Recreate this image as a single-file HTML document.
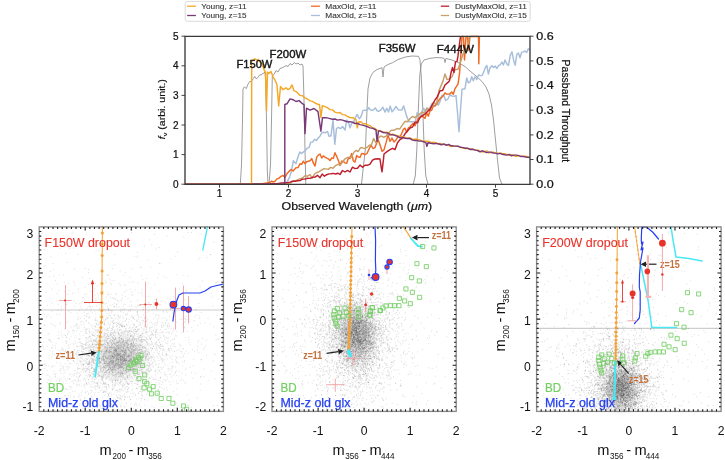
<!DOCTYPE html>
<html><head><meta charset="utf-8"><style>
html,body{margin:0;padding:0;background:#fff;width:725px;height:460px;overflow:hidden}
svg{display:block;font-family:"Liberation Sans",sans-serif;will-change:transform}
</style></head><body>
<svg width="725" height="460" viewBox="0 0 725 460">
<rect width="725" height="460" fill="#fff"/>
<rect x="185.2" y="1.4" width="345" height="19.9" rx="2" fill="#fff" stroke="#d6d6d6" stroke-width="0.9"/>
<path d="M187.1 6.2H195.9" stroke="#f5a828" stroke-width="1.3"/>
<text x="201.2" y="8.8" font-size="7.6" fill="#333" stroke="#333" stroke-width="0.1" textLength="45.4" lengthAdjust="spacingAndGlyphs">Young, z=11</text>
<path d="M187.1 15.5H195.9" stroke="#7a3a78" stroke-width="1.3"/>
<text x="201.2" y="18.1" font-size="7.6" fill="#333" stroke="#333" stroke-width="0.1" textLength="45.4" lengthAdjust="spacingAndGlyphs">Young, z=15</text>
<path d="M311.0 6.2H319.9" stroke="#ee6a25" stroke-width="1.3"/>
<text x="325.3" y="8.8" font-size="7.6" fill="#333" stroke="#333" stroke-width="0.1" textLength="51.2" lengthAdjust="spacingAndGlyphs">MaxOld, z=11</text>
<path d="M311.0 15.5H319.9" stroke="#a7bedb" stroke-width="1.3"/>
<text x="325.3" y="18.1" font-size="7.6" fill="#333" stroke="#333" stroke-width="0.1" textLength="51.2" lengthAdjust="spacingAndGlyphs">MaxOld, z=15</text>
<path d="M440.8 6.2H449.2" stroke="#bd1f2d" stroke-width="1.3"/>
<text x="455.0" y="8.8" font-size="7.6" fill="#333" stroke="#333" stroke-width="0.1" textLength="71.8" lengthAdjust="spacingAndGlyphs">DustyMaxOld, z=11</text>
<path d="M440.8 15.5H449.2" stroke="#c8a068" stroke-width="1.3"/>
<text x="455.0" y="18.1" font-size="7.6" fill="#333" stroke="#333" stroke-width="0.1" textLength="71.8" lengthAdjust="spacingAndGlyphs">DustyMaxOld, z=15</text>
<path d="M240.3 184.2 241.5 165 242.5 120 243 89 244.3 86.9 246.4 88.6 247.7 84.7 249.9 81.2 251.2 82.1 252.1 80.3 253.4 78.6 254.7 76.4 256.4 79 258.2 76.9 259.9 74.7 261.2 75.1 262.5 73.4 264.3 73 264.9 71.8 265.5 78 266.5 120 267.3 170 268 184.2" stroke="#8c8c8c" stroke-width="0.85" fill="none"/>
<path d="M269 184.2 270.5 165 271.5 120 272.3 76 274 74.5 276 70.5 278 72 280 68.5 283 67.5 286 65.5 288 66.5 290 63.5 292 65 294.3 62.6 296 64 298 63 300 65 302 64 303 66 304 100 305 150 305.8 184.2" stroke="#8c8c8c" stroke-width="0.85" fill="none"/>
<path d="M361.5 184.2 363 170 365.5 147.6 367 110 368 89 370 78 372.8 72.6 377 69.5 382 67.7 383 77 384 67 388 64.5 392.4 62.8 398 59.5 405.4 57 412 56 418.5 56.3 420 60 421.2 75 422.8 110 424.2 150 425.8 176 428 184.2" stroke="#8c8c8c" stroke-width="0.85" fill="none"/>
<path d="M413.2 184.2 415.3 176 416.8 150 418.3 110 419.8 75 421.3 64 424 60 430 58.3 436 57.6 442 57.8 444.2 58.5 445 62.5 446 58.5 452 60 458 62.5 465 66.5 470 71 476 76 482 81.5 486 87 489 94 491.5 105 493.5 120 495.5 140 497.5 160 499.5 178 502 184.2" stroke="#8c8c8c" stroke-width="0.85" fill="none"/>
<path d="M185 184.3 186.6 184.3 188.2 184.3 189.8 184.3 191.4 184.3 193 184.3 194.6 184.3 196.2 184.3 197.8 184.3 199.4 184.3 201 184.3 202.6 184.3 204.2 184.3 205.8 184.3 207.4 184.3 209 184.3 210.7 184.3 212.3 184.3 213.9 184.3 215.5 184.3 217.1 184.3 218.7 184.3 220.3 184.3 221.9 184.3 223.5 184.3 225.1 184.3 226.7 184.3 228.3 184.3 229.9 184.3 231.5 184.3 233.1 184.3 234.7 184.3 236.3 184.3 237.9 184.3 239.5 184.3 241.1 184.3 242.7 184.3 244.3 184.3 245.9 184.3 247.5 184.3 249.1 184.3 250.7 184.3 252.3 184.3 253.9 184.3 255.5 184.3 257.1 184.3 258.7 184.3 260.3 184.3 262 184.3 263.6 184.3 265.2 184.3 266.8 184.3 268.4 184.3 270 184.3 271.6 184.3 273.2 184.3 274.8 184.3 276.4 184.3 278 184.3 279.6 184.3 281.2 184.3 282.8 184.3 284.4 184.3 286 184.3 287.5 181.2 289.5 177.4 291.5 171 293.3 160.8 296 163.6 298 156.7 299.8 152 301.6 153.4 303.5 151.9 305.3 150.9 307.1 148.1 309 147.6 310.9 142.1 312.7 142 314.5 139.3 316.4 140.5 318.2 138 320 136.2 321.9 132.7 323.8 132.3 325.6 132.7 327.5 131.5 329.2 136.4 331 135.9 333 120.1 334.8 144.3 336.5 128.5 338.4 127.3 340.4 128.6 342.7 126.6 345 130.1 346.7 120.1 348.3 121.6 350 127.9 351.7 123.2 353.3 122.6 355 118.5 357.1 114.4 359.3 118.8 361.1 116.5 363 110.4 365 110.3 367 110.4 368.7 107.7 370.3 109.9 372 110.3 373.6 109.8 375.3 107.9 377 110.7 378.6 111.3 380.7 110.1 382.9 107.2 385 112.1 386.8 108.3 388.5 112 390.2 106.1 392 111.7 394 109.5 396 106.4 398 109.7 399.9 110.1 401.8 110.1 403.7 105.9 406.6 116.1 409 121.8 411.4 121.8 413.3 121.9 415.3 121.5 417.2 112.6 418.8 116.3 420.4 117.4 422 111.1 423.6 108.2 425.3 111.3 426.9 108.4 428.6 110.4 430.3 106.9 432 103.7 435 106.3 436.7 103.4 438.3 105.1 440 101.6 441.9 95.2 443.8 95.5 445.7 100.5 447.8 99.2 449.9 94.8 452 96 454 96.3 456 95.4 457.5 112.5 459 131.7 460.5 109.7 462 89.2 465 88.8 466.7 77.9 468.3 82.8 470 82.1 471.7 76.8 473.3 80.8 475 76.8 476.8 79.5 478.5 75 480.2 75.6 482 75.5 483.6 72.4 485.2 68 486.8 65.4 488.4 74.1 490 68 491.8 65.7 493.5 67.6 495.2 66 497 68.5 498.6 65.5 500.2 64.8 501.8 62.1 503.4 65 505 60 506.8 63.9 508.5 65.4 510.2 55.6 512 51.8 513.6 60.2 515.2 65.2 516.8 54.3 518.4 53 520 57.7 521.7 52.2 523.3 51.9 525 51 526.7 52.5 528.3 48.8 530 49.8" stroke="#a7bedb" stroke-width="1.45" fill="none" stroke-linejoin="round"/>
<path d="M185 184.3 186.6 184.3 188.2 184.3 189.9 184.3 191.5 184.3 193.1 184.3 194.8 184.3 196.4 184.3 198 184.3 199.6 184.3 201.2 184.3 202.9 184.3 204.5 184.3 206.1 184.3 207.8 184.3 209.4 184.3 211 184.3 212.6 184.3 214.2 184.3 215.9 184.3 217.5 184.3 219.1 184.3 220.8 184.3 222.4 184.3 224 184.3 225.6 184.3 227.2 184.3 228.9 184.3 230.5 184.3 232.1 184.3 233.8 184.3 235.4 184.3 237 184.3 238.6 184.3 240.2 184.3 241.9 184.3 243.5 184.3 245.1 184.3 246.8 184.3 248.4 184.3 250 184.3 251.7 184.3 253.4 184.3 255.1 183.9 256.9 183.9 258.6 183.8 260.3 183.7 262 183.6 263.6 183.4 265.2 183.2 266.8 183 268.4 182.6 270 182.4 271.7 181.1 273.3 182 275 181.3 277 178.9 279 178.3 281 176.3 283 175.5 285 177.3 287 173.7 289 171.4 291 169.5 293 170.9 296 167.8 298 167.6 300 163.8 301.7 164.3 303.3 161.2 305 163.7 306.7 161.7 308.3 161.3 310 160.8 311.7 158.6 313.3 162.9 315 166.1 316.7 157.1 318.3 155.2 320 154 321.7 158 323.3 155.9 325 157.2 326.7 158.1 328.3 158.8 330 160.6 331.7 158 333.3 158.4 335 152.7 336.7 156.5 338.3 160.2 340 165.6 341.7 161.1 343.3 161.2 345 162.9 346.7 163.3 348.3 158.2 350 158.6 351.7 153.6 353.3 160.9 355 162.1 356.7 155.5 358.3 157 360 157.4 361.7 153.5 363.3 153.7 365 154.7 367 153.5 369 149.2 371 145 373 148.5 375 147.6 378 139.6 380 144.8 382 151.3 384 149.9 386 142.9 388 135.1 390 141.4 392 138.1 394 142 396 140 398 136.3 400 136.6 401.7 133.6 403.3 129.4 405 128.2 406.7 132.2 408.3 128 410 126.8 411.7 124.8 413.3 123.3 415 125.8 416.7 121.8 418.3 118.5 420 117.7 421.7 115.5 423.3 117 425 118.3 426.7 113 428.3 116.2 430 110.7 431.7 110.3 433.3 106.3 435 105.6 436.7 104.1 438.3 101.1 440 98.6 441.7 97.3 443.3 95.7 445 92.9 446.7 94.1 448.3 94.1 450 93.8 451.7 92 453.3 94.2 455 88.6 458 84.1 459.5 73.7 461 52.9 462 36.4 463.5 36.4 464.5 59.9 466 36.4 467.5 36.4 468.5 50.1 470 36.4 471.7 36.4 473.4 36.4 475.1 36.4 476.8 36.4 478.5 36.4 478.8 63.7 479.4 36.4" stroke="#ee6a25" stroke-width="1.45" fill="none" stroke-linejoin="round"/>
<path d="M185 184.3 187.2 184.3 189.4 184.3 191.6 184.3 193.8 184.3 196 184.3 198.2 184.3 200.4 184.3 202.6 184.3 204.8 184.3 207 184.3 209.2 184.3 211.5 184.3 213.7 184.3 215.9 184.3 218.1 184.3 220.3 184.3 222.5 184.3 224.7 184.3 226.9 184.3 229.1 184.3 231.3 184.3 233.5 184.3 235.7 184.3 237.9 184.3 240.1 184.3 242.3 184.3 244.5 184.3 246.7 184.3 248.9 184.3 251.1 184.3 253.3 184.3 255.5 184.3 257.8 184.3 260 184.3 262.2 184.3 264.4 184.3 266.6 184.3 268.8 184.3 271 184.3 273.2 184.3 275.4 184.3 277.6 184.3 279.8 184.3 282 184.3 284.3 183.9 286.7 183.5 289 183.2 291.2 182.8 293.4 180.8 295.6 180.8 297.8 179.6 300 178.7 302.5 178 305 175.7 307.5 176.2 310 174.7 312.2 178.1 314.5 174.1 316.8 172.5 319 171.7 321.2 170.3 323.5 168.8 325.9 168.9 328.3 169.4 330.6 167.4 333 168.3 335.4 165.7 337.8 164.4 340.2 165.1 342.6 162 345 158.8 347.2 157.6 349.4 156.9 351.6 157.3 353.8 152.2 356 150.5 358.2 151.5 360.4 147.8 362.6 147.8 364.8 148.7 367 147.4 369.2 145.3 371.4 144.9 373.6 138.4 375.8 142.8 378 138.6 380.7 135.9 383.4 137.2 386 136.2 388.7 132.8 391.4 130.3 394.1 130.3 396.9 128.5 399.6 129.1 402.3 125.1 405 121.3 407.5 121.7 410 118.7 412.3 116.4 414.7 117.5 417 116.3 419.5 114.1 422 112.3 424.5 112.9 427 107.9 429.5 109.8 432 106.7 434.2 102.5 436.5 104 439 90.6 443 81.1 445 73.9 447 79.6 449 79.1 452 76.7 455 69.8 458 69.3 461 60.5 463 54.1 465 50.4 466 53.2 468 45.5 469 36.4" stroke="#c8a068" stroke-width="1.45" fill="none" stroke-linejoin="round"/>
<path d="M185 184.3 187.2 184.3 189.4 184.3 191.7 184.3 193.9 184.3 196.1 184.3 198.3 184.3 200.6 184.3 202.8 184.3 205 184.3 207.2 184.3 209.4 184.3 211.7 184.3 213.9 184.3 216.1 184.3 218.3 184.3 220.6 184.3 222.8 184.3 225 184.3 227.2 184.3 229.4 184.3 231.7 184.3 233.9 184.3 236.1 184.3 238.3 184.3 240.6 184.3 242.8 184.3 245 184.3 247.2 184.3 249.4 184.3 251.7 184.3 253.9 184.3 256.1 184.3 258.3 184.3 260.6 184.3 262.8 184.3 265 184.3 267.4 184.3 269.8 184 272.2 183.8 274.6 183.7 277 183.6 279.6 183.3 282.2 182.9 284.8 182.6 287.4 182.6 290 182.1 292.5 181.2 295 181.2 297.5 180.7 300 180.6 302.5 179.1 305 179.1 307.5 178.3 310 178.4 312.5 177.3 315 177.1 317.5 175.3 320 177.7 322.2 174.1 324.4 176.2 326.7 174.7 328.9 173.9 331.1 173.7 333.3 173.4 335.6 174 337.8 173.2 340 174.5 342.5 170.5 345 172 347.5 170.4 350 172 352.5 167.2 355 168.6 357.5 168.3 360 165.1 362.5 167.3 365 165.2 367.5 165.3 370 164.2 372.5 160.2 375 159 377.5 158.7 380 159 381 166.1 382 171.8 383.5 159.2 384 154 387 151.7 390 149.7 392.5 148.3 395 149.7 397.5 142.8 400 139.6 402.5 138.1 405 133.8 407.5 131 410 128 412.5 127 415 122.3 417.5 122.8 420 117.5 422.5 115.7 425 114.1 427.5 111.4 430 109.4 432.5 104.2 435 100 437.5 96.4 440 90.7 442.5 90.6 445 85 448 82.4 449.5 80.7 451 72.8 452.5 67.5 454 72.4 455.5 61.6 457 61.4 458 55.9 459 47.7 460.5 36.4" stroke="#bd1f2d" stroke-width="1.45" fill="none" stroke-linejoin="round"/>
<path d="M185 184.3 187.2 184.3 189.4 184.3 191.7 184.3 193.9 184.3 196.1 184.3 198.3 184.3 200.5 184.3 202.7 184.3 204.9 184.3 207.2 184.3 209.4 184.3 211.6 184.3 213.8 184.3 216 184.3 218.2 184.3 220.5 184.3 222.7 184.3 224.9 184.3 227.1 184.3 229.3 184.3 231.6 184.3 233.8 184.3 236 184.3 238.2 184.3 240.4 184.3 242.6 184.3 244.8 184.3 247.1 184.3 249.3 184.3 251.5 184.3 251.7 61.6 253 60.3 255 58.9 257 60.2 258 59.6 260 62.1 262 63.7 264 69.6 265.5 72.4 266.5 110.8 267.5 72.1 269 73.4 271 71.5 273 76.8 275 80.1 277 85.1 278.7 106 280.5 86.4 283 89.7 286 87.8 288 89.6 290 88.3 292 85 294 90.7 297 92.2 300 95.4 302.5 95.7 305 97.9 307.5 99 310 100.9 312.5 101.4 315 103 317.2 104 319.5 104.8 320.9 117.5 322.3 105.8 324.9 106.6 327.4 107.7 330 109.6 332.5 109.9 335 112.1 337.5 112.9 340 112.5 342.5 114.6 345 114.9 347.5 116.5 350 117.5 353 117.7 356 119.7 357.3 127.9 358.6 122 360.9 121.8 363.2 123.7 365.4 123.7 367.7 124.9 370 125.6 372.5 127.8 375 128.5 377.5 130.6 380 130.8 382.2 131.6 384.4 132.3 386.7 132.2 388.9 133.1 391.1 134.5 393.3 134.3 395.6 135.3 397.8 135.8 400 136.8 402.2 136.8 404.4 137.3 406.7 138 408.9 138.3 411.1 138.3 413.3 139.6 415.6 139 417.8 139.5 420 139.9 422.2 141.4 424.4 141.1 426.7 141.2 428.9 141.5 431.1 142.7 433.3 142.3 435.6 142.6 437.8 143.9 440 143.4 442.2 144.2 444.4 144.8 446.7 144.9 448.9 145.5 451.1 146.6 453.3 146.1 455.6 146.1 457.8 146.2 460 147.4 462.2 147.7 464.4 148.4 466.7 148.4 468.9 148.7 471.1 149 473.3 149.4 475.6 150.1 477.8 150.2 480 150.9 482.2 152.1 484.4 151.6 486.7 150.9 488.9 152.9 491.1 152.5 493.3 152.1 495.6 153.4 497.8 153.2 500 153.2 502.3 153.5 504.6 153.6 506.9 154.4 509.2 155.2 511.5 154.8 513.8 155.5 516.2 156.5 518.5 155.3 520.8 156.3 523.1 156.3 525.4 156.3 527.7 156.6 530 157.4" stroke="#f5a828" stroke-width="1.45" fill="none" stroke-linejoin="round"/>
<path d="M185 184.3 187.2 184.3 189.4 184.3 191.7 184.3 193.9 184.3 196.1 184.3 198.3 184.3 200.5 184.3 202.7 184.3 205 184.3 207.2 184.3 209.4 184.3 211.6 184.3 213.8 184.3 216 184.3 218.3 184.3 220.5 184.3 222.7 184.3 224.9 184.3 227.1 184.3 229.4 184.3 231.6 184.3 233.8 184.3 236 184.3 238.2 184.3 240.4 184.3 242.7 184.3 244.9 184.3 247.1 184.3 249.3 184.3 251.5 184.3 253.8 184.3 256 184.3 258.2 184.3 260.4 184.3 262.6 184.3 264.8 184.3 267.1 184.3 269.3 184.3 271.5 184.3 273.7 184.3 275.9 184.3 278.1 184.3 280.4 184.3 282.6 184.3 284.8 184.3 284.8 104.5 287 103.8 290 98.9 293 99.7 296 101.5 299 100.6 302 103.3 304 104.7 305 133.6 306.5 108.2 310 110.1 314 108.5 318 111.6 320.9 131.2 322.5 117.7 326 117.6 330 118.6 332.5 119.3 335 119 337.5 120.1 340 119.6 342.5 120.1 345 121 347.5 121.9 350 121.8 352.5 122.1 355 123.5 357.5 123.3 360 124.6 362.5 125.1 365 125.9 367.5 126.7 370 127.9 373 128.4 376 130 377 141.3 378.5 130.9 380.8 131.3 383.1 132.5 385.4 132.8 387.7 133 390 134.9 392.5 134.6 395 135.4 397.5 136.4 400 137.8 402.4 137.4 404.9 138.3 407.3 138.5 409.7 138.3 412.1 139.9 414.6 140.5 417 140.4 419.2 141.1 421.5 141.1 423.8 141.7 426 142.8 426.9 146.3 428 142.8 430.8 143.3 433.7 143.7 436.5 143.4 438.9 144 441.4 144.8 443.8 143.9 446.2 145.2 448.7 144.4 451.1 145.8 453.6 146 456 146.1 458.4 146.3 460.8 147.3 463.2 147.6 465.6 148.3 468 148.3 470.4 149.5 472.8 149.3 475.2 150.1 477.6 150.5 480 151.8 482.2 150.8 484.4 151.6 486.7 152.6 488.9 152.1 491.1 152.1 493.3 153.1 495.6 153.1 497.8 153.9 500 153.4 502.3 154.2 504.6 154.7 506.9 155.1 509.2 154.4 511.5 155.8 513.8 155.1 516.2 155.1 518.5 155.6 520.8 156.4 523.1 156.4 525.4 157 527.7 157.3 530 157.5" stroke="#7a3a78" stroke-width="1.45" fill="none" stroke-linejoin="round"/>
<text x="236.4" y="68.1" font-size="10.3" fill="#151515" stroke="#151515" stroke-width="0.38" textLength="36.0" lengthAdjust="spacingAndGlyphs">F150W</text>
<text x="269.6" y="58.4" font-size="10.3" fill="#151515" stroke="#151515" stroke-width="0.38" textLength="36.6" lengthAdjust="spacingAndGlyphs">F200W</text>
<text x="378.8" y="51.5" font-size="10.3" fill="#151515" stroke="#151515" stroke-width="0.38" textLength="36.7" lengthAdjust="spacingAndGlyphs">F356W</text>
<text x="436.8" y="53.0" font-size="10.3" fill="#151515" stroke="#151515" stroke-width="0.38" textLength="37.2" lengthAdjust="spacingAndGlyphs">F444W</text>
<path d="M185 36.3V184.3H530V36.3Z" fill="none" stroke="#3a3a3a" stroke-width="1.35"/>
<path d="M181.5 184.2H185" stroke="#333" stroke-width="0.9"/>
<text x="178.6" y="187.8" font-size="10" fill="#111" stroke="#111" stroke-width="0.22" text-anchor="end">0</text>
<path d="M181.5 154.6H185" stroke="#333" stroke-width="0.9"/>
<text x="178.6" y="158.2" font-size="10" fill="#111" stroke="#111" stroke-width="0.22" text-anchor="end">1</text>
<path d="M181.5 125H185" stroke="#333" stroke-width="0.9"/>
<text x="178.6" y="128.6" font-size="10" fill="#111" stroke="#111" stroke-width="0.22" text-anchor="end">2</text>
<path d="M181.5 95.4H185" stroke="#333" stroke-width="0.9"/>
<text x="178.6" y="99" font-size="10" fill="#111" stroke="#111" stroke-width="0.22" text-anchor="end">3</text>
<path d="M181.5 65.8H185" stroke="#333" stroke-width="0.9"/>
<text x="178.6" y="69.4" font-size="10" fill="#111" stroke="#111" stroke-width="0.22" text-anchor="end">4</text>
<path d="M181.5 36.2H185" stroke="#333" stroke-width="0.9"/>
<text x="178.6" y="39.8" font-size="10" fill="#111" stroke="#111" stroke-width="0.22" text-anchor="end">5</text>
<path d="M530 184.2H533.5" stroke="#333" stroke-width="0.9"/>
<text x="536.3" y="187.8" font-size="10" fill="#111" stroke="#111" stroke-width="0.22" textLength="17.4" lengthAdjust="spacingAndGlyphs">0.0</text>
<path d="M530 159.5H533.5" stroke="#333" stroke-width="0.9"/>
<text x="536.3" y="163.1" font-size="10" fill="#111" stroke="#111" stroke-width="0.22" textLength="17.4" lengthAdjust="spacingAndGlyphs">0.1</text>
<path d="M530 134.9H533.5" stroke="#333" stroke-width="0.9"/>
<text x="536.3" y="138.5" font-size="10" fill="#111" stroke="#111" stroke-width="0.22" textLength="17.4" lengthAdjust="spacingAndGlyphs">0.2</text>
<path d="M530 110.2H533.5" stroke="#333" stroke-width="0.9"/>
<text x="536.3" y="113.8" font-size="10" fill="#111" stroke="#111" stroke-width="0.22" textLength="17.4" lengthAdjust="spacingAndGlyphs">0.3</text>
<path d="M530 85.5H533.5" stroke="#333" stroke-width="0.9"/>
<text x="536.3" y="89.1" font-size="10" fill="#111" stroke="#111" stroke-width="0.22" textLength="17.4" lengthAdjust="spacingAndGlyphs">0.4</text>
<path d="M530 60.9H533.5" stroke="#333" stroke-width="0.9"/>
<text x="536.3" y="64.5" font-size="10" fill="#111" stroke="#111" stroke-width="0.22" textLength="17.4" lengthAdjust="spacingAndGlyphs">0.5</text>
<path d="M530 36.2H533.5" stroke="#333" stroke-width="0.9"/>
<text x="536.3" y="39.8" font-size="10" fill="#111" stroke="#111" stroke-width="0.22" textLength="17.4" lengthAdjust="spacingAndGlyphs">0.6</text>
<path d="M219.5 184.2V187.7" stroke="#333" stroke-width="0.9"/>
<text x="219.5" y="196.8" font-size="10" fill="#111" stroke="#111" stroke-width="0.22" text-anchor="middle">1</text>
<path d="M288.5 184.2V187.7" stroke="#333" stroke-width="0.9"/>
<text x="288.5" y="196.8" font-size="10" fill="#111" stroke="#111" stroke-width="0.22" text-anchor="middle">2</text>
<path d="M357.5 184.2V187.7" stroke="#333" stroke-width="0.9"/>
<text x="357.5" y="196.8" font-size="10" fill="#111" stroke="#111" stroke-width="0.22" text-anchor="middle">3</text>
<path d="M426.5 184.2V187.7" stroke="#333" stroke-width="0.9"/>
<text x="426.5" y="196.8" font-size="10" fill="#111" stroke="#111" stroke-width="0.22" text-anchor="middle">4</text>
<path d="M495.5 184.2V187.7" stroke="#333" stroke-width="0.9"/>
<text x="495.5" y="196.8" font-size="10" fill="#111" stroke="#111" stroke-width="0.22" text-anchor="middle">5</text>
<text x="281.6" y="209.8" font-size="10.4" fill="#111" stroke="#111" stroke-width="0.2" textLength="150.6" lengthAdjust="spacingAndGlyphs">Observed Wavelength (<tspan font-style="italic">μm</tspan>)</text>
<g transform="translate(165.2 139.3) rotate(-90)"><text x="0" y="0" font-size="8.6" fill="#111" stroke="#111" stroke-width="0.15" textLength="60.2" lengthAdjust="spacingAndGlyphs"><tspan font-style="italic">f</tspan><tspan font-size="6" dy="1.5">ν</tspan><tspan dy="-1.5"> (arbi. unit.)</tspan></text></g>
<g transform="translate(562.4 59.6) rotate(90)"><text x="0" y="0" font-size="10" fill="#111" stroke="#111" stroke-width="0.2" textLength="102.6" lengthAdjust="spacingAndGlyphs">Passband Throughput</text></g>
<path d="M39.2 310H223.4" stroke="#cdcdcd" stroke-width="1.15"/>
<defs><radialGradient id="g1"><stop offset="0" stop-color="#000" stop-opacity="0.17"/><stop offset="0.35" stop-color="#000" stop-opacity="0.119"/><stop offset="0.7" stop-color="#000" stop-opacity="0.037"/><stop offset="1" stop-color="#000" stop-opacity="0"/></radialGradient></defs>
<ellipse cx="120" cy="357" rx="36" ry="29" fill="url(#g1)" transform="rotate(0 120 357)"/>
<path d="M114.9 349h0.9m-1.3 20.2h0.9m25.4-29.5h0.9m-23 15.7h0.9m-0.5-5.6h0.9m-7.4 18.3h0.9m9.5 0.9h0.9m-10.5-17.8h0.9m-0-1.2h0.9m-4.6 10.2h0.9m10-9.3h0.9m-16.1 9.3h0.9m18-6.8h0.9m-10.5 9.7h0.9m0.7 0.2h0.9m-23.3-2.8h0.9m29.3-11.8h0.9m-9.4 21.9h0.9m2.9-21h0.9m11.1 12.1h0.9m-19.6 3.7h0.9m14.9-7.2h0.9m-10.1 2.2h0.9m-9.8 2.3h0.9m1-2h0.9m5 4.2h0.9m17.3-14.3h0.9m-13.2-0.1h0.9m2 20.9h0.9m4.7-6.8h0.9m5.6-14.8h0.9m-20.4 14.3h0.9m-6.8 3.6h0.9m8.5-15.2h0.9m-14.4 6.2h0.9m21.8-15.3h0.9m-1.1 16.6h0.9m-12.9 5h0.9m4.5-6.8h0.9m-14.4-1.3h0.9m0.2-3.8h0.9m9.4 0.2h0.9m11 5.8h0.9m-10.6-2.4h0.9m-11 7h0.9m-4.4-4.6h0.9m12-3.1h0.9m10.6-16.9h0.9m-4.1 5.4h0.9m-20.9 6.1h0.9m13.6 18.7h0.9m-2.5-5.3h0.9m3.6-10.8h0.9m-1.1-1.3h0.9m-25.3-7.9h0.9m8.7 17.6h0.9m7.1-19.2h0.9m-6.5 10.8h0.9m-1.5 5.7h0.9m-17.6 1.6h0.9m31-3.9h0.9m-12.7 15h0.9m-10.5-7.7h0.9m-12.1-12.9h0.9m24.5-3.8h0.9m-5-3.5h0.9m-10.1 14.1h0.9m21.9-13.9h0.9m-17.3 23h0.9m-15.7 24.9h0.9m8.2-42h0.9m32.1 4.4h0.9m-18.1-2.6h0.9m-2.5 3.2h0.9m-19.9 7.9h0.9m10.5-15.1h0.9m18.3 0.7h0.9m-14.5 26.4h0.9m-4.9-6.9h0.9m1.2-22.6h0.9m5.7 3h0.9m-37.5 8.3h0.9m14.1-4.6h0.9m1.1 12.6h0.9m10.8-7.4h0.9m6.2 3.2h0.9m-7.3-15.4h0.9m12.1 10.9h0.9m-34.5 8.5h0.9m19.4-3.9h0.9m-17.8 3.6h0.9m21.4 3.3h0.9m-9.7 6.6h0.9m-4.7-27h0.9m24.3 22.8h0.9m-41.7-8.2h0.9m27.9 9.3h0.9m1.8-24.7h0.9m-20.2 10.1h0.9m7.3 0.2h0.9m-1.1 16h0.9m0.1-8h0.9m22.6-13h0.9m-18-7.6h0.9m1.7 8.4h0.9m-24.4-4.1h0.9m11.6 5.4h0.9m6.9 13.1h0.9m-10.3 5.8h0.9m2.3-21.5h0.9m2.2 8.7h0.9m-8.8-11.4h0.9m3.3 12.2h0.9m-25.4 23h0.9m33.4-30.7h0.9m5.6-4.7h0.9m-17.5 22.5h0.9m6.9-20.9h0.9m16.9 0.4h0.9m-14.5-0.2h0.9m-2 4.7h0.9m6.1-15.8h0.9m-46.2 13.4h0.9m44.7 20.1h0.9m-55.3-16.7h0.9m41.3 4.7h0.9m-28.8-6.4h0.9m26.6 10.9h0.9m-11.7-9h0.9m3.3-11.2h0.9m3.1 10.2h0.9m-7.2-1.3h0.9m0.1 15.7h0.9m1.2-7.3h0.9m-0.5-3.6h0.9m8.9 0.7h0.9m-3.9 18.8h0.9m-24.6-11.3h0.9m22.9-21.3h0.9m-20.6 19h0.9m2.6-21.3h0.9m-0.8 22.3h0.9m20.8-14.9h0.9m-15.8 9.1h0.9m5.3-3.2h0.9m-0.8 2.6h0.9m-27.7-20.8h0.9m25.8 21.1h0.9m-8.5-3.7h0.9m24.9 0.6h0.9m-46.3-7.4h0.9m12.2 9h0.9m8.2-9.7h0.9m8 21.6h0.9m-10.6 6.9h0.9m-11.1-10.6h0.9m-7.5 1.7h0.9m8-9.7h0.9m7.1-6.2h0.9m-12.9-1.8h0.9m3.9 8.8h0.9m-3.1 10.2h0.9m-8.6 1.7h0.9m37-17.7h0.9m-6.7-3.2h0.9m-29.6 19.1h0.9m21-22.4h0.9m-9.9 0.3h0.9m11 12.5h0.9m-21.6 8.3h0.9m38.9-13.3h0.9m-28.4 8.2h0.9m-25.1-19h0.9m31.5 18.7h0.9m12.9 5.4h0.9m-25.4-0.1h0.9m10.1-3.1h0.9m-21.6-0.7h0.9m9-2.1h0.9m11-7.3h0.9m-8 7.2h0.9m-17.9-10.3h0.9m18.5 20.9h0.9m0.7-23.9h0.9m-7.9 18.8h0.9m2.5 4h0.9m-12-2.1h0.9m6.3 13.3h0.9m-2.6-43.6h0.9m-18.4 20.1h0.9m21 12.4h0.9m13-29.5h0.9m0.2 4.3h0.9m-21.7 18.7h0.9m-3.7-19h0.9m33.1 6.3h0.9m-21.5 9.4h0.9m-15.5 0.4h0.9m-1.4 1.1h0.9m-0.4-9.6h0.9m9.6 6.4h0.9m-14.1-2.6h0.9m2.9 0.3h0.9m9.3 8.6h0.9m16-25.9h0.9m-9.5-8.4h0.9m-2.8 31.8h0.9m-6.9-4.1h0.9m-14.3 14.9h0.9m12.8-3.2h0.9m-8.1-20.4h0.9m5.6-8.2h0.9m5.3 9.8h0.9m-15.8 24.9h0.9m21.6-19.2h0.9m-4.7 1.8h0.9m-17.2-19.3h0.9m-10.4 14.9h0.9m15.2-8.8h0.9m4.1 13.9h0.9m-6.6 0.5h0.9m-4.9 11.1h0.9m0.5-28.8h0.9m-14.6 15.1h0.9m0.2 7h0.9m13.7-4.1h0.9m-21.2 22.8h0.9m16.6-24h0.9m-15.2-6.5h0.9m9.8 5.6h0.9m-2.6-7.8h0.9m18.4-17.5h0.9m-2.5 16.8h0.9m-4.7 25.3h0.9m-24.4-23.5h0.9m9.3 3.1h0.9m8 3.7h0.9m-12.8-2.3h0.9m-8.1-6.3h0.9m20.6 32.5h0.9m-6.2-10.5h0.9m-1.5-8.5h0.9m-0.9-7.6h0.9m9 3.6h0.9m0.5 2h0.9m-24.4 2.9h0.9m15.5-3.2h0.9m0.5 4.5h0.9m13.9-16.7h0.9m-1.8-11.5h0.9m-34.5 32.8h0.9m17.7-29.1h0.9m27.8 2.4h0.9m-61.8 25.5h0.9m34.2-8.6h0.9m9-10.3h0.9m-19.9 7h0.9m-8 6.2h0.9m-1.9-10.3h0.9m2 22.8h0.9m14.9-29.6h0.9m-26.3 13.6h0.9m-2.3-2.2h0.9m-0.1 5.6h0.9m16.7 10.1h0.9m0.3-25.8h0.9m3.5 13.1h0.9m12.6-1.6h0.9m-11.7 7.9h0.9m16.2-24h0.9m-9.3 1.8h0.9m-22 11.9h0.9m5-1.3h0.9m-8.3-6.7h0.9m-2.8 17.4h0.9m2.6-1.9h0.9m3.8 13.8h0.9m-2.1-23.5h0.9m5.1-8.9h0.9m5.3-0.1h0.9m-11.8 15.2h0.9m-5-10.2h0.9m-7.2 17h0.9m8.2-16.5h0.9m-7.2 10.1h0.9m22-8.4h0.9m-23.1-2.8h0.9m-1.4-5.5h0.9m-7.8 29.2h0.9m15.7-13.2h0.9m20.7-21h0.9m-25.6 7.2h0.9m-5.2 32.3h0.9m14.4-32.7h0.9m-11.5 27.6h0.9m12.9-17.4h0.9m-41.3-9h0.9m38.5 2.4h0.9m-6.8 14.1h0.9m-16.2-22.4h0.9m-1.2 12.2h0.9m-9.9 1.8h0.9m24.4 5.5h0.9m-17.6 3.3h0.9m28.1-6.5h0.9m-9.3-1h0.9m4.2 0.9h0.9m-12.3-14.7h0.9m-15.1 19.1h0.9m17.6 7.6h0.9m-6.3-13h0.9m-10.9-4.1h0.9m-3 1.4h0.9m14.1 15.5h0.9m-2.7-37.9h0.9m-20 55.2h0.9m11.9-48.8h0.9m2 16h0.9m-4.4-7.5h0.9m-5.9 17.9h0.9m23.9-4.5h0.9m-43.9 5.6h0.9m26.4-10.2h0.9m-15.9-12.3h0.9m7.6 11.5h0.9m-20.1 7.1h0.9m-1.1-9.4h0.9m15.3 10.3h0.9m15.8-5.7h0.9m-26.5 1.4h0.9m33.9-5.7h0.9m-10.9-0.8h0.9m-13.9-10.5h0.9m22.5 16.3h0.9m-21.2-25.8h0.9m-9.4 31h0.9m12.9-19.7h0.9m-15.1 20.5h0.9m-18.9 5.3h0.9m21.1-11.5h0.9m-4 8.8h0.9m-8.8-9.6h0.9m19.1-4.7h0.9m-10.5 22.6h0.9m9.1-22.1h0.9m-9.6 4h0.9m-13.3-17.2h0.9m23.6 8.7h0.9m16.2-6.2h0.9m-15.5 11.4h0.9m-24.9 5.7h0.9m24.8-4.6h0.9m-27.6-2.6h0.9m25.9 8.8h0.9m-8.8 2.9h0.9m-3.2 1.2h0.9m9.3-9.9h0.9m-13.5-9h0.9m19.6 14.1h0.9m-19.3-12.7h0.9m1.4 21.3h0.9m18.4-31.6h0.9m-9.7 32.3h0.9m-16.8-3h0.9m11.3-22.3h0.9m-16.7 16h0.9m-2.7-2h0.9m3.1 2.4h0.9m-5.2 7.7h0.9m19.9-36.3h0.9m-23.4 40.6h0.9m15.5-35.1h0.9m-7.3 30h0.9m-21.9 1.1h0.9m21.2-19.9h0.9m-4 6.8h0.9m16.9 19.3h0.9m-36-0.3h0.9m30.2-10.8h0.9m-20.2 0.7h0.9m-7.6 3.7h0.9m5.1-1.5h0.9m-2.1-24.3h0.9m5.1 10.9h0.9m20.5 17.3h0.9m-37 5.9h0.9m16.4-4.4h0.9m-0.8-11.7h0.9m12.5-1.5h0.9m-18.6-12.7h0.9m3.4 11.3h0.9m-20.2 14.8h0.9m18.5-11.5h0.9m-2.4-4.2h0.9m12.5-2.9h0.9m-7.6-9.5h0.9m-11.7 19.5h0.9m24.9-11.8h0.9m-30.7 19.6h0.9m-3.8-9.7h0.9m18.4-16.3h0.9m-11.3 17.6h0.9m-10.3 9.7h0.9m10.1-26.7h0.9m4.9 13.4h0.9m-4.2-7.2h0.9m-6.1 2h0.9m11.4 5.2h0.9m-3.7 0h0.9m-12.2-11.2h0.9m14.3 22.4h0.9m-1.6-36h0.9m12.5 18.4h0.9m-23.4 4.3h0.9m-21.1-20.9h0.9m19 38h0.9m12.3-23.1h0.9m-6.5-3.8h0.9m-0.3 23.4h0.9m-30.6-10.3h0.9m-0.8 3.7h0.9m0.6-1.6h0.9m19.2-0.5h0.9m-35.5 13.7h0.9m45.1-10.5h0.9m-8.5-12.9h0.9m-14.6 8.8h0.9m6.5-2h0.9m-0.6 4.1h0.9m26.4-4.5h0.9m-17.3-17.3h0.9m-8 17.3h0.9m8.4 5.3h0.9m3.7-13.8h0.9m-8.9 5.7h0.9m-13.4-6.6h0.9m-3.6 11.6h0.9m25-27.2h0.9m-18.8 22.3h0.9m0.6 1.5h0.9m-2.3 10.3h0.9m9.6-24.2h0.9m2.5 14h0.9m-30.2 0.1h0.9m40.1-23.4h0.9m-17.8 16h0.9m-4.4 6.9h0.9m0.4 10h0.9m-1.3-19.4h0.9m-16.1-2.9h0.9m4.2 15.3h0.9m9 12.6h0.9m5.8 3.1h0.9m-13.7-30.7h0.9m-3.8 2.8h0.9m12.3 11.6h0.9m-18.7-5.8h0.9m-1.7 18.3h0.9m-7.7-4.6h0.9m-5.9-23.3h0.9m21.3 4.7h0.9m-5.3 4.1h0.9m8.4 22.6h0.9m-4.4-14.1h0.9m-1-3.4h0.9m-2.8 4.3h0.9m-11.6 14.9h0.9m6.6-12.6h0.9m14.6-10.9h0.9m-23.1 15.4h0.9m7.7-2h0.9m-3.4 3.8h0.9m-2.4-15.4h0.9m-7.7-24.5h0.9m-3.2-6.7h0.9m33.9 32.8h0.9m-30.7-8.8h0.9m19.2 20.6h0.9m-1.5 9h0.9m-11-16h0.9m-20.6 2.2h0.9m29.3-10.2h0.9m-15.3-9h0.9m3.2 5.3h0.9m-12.9 10.9h0.9m13-5h0.9m-5.1 8.5h0.9m9.4-19.5h0.9m-24.1 12.3h0.9m30.8 0.6h0.9m-27.8-13.2h0.9m7.4 20.9h0.9m-2.9-0.5h0.9m19.3-8.2h0.9m-15.8-4.5h0.9m-9.9 22.2h0.9m-12.2 1.2h0.9m19.1-14.9h0.9m-11.7 0.5h0.9m8.3 4.8h0.9m-2.5-15.4h0.9m6.6 11.9h0.9m-6.5-1.5h0.9m-10.5-4.9h0.9m-0.1 7.5h0.9m25.1 4.2h0.9m-17-27.4h0.9m7 4.4h0.9m-12 10.4h0.9m5.9 7.4h0.9m-9.6-0.9h0.9m-1 3.1h0.9m26.3-16.9h0.9m0.9 3.6h0.9m-24 16.2h0.9m-17-4.5h0.9m19.7-2.4h0.9m-1.8-4.7h0.9m-20-0.8h0.9m4.2 11.3h0.9m20.5-2.5h0.9m-22.5-3.3h0.9m14-13.6h0.9m-0.2 14.1h0.9m3.8-2.3h0.9m0.9-7h0.9m-10.3 29.4h0.9m14.2-13.8h0.9m-21.5-5.5h0.9m-0.4 0.2h0.9m4.7 8.8h0.9m1.9-4h0.9m-1.6-11.9h0.9m5.4 3.6h0.9m-31.8 2.5h0.9m15.9-14.8h0.9m-1.7-4.7h0.9m11.6 15.3h0.9m-20.9 31.4h0.9m18.2-18.9h0.9m-14.5-12.6h0.9m-2.6 2.6h0.9m1.7-5.5h0.9m14.1-15.3h0.9m-21.9 18.2h0.9m14.4-1h0.9m-16.8 5.8h0.9m18.7 5.6h0.9m-29-0.2h0.9m8.1 5.3h0.9m-4.3-5.6h0.9m5.1-2.4h0.9m19.5-3.4h0.9m-1.5-15h0.9m-28.2 23.5h0.9m-5.7-10h0.9m30.2-7.6h0.9m-14.9 6.8h0.9m-14.1-1.1h0.9m6.8-8.4h0.9m0.3 9.8h0.9m12.6-5.9h0.9m-7.6 1.4h0.9m-23.5 7.5h0.9m18-25.1h0.9m11.2 15.5h0.9m0.6 16.3h0.9m-7.2 0.7h0.9m-6.6-11.3h0.9m0.8-0.7h0.9m-27.8-16.8h0.9m47.1 5.8h0.9m-21.6 17.8h0.9m-8.9-8.8h0.9m-3.9 15.1h0.9m8.8-3.2h0.9m-5.7-14.2h0.9m-4.2 7.6h0.9m10.6 11h0.9m20.9-35h0.9m-13.2 13.9h0.9m-14.7-8.1h0.9m9.3 3.9h0.9m-34.9 35.8h0.9m27.6-29.3h0.9m4-16.9h0.9m-10.9 11.7h0.9m-2.7-5.6h0.9m11.3 14.6h0.9m-13.5 6h0.9m20-0.9h0.9m-7.6-0.6h0.9m-15-16.8h0.9m6.9 15.7h0.9m-13-2h0.9m-8.9 13.7h0.9m19.4-7.8h0.9m-23.7 18.1h0.9m29.3-37h0.9m-33.1 6.9h0.9m33.5-3h0.9m-20.5 8.9h0.9m10.3-8.7h0.9m-0.7-2.1h0.9m-33.2 20.2h0.9m13.6-11.7h0.9m11.1-5.4h0.9m26.5-13.7h0.9m-12.9-5.8h0.9m0.6 36h0.9m-14.5 3.1h0.9m-7.5-3.5h0.9m13.9-6.4h0.9m-22.8-5.6h0.9m3.9 10.4h0.9m8-19.5h0.9m9.5 9.7h0.9m-20.8-3.9h0.9m6 12.1h0.9m-5.5 11.2h0.9m-14.8-22.4h0.9m-4.6 5.7h0.9m8.1 3.8h0.9m11.6-22.3h0.9m-3.1 3.1h0.9m-6.8 32.8h0.9m16.9-16.9h0.9m-4-8.7h0.9m-17.1 10.2h0.9m-13.3-1.4h0.9m9.2 3.3h0.9m0.2-5.8h0.9m9.8 0.6h0.9m10.2 5.1h0.9m-18.5 3.8h0.9m-9.2 10.8h0.9m18.9-16h0.9m1.2-4h0.9m2.7 15.3h0.9m-16.7-14.7h0.9m-15.4-16.1h0.9m44 18.7h0.9m-26.6 1h0.9m14.7-6.8h0.9m-37.9 18.1h0.9m17.5-17.6h0.9m1.7-17.8h0.9m-1.4 30.3h0.9m17-19.8h0.9m-6.5-1.7h0.9m-17.9-7h0.9m-0.6 28.7h0.9m1.4-33.4h0.9m16.9 33.2h0.9m16.2-20.4h0.9m-16.9 15.7h0.9m-7.8-2.3h0.9m-12 17.4h0.9m4.6-16.2h0.9m16.1 3.9h0.9m-13.6-14.5h0.9m-12-7.4h0.9m2.3 24.9h0.9m-7.9-24.2h0.9m9.7 21h0.9m15.3-22.6h0.9m-30 21.1h0.9m8.4 13.8h0.9m-4.5-11.3h0.9m-29.4-1.6h0.9m41.9-4.4h0.9m-17.7-5.4h0.9m23.3 22.6h0.9m-24.3-24.9h0.9m-6.3 7.7h0.9m14.4 2.9h0.9m10.8-5.1h0.9m-38.2 10.7h0.9m23.6-16.2h0.9m0.1 2.3h0.9m1.6 11.3h0.9m14.9-4.6h0.9m-18-0.5h0.9m10.2 6.8h0.9m-29.7 3.6h0.9m31.2-9.5h0.9m-29.4-17.5h0.9m9 17.5h0.9m-8.2 0h0.9m5.4 11.5h0.9m-22.5-38.6h0.9m23.8 21.2h0.9m16.6-1.9h0.9m-39-2.2h0.9m10.2-1.1h0.9m16.8 19.8h0.9m-4.9-9.3h0.9m18.1 9.4h0.9m-34.9-12.1h0.9m-3.6-11.8h0.9m-25.4 9.8h0.9m33.8-11.2h0.9m14.1 21.9h0.9m-22.5 3.8h0.9m5.2-4.3h0.9m17.3 32.4h0.9m24.2-26.1h0.9m-85.5-26.1h0.9m-14.7 42.2h0.9m27-26.6h0.9m28.4-11.6h0.9m-9.2 36h0.9m-5.9-47.9h0.9m-9.2 40.7h0.9m2.7-4.5h0.9m15.3-39.1h0.9m11.2-17.7h0.9m-22.2 37.7h0.9m3.6-62h0.9m38 77.9h0.9m-19.3-12.1h0.9m22.5 17.7h0.9m-37.9-16.1h0.9m-58.7 38.7h0.9m57.1-57.5h0.9m4.5 22.2h0.9m-10.6-17.1h0.9m-39.9 14.6h0.9m-21.3 8.9h0.9m13.5 2.4h0.9m15.3-26.5h0.9m50.9 13.7h0.9m-49.9 1.9h0.9m51.1-41.2h0.9m0.9-9h0.9m-27.4 67.2h0.9m-12.9-69.2h0.9m13.1 41.4h0.9m-65.3-13.2h0.9m76.9 49.9h0.9m-27.5-18.4h0.9m6.6-6.6h0.9m-22.9-19.3h0.9m-6-10.8h0.9m20.1 28.3h0.9m22.4-9.4h0.9m-5.4-21.3h0.9m-8 0.9h0.9m-18.4 2.9h0.9m-11 1.5h0.9m34.3 4.1h0.9m-45.1 30h0.9m39.3-5.3h0.9m45.2-21.7h0.9m-105.3 26.8h0.9m50.4-2.5h0.9m-33.5-46.8h0.9m75 30h0.9m-20.7 27.8h0.9m-25.7-63.4h0.9m19.9-21.9h0.9m-15.9 57.7h0.9m9.6 24.5h0.9m-48.1-16.1h0.9m88-2.9h0.9m-71.1 9h0.9m-18.4-27.4h0.9m-26.3 10h0.9m28.1-21.9h0.9m56.4 55.3h0.9m-21.1-9.9h0.9m-17.8-16.3h0.9m-30.4 3.7h0.9m77.1-29.2h0.9m-55.3 37.4h0.9m48.4-34.6h0.9m-24.5 12.8h0.9m18.2-9.8h0.9m-11.2 32h0.9m-44.4-9.9h0.9m31.2-1h0.9m4.2-28.4h0.9m4.5 9.6h0.9m8.4 14.9h0.9m-57.2-24.7h0.9m23.3 23.7h0.9m-8.1 6h0.9m39.5-35.5h0.9m-28.7 54.8h0.9m53.6-26.5h0.9m-90.4 9.1h0.9m13.1-14.7h0.9m12.1-22.4h0.9m67.6 39.3h0.9m-42-20.6h0.9m5.1-21.6h0.9m-28.9 20.7h0.9m-9.8 27h0.9m-0.4-4.7h0.9m-38.9-19.3h0.9m50.8 35.3h0.9m-46.1-44.2h0.9m51.9 47.3h0.9m-27.1-18.9h0.9m15.1-15.8h0.9m-13.3 5.5h0.9m9 4.8h0.9m17.4 5.6h0.9m-32.3-20.4h0.9m-3.8 17.7h0.9m-0.6 23.9h0.9m13.5-4.1h0.9m66.2-5.1h0.9m-72.9 5h0.9m31.4-47.6h0.9m-32.2 24.2h0.9m0.5 23h0.9m51.1-13.8h0.9m-51.6-13.8h0.9m40.1 5.9h0.9m23.9-2.4h0.9m-27.1-6.8h0.9m-31.1 30.4h0.9m-7.7-38h0.9m16.3 37.9h0.9m-35.1-27.7h0.9m13.7-28.2h0.9m-17.8-0.4h0.9m-1.8 40.3h0.9m-48.3-15.6h0.9m75.9 44.5h0.9m-45.2-43.1h0.9m27 8.6h0.9m-5.5-13.8h0.9m4.5-20.3h0.9m2.6 42.7h0.9m-0.9-43.8h0.9m-23.2 46.9h0.9m40.1-22.8h0.9m15.7-19.4h0.9m-15.5 51h0.9m-1-12.5h0.9m-5.2-7.3h0.9m-8.3 14.9h0.9m-1.7-51.7h0.9m25.4 16.2h0.9m-0.1 19.8h0.9m-12.2 44.2h0.9m22-51.1h0.9m-19.6-10.7h0.9m-41.6-29.8h0.9m15.5 86h0.9m9.5-37.1h0.9m-40.7-0.2h0.9m30.8-51.8h0.9m-22.5 50.6h0.9m42.5-4.5h0.9m-14.8-10.8h0.9m-35-9.6h0.9m-12.5 1.3h0.9m57.8 57.4h0.9m-54.9-26.7h0.9m49.2-24.4h0.9m-24.3 17.2h0.9m3-2.3h0.9m-4.1-29.3h0.9m17.4 46h0.9m16-27.2h0.9m-13.6 9.2h0.9m-5.8 30.1h0.9m-36.3-51.4h0.9m-2.8 11.8h0.9m36 15h0.9m-0.5 12.2h0.9m-0.4-32.2h0.9m-3.7 1.7h0.9m-40.5 34.1h0.9m51.1-23.3h0.9m-0.9-18h0.9m-16.2-2.5h0.9m14 16h0.9m7.7 19h0.9m0.3 41.5h0.9m-25.1-52.7h0.9m28 28.3h0.9m-69-14.9h0.9m61.8-15.7h0.9m-1 26.6h0.9m-56.5-16.7h0.9m77.4-40.2h0.9m-71.1 62.1h0.9m-24.2-54.3h0.9m31.4 48.1h0.9m44.7-31.7h0.9m-51.7 5h0.9m53.5-12.6h0.9m-39.2 12.3h0.9m3.9-7.3h0.9m-10.4 20.8h0.9m2.1-18.7h0.9m-17.9-28.3h0.9m-2.1 41h0.9m14.6 17h0.9m37-70.7h0.9m-49.1 52.4h0.9m-0.3-9.8h0.9m-7.3 31h0.9m-1.7-25.1h0.9m70.1 6.1h0.9m-86.7 16.4h0.9m53-11.4h0.9m-41.5 27.8h0.9m35.6-45.9h0.9m-41.2 14.9h0.9m48.5-3.3h0.9m-45.8 3h0.9m6.7-9.1h0.9m-36-5.8h0.9m56.1 6.7h0.9m-45.2-22.2h0.9m52.8-23.3h0.9m-31.2 26.2h0.9m17.7 33.6h0.9m3.8-10.2h0.9m-7.7 10.9h0.9m-26.9-23.2h0.9m23.4 31.5h0.9m-26.2-46.2h0.9m-6.2 7.8h0.9m-10.9 46.9h0.9m24-23.9h0.9m14.2 7.7h0.9m1.2-9.8h0.9m-36.2-9.1h0.9m34.3-21.2h0.9m7.8-15.4h0.9m-30.6 83.7h0.9m-34.1-65.5h0.9m30.7 57.7h0.9m23.5-33.4h0.9m39.5-5.5h0.9m-25.4 4h0.9m13.4 4.1h0.9m-73-12.1h0.9m48.3-40h0.9m-16.2 36.7h0.9m36.7 13.7h0.9m-36-24.7h0.9m11.4 42.8h0.9m-35.9-17.7h0.9m-5.9-20.8h0.9m19.9 23.2h0.9m13.3 2.9h0.9m7.4-0.2h0.9m-50.4-61.8h0.9m-17.8 1h0.9m63.6 72.1h0.9m-19.7-48.6h0.9m30.1 46h0.9m20.8-2.6h0.9m-59.1-36.4h0.9m13.4 0.5h0.9m-30.2 43.6h0.9m60.2-37.6h0.9m-15.2 39.2h0.9m12.9 3.5h0.9m-46.9-48.5h0.9m17.2 3.7h0.9m18.4 14.7h0.9m-12.3-45.7h0.9m-20.9 12.4h0.9m12.6 16h0.9m15.2 58.1h0.9m-32.5-30.2h0.9m42-28.6h0.9m-53.6 3.8h0.9m-19.4 0.3h0.9m32.4 5.7h0.9m-12.7 1.5h0.9m12.1 5.7h0.9m14.2 12h0.9m-28.4-6.1h0.9m20.2 14.1h0.9m-10.8-21.2h0.9m-0.7 42.4h0.9m32-26.9h0.9m10.8-14.3h0.9m-88.6 25.1h0.9m30.4-29.2h0.9m4.1 5.5h0.9m19.8-5.4h0.9m-28.2-4.1h0.9m22.2-17.7h0.9m-23.1 45.3h0.9m5.1 7.6h0.9m0.2-12.4h0.9m-8.6-8.5h0.9m30.8 41.9h0.9m-15.8-57.8h0.9m-19.5 23.5h0.9m50.1 7.3h0.9m-44.5-37.8h0.9m-26 42.4h0.9m67.1 9.4h0.9m-58.1-25.3h0.9m-24 8.7h0.9m36.9-25.7h0.9m-11.5 26.4h0.9m8-28.8h0.9m-0.6 15.2h0.9m30.3-36.6h0.9m-54.6-12.1h0.9m17.8 40.9h0.9m-29.2 5.9h0.9m16.1-1.7h0.9m18.2 19.8h0.9m15 2h0.9m9.6-17.2h0.9m-48.4 18.3h0.9m-32.7-23.2h0.9m82.5-23.3h0.9m-46.5 41.7h0.9m6.2-35.9h0.9m-18.4 1.7h0.9m17.4 34.3h0.9m10.4-53.3h0.9m5.2 13.9h0.9m33.3 52.1h0.9m-51-17.4h0.9m11.5-14.4h0.9m-32.8 10h0.9m9.4-5.8h0.9m16.1-29.4h0.9m46.1 13.9h0.9m-57.6-9.2h0.9m7.4 26.6h0.9m49.1-31.6h0.9m-60.7 40.8h0.9m38.1-13.4h0.9m-53.9 24.8h0.9m22.1-31.5h0.9m17 15.9h0.9m-21.3 7.9h0.9m1.6 3.5h0.9m-0.1-0.9h0.9m-27.9-27.7h0.9m78.2 32.3h0.9m-68.3-54.2h0.9m35 44.8h0.9m-17.7-23.5h0.9m-46.4-1.3h0.9m61.1 13h0.9m-30.1 12.4h0.9m-15.6-3h0.9m7.9-11.7h0.9m11.7 5h0.9m-1.9 14.3h0.9m-12.8-12.8h0.9m34.1-7.2h0.9m-20.3 6.9h0.9m-61.4-1.8h0.9m52 22.1h0.9m13 23.8h0.9m2.3-43.4h0.9m6.9-16h0.9m-22.4 30.1h0.9m-0.8 8.8h0.9m2.5-34.6h0.9m-69.3 30.6h0.9m81.9-41.4h0.9m12.1 31.7h0.9m-19.3-13.1h0.9m-5.9 13.9h0.9m11.1-40.9h0.9m-20.9 39.9h0.9m-9.9-27.9h0.9m-9.5 3.3h0.9m28.9-10.8h0.9m-40.5 42.2h0.9m19.7 8.4h0.9m25.2-45.2h0.9m-0.1-10h0.9m-15.7 0.3h0.9m-11.5 29.2h0.9m-2.6 10.1h0.9m-7.9-17.1h0.9m-37.1 20.8h0.9m95.6-47.5h0.9m0.6 21.3h0.9m-44.6-0.7h0.9m-51 32.7h0.9m25.4-37.2h0.9m47.7 9.8h0.9m-39.4-31.7h0.9m16.5 35.9h0.9m-3.7-17h0.9m10.2 11.1h0.9m-13.5 19.3h0.9m-30.3-12.5h0.9m41.7 6.1h0.9m-32.1-11.6h0.9m0.8 29.6h0.9m-10.1 19h0.9m46.5-47.9h0.9m-23.9 2.7h0.9m9.8-31.8h0.9m-16.7 18.7h0.9m-0.9-0.6h0.9m34.1 14.1h0.9m-31.4 14.1h0.9m-54.3 5.4h0.9m36.6-37h0.9m56.3 43.7h0.9m-21.9-51h0.9m-19.3 24.3h0.9m20.3-9.3h0.9m-57.8 2h0.9m74.1 20.5h0.9m-56.2-21h0.9m51.7-14.2h0.9m-31.5 47.3h0.9m18.7-30.9h0.9m-55-36.7h0.9m-4.8 26.2h0.9m23.5 25h0.9m-18.8 10.4h0.9m81.8-46.6h0.9m-62.7 26.1h0.9m-5.2 21.9h0.9m-8.7-19.6h0.9m60.9-18.8h0.9m-61.7 0h0.9m2.5 41.6h0.9m-5.7-83.1h0.9m57.2 92.1h0.9m-37-74.1h0.9m-37.6 50.5h0.9m3.6 4.6h0.9m16.1-2h0.9m1.5 40.1h0.9m-25.1-76.5h0.9m24.7 52.1h0.9m-27.3-27.4h0.9m6.1 27.2h0.9m-44.4-26h0.9m79.9-8.5h0.9m-3.9-11.7h0.9m59.3-3.6h0.9m-81.4 16.5h0.9m-38.7 19.1h0.9m16.7 1.4h0.9m11.1-2.3h0.9m-15.8-1.4h0.9m22.8 1.3h0.9m19.4-3.6h0.9m-68.5 0.6h0.9m52.4 20.6h0.9m-25-21.1h0.9m91.7-9.7h0.9m-0.9 20.2h0.9m-64.2 4h0.9m15.2-57.7h0.9m-23.9 37.3h0.9m18.9-1.9h0.9m-81.1 33.6h0.9m43.2-9.5h0.9m-16.5-18.5h0.9m89.6-19.9h0.9m-77.8 0.4h0.9m25.6 0h0.9m-37.4 38.7h0.9m20.3-7.4h0.9m14.8-12.5h0.9m17.9-54.7h0.9m-23.9 58.3h0.9m-22.5 31.2h0.9m-21.6-49.9h0.9m55 19h0.9m-70.3 36.6h0.9m26.9-45.8h0.9m55.6 12.5h0.9m0.1-22.1h0.9m-17.9 42.7h0.9m-12.8-82.9h0.9m-15.1 40h0.9m13.6 9.8h0.9m11.1 15.9h0.9m25.6-33.5h0.9m-58.2 10.6h0.9m63.6 12.9h0.9m-74.1 1h0.9m81.5-2.2h0.9m-10.4-6.4h0.9m-27.3-25.3h0.9m-7.9 22.3h0.9m7.7 14.5h0.9m-4.2 9h0.9m-27-29.8h0.9m24.2-25.7h0.9m-24.7 32.7h0.9m66.5-18.8h0.9m-29.2 51.1h0.9m6.2-65.6h0.9m-60.5 72.5h0.9m37.8-50.7h0.9m-43.4-26.6h0.9m71.7 27.4h0.9m-88.9 16.2h0.9m43.2 23.5h0.9m-59.9-23.2h0.9m64.2 36.5h0.9m34.1-24.6h0.9m-18-15.9h0.9m-25.5-17h0.9m23.6 20.7h0.9m-53.4 3h0.9m26 8.9h0.9m26.5-2.4h0.9m-21.5-20.9h0.9m-24.5 32.3h0.9m27-32.1h0.9m-30.4-2.5h0.9m27.6 13.2h0.9m-40-6.1h0.9m65.9-42.6h0.9m-13.1 15.5h0.9m-28.7 8.8h0.9m15 5.3h0.9m1.8 43.9h0.9m-35-20.2h0.9m25.9-15.5h0.9m-16.6 25.1h0.9m28.3-18.1h0.9m28.7-2.8h0.9m-74.7 5.9h0.9m-30.6-6.2h0.9m43.9 8h0.9m6.9-3.4h0.9m-2 20.7h0.9m-37.2-10h0.9m10.4-17.4h0.9m0.1-1.5h0.9m4 62h0.9m10.5-95.9h0.9m25.3 66.8h0.9m-33.5-13.6h0.9m-11.5 7.3h0.9m-4.3 10h0.9m-11.2-9.6h0.9m11.9-17h0.9m46.7 32.2h0.9m-25.8-13.6h0.9m-4.8-28.7h0.9m11 40.3h0.9m-28.9-60.6h0.9m34.5 66.3h0.9m-17-72.4h0.9m-43.7 62.1h0.9m44.6-32.4h0.9m-31.1 3.1h0.9m2.2 22.3h0.9m20.5-13.2h0.9m13.9 15.9h0.9m4.8-57.9h0.9m-28.7 53.9h0.9m1.5-5.2h0.9m21.3 3.1h0.9m-13.6-24.2h0.9m17.1 49.2h0.9m28.8-38.8h0.9m-5.1-12h0.9m-41.6-32.9h0.9m-14.4 39.1h0.9m68.3 10.6h0.9m-88.5 33.2h0.9m20.2-35.3h0.9m-18.4 38.5h0.9m-7.6-54.1h0.9m29.1 22.6h0.9m50.7-10.8h0.9m-104.7 26.6h0.9m17.6-13.8h0.9m39.6-4.7h0.9m12.1-31.4h0.9m-43.8 59h0.9m55.1-20.9h0.9m-26.9-7.6h0.9m-11.9 16.3h0.9m10.6 6.3h0.9m-10.2-14.6h0.9m35.2 24.5h0.9m-40.7-21.8h0.9m45.4-42.8h0.9m-68.8 38.5h0.9m83.2-2.6h0.9m-34.4 15.3h0.9m-17.9-21.9h0.9m-38.3-15.1h0.9m57.9 1.9h0.9m-52.6-12.6h0.9m72.6 29.4h0.9m-33.6-18.5h0.9m29.9-12.9h0.9m-41 43h0.9m21.9 10.4h0.9m-13.6-46.9h0.9m-53.8 30.7h0.9m50.9-19.3h0.9m-42.4 43.6h0.9m47.9-42.8h0.9m-28.3-13.9h0.9m7.3 19.2h0.9m-26.2 31.1h0.9m30.4-37.1h0.9m-28-1.9h0.9m3.2 9.7h0.9m35.2-26.4h0.9m-59.3 29.8h0.9m-7.4-6.1h0.9m46.6 51.1h0.9m14.5-94.4h0.9m-56.1 35h0.9m33.6-2.6h0.9m-9.9-5.7h0.9m16.8 25.8h0.9m15.2-28h0.9m-21.1-11h0.9m8 30.9h0.9m-3.3-7.7h0.9m-12.3-5.7h0.9m-9.8 46.4h0.9m24.5-25.8h0.9m-7.2-1.2h0.9m-46.5 13.1h0.9m84.4-20h0.9m-81 3.4h0.9m3.1-10.8h0.9m66.4 2.7h0.9m4.3-9.2h0.9m-86.3-16.5h0.9m68.8 3.2h0.9m-29.1 20.3h0.9m-32.5 35h0.9m18.7-21.5h0.9m-2.8-20.9h0.9m-13.9-2.4h0.9m9.9 46.3h0.9m9-31.1h0.9m-17.7-53.2h0.9m13.9 55h0.9m11.8 14.6h0.9m-8.6-37.5h0.9m6.2 24.1h0.9m-7 3.3h0.9m-30.2-20h0.9m31.9 43.2h0.9m43-33.3h0.9m-32.8-4.6h0.9m8.2 2.2h0.9m-76.1-6.5h0.9m76-17.8h0.9m-71.3 33.3h0.9m44.3-8.7h0.9m23.3-1.8h0.9m-80.7 52.2h0.9m80.5-33.8h0.9m-12.2-48.9h0.9m-35.2 69.8h0.9m-8.9-32.8h0.9m35.6 17.8h0.9m-20.3-19.9h0.9m52.9-1.2h0.9m-75.9-11.2h0.9m17.2 28.4h0.9m-1.3 11.6h0.9m25-58.5h0.9m6.1 51.6h0.9m-7.7-32.1h0.9m42.8 42.2h0.9m-73.1-4.9h0.9m-5.4-3.1h0.9m26.8-21.8h0.9m16.3 55.6h0.9m-39.9-57.1h0.9m-1-11.6h0.9m-26 12.9h0.9m32.5 29.3h0.9m-2.2-20.3h0.9m8-5.2h0.9m12.4-11.3h0.9m-52.1 18.6h0.9m55.3-21.1h0.9m-43.9 34.8h0.9m8.8-21.9h0.9m-3-7.8h0.9m27.7 27.9h0.9m-38.7-33h0.9m48.3 12.3h0.9m-76.1-26.4h0.9m38.6 2.7h0.9m27 15.3h0.9m-7.1-2.2h0.9m-11.9 2.4h0.9m42.6 18.3h0.9m-57.3 13.8h0.9m55.4-24h0.9m-63.6-14.3h0.9m20.2 14.7h0.9m-38.7 51.6h0.9m91.5-8.3h0.9m-26.9-26.3h0.9m-58-29.3h0.9m15.3 15.2h0.9m-1 7.2h0.9m-18 0.5h0.9m38.6 12.9h0.9m-21.7-3.1h0.9m23.1-43h0.9m-1.5 9.1h0.9m-28.5 40h0.9m25.3 3.9h0.9m-45.3-15.4h0.9m61.2 14.5h0.9m-26.9-25h0.9m1.7-22.1h0.9m34.8 24.4h0.9m-19.1-36.1h0.9m-29.3 65.4h0.9m6.2-21.9h0.9m42.4-36h0.9m-26.1-20.3h0.9m-32.9-0.3h0.9m43.6 26.4h0.9m-9.3 21.6h0.9m-27.8 16.5h0.9m-11.3 7.5h0.9m14.7-21.2h0.9m-14.8-0.3h0.9m20.3-14.8h0.9m13.2 12.9h0.9m-24.3-17.8h0.9m11.3-14.3h0.9m-37.2 35.3h0.9m49.5 4.4h0.9m-18.5-43.1h0.9m-37.6 26.5h0.9m38.4 3.6h0.9m-40.8 8.4h0.9m61.4-2.7h0.9m-13.1 31.2h0.9m-31.8-80.6h0.9m8.6 86.5h0.9m-32.6 4.6h0.9m61.5-33.2h0.9m-11.6-12.3h0.9m9.3-20.6h0.9m-9.3 34.5h0.9m-41.5-4.2h0.9m51.6-24h0.9m-11.1 27.3h0.9m-49.4 14.6h0.9m31.7-87.7h0.9m43.6 78.4h0.9m-45.6-36.2h0.9m-44.2 52.4h0.9m33.6-40.7h0.9m5.4 9.6h0.9m-44.4 13.8h0.9m24.8 10.2h0.9m45.8-19.2h0.9m-37.9-61.1h0.9m52.8 19.9h0.9m-64 37.9h0.9m16.2 35.2h0.9m27.5-48.2h0.9m-44.4-5.5h0.9m2.3-19h0.9m-32.2 26.4h0.9m-13.9 16.6h0.9m24.7-6.1h0.9m23.9-16.7h0.9m-0.7 19.1h0.9m20.2-14.1h0.9m5.5 50.1h0.9m-17.6-12.4h0.9m-3.9-26.6h0.9m24.7-20.6h0.9m-31 49.8h0.9m-2.1-4.1h0.9m-10.5 7.3h0.9m20.4 11.5h0.9m-4.1-66.2h0.9m31.5 58.5h0.9m-64.8-42.4h0.9m-7.3 23.1h0.9m-29.3-41.2h0.9m61.1 9.3h0.9m49.7 21.2h0.9m-46 3.1h0.9m-73.1-7.2h0.9m72.4-6.2h0.9m-40-5.9h0.9m47.8 23.7h0.9m-40.6-57h0.9m56 62.6h0.9m-52.7-36.5h0.9m17.2 12.4h0.9m-30.2-22.6h0.9m46.8 24.1h0.9m-18.6 10.2h0.9m27.1-10.7h0.9m-59.8 15.7h0.9m20.9-17.2h0.9m24.2-5h0.9m-54.8 10.9h0.9m52.5-19.7h0.9m-28.3 8.6h0.9m-4.2 19.7h0.9m-7.2 20.5h0.9m-14.2-47.1h0.9m51.6 6.7h0.9m-17.2-19h0.9m1.8 13.5h0.9m5.7 1.9h0.9m-46 20.9h0.9m-34.1 6.7h0.9m69-19h0.9m-12.9 11.9h0.9m-53.3-15.6h0.9m35 14.4h0.9m63.9-2.4h0.9m-80.9-16.9h0.9m27.9-24.7h0.9m43.5 49h0.9m-30.8-39.2h0.9m-16.1 15.8h0.9m22.7 21.6h0.9m9.4-37.2h0.9m-26.2 45.4h0.9m-36-26.9h0.9m6.3-4.2h0.9m-25.2-2h0.9m13.9 6.8h0.9m-12.8 29.2h0.9m71.7-39.7h0.9m-39.9 42h0.9m16.4-25.2h0.9m-21.7 6.5h0.9m47.4-30.8h0.9m-31 49.7h0.9m-38.2-1h0.9m33-8.1h0.9m19.5-23.7h0.9m-1.8-23h0.9m-24.1 35.5h0.9m-8.4 9.3h0.9m10.6-2.3h0.9m5.7-4.5h0.9m16.5-4.7h0.9m-41.3-13.2h0.9m15.1-2.5h0.9m11.7-13.4h0.9m-37.1 54.4h0.9m21.8 14.2h0.9m11.1-39h0.9m4 1.4h0.9m-34.7-2.9h0.9m-23.4 12.5h0.9m32.5-31.8h0.9m-1.2 16.6h0.9m22.5-18.8h0.9m-82.6 28.9h0.9m102.9-32.2h0.9m-31.3 33.2h0.9m-15.9 6h0.9m28.3-13.6h0.9m0.8-20.7h0.9m-2.4-11.7h0.9m-43.3 49.1h0.9m-1.5-13.6h0.9m-3.9-37.5h0.9m5.6 39.7h0.9m6 2.7h0.9m32.1-47.1h0.9m1.3 43.3h0.9m-45.5-31.2h0.9m44.8 3.6h0.9m-19.7-9.4h0.9m28.8 4.9h0.9m-41.2 1.3h0.9m14.3 44.2h0.9m23.8-32.3h0.9m-61.4 8.8h0.9m47.1 23h0.9m-8 0.3h0.9m-26.2-25.1h0.9m0.7 13.7h0.9m-18.6-14.5h0.9m26.4 4.3h0.9m-22.2-15.7h0.9m-2.3 31.9h0.9m62.2 1.8h0.9m-92.7 15.9h0.9m15.6-23.1h0.9m69.6-56.5h0.9m-44.4 36.2h0.9m31.4 4.1h0.9m-46.3-19.5h0.9m39.6 53.9h0.9m12.3-16.5h0.9m-17.4-3.2h0.9m-40.6 12.9h0.9m-4.5-39.3h0.9m-4.8 7.2h0.9m25.9 17.6h0.9m-6.3 2.9h0.9m25.6-41.7h0.9m-38 40.8h0.9m-9-3.1h0.9m69 6h0.9m-30.2-6.8h0.9m12 24.8h0.9m-3.9-41.4h0.9m-29.4-9.7h0.9m5.4 56h0.9m14.7-29.3h0.9m55-21.5h0.9m-66.7-2h0.9m-34.5 17.8h0.9m31.2-8.1h0.9m40.2-25.1h0.9m-78.9-3.5h0.9m50.9 24.8h0.9m-59.9 37.8h0.9m60.4-2.2h0.9m2.5-7h0.9m15.2-2.2h0.9m-34.7-37.1h0.9m0.1 27.5h0.9m7.4 4h0.9m1.7 0.8h0.9m-30.2-7.9h0.9m22.7-0.7h0.9m-17.8 44.2h0.9m-15.7-19.7h0.9m-58 2.8h0.9m66.6-10.9h0.9m32.3-31.7h0.9m-8.9 24.9h0.9m-11.7-8.4h0.9m-30 21.8h0.9m24.2-38.1h0.9m-27.6 36.6h0.9m64.4-37.5h0.9m-41.4 32.1h0.9m-22.1-5.8h0.9m6.4-6.3h0.9m29.9-13.7h0.9m-17.6 8.5h0.9m46.2-18.1h0.9m-50.1 13.3h0.9m10.3 13.9h0.9m11-47.5h0.9m-9 52.5h0.9m-52.9 11.9h0.9m75.4-38.4h0.9m-43.3 18h0.9m-13-20.5h0.9m17.2 24.4h0.9m-25.8-20.5h0.9m20.6-45h0.9m15.9 42.5h0.9m12.4 11.7h0.9m-36.5-43.6h0.9m-1.9 28.4h0.9m-9.4-5.6h0.9m15.3 17.6h0.9m-6.1 9.8h0.9m6-36.7h0.9m34.6 12.3h0.9m-38.6 7.9h0.9m-15.7 10.2h0.9m39.9-9h0.9m-28.7 18.9h0.9m-47.7-10.7h0.9m54 11.1h0.9m-6.3-18.5h0.9m38.1-8.8h0.9m-18.5-21.9h0.9m-5 15.3h0.9m-28.9 41.2h0.9m33.4-25.9h0.9m22.5-10.1h0.9m-52.8 39.4h0.9m28.6-1.7h0.9m9.3-51h0.9m-44.8 71.6h0.9m-3-35.8h0.9m59.1-55.3h0.9m-53 46.8h0.9m32.6 1.6h0.9m-28.2 24.7h0.9m-0.2 5.8h0.9m-3.6-27.9h0.9m-31.8-11.5h0.9m-39.7 37.3h0.9m62.1-10.7h0.9m-38 13.9h0.9m91-7.4h0.9m-39.1-19.1h0.9m25 3.2h0.9m-18.9-5.1h0.9m-2.1 39h0.9m-67.4-25.1h0.9m46.4-19.4h0.9m-27.4 6.8h0.9m44.1 17.8h0.9m-2.5-21.2h0.9m29.1 9.1h0.9m-91 20.3h0.9m4.4-34.4h0.9m30-8.9h0.9m18.7 32h0.9m-19.1-42.3h0.9m35.5-7.4h0.9m-31.8 79.9h0.9m-40.9-75.1h0.9m10.3 57.6h0.9m69.5-41.9h0.9m-64.7 32.2h0.9m61-12.4h0.9m16.6-21.5h0.9m-83.8 23.4h0.9m45 8.4h0.9m-36.8 16.8h0.9m0.6-5.2h0.9m-0.9-17.3h0.9m13.3-13.8h0.9m29.3-21.9h0.9m-19.4 29.5h0.9m-46.3 4h0.9m15.3 20.2h0.9m28.6-16.8h0.9m2.6 14.7h0.9m-34.6-45.9h0.9m23.9 54.7h0.9m2.5-26.2h0.9m-26.1-25.9h0.9m-1.6-7.4h0.9m39.2 43.5h0.9m-32.2-22.3h0.9m-2.1 5.4h0.9m13.4 12.1h0.9m15.3-16.7h0.9m-18.8-30.5h0.9m28.8 60.3h0.9m-47.3-51.1h0.9m53.9 13.6h0.9m-80.7 16.1h0.9m8 9.4h0.9m13-38.8h0.9m-8.4 22.8h0.9m-1.1-10.1h0.9m21.8 19.7h0.9m7.9-0.8h0.9m-2.8-21.9h0.9m-41.2 44.9h0.9m57.5-23.1h0.9m-9.2-35.4h0.9m-48.7-0.4h0.9m8.3 28.7h0.9m31.2 7h0.9m-26.7-20.5h0.9m-0.2 19.8h0.9m48.4-16.9h0.9m-60.2 52.2h0.9m3.3-61.7h0.9m14 40h0.9m-7.2 0h0.9m4.6-19.4h0.9m15.8-42.4h0.9m-15.9 47.5h0.9m-13.3-29.6h0.9m12.1 69.1h0.9m4.1-46h0.9m2.6 43.6h0.9m25-44.5h0.9m-10-13.9h0.9m-11.6 42.6h0.9m-52.3-7.7h0.9m64 29h0.9m-13.3-62.3h0.9m42.4 32.2h0.9m-66.6 36.2h0.9m55.2-32.8h0.9m-41.2-4.9h0.9m46.1 3.7h0.9m-70-16.7h0.9m-0.5-15.5h0.9m31.8-0.9h0.9m37.6 19.6h0.9m-85.9-14.3h0.9m22.7 4h0.9m-2-7.4h0.9m37.6 27.1h0.9m-17.5 24.2h0.9m-16.9-59h0.9m-24.2 38.2h0.9m14.4 8.5h0.9m28.6-34.5h0.9m-18.5-20.8h0.9m13.2 52.6h0.9m-25.7-51.4h0.9m58.5 50.8h0.9m-48.8-38.5h0.9m0.1-17.8h0.9m-39.5 31.5h0.9m2.5 8.7h0.9m-1.6 4.5h0.9m16 6.1h0.9m3.3-8.8h0.9m28 26.8h0.9m7.8-42.4h0.9m-22.7 13.2h0.9m10.1-4.3h0.9m-16-36.8h0.9m-3.4 10.7h0.9m49.3 15.2h0.9m-56 20.4h0.9m-14-49.3h0.9m66 68.1h0.9m-15-25.8h0.9m-12.5-8.7h0.9m-0.2 10.1h0.9m-25.1-16.1h0.9m32.7 7.8h0.9m4 2.3h0.9m-95.1 40.4h0.9m41.5-39.9h0.9m61.6-40h0.9m-81 29h0.9m52.7 1.4h0.9m3.6-23.5h0.9m-25.3 12.5h0.9m17.3-1.7h0.9m-30.8 18.3h0.9m20.7 12.8h0.9m-5.7-17.5h0.9m-12.4 22.6h0.9m12.3-15.4h0.9m11.2-22.6h0.9m-34.8 35.2h0.9m6.4-5.1h0.9m11.4 6h0.9m-22.7 9.4h0.9m27.8 3.8h0.9m-12.7-13.4h0.9m-4-7.5h0.9m27.2 3.4h0.9m-97.5-1.5h0.9m69.9-17.1h0.9m22.3 37.1h0.9m-5.2-41.9h0.9m21.3-10.9h0.9m8.4 27.4h0.9m-120.8 5.3h0.9m119.1 0.4h0.9m-23.2 13.4h0.9m-20.9-36.6h0.9m2.6 28.7h0.9m-5.2-25.6h0.9m-5.1-15.5h0.9m-18.5-7.1h0.9m32.1 46.7h0.9m-20.8 0.9h0.9m11.1 9.6h0.9m-29.5-9h0.9m0.4 6.1h0.9m24.7-50.1h0.9m-14.4 43.1h0.9m-24.7-26.2h0.9m56.5 17h0.9m-32.8-42.7h0.9m-12.2 3.2h0.9m47.3 57.3h0.9m-83.4-36.3h0.9m59.9 13.3h0.9m-57.3 1.1h0.9m66 28.5h0.9m-7.2-16.1h0.9m23.4-24.3h0.9m-0.2-18.9h0.9m-60.4 34.4h0.9m25.6-20.6h0.9m1.3 21.7h0.9m-44.8-52.3h0.9m58 46h0.9m-18.6 9.1h0.9m-13.4-12.3h0.9m19.7-3.2h0.9m-46-0.4h0.9m34.2 11.7h0.9m-44.6-0.6h0.9m21.3 27.5h0.9m18.9-34.9h0.9m5.7-2.4h0.9m-29 16.5h0.9m8.8-30.9h0.9m44.6 59.3h0.9m-34.2-54.6h0.9m-37.4 30.5h0.9m19.1-13.3h0.9m21.9-5.7h0.9m26.7-4.4h0.9m-35.2 48.7h0.9m-14.2-85.8h0.9m-14.1 35.2h0.9m6.4-0.2h0.9m50.7-3h0.9m-44.7-22.6h0.9m39.3 31h0.9m-18.2 12h0.9m21.2 1.9h0.9m2.5 18.9h0.9m0.5-58.3h0.9m-43.3 67.8h0.9m-3.2-22.8h0.9m-0.3-33.9h0.9m11.2-6.6h0.9m26.5 28.2h0.9m-5.2-0.8h0.9m3.6-1.5h0.9m-16.8 27.1h0.9m-22.5 1.1h0.9m21.5-29.9h0.9m2.8-10.8h0.9m-20.7-2.3h0.9m20.4-19.3h0.9m29.5 0.9h0.9m-79.3 5.8h0.9m65.3 57.3h0.9m-26.2-25.6h0.9m-32.1 14.1h0.9m50.6-30.3h0.9m13.5 53.6h0.9m-17.1-70.5h0.9m-17.1-6h0.9m-14.6 6.8h0.9m49 11.8h0.9m-51.9 2.6h0.9m-10 24.2h0.9m-6.7-13.8h0.9m40 11.8h0.9m-28.5 10.8h0.9m-31.1-42.3h0.9m59.1 0.9h0.9m-3.9 32.7h0.9m-35.4 14.9h0.9m-6-17.7h0.9m-20.3 9.8h0.9m32.6 14h0.9m-10.1-35.8h0.9m28 15h0.9m-57.4-3.5h0.9m-11.3-38.4h0.9m42.6 31.3h0.9m27.2 45.2h0.9m-30.3-52.7h0.9m-10.4-31.8h0.9m32.6 56h0.9m-12.4-35.9h0.9m-40.9 54.8h0.9m11.4-40.8h0.9m16.9-11.3h0.9m17.4-9.2h0.9m-10.5 2.4h0.9m28.9 20h0.9m-40.3 40.1h0.9m15.9-33.5h0.9m-28.4-5.6h0.9m-7.4 23.3h0.9m5.2-23.2h0.9m11.6-26.4h0.9m14 12.6h0.9m12 19.6h0.9m-66.4-14.1h0.9m21.9-7.7h0.9m15.7 3.6h0.9m-24 5.4h0.9m-9.5 11.1h0.9m37.1-29.8h0.9m-14.4 48.5h0.9m4.6 27.3h0.9m-41.9-44.9h0.9m47.3 5.8h0.9m15.6 11.1h0.9m-35.7-11.6h0.9m-2.7 31.5h0.9m4.1-40h0.9m-30.3 29.4h0.9m41.6-29.8h0.9m-12.5 10.1h0.9m30.4-47.3h0.9m-10.4 14.4h0.9m0 33.7h0.9m-15-6.2h0.9m23.2-19.3h0.9m-42.6 31.7h0.9m30.8-16.2h0.9m-76.6 12.9h0.9m72.5-19.5h0.9m-20.9 4.9h0.9m-3.5-26.9h0.9m28.7 20.9h0.9m-23.2-3.9h0.9m2.2 12.6h0.9m-28.9 2.8h0.9m9.7-11.7h0.9m-1.3 19.5h0.9m-6.9 8.5h0.9m2.6-18h0.9m13.1 21.6h0.9m14.5-39.3h0.9m-17.6 25.8h0.9m22.7-15.6h0.9m-29.2-39.1h0.9m11.5 40.9h0.9m4.6 32.1h0.9m16.2-51.3h0.9m36.4-0.9h0.9m-57.8 11.9h0.9m-33.3 36.3h0.9m19.9-30.8h0.9m-23.6 12.5h0.9m38.8-44.7h0.9m0.5 52.1h0.9m-73.6 1.3h0.9m71.4-42.4h0.9m-37.2-4.3h0.9m10.7 52.3h0.9m-2.7-21.7h0.9m-2.4 8.7h0.9m41 26.3h0.9m-16.6-19.3h0.9m54.3-1.6h0.9m-106.1-3.2h0.9m24.8 5.6h0.9m29.8-7.1h0.9m-1.8-24.3h0.9m-43.4 43h0.9m38.4-44.9h0.9m4.1 30h0.9m6.5-9.6h0.9m-47.6 0.8h0.9m-8.6-2.8h0.9m27.4-20.6h0.9m-31.5 11.3h0.9m19.3 10.2h0.9m32.6-18.8h0.9m-59.6 30.2h0.9m60.8-11.4h0.9m-37.1-6.6h0.9m-36.5-23.1h0.9m50.2 70.1h0.9m-12.2-76.6h0.9m20.5 62.9h0.9m-30.9-42h0.9m27.5-0.4h0.9m-19.2 44.3h0.9m-22.5-13.9h0.9m52.2-49.6h0.9m-48.8 10.2h0.9m25.9 29.1h0.9m16.6-32.1h0.9m-20.8 36.9h0.9m-30.1 8.6h0.9m18.4-33h0.9m29.4-1.7h0.9m-35 25.5h0.9m58.4-36.9h0.9m-81.7 36.2h0.9m76.4 31.2h0.9m-45.2-32h0.9m-15.3-12.8h0.9m39.1 44h0.9m-51-16.5h0.9m1.9-39.3h0.9m-18.2 7.2h0.9m21-21.7h0.9m67.4 26.4h0.9m-42.8-39.7h0.9m-17.1 90.7h0.9m-33.2-43.2h0.9m39.5 15.3h0.9m-34.9-18.6h0.9m29.9 6.9h0.9m-16.2-5.9h0.9m23.1 26.8h0.9m-38.9-10.7h0.9m-17.9-14.6h0.9m5.8 18.3h0.9m57.7-15.6h0.9m-21.9 37.1h0.9m21.8-27.2h0.9m-48.7 6.3h0.9m56.6 2.2h0.9m-60.6-3.9h0.9m23.7-13.4h0.9m8.2 6.8h0.9m-10.4-29.5h0.9m27.2-4.1h0.9m-30.2 21.8h0.9m1.6 10.6h0.9m25 14.8h0.9m-18.6-36.4h0.9m-26.4-24.1h0.9m44.3 49.8h0.9m24-2.6h0.9m-90.8-11.7h0.9m37 23.2h0.9m17.4-9.4h0.9m-1.6-28.4h0.9m6 15.9h0.9m-53.4 0.4h0.9m57.3-31.9h0.9m-30.5 68.6h0.9m-10.8-45.1h0.9m-9.8 5.1h0.9m25.2-21h0.9m-53.7-21.9h0.9m24 38.5h0.9m39.7 36.8h0.9m-3.7-49.7h0.9m-11 25.4h0.9m-1.8-41.9h0.9m22.7 55.3h0.9m-28.7-11.5h0.9m2.7-24.3h0.9m-48.4 20.5h0.9m59.2 14h0.9m-1.4-35.8h0.9m-17 16.2h0.9m2.1 43.7h0.9m-22.8-90h0.9m10.1 48.8h0.9m7.3 2.6h0.9m-0.4-6.4h0.9m-19.5-6.3h0.9m36 5.5h0.9m19.1-4.1h0.9m-17.8-8.1h0.9m-47.5 29.7h0.9m1.3-48.1h0.9m-30.8 18.9h0.9m16.9 43h0.9m15.1-43.3h0.9m11.7 5.3h0.9m3.2 3.8h0.9m58.2 16h0.9m-58.2-21.4h0.9m15.2 14.4h0.9m-4.1-54.8h0.9m-21.8 63.5h0.9m7.2-37.1h0.9m-9.7-4.8h0.9m30.9 8.1h0.9m-47.1 18.4h0.9m42.5 39.6h0.9m-28.6-28.1h0.9m13.4-23.1h0.9m52.6 21.4h0.9m-73.5-8.3h0.9m18.2 15.2h0.9m29.5-34.8h0.9m-1.1 50.1h0.9m-70.2-69h0.9m69.6 28.4h0.9m-32.9-18.3h0.9m-55.5 46.8h0.9m32.2-28.6h0.9m-5.8 7.7h0.9m29.3 14.4h0.9m38 12.3h0.9m-48.7 3.8h0.9m21.4-51.7h0.9m6.6 23.3h0.9m-35.6-7.5h0.9m23.2-22.4h0.9m-22 21.7h0.9m24.4 37.1h0.9m-17.6-2.2h0.9m6.1-23.3h0.9m-21.9-36.5h0.9m-31.9 40h0.9m13.8-16.4h0.9m21.9-7.5h0.9m-31.5 31.8h0.9m26.1 16.2h0.9m-23.8-7.5h0.9m58.6-44.1h0.9m-5.2 31.1h0.9m-40.5-36.2h0.9m7.9-4.1h0.9m-5.1-2.5h0.9m-6.8 44.4h0.9m-34.1 17.3h0.9m58.7-13.8h0.9m16.1-41.5h0.9m-50.6-14.4h0.9m13.7 21h0.9m-4.7-0.4h0.9m-4.3 24h0.9m-25.9 5.3h0.9m53.5-17.4h0.9m16.7 9.9h0.9m-41.2 52.7h0.9m17.9-62.2h0.9m0.1 9.9h0.9m-26.6 0.1h0.9m-21.5-7.4h0.9m6.8 22.8h0.9m20.9-22.9h0.9m-65.6 3.6h0.9m53.9-10.7h0.9m-31.7 41.5h0.9m60.6-21.5h0.9m-29.5-15.5h0.9m-9.7 21.2h0.9m11.1-11.8h0.9m-5.2 6.7h0.9m4.7-19.7h0.9m-44.6 0.9h0.9m34.8 7.6h0.9m-37.6-4.2h0.9m62.7-15.5h0.9m-29.8-2.1h0.9m16.1-20.3h0.9m-11.9 37.4h0.9m50.5 22.3h0.9m-6.8-4.8h0.9m-12.9 19.7h0.9m-49.7-44.5h0.9m49 23.2h0.9m-21.1-12h0.9m-42.8-3h0.9m36.9 27.7h0.9m-24.2-18.4h0.9m20.1-38.2h0.9m28 37.3h0.9m-25.5 0.2h0.9m-36.7-18.8h0.9m37.9 20.6h0.9m16.6 22.5h0.9m-47.3-14h0.9m-31.6-31.2h0.9m53.6 27.6h0.9m22.1-6.5h0.9m5.7 6.8h0.9m-58.2 3.8h0.9m68.1-41.5h0.9m-58.4 33.6h0.9m88.1 6.3h0.9m-82.7-25.7h0.9m-22.2 7.7h0.9m46.8 11.5h0.9m-58.5 39.5h0.9m30.4-31.5h0.9m-19.7-32.3h0.9m5.2 9.7h0.9m9.7 8.4h0.9m-4 8h0.9m90.9-19h0.9m-94.9 26.5h0.9m23.6 19.9h0.9m-16.9-22h0.9m-20 2.6h0.9m36.3-67.6h0.9m2.6 67.1h0.9m-3.9 1.5h0.9m-11.6 12.7h0.9m6.9-19.1h0.9m-16.8 25.4h0.9m47-52.1h0.9m-57.4 55h0.9m6.4-40.7h0.9m-8.9 26.5h0.9m25.3-17.3h0.9m-33.4 40.3h0.9m2.1-39.8h0.9m21.8 5.9h0.9m-1-7.8h0.9m28.2 17h0.9m-6.5-35.4h0.9m-21.8 56h0.9m0.5-56.7h0.9m12.8 46.3h0.9m45.2-66.6h0.9m-135.8 63.6h0.9m94.5-34.5h0.9m-26.9 24.6h0.9m-48.4 0.8h0.9m61.8-5.4h0.9m-4.9-37.7h0.9m23.9-16.8h0.9m-21.3 12.7h0.9m-32 6.4h0.9m88.4-16.4h0.9m-67.4 24h0.9m-52 11.1h0.9m18.2 8.4h0.9m19.1-21.7h0.9m-0.2 1.3h0.9m-4.4 12h0.9m33.1 18.5h0.9m-42.4-21.3h0.9m7.9 5.7h0.9m25.7-2.6h0.9m-11.7-19.1h0.9m27.4 6.2h0.9m-58.5 5.6h0.9m-43.9 43h0.9m29.8-8.7h0.9m-22-28.9h0.9m113.7-18.1h0.9m-78.1 29.7h0.9m11.5 22.1h0.9m-5.9-10h0.9m24.5-45.8h0.9m-61 38.7h0.9m53.2-27.3h0.9m-0.6-1.9h0.9m11.8-19.6h0.9m-24.8 24.5h0.9m-30.2 25.3h0.9m16-25.7h0.9m13.9 20.1h0.9m-24.4-4.4h0.9m-9.7 4.1h0.9m4.2-11.7h0.9m69.2 0.6h0.9m-64.5 20.5h0.9m2.7-20.4h0.9m34.6 11.3h0.9m-37.4-15.5h0.9m-19.9-2.7h0.9m53.8 41.4h0.9m-47-32.1h0.9m16.2 7.1h0.9m72.1-38.7h0.9m-67.5 26.4h0.9m-1.9 31.7h0.9m3.9-47.4h0.9m-14.2 18.4h0.9m11.6-2h0.9m-71-25.8h0.9m76.4 30.3h0.9m13.2 16.1h0.9m-45.9-10.2h0.9m26.5-7.4h0.9m-5 1.6h0.9m2.7 6.2h0.9m-31.6-24.6h0.9m43-20.7h0.9m-41.1 51.3h0.9m0.9-36h0.9m-30 23.8h0.9m47 20.4h0.9m22.4-34.8h0.9m-24.2 50.8h0.9m-29.6-19.9h0.9m58.4 1.5h0.9m14.5 8.1h0.9m-63.4-76.4h0.9m27.7 63.8h0.9m-3.2 1.8h0.9m5.7-44.3h0.9m-14.8 31.4h0.9m11.5 22.6h0.9m7.9-21.3h0.9m-32.8-32.6h0.9m41.6 23.9h0.9m-82.9 30.1h0.9m77.6-95.6h0.9m-50.4 74.9h0.9m-14.9-13.6h0.9m27.1 30.5h0.9m13.9-30.2h0.9m-8.7 22.2h0.9m2 8.5h0.9m0.3-49.1h0.9m-60.1 28.5h0.9m66.7-3.5h0.9m-18.6-2.9h0.9m2.8 6.5h0.9m-16.2-45.8h0.9m-34.7 54.4h0.9m26.9-32.3h0.9m29.2 8.3h0.9m-50.3 12.8h0.9m17.1-5.4h0.9m31.9 1.4h0.9m-52.7-23.5h0.9m65.4-15.8h0.9m-1.7 24.2h0.9m13-1.4h0.9m8.1-8h0.9m-76.9 47h0.9m18.7-34.2h0.9m42.7-12.5h0.9m-30.2 49h0.9m-26.2 0.6h0.9m38.4-21.6h0.9m-12.6-2.2h0.9m-68.3-18.2h0.9m70.6 47.3h0.9m22.4-44.5h0.9m-23 13.8h0.9m30 10.5h0.9m-59.2 11.1h0.9m36.6-17.3h0.9m-2-8.6h0.9m-77.2 25.9h0.9m85-17.2h0.9m-2.8-28.8h0.9m-5.5 17h0.9m-47 31.9h0.9m2.2-36.3h0.9m32.5 21.7h0.9m-1.2-11.6h0.9m-28.6 4.6h0.9m13.3 38.1h0.9m7.5-10.6h0.9m-31.5-49.4h0.9m44.5 3.4h0.9m-3.9 16.4h0.9m-32.5 35.6h0.9m-0.7-36.2h0.9m62.6-3.1h0.9m-54.3 14.2h0.9m-49.5 33.2h0.9m23.1-52h0.9m36.2 10.2h0.9m8.5 10.5h0.9m-37-25.7h0.9m-17.1 28.8h0.9m73.4-19.6h0.9m-47.9 32.1h0.9m14.3-6.5h0.9m-23.9-40.3h0.9m51.1 40.2h0.9m-71.4-1.4h0.9m-5.3 16.5h0.9m11.1-44.4h0.9m-21.3 35.2h0.9m48-36.3h0.9m-21.8-16.6h0.9m-9.1 17h0.9m9.5 6.8h0.9m14.3-8.3h0.9m8.3 54.1h0.9m-47.4-22.3h0.9m37.4 1.9h0.9m-38-27.3h0.9m25.6-26.9h0.9m-14.2 85.4h0.9m7.1-90.6h0.9m-9 27.7h0.9m38.5 23.7h0.9m-29.4-17.3h0.9m25 7.3h0.9m-12.6-23.6h0.9m3.6 29.7h0.9m-12.7-34.6h0.9m-36.7-20.2h0.9m45.4 34.7h0.9m-10.9 27.3h0.9m-31.6-20.2h0.9m17 15.3h0.9m65.5 21.4h0.9m-14.5-28.4h0.9m-48.4 7.5h0.9m24.3 6.1h0.9m22.4-24.1h0.9m-29.2-6.7h0.9m-18.5 41.1h0.9m17.6-10.4h0.9m-18.5-31.6h0.9m9.7 10.3h0.9m13.6 12.2h0.9m-33.8-35.5h0.9m56.4 30h0.9m-22.9 2.3h0.9m-48.8-22.8h0.9m68.4 47.2h0.9m-55.4-32.4h0.9m31.6-9.1h0.9m11.9 26.7h0.9m-10.5 6.6h0.9m-20.1-41.1h0.9m-7.3-32.1h0.9m2.2 51.4h0.9m-32.8-29.4h0.9m2.6 56.7h0.9m-7.1-17.2h0.9m-1.1-30h0.9m9.9 12.4h0.9m58.1-20.5h0.9m-42 15.5h0.9m-14.8-17.8h0.9m77.4 50.1h0.9m-89.3-31.8h0.9m31.5 36.7h0.9m-15.6-15.2h0.9m-22.1-14h0.9m29.5 8.4h0.9m5.2-9.2h0.9m-7.8 10.5h0.9m31.2 9.2h0.9m-7.3-20.2h0.9m-15.7 15.5h0.9m48.2 0.4h0.9m-36.4 14.8h0.9m-11.7-24.5h0.9m-63.2 8.9h0.9m17.8 2.6h0.9m20.4-4h0.9m-15.4-12.9h0.9m46.3-9.4h0.9m-26.8 14.6h0.9m-9.8 34.3h0.9m33.2-50.8h0.9m23.3 53.3h0.9m-52.5-21.5h0.9m39.1-19h0.9m-49.4 5.4h0.9m-3.9 55h0.9m36-78.8h0.9m9.1 53.5h0.9m-57.9-24.3h0.9m21.8-19.5h0.9m-20.8 13.7h0.9m33 13.4h0.9m-6.5-16.6h0.9m-1.4 21.9h0.9m-43.8 5.1h0.9m17.2-20.7h0.9m41.7 8.7h0.9m-32.7-37h0.9m17.8 24.3h0.9m10.8 30.6h0.9m-26.8 3.4h0.9m-1.1-27.4h0.9m29.5-8.2h0.9m-31.3-22.5h0.9m17.9 18h0.9m-21.8 21.3h0.9m24.6-5.5h0.9m-26.1-65.3h0.9m24.5 78.2h0.9m25.5-26.3h0.9m-88.5 0.8h0.9m37.2-20h0.9m-37.1 33.9h0.9m46.1 20.2h0.9m-26.7-41.7h0.9m38.8 20.3h0.9m-13.2-52.6h0.9m-12.7 16.1h0.9m-36.2 42.9h0.9m59.8-32h0.9m22.5-13.6h0.9m-60.5 83.8h0.9m-3.8-48.6h0.9m24.9-24.1h0.9m-61.3 29.6h0.9m4.7 32.4h0.9m88.7-63.5h0.9m-25.7 17.9h0.9m10.9 3.9h0.9m-45.3 5h0.9m7.4-24h0.9m6.2 31.4h0.9m-6.3 2.5h0.9m-27.1 13.5h0.9m24-50.2h0.9m20.6 15.5h0.9m-23.9-0.4h0.9m26.4-21.1h0.9m21.6 15.2h0.9m-8.9-14.5h0.9m-30-0.6h0.9m-11.4 46.3h0.9m17.6-29h0.9m-30 0.5h0.9m41.5 31.2h0.9m-46.3-2.6h0.9m-13.4-51.9h0.9m-1.3 50.3h0.9m7.8-2h0.9m20.8-18.9h0.9m-9.2 1.1h0.9m-19.4-23h0.9m51.4 65.5h0.9m-8.9-46.7h0.9m8.2 10.2h0.9m-7-9.7h0.9m-43.8-1.4h0.9m7.5 30.4h0.9m-10.8-12.3h0.9m13.3-24.7h0.9m20.2 44.2h0.9m-47 11.3h0.9m10.6-60.5h0.9m6.8-1.4h0.9m56.3 18.7h0.9m-49.5 24.8h0.9m-1.9-7.6h0.9m34.3-21.3h0.9m3.9-41.3h0.9m-52.8 38h0.9m4 38.4h0.9m35-19h0.9m-10.7-49.5h0.9m-14.9 32.3h0.9m24.5 46.3h0.9m19.8-38.4h0.9m-12.2 13.6h0.9m-36.3-3.3h0.9m25.8-30.2h0.9m-37.5 61.9h0.9m-1.4-56.5h0.9m17.6 66.4h0.9m0.8-20.9h0.9m14-35.1h0.9m-33.8 16.5h0.9m29.2-32.2h0.9m-36.9 50.4h0.9m-11.6 15.3h0.9m25-50.5h0.9m-27.5 27.6h0.9m51-48.6h0.9m-34.8 25.7h0.9m18 22.3h0.9m-19.9 9.7h0.9m63.2-37h0.9m-76.1-21.1h0.9m36.7 6.2h0.9m-7.2 53.7h0.9m-63-38h0.9m43.5 19.3h0.9m2-4h0.9m7 25.5h0.9m-33.7-51h0.9m15.7 37.8h0.9m12.5 2.1h0.9m-1.8-19.6h0.9m-9.1-45.2h0.9m10.3 26.1h0.9m36.8 36.3h0.9m-50.7-20h0.9m27.9 0.5h0.9m-45.8-13.9h0.9m32.2 28.6h0.9m44.4-29.6h0.9m-39.8 7h0.9m2.2 5h0.9m-65.1 4.4h0.9m51.2 37.7h0.9m19.9-8.4h0.9m-15.3 2.5h0.9m-26.5-25.6h0.9m15.8-23.5h0.9m2.3 31.6h0.9m-4.1-25.1h0.9m11.1 25.2h0.9m-46.2-25.3h0.9m52.3 10.5h0.9m-53.7 27.9h0.9m64-44.2h0.9m-9.2 1.7h0.9m-71-9h0.9m84.4-6.2h0.9m-43.3 40.1h0.9m-2.3 12.1h0.9m55.6-12.2h0.9m-40.1-1.1h0.9m21.7-20.4h0.9m-35.7 32.1h0.9m40.7-33.1h0.9m-11.5 12.5h0.9m-45.2 26.3h0.9m31.1-14.7h0.9m-60.9-41.2h0.9m29.9 48.3h0.9m11.7-48.7h0.9m-31.6 7h0.9m33 17.1h0.9m-26.4-6.8h0.9m38.2 6.7h0.9m-34.5 53.9h0.9m54.7-54.2h0.9m-8.5 16.7h0.9m-12.3-33.5h0.9m-7.1 14.1h0.9m-21.8 16.5h0.9m-0.6-38.5h0.9m-14 29.9h0.9m-14.9-10.7h0.9m72.9-2.1h0.9m-74.3 20.4h0.9m32.8-29.3h0.9m-51.7 7.8h0.9m69.8 18.3h0.9m31.2 7.9h0.9m-66.1 6.4h0.9m-3.9-21.8h0.9m40.7-8.8h0.9m-0.3 13.2h0.9m-42.2 30.1h0.9m7.8-13.6h0.9m10-32.2h0.9m-20.3 6.3h0.9m1.4-14.8h0.9m36.1 27.8h0.9m-53.4-22.8h0.9m6.6 7.9h0.9m24.6 35.7h0.9m-23.9-8h0.9m-35.8-24.1h0.9m73.1-16.8h0.9m-26.9-28.9h0.9m6 36.9h0.9m-22.3 23.8h0.9m35.6-3.1h0.9m-40.9-19.9h0.9m23.8-36.4h0.9m21 26.6h0.9m-31.6 2.5h0.9m12.9-9h0.9m-11.1 37.3h0.9m-8.7-7.1h0.9m46.1-23.8h0.9m-29 10.8h0.9m-5 39.8h0.9m-30.6-44.7h0.9m9.8 32.2h0.9m38-4.2h0.9m-27.5-42h0.9m-9.4 36.4h0.9m15.5-9h0.9m14.5 10.3h0.9m-20.1-5.2h0.9m-17.1-24.4h0.9m26.4-28.5h0.9m-33.8 28.5h0.9m17.3 29.6h0.9m-20-29.2h0.9m29 54.3h0.9m-49.5-3.7h0.9m25.5-48.1h0.9m-6.9 19.3h0.9m1-10.5h0.9m21.5 11.9h0.9m-10.2 9.1h0.9m12-41.8h0.9m-27.1 6.2h0.9m38.6 30.1h0.9m-62.8-22.8h0.9m43 20.2h0.9m-28.7-5.4h0.9m65.6 5.8h0.9m-72.9 1h0.9m15.8-12h0.9m37.9 23.3h0.9m-34.9-3.9h0.9m-36.4-24.9h0.9m57.1 12.9h0.9m2.3 12.5h0.9m-18.5-33.7h0.9m-2.2 24.9h0.9m-22.2 9.4h0.9m10.9-4.1h0.9m11.1-24.6h0.9m-11.4 10.4h0.9m-29.3 41.8h0.9m21.9-25.5h0.9m10.2-37.2h0.9m8.5 26.8h0.9m-10.7 10h0.9m-23.8-19.6h0.9m49.8 34.3h0.9m-46.4-29h0.9m22.9 0.8h0.9m-1.9 12.4h0.9m-66.3 8.5h0.9m38.7-48.6h0.9m41.5 52.5h0.9m-48.7-108.6h0.9m20.3 129.1h0.9m65.7-23.2h0.9m16.4-16.1h0.9m-86.4-50.9h0.9m3.1 73.4h0.9m-1.3-11.9h0.9m8-53.9h0.9m-13 79.3h0.9m-28.8-73.1h0.9m71.9 8.1h0.9m5.1 17.6h0.9m-58.4-18.6h0.9m-1.6 43.3h0.9m29.6-23.2h0.9m34.3-11.2h0.9m-48.8 21.3h0.9m-10.1 3.6h0.9m15.7-2.8h0.9m-35-0.6h0.9m16.2-5.7h0.9m27 8.9h0.9m-3.9-2.2h0.9m-18.9-10.7h0.9m7.3-6.1h0.9m36.9 10.5h0.9m-46.9 20.1h0.9m23.3 16.8h0.9m-17.2-55.1h0.9m11-20.9h0.9m-51.7 77.1h0.9m12.8-51.1h0.9m-29.5 17.8h0.9m60.4 24.4h0.9m-21.2 20.7h0.9m-2-54.8h0.9m14.6-34.2h0.9m4 62.4h0.9m-28.4-17.8h0.9m40.8-4.8h0.9m-51.4 15.4h0.9m15.3-29.6h0.9m-29.3-43.2h0.9m37 112.5h0.9m35-67.5h0.9m-40.4 4h0.9m-23.4 24.8h0.9m23.2 1.6h0.9m-3.6-12.2h0.9m43.5-25.5h0.9m-77.7 0.2h0.9m89.9 8.9h0.9m-91.2 20.2h0.9m34.3-48.1h0.9m-9.8 55.4h0.9m58.4-3h0.9m-66.2 14.3h0.9m1.7-10.7h0.9m1.6 4h0.9m48.5-61.2h0.9m-22.5 33.9h0.9m-27.7 15.6h0.9m-15.9 20.7h0.9m46-29.6h0.9m-3.4-8.5h0.9m-45.3-58.5h0.9m-36.6 92.2h0.9m82.2 10.5h0.9m-15.3-34.9h0.9m9.5 30h0.9m-17.4-28.3h0.9m-32.5 16.2h0.9m33.7 3.5h0.9m-70.9-1.3h0.9m60.5-16.7h0.9m-34.9-8.8h0.9m35.6-28h0.9m26.8 15.5h0.9m-19.6 52.7h0.9m-28-50.9h0.9m41.7 39.1h0.9m-54.4-16.8h0.9m44.2 13.3h0.9m9.9-17.9h0.9m-85.4 14.7h0.9m78.1-13.1h0.9m-16.8-34.8h0.9m-19.7 57.5h0.9m18.4-36h0.9m16.8 0.9h0.9m-15-15.1h0.9m-57.2 43.7h0.9m34.8 1h0.9m-11.8-25.1h0.9m12.5 0.1h0.9m-2.4 13.3h0.9m12.7-38.4h0.9m-9.5 25.7h0.9m54.5 2.9h0.9m-44-12.7h0.9m20.8 11h0.9m-39-13.2h0.9m3.5-25.7h0.9m-23.7 30.7h0.9m20.8-18.7h0.9m18.3 20h0.9m-12.2 18.6h0.9m-36.9 13.4h0.9m14.5 11.7h0.9m2.5-32.2h0.9m-7.2 24.9h0.9m-2.9-53.1h0.9m42.5 15.4h0.9m-41.3 14.3h0.9m-4 29h0.9m-3-1.8h0.9m53.1-27.3h0.9m-21.4-40.7h0.9m4.2 62h0.9m-17 18.2h0.9m8.3 7.1h0.9m-11.7-49h0.9m41.2 13.7h0.9m-28.6-31.1h0.9m-38.5 46.6h0.9m-3.9-31.6h0.9m30.7-0.6h0.9m-15 37.3h0.9m11.6 6.2h0.9m-24.3-41.7h0.9m9.5 38.9h0.9m-33.2-3.9h0.9m43.4-39.5h0.9m-6.6 41.3h0.9m-2.7-25.5h0.9m5.4-17.9h0.9m6.7 8.1h0.9m-50.8 3.1h0.9m39-22.1h0.9m-7.9 48.9h0.9m-29.4-18.4h0.9m24.4-13.2h0.9m2.4 9.2h0.9m10.3-6.2h0.9m-12.9-6.5h0.9m25.8 36.6h0.9m-89.5-42.2h0.9m101.9-17.5h0.9m-22.3 44h0.9m-21.9-10.7h0.9m-3.1-17.8h0.9m21.9 9.2h0.9m28.3-30.7h0.9m-4.2 41.6h0.9m-36.6 4.6h0.9m43.2-54.1h0.9m-70.8-12h0.9m-11 22.5h0.9m13 16.7h0.9m86 14.4h0.9m-14-2.8h0.9m-43.2 3.1h0.9m20 9.1h0.9m14.9 6.3h0.9m-39.3-47.6h0.9m-46.3 38.4h0.9m-3.1 27.8h0.9m62.6-41.7h0.9m-17.3 37.8h0.9m-15-25.6h0.9m14.4-8.2h0.9m-39.2 9.7h0.9m40.1-21.2h0.9m-0.6-17.8h0.9m17.1 57.6h0.9m-18.4-13h0.9m56.7-15.6h0.9m-64.9-8.1h0.9m-9.8 1.6h0.9m64.5 15.6h0.9m-67-11.6h0.9m24.9-30.2h0.9m-17.6 69.1h0.9m-13.8-60.7h0.9m4.5 27h0.9m-14.3 17h0.9m97.4-23.1h0.9m-60.5-28.5h0.9m-13.5 41.6h0.9m37.6-2.2h0.9m-65.4 0.3h0.9m36.2-30h0.9m-51.7-0.1h0.9m4.1 27.5h0.9m21.9-37.8h0.9m10.8 46.7h0.9m29.1-9.1h0.9m-42.6-15h0.9m-27.4-27.2h0.9m29.2 74.4h0.9m-34.4-18.7h0.9m39.1-30.6h0.9m4.4 23.9h0.9m13 1.4h0.9m-79.9 0.1h0.9m82.4-45.6h0.9m-49.5 38h0.9m-5.5-9h0.9m1.9 7.3h0.9m38.1-13.8h0.9m21.7 45.8h0.9m-35.2-21h0.9m2.8-36.8h0.9m1 45.2h0.9m-2.4-41.5h0.9m-12.1 31.6h0.9m-39.6 5.5h0.9m26.3 1.7h0.9m37.6-44.2h0.9m-4.3-7.1h0.9m-41.8 43.5h0.9m4.6-62.4h0.9m-43.9 45.5h0.9m-3.3-11.2h0.9m69.1-31.4h0.9m-26.1 28.9h0.9m34.6-13.6h0.9m-38.9 52.6h0.9m-33.7-22.4h0.9m37.2-21.2h0.9m16.8 12.4h0.9m-14.6 35.6h0.9m-22.7-34.6h0.9m2.5 16.2h0.9m30-21h0.9m16.1 48.3h0.9m-30.1-26.8h0.9m23.8 42.7h0.9m-55.1-55.2h0.9m41.8 1.3h0.9m-13.9-7.5h0.9m1.3 45.2h0.9m32.4-62h0.9m-19.1 18.6h0.9m-58 43.2h0.9m20.4-31.6h0.9m25.3-31h0.9m-19.5 45.4h0.9m-17-11.4h0.9m37.4-0.4h0.9m-34.7-27.3h0.9m9.6 28.5h0.9m35.8-51.9h0.9m-8.7 76.6h0.9m-52.2-11.8h0.9m-10-6.5h0.9m23.1-13.9h0.9m35.7-12.9h0.9m47.4 31h0.9m-46.5-34.2h0.9m15.5 9h0.9m-66 63.1h0.9m75.9-68.9h0.9m-11 30.7h0.9m-42-25.4h0.9m5.3 2.1h0.9m-35.8 29.4h0.9m8.9-70.3h0.9m39.2 91.9h0.9m-54.1-71.6h0.9m44 3.7h0.9m-46.3 40.7h0.9m61.6-18.3h0.9m41.2-33h0.9m-60 54h0.9m44.3-36h0.9m-81.2-4.9h0.9m25.8 26.2h0.9m-40.2 2.4h0.9m52.2 11.3h0.9m23.9-28.3h0.9m-22.8 6.6h0.9m-31.3 21.4h0.9m38.2-17.5h0.9m46.8-37.8h0.9m-65.4 25.6h0.9m-10.9-57.5h0.9m69.8 34.2h0.9m-19.3 6.1h0.9m-80.2 73.4h0.9m76.8-40.2h0.9m-12.1-19.8h0.9m-37.8-15h0.9m42.9-1.2h0.9m27 15.1h0.9m-71.2 42.9h0.9m-0.8-42.2h0.9m-3.4 47.7h0.9m-31.3-40.8h0.9m31.4 39.6h0.9m-8.9-44.1h0.9m-1.6-43.2h0.9m-42.5 31.5h0.9m103.4 19.9h0.9m-78.7 50.4h0.9m96.9 1.1h0.9m-116.3-70h0.9m127.1 29.4h0.9m-100.8 19.1h0.9m60.3-51.6h0.9m-38.8 60h0.9m-67.1-36.6h0.9m1.3-39.8h0.9m25.6 58.4h0.9m10.6-45h0.9m17.1-20h0.9m17.2 91.2h0.9m-25.3-53.4h0.9m20.8-73h0.9m-24.7 76.3h0.9m51.8-81.4h0.9m-17.8 40h0.9m-17.3-5h0.9m44.8 13h0.9m-56.5 3.9h0.9m-30.7 93.7h0.9m30.3-81.8h0.9m-60.9-52.5h0.9m-6 79.4h0.9m106.3-26.9h0.9m27.4-6.3h0.9m-87.7-14.5h0.9m71.2-14.7h0.9m-34.4 106.8h0.9m-24.3-26.9h0.9m-7.7-43.3h0.9m-42.1 60.4h0.9m-22.5-49.2h0.9m69.8-10h0.9m-11.6 2.7h0.9m53.6 27h0.9m19.5-3h0.9m-81.9-77.9h0.9m29.2 16.8h0.9m41.2 55.7h0.9m-72.9-35h0.9m40.7 1.6h0.9m-78.1 79.7h0.9m63.4-56.9h0.9m12.9 9.8h0.9m-13.3-33.1h0.9m80.1 9.5h0.9m-25.6 15.6h0.9m-36.9 37h0.9m15.4-63h0.9m-68.3 35h0.9m-13.6-15.3h0.9m106.3-26.3h0.9m-104.6 45.3h0.9m-11 0.6h0.9m46.3-8h0.9m-35.1-33.5h0.9m52.7-11h0.9m35.5-13.4h0.9m-98 77.1h0.9m21.5-72.9h0.9m21 55.6h0.9m72.5-9.7h0.9m-36.7-40.6h0.9m-106.3 79.6h0.9m100.4-67.2h0.9m-51.7-17h0.9m-10.8 88.8h0.9m-13.1-43.5h0.9m-34.2-15.9h0.9m137.7 28.8h0.9m-133.4-15.5h0.9m112.5 6.9h0.9m24.6 1.9h0.9m-93.4 29.4h0.9m-1.6 33.8h0.9m47.8-104.7h0.9m12.4 34.8h0.9m-103.9 18.4h0.9m58.8 0.3h0.9m26 35.5h0.9m-6.5 13.1h0.9m-9.3-50.1h0.9m29.4-10.3h0.9m17.5 3.3h0.9m-100.6 58.8h0.9m59.3-45.9h0.9m-54.7 0.7h0.9m13.5-39.9h0.9m6.3 37.2h0.9m-25.1 25.6h0.9m79 2.6h0.9m-76.1-8.6h0.9m16.1-79.6h0.9m27.7 55.2h0.9m0.9 4.2h0.9m-27.1-50.1h0.9m-11.1-44.1h0.9m-24.7 74.3h0.9m14.9-16.6h0.9m41.2 4.1h0.9m-36 21.3h0.9m-34.5-29.7h0.9m84.5 14h0.9m-101.9 15.1h0.9m57.3-77.2h0.9m-8.6 113.6h0.9m61.2 23.3h0.9m-53.2-19.1h0.9m-35.5-34.6h0.9m-5.2 11.6h0.9m-1.1-43.4h0.9m50.2 22h0.9m-75.8-29.8h0.9m74.1 44.1h0.9m30.3 21.3h0.9m-0.5-5.8h0.9m-42.3 19.7h0.9m33.1-29h0.9m16-108.8h0.9m-75.8 81.6h0.9m-56.6 68.6h0.9m12.5-102h0.9m44.1 32.9h0.9m42.9 54.9h0.9m-54.3-43.8h0.9m20.2-41.8h0.9m-13.6 38.4h0.9m-20.1 7.6h0.9m60.9-12.1h0.9m-52.9 2.9h0.9m20.5-63h0.9m21.7 51.6h0.9m37.5 41.6h0.9m-5.3-64h0.9m-74.9-9.3h0.9m-16.9 99.8h0.9m104.3-96h0.9m-94.3 42.9h0.9m49.2-67.4h0.9m-21.2 87h0.9m-15.5-31.2h0.9m46.4 26h0.9m-72.5-9.9h0.9m67.9 47.1h0.9m-67.9-69.6h0.9m17.1 15.3h0.9m-38 56.3h0.9m89.9-62.8h0.9m-12.5 21.1h0.9m2.9-62.7h0.9m-42.5 51.5h0.9m36-22.8h0.9m-33.7 27.7h0.9m82.8 20.7h0.9m-77.8-24.6h0.9m48.2-22.3h0.9m-60.6-20h0.9m73.9 59.3h0.9m-103-20.3h0.9m57.6-5.4h0.9m-51.1-16.2h0.9m41.1 11.9h0.9m-39-39.1h0.9m24.6 46.2h0.9m-20 15.2h0.9m50.4 20.1h0.9m-10.3-37.7h0.9m-54.6-32.2h0.9m-2.2 42.6h0.9m-10.1 3h0.9m-9.5-70.2h0.9m84.7 47.4h0.9m-80.4-24.8h0.9m59.6 98.8h0.9m-40.5-63.6h0.9m69.8-63.8h0.9m-86.8 61.8h0.9m13.5 43.1h0.9m13.8-68.9h0.9m-3.8 57h0.9m-49.4-86.4h0.9m151.6 40.1h0.9m-103.2 9.8h0.9m33.5-44.8h0.9m-95.1 44.7h0.9m52.6-52.9h0.9m51.3 25.4h0.9m-52.1 61.1h0.9m-48.1 7.3h0.9m34.3-68.4h0.9m9.1 24.9h0.9m-2.6 56.6h0.9m-34.1-38h0.9m24.4-13.7h0.9m61.1 73.7h0.9m17.7-76.2h0.9m-49.2-15.1h0.9m-57.3-14.6h0.9m25.7 55.9h0.9m92.9 34.9h0.9m-101.8-100.8h0.9m49.3-36.8h0.9m30.3 84.2h0.9m33.7-60.6h0.9m-44.7 65.1h0.9m-60.9-50.8h0.9m43.6 81.8h0.9m56.2 13.3h0.9m-115.1-80.5h0.9m-38.1 99.1h0.9m27.4 0.3h0.9m61.7-46h0.9m-40.8 13.2h0.9m13.1-41.2h0.9m33.2 9h0.9m-72.6 29.8h0.9m34.3-4.4h0.9m-19.6-68h0.9m63.3 32.9h0.9m-57.7 70.8h0.9m-3.5-80.6h0.9m106 23.4h0.9m-5.9-54h0.9m-84.4 45.3h0.9m-58.4 53.9h0.9m18.2-47.1h0.9m91.5 2.5h0.9m-73.9-42.9h0.9m-53.1 19.3h0.9m104.6 9.9h0.9m-19.5-13.9h0.9m-34.7 44.3h0.9m-7.1 26.6h0.9m16.1-17.5h0.9m37.2-42.6h0.9m19.3-12.3h0.9m-16 14.8h0.9m-21.4-2.9h0.9m-15.3-24.5h0.9m8.6 44.8h0.9m-38.7-4h0.9m31.4-22.5h0.9m-13.5-15.5h0.9m18.4 87.1h0.9m-33.2-102h0.9m6.9 63.3h0.9m54.7-53.7h0.9m-25.9 46.1h0.9m-3.4-21.4h0.9m48.8 16.7h0.9m17.9-27.5h0.9m-50.4 29.2h0.9m-52.3 27.7h0.9m0.4-131.8h0.9m12.7 54.8h0.9m-20.2 52.2h0.9m126.7 18.6h0.9m-108.9-70.9h0.9m73.8 54.9h0.9m-89 16.1h0.9m-15.1-13.3h0.9m-42 37.6h0.9m63.3 2.9h0.9m-5.6-51.8h0.9m-49.4 35.8h0.9m15.3-49.9h0.9m41.2 24.3h0.9m37.2-19.9h0.9m-49.9 21.6h0.9m3.9-47.7h0.9m3.4 81h0.9m-49.7-54.8h0.9m-16.7 52.7h0.9m61-71.7h0.9m7.9-14.1h0.9m-54.9-10.3h0.9m-2.5 112.7h0.9m15.1-35.7h0.9m-5.8 11.8h0.9m-10.1-28.8h0.9m78.7-25.3h0.9m-42.6 7h0.9m-5.5-35.5h0.9m82.5-4.7h0.9m-77.9 98.7h0.9m7.3-81h0.9m-64.2 30h0.9m27.5 17.4h0.9m-31.9 24.3h0.9m71.9-24.9h0.9m62.8-25.1h0.9m-104.9-4.4h0.9m24.7 18.3h0.9m-31.6-77.3h0.9m12.1 95.3h0.9m32.5 33.6h0.9m86.5-17.6h0.9m-28.4 0.3h0.9m-21.6-2.4h0.9m-56.5-30h0.9m-7.2 26.6h0.9m-19.3-32.5h0.9m23.1 25.8h0.9m79.7-6.2h0.9m-1.6-61.7h0.9m-60.2 106.7h0.9m-67-68.5h0.9m124.5-63.2h0.9m-43.3 96h0.9m66.7-84.6h0.9m-18.1 40.9h0.9m-99.7-26.5h0.9m-31.6 65h0.9m-2.1 13.5h0.9m20.7-78.1h0.9m5.6 62h0.9m11.1-12.1h0.9m45.8 41.9h0.9m-49.2-85.1h0.9m17.7 60.6h0.9m-74.7-54.4h0.9m34.7 27.3h0.9m-2.9 36.6h0.9m19.6-35.3h0.9m-54.7-17.3h0.9m49.6 8.6h0.9m25.7-10.8h0.9m62.7 46h0.9m-110.5-15.7h0.9m43.8 44.8h0.9m-35.7-17.9h0.9m29.9 29h0.9m59.1-51.8h0.9m-75.5 12.4h0.9m15.5-36.5h0.9m-26.8-32.3h0.9m47.9 15.7h0.9m25.1-18.9h0.9m-47.5 97.7h0.9m-27.4-40.4h0.9m46.9 23.4h0.9m-15.2 10.9h0.9m29.3-112.1h0.9m27.6 73.3h0.9m-21.8-28.6h0.9m-21.8 17.4h0.9m44.9 27.6h0.9m-31.8-104.1h0.9m-49.9 103h0.9m13.9 22h0.9m-29.2-36.4h0.9m73.4-93.1h0.9m-29.3 77.7h0.9m-73 26.9h0.9m101.8 28.1h0.9m-66.3-6.6h0.9m47.3-38.5h0.9m-75.9-21.9h0.9m72.6 23.7h0.9m-91.3-65.7h0.9m89.2 45.5h0.9m-24.9 71.5h0.9m-79.6-51.4h0.9m53.7 17h0.9m66.8-68.4h0.9m-33 94.5h0.9m-37.2-46.8h0.9m28.1 19.3h0.9m7 8.7h0.9m-76 17.1h0.9m102.2-32.2h0.9m-128.6-12h0.9m80.1-41.2h0.9m-27.5-10.6h0.9m45.6 63h0.9m-32.8 14.1h0.9m-17-52.8h0.9m-19.1 10.6h0.9m37 27.4h0.9m-11-22.8h0.9m-28.7-5.4h0.9m-30.1 56h0.9m21.6 2.7h0.9m32.7-54h0.9m86.4 40.3h0.9m-31.4-5.3h0.9m-68.9 7.1h0.9m78.4-19.1h0.9m27.6 28.6h0.9m-77.2-23.9h0.9m-4.5-60.1h0.9m-11.8 58.8h0.9m-16.6 4.7h0.9m20.1 17.4h0.9m29.9-24.2h0.9m-39.5-9.9h0.9m-10.5-16.3h0.9m89.6 74.9h0.9m-53.7-59.7h0.9m7.5 7.3h0.9m-39.7 10.5h0.9m-13-3.4h0.9m30.1 14h0.9m-40.4 4.3h0.9m-14.7-51.3h0.9m17.2-20h0.9m73.3 4.1h0.9m-83.2 89h0.9m5.2-57.7h0.9m-22.1 40.8h0.9m88.3-3.7h0.9m-15.7-26.7h0.9m-51.9-35.5h0.9m86.2 63.2h0.9m-96.1-29h0.9m18-46.7h0.9m22 28.5h0.9m-55.1-42.6h0.9m40.7 24.2h0.9m34.4 32.4h0.9m-4.4-4.7h0.9m-66.4 11.9h0.9m-23.7 17h0.9m14.7 15.1h0.9m27.9 5.8h0.9m-38.6-69.6h0.9m71.3 73.9h0.9m60.8-45.1h0.9m7.3-13.3h0.9m-36.4-26.1h0.9m-33.4-56h0.9m-74.9 112.4h0.9m-10.1-1.6h0.9m105.6-37.2h0.9m-90.9 1.1h0.9m-0.8 15h0.9m50.4-8.2h0.9m74.6-16.6h0.9m-14.5-12.8h0.9m-64.2 88.9h0.9m49.9-64.1h0.9m-28.6 33.6h0.9m-53.4 7.8h0.9m114.4-5.7h0.9m-63.1 8h0.9m-98.2-8.5h0.9m20.4-42h0.9m151.7 13.5h0.9m-140.2 56.2h0.9m-10.9-64h0.9m104.6 19.6h0.9m-90 40.3h0.9m113.4-76h0.9m-95.4 49.5h0.9m-32.8-4.7h0.9m29.5-20.6h0.9m12.2 12.7h0.9m4.7-26.9h0.9m-35.4 19.3h0.9m23.6-12.9h0.9m16.7-55h0.9m-51.5 61.4h0.9m35.1 18.3h0.9m-25-7.7h0.9m-36-6.2h0.9m12.4-4.3h0.9m114.4 44.3h0.9m-7.9 22.3h0.9m-31.9-73.6h0.9m-83 64h0.9m41.4 7.5h0.9m88-94.3h0.9m-105.6-0.4h0.9m-36.6 68h0.9m48.7-24.6h0.9m35.2-76.4h0.9m34.2 60.3h0.9m-37.1 38.8h0.9m39.3-29h0.9m-57.1-37.2h0.9m-3.4 27h0.9m-72.5 41.3h0.9m36.5-43.2h0.9m4 65.7h0.9m19.3-46.2h0.9m-20.1 15.3h0.9m85.1 7.4h0.9m-32.7-1.7h0.9m-100.2-59.2h0.9m55.6 6h0.9m-42.2-45.9h0.9m-14.4 64.6h0.9m60.4-21.4h0.9m6.2 14.3h0.9m47.6 10.9h0.9m-19.8 14.6h0.9m-101.6-11.7h0.9m7.1-0.7h0.9m22.6 19.6h0.9m-29.5-14.7h0.9m91 35.7h0.9m-65.1-35.6h0.9m-35.3-37.1h0.9m109.1-0.1h0.9m-62.4 73.4h0.9m10.8-67h0.9m-4.1-20.5h0.9m23.5 44.6h0.9m15.2 14h0.9m-17.4-65.9h0.9m12.8 44.7h0.9m-32.5 55.1h0.9m-27.4 12.1h0.9m102.9-23.9h0.9m-117.3-117.6h0.9m98 92h0.9m-88.5 42.4h0.9m-6.5-63.9h0.9m65.7-27.5h0.9m-31.4 88.1h0.9m14.5 6.3h0.9m43.4-49.6h0.9m-18.7-62.3h0.9m-53.2 75.5h0.9m85.3-36.5h0.9m-102.3 20.9h0.9m46.8-4.1h0.9m32.7-25.8h0.9m-45.5 49.8h0.9m-25.9 15.8h0.9m25.5-2h0.9m1.2-16.5h0.9m-40.6-40.3h0.9m88.3 50.6h0.9m-108.8-18.2h0.9m94.3-12.2h0.9m-41.3-115.7h0.9m-25.4 134.2h0.9m40.2 25h0.9m-33.3-45.1h0.9m-54.7-1.6h0.9m2.4-65.7h0.9m7.6 134.2h0.9m38.2-51.5h0.9m-12.5-80.4h0.9m68.6-15.3h0.9m-72.4 84.7h0.9m36.8-26.9h0.9m-47.9-1.8h0.9m81.6-17.6h0.9m-33.1 54.8h0.9m30.8-11.6h0.9m-9-1.6h0.9m-18-53.2h0.9m-1.1 79.1h0.9m-46.8 40.6h0.9m2.2-42.8h0.9m6-42.9h0.9m34.5 44.2h0.9m-83.6-25.9h0.9m14.8-8h0.9m26.6-7.7h0.9m32.7 14.5h0.9m21.2 27.8h0.9m-24.1 8.6h0.9m-7.7-0.6h0.9m28.8-20.3h0.9m-59.9 9.2h0.9m41.9-40.1h0.9m-59.6 10.2h0.9m14.3-44.1h0.9m-8.6 68.9h0.9m91.2 11.6h0.9m-88.5-4.1h0.9m25.2-25.8h0.9m-5.1 6.8h0.9m68.5 0.1h0.9m-13.3 38.4h0.9m-21-109.1h0.9m20.7 53.2h0.9m-20.1-20.6h0.9m-81.2 84.7h0.9m50.7-62.6h0.9m-8.8-35.2h0.9m0.6 8.7h0.9m-19.2 80.3h0.9m30.3-96.3h0.9m27.8 59h0.9m-67.8 30.2h0.9m17.1-76.5h0.9m95.8 45.9h0.9m-93.5-15.5h0.9m59.6-4.8h0.9m6.2 54.3h0.9m-76.8 21.6h0.9m47.2-65.6h0.9m-44.8 23.9h0.9m-32.8-13h0.9m53.8-67.7h0.9m-24.8 55.4h0.9m57.5-61.7h0.9m-68.5 54.5h0.9m63.5 17.6h0.9m39.2 28.2h0.9m-106.8-16.9h0.9m1.8 24.8h0.9m-47.8-67.3h0.9m84.9 81.9h0.9m-29.5-124.4h0.9m4.9 72.8h0.9m30.4-19.4h0.9m-84.5 5.5h0.9m53.9 25.7h0.9m-40.4 26.9h0.9m7.2-70.9h0.9m2.9 77.8h0.9m18.7-70.8h0.9m15.6 77.2h0.9m38.7-73.6h0.9m-49.3-27.1h0.9m-12 26.3h0.9m-10.4-5h0.9m4.6 51.3h0.9m7.2-95.9h0.9m-31 13.8h0.9m46.6 80.9h0.9m-0.3-51.6h0.9m-1.4 12.7h0.9m-67.3 48.5h0.9m93 8.3h0.9m-69.4 9.2h0.9m4.6-21.1h0.9m-1.7-35.1h0.9m28-7.4h0.9m79-30.1h0.9m-112.3 10.3h0.9m-0.9 77.5h0.9m97.1-69.3h0.9m-106.5-18.3h0.9m96.5 91.1h0.9m-68.7-100.6h0.9m-58.5 62.6h0.9m88.2-89.4h0.9m-37.7 142.2h0.9m40.7-103h0.9m-46.1 38.3h0.9m-32.6-33.7h0.9m117.1-0.3h0.9m-21.4 21.6h0.9m-53.9 40h0.9m-28.4 0.2h0.9m68.8 2.2h0.9m-104.2-71.7h0.9m28.3 54.2h0.9m47.1-18.7h0.9m9.4 20.2h0.9m-52.1-86.3h0.9m31.5 39.3h0.9m-35.1 57.3h0.9m94.9-20.7h0.9m-42.3-56.3h0.9m-15.7 55.4h0.9m46.3-19.2h0.9m-71.5 64h0.9m6.3-86.8h0.9m0.4 58.3h0.9m15-21.5h0.9m-22.6-1.8h0.9m-2.6 33.3h0.9m-6.4-38.1h0.9m-6.7-47.8h0.9m13.3 45.7h0.9m63-31.6h0.9m-84.8 12h0.9m96 1.1h0.9m-43.1 73.6h0.9m-34.9-93.9h0.9m-59.4 89.5h0.9m4.1-18.7h0.9m65.1-0.6h0.9m16.2-52.4h0.9m-70.3 65.9h0.9m15.7-138.6h0.9m60.4 68.5h0.9m-9.6 97.2h0.9m-22.5-15.9h0.9m-52.7-40.1h0.9m82.4-7.3h0.9m22.1-9.7h0.9m-42.7 39.4h0.9m42.8-69.6h0.9m-121.1 97.8h0.9m75.3-59.4h0.9m-13.6-86.3h0.9m-10.5 65.3h0.9m52.3 69.9h0.9m-17.3-24h0.9m-100.5 7.8h0.9m101.2 26.2h0.9m70.6-117.5h0.9m-121.2 38h0.9m26 30.2h0.9m-20.4 40.6h0.9m-42.6-82.7h0.9m2.8 27.2h0.9m-10.7 12.5h0.9m50.2-29.6h0.9m48.9 29.1h0.9m8.2-5.4h0.9m-53.1-14.7h0.9m0 51h0.9m-20.3-7.8h0.9m-20.2 9.7h0.9m10.3 3.7h0.9m-28.5-93.1h0.9m24.9 3.6h0.9m-37.7 80.3h0.9m65.3-44.1h0.9m-19.3-4.7h0.9m96.9-5.5h0.9m-143.6 61.2h0.9m37.3 2h0.9m76.3-54.7h0.9m-88.5 50.6h0.9m62.4-86.1h0.9m-82.7-45.1h0.9m81.9 91h0.9m-37.3-57.2h0.9m-45.8 48.6h0.9m19.5 23.8h0.9m30.4 39.9h0.9m-39.7-111.6h0.9m22 3.1h0.9m16.7 32.7h0.9m-27.4-34.3h0.9m68 36.4h0.9m8.3-0.2h0.9m-79.2 43.1h0.9m53.6 16.9h0.9m-33.7-9.6h0.9m39.2-13.1h0.9m-43.5-65.8h0.9m34.7 59.5h0.9m-49.6 49.4h0.9m17.9-38.4h0.9m-18.8-79.4h0.9m11.4 80.1h0.9m38.3-21.3h0.9m65.1-35.8h0.9m-30.9 6.3h0.9m-78.2 62.4h0.9m11.5-6.6h0.9m-17.3 7.9h0.9m87.7-31.6h0.9m6.3-19.2h0.9m-47.2 44.1h0.9m-88.9-11h0.9m50.8-42.7h0.9m15.9 40h0.9m-21.6-8.6h0.9m-1.7-12h0.9m10.1-11.1h0.9m-35.7 5.6h0.9m125.1-32.6h0.9m-78.4 62.7h0.9m-5.3 39.6h0.9m41.5-67.5h0.9m-50-56.6h0.9m-5.4 42.8h0.9m-14.6-35.6h0.9m27.4-0.5h0.9m-13.2 18.8h0.9m-48.8 95.3h0.9m68.1-0.2h0.9m45.8-76.9h0.9m-3.8-27.7h0.9m-37.1 38.9h0.9m-81.4 44.3h0.9m89.2 12h0.9m-36-31.3h0.9m14.1 6.9h0.9m-0.2-4h0.9m13.6-73.3h0.9m-47.7 9.7h0.9m-17.4 60.5h0.9m58.2-87.8h0.9m-62.3 97.3h0.9m77 25.5h0.9m-35.7-4.8h0.9m-8.6-13.1h0.9m-26.4-17.6h0.9m-16.1 45.9h0.9m102.5 4.7h0.9m-93.5-93.4h0.9m80 60h0.9m-46.4-47.1h0.9m3.7-18.1h0.9m9.1 98.6h0.9m47-26.9h0.9m-145.5-20.4h0.9m168.1-42.6h0.9m-106.4 91.2h0.9m-33.3-96.1h0.9m93.1-8.2h0.9m-69.1 45.2h0.9m58.2 27.2h0.9m-28.7-40.7h0.9m10.4 20.1h0.9m-96.4-29.5h0.9m51.1 4.1h0.9m69.3 15h0.9m-118.8 59.9h0.9m54.7-122.6h0.9m35.7 110.1h0.9m-40.4-11.6h0.9m-20.4-62.7h0.9m58.8 14.6h0.9m-9.8-25.8h0.9m-91.8 74.7h0.9m76.1 6.7h0.9m-38.6-68.7h0.9m90-29.1h0.9m-6.1 113.7h0.9m-19.7-80.3h0.9m-81.4 19.1h0.9m-23.9-30.1h0.9m92.2 64.5h0.9m-82.2 1h0.9m71.3 33.4h0.9m4.6-18.1h0.9m-5.3-3.1h0.9m-85.6-44.1h0.9m59-4.8h0.9m22.3 35.1h0.9m-3.4-32.5h0.9m-55 51h0.9m51.2-84.6h0.9m-27-29h0.9m10.1 61.8h0.9m-58.1 36.2h0.9m159.6 14.8h0.9m-107.4-88.5h0.9m-64.8 28.9h0.9m31.5-12.3h0.9m16.4 24.7h0.9m38.1-45.4h0.9m-56.9 43.1h0.9m42.9-58.1h0.9m8.1 86.3h0.9m-27-70.3h0.9m89.5 5.7h0.9m-53.6 50.8h0.9m-5.6-30.3h0.9m25.2-2.9h0.9m-46.1-26.5h0.9m-58.4 53.8h0.9m66.4-70.2h0.9m5.3 35.3h0.9m36.6 18.7h0.9m-116.2 17.1h0.9m9 47.8h0.9m43.1-56.9h0.9m27.5-34.1h0.9m-91.2 56.5h0.9m8.2-60.3h0.9m92.1 65h0.9m-101.3-45.8h0.9m102.8 8h0.9m-16.7-37.4h0.9m-60.9 58.4h0.9m53.1-8.1h0.9m-10.7 7h0.9m-20.7-14.9h0.9m-13.5 21.1h0.9m39.3-1.4h0.9m-77.2-47.9h0.9m74.8 98.9h0.9m-12.7-75.4h0.9m2.6-29h0.9m51.1 53h0.9m-95.8-14.2h0.9m5.9 59.2h0.9m14.7-46.3h0.9m36.3-35.8h0.9m-19.1 40.6h0.9m-12.4-5.8h0.9m3 5.2h0.9m61.6-57.6h0.9m-81.5 73.9h0.9m38.6-8.3h0.9m30.3-30.7h0.9m-102.9-0.3h0.9m81 28.9h0.9m-15.7-24.9h0.9m-38.2 1.4h0.9m51.8 40.8h0.9m-84-3.1h0.9m16.2-11.7h0.9m10.2-11.7h0.9m48.3-42.1h0.9m-33.5 24.3h0.9m-22.1-6.9h0.9m77.2-6.3h0.9m-27.1 36.5h0.9m-95.2 8.2h0.9m-1.6 4.3h0.9m42.6-24.8h0.9m-38.7 4.6h0.9m105.7-37.2h0.9m-74.5 50.5h0.9m51.2-115.6h0.9m72.8 118.5h0.9m-64.1-26.8h0.9m-61.5 27.5h0.9m15.7-12.3h0.9m-27.6 25.1h0.9m97.5-38h0.9m-6.1-0.4h0.9m-2.7 2.5h0.9m-113.9-22.1h0.9m17.4-33.7h0.9m51 43.7h0.9m27.9-37.3h0.9m-77.5-44.8h0.9m135.5 99.2h0.9m-140.4-15.6h0.9m80.5-8.7h0.9m-31.4 20.1h0.9m-39.6-20.5h0.9m40.5-18.1h0.9m6.7 20.2h0.9m-16.5 74.3h0.9m-15.1-18.6h0.9m77.1-68.2h0.9m-81 44.7h0.9m30.8 39.8h0.9m-39.7-82.7h0.9m5.6-16.8h0.9m33.1 31h0.9m-56.3 35.3h0.9m-23.6 10.9h0.9m31 15.6h0.9m3.2-21.1h0.9m26.6 4.5h0.9m-4.2-96.3h0.9m42.2 63h0.9m-11.4 31.1h0.9m-75.9-64.2h0.9m67.7 24.5h0.9m12.5 5h0.9m3.3 24h0.9m-36.2-31.9h0.9m-3.5 62.7h0.9m-14.7-26.5h0.9m3.9-16.2h0.9m79.6 43.1h0.9m-79.8-39.5h0.9m-38.4-15.5h0.9m47.7 40.9h0.9m20.2-78.4h0.9m10 40.8h0.9m-95.2 57.1h0.9m116.7-43h0.9m-37.1 20.2h0.9m32.1-1.6h0.9m-16.7-49.5h0.9m-101.5 40.6h0.9m35.1-7h0.9m48.2-35.9h0.9m-90.2 38.1h0.9m27.1-9.6h0.9m-39.8-15.9h0.9m97.9 34.3h0.9m-73-70.9h0.9m37.7 69.1h0.9m17.7-42.9h0.9m-6 80.6h0.9m-5.4-125.4h0.9m-72.5 66.5h0.9m50 2.6h0.9m19.3 41.8h0.9m-6.1 5.5h0.9m-10.6-65.1h0.9m-27.4-58.7h0.9m53.2 100.2h0.9m-42.7-37.3h0.9m90.3 42h0.9m-70.6-23.8h0.9m-38.8-66.3h0.9m-18.8 59.9h0.9m39.2-60.8h0.9m11.3 46.1h0.9m-55.4-2.1h0.9m40-9.9h0.9m59-51.4h0.9m-40.8 92.3h0.9m-31.4-52.9h0.9m24.6 19h0.9m74 4.7h0.9m-84.7 35.2h0.9m39.4 7.1h0.9m-18-21.5h0.9m-10-30.8h0.9m52.4 35.2h0.9m-17.9-47h0.9m-54.5 72.7h0.9m83-68.7h0.9m-62.4 40.6h0.9m-25.5 27.9h0.9m79-79.1h0.9m-83 78h0.9m9.8-56.3h0.9m53.8 63.8h0.9m-71-35.6h0.9m-37.3-44.3h0.9m63.1 37.1h0.9m-53.3-29.9h0.9m-5.6 46.8h0.9m2.7-65.9h0.9m41.2 96.8h0.9m33.3-77.7h0.9m4.1-61.1h0.9m-70.8 56.7h0.9m39 24.9h0.9m-11.5 1.1h0.9m7 28.6h0.9m5.2-33h0.9" stroke="#2a2a2a" stroke-width="0.9" stroke-opacity="0.17" fill="none"/>
<path d="M44.5 249.5h0.9m138.5 78.4h0.9m21.1 27h0.9m-6.2-121.1h0.9m-11.3 76h0.9m29.9 43h0.9m-74.9 37.5h0.9m67.7-107.8h0.9m-3.4 123.2h0.9m-116.7-23.7h0.9m99.3-35.4h0.9m-13.8-47.2h0.9m-3.9 58.3h0.9m21 19.2h0.9m-94.2-93.6h0.9m2 125.8h0.9m42.8-15.4h0.9m16.9-77.2h0.9m25 43.3h0.9m-1.6-36.3h0.9m-29.1 43.3h0.9m42 12h0.9m-142.7-146.7h0.9m139.8 10.2h0.9m-162.4 47h0.9m88.6 106.1h0.9m-85.7-94.8h0.9m86.2 89.3h0.9m-33.3-77.6h0.9m-57.1-31.7h0.9m102.3 111.7h0.9m14.2-62.1h0.9m-102.4-36.5h0.9m93.9-57.7h0.9m-94.8 12.1h0.9m-8.5 5.2h0.9m0.9 41.2h0.9m81.5 44.2h0.9m31.8-54.7h0.9m-34-44.1h0.9m37.8 36.3h0.9m-40.6 26.3h0.9m36.6 106.5h0.9m31.7-109.4h0.9m-107.6-55.4h0.9m-44.8 89.8h0.9m-3.5 61.7h0.9m83.3-24.2h0.9m-10.1 9h0.9m-67 16.8h0.9m126.2-53.2h0.9m12.7 65.4h0.9m-129.1-175.5h0.9m-9.3 146.3h0.9m0.4 4h0.9m30.7 10.9h0.9m84-80h0.9m-47.8 56.5h0.9m-97.2-108.2h0.9m73 74.5h0.9m-70.6-44.6h0.9m56.6 43.3h0.9m-1.4 14.5h0.9m43.7-60h0.9m-18.9-23.8h0.9m58.4 19.2h0.9m-157.3 62.5h0.9m137.1 2.3h0.9m-137.8 11.8h0.9m50.4-112.2h0.9m104 126.3h0.9m-35.4-23.8h0.9m-95.4-120h0.9m57.2 55.6h0.9m41.2 24h0.9m38.4-19.4h0.9m-56.1-44.4h0.9m-112 16.4h0.9m85.6-33.3h0.9m-64 12.5h0.9m-20.1 31.6h0.9m99.4 101h0.9m31.7-53.5h0.9m-135.9-18.6h0.9m135.3 43.3h0.9m-15-22h0.9m7.4-74.8h0.9m-93.3 16.6h0.9m26.2 0h0.9m-50.8 68.9h0.9m20.8-25.3h0.9m10.8-13.5h0.9m2.1 30.9h0.9m-27.2 75.4h0.9m1.6-119.7h0.9m128.9 37.6h0.9m-22.3-7.2h0.9m-80.9 43.1h0.9m109 2.5h0.9m-130.1-0.2h0.9m29.7-96.3h0.9m73.2 45.2h0.9m-68.4 66h0.9m-38.9-78.4h0.9m23.5 110h0.9m23.2-113h0.9m21 24.2h0.9m-40.1-4.2h0.9m3.8-7.5h0.9m-31.4 75.2h0.9m48.5-126h0.9m-58.4 75.3h0.9m117.2 9.3h0.9m-22.8 42.4h0.9m-62.3-44.1h0.9m60.4 64h0.9m-135.7-16h0.9m60.6-95.6h0.9m16.5 93.3h0.9m4.5 18h0.9m49.9-128h0.9m38.1 64.5h0.9m-107.1-60h0.9m-6.2 67.1h0.9m46.4-101.4h0.9m-60.9 116.9h0.9m-26.3-57.4h0.9m148.5 30.6h0.9m-28.6-102.5h0.9m26.2 122.2h0.9m-135.8-36.4h0.9m-37.4 23.6h0.9m75.6-56.5h0.9m89.5-31h0.9m-145.8 52.9h0.9m-4.7 92.8h0.9m-9.7-130.7h0.9m125.9 81.7h0.9m2.9-114.2h0.9m-17.4 122h0.9m-117.9-87.6h0.9m121.2 38.9h0.9m-51-15.3h0.9m-53.8-46.5h0.9m24.1 42.5h0.9m36.6 0.8h0.9m-32.1 31.4h0.9m115.7 82.2h0.9m-91.1-91.7h0.9m-19.6 81.1h0.9m54-82.7h0.9m-5.1-64.6h0.9m-119 22.4h0.9m111.4 32.4h0.9m-69.2-15h0.9m23.1 98.6h0.9m59.4-34.1h0.9m-28-18.4h0.9m-35.3-15.9h0.9m-37.6-17.1h0.9m60.7 39.2h0.9m-34.8-89h0.9m107.2 7h0.9m-69.8 25.6h0.9m59.5-24.1h0.9m-87.6 92.4h0.9m78.8-119.1h0.9m-141.4 24.7h0.9m43.1 135.5h0.9m-41 17.4h0.9m-9.3-93.1h0.9m160.7 1.4h0.9m-37.7 50.7h0.9m-17.6-134.5h0.9m-17.8 71.3h0.9m5.9-59.7h0.9m11.7 55h0.9m33.3 106.3h0.9m-42.7-42h0.9m26.7 42.3h0.9m-86.1-43.6h0.9m125.9-25.2h0.9m-173.1 26.6h0.9m63.7-17.3h0.9m89.4-35.6h0.9m-128.7-31.3h0.9m-8 41.5h0.9m39.9-47.7h0.9m10.5 41.6h0.9m91.2-62.1h0.9m-18.7 76.5h0.9m-68.6-58.4h0.9m91.8 8.8h0.9m-61.2 37.5h0.9m41.3-61.4h0.9m-115.3 145.9h0.9m43.4-94h0.9m-84.6-17.3h0.9m-4.7-59h0.9m126 148.6h0.9" stroke="#555" stroke-width="0.6" stroke-opacity="0.35" fill="none"/>
<path d="M102.4 226.7 101.7 318 99 351.4" stroke="#f5a033" stroke-width="1.0" fill="none" stroke-linejoin="round" stroke-linecap="round"/>
<circle cx="102.4" cy="233" r="1.5" fill="#f5a033"/><circle cx="102.3" cy="244" r="1.5" fill="#f5a033"/><circle cx="102.2" cy="255.6" r="1.5" fill="#f5a033"/><circle cx="102.1" cy="271" r="1.5" fill="#f5a033"/><circle cx="102" cy="283.4" r="1.5" fill="#f5a033"/><circle cx="101.9" cy="293" r="1.5" fill="#f5a033"/><circle cx="101.8" cy="302.6" r="1.5" fill="#f5a033"/><circle cx="101.8" cy="310.4" r="1.5" fill="#f5a033"/><circle cx="101.7" cy="317" r="1.5" fill="#f5a033"/><circle cx="101.4" cy="322.3" r="1.5" fill="#f5a033"/><circle cx="100.9" cy="327.5" r="1.5" fill="#f5a033"/><circle cx="100.5" cy="332.2" r="1.5" fill="#f5a033"/><circle cx="100.2" cy="336.5" r="1.5" fill="#f5a033"/><circle cx="99.8" cy="340.9" r="1.5" fill="#f5a033"/><circle cx="99.6" cy="344.3" r="1.5" fill="#f5a033"/><circle cx="99.3" cy="347.8" r="1.5" fill="#f5a033"/><circle cx="99" cy="351" r="1.5" fill="#f5a033"/>
<path d="M98.8 352 95.1 376.5" stroke="#4ae8f4" stroke-width="2.0" fill="none" stroke-linejoin="round" stroke-linecap="round"/>
<path d="M207.5 226.7 202.8 250" stroke="#4ae8f4" stroke-width="1.3" fill="none" stroke-linejoin="round" stroke-linecap="round"/>
<path d="M78.4 355L91.2 353.2" stroke="#222" stroke-width="1.2"/><path d="M96.6 352.4L91.6 355.9L90.8 350.4Z" fill="#222"/>
<text x="55.6" y="358.6" font-size="10.2" fill="#c4703a" textLength="19.4" lengthAdjust="spacingAndGlyphs" font-weight="bold">z=11</text>
<path d="M59 300.5H71.4M65.5 285V329M139.4 304.5H152M145.5 281.6V327M156.5 298.4V309.6M175.5 287.6V329.5M170 308.5H180.6M183.5 285.6V331.7M188.5 296V323.5" stroke="#f0a0a0" stroke-width="0.9" fill="none"/>
<path d="M84 302.5H102.4M92.5 302.5V283" stroke="#e8332b" stroke-width="0.9" fill="none"/>
<path d="M92.5 279.5L90.7 284.2H94.3Z" fill="#e8332b"/>
<circle cx="65" cy="300.6" r="1.0" fill="#e8332b"/><circle cx="145.4" cy="304.4" r="1.0" fill="#e8332b"/>
<circle cx="156.4" cy="304" r="1.9" fill="#e8332b"/>
<path d="M172.9 321 174 313 175.4 306 177 300 179 295 183 293 191 293 200 293 205 291 211 287 217 285.5 223.4 284.2" stroke="#2540f2" stroke-width="1.2" fill="none" stroke-linejoin="round" stroke-linecap="round"/>
<circle cx="173.4" cy="304.6" r="3.4" fill="#e8332b" stroke="#2540f2" stroke-width="1.1"/>
<circle cx="183.4" cy="308.6" r="2.2" fill="#e8332b" stroke="#2540f2" stroke-width="1.1"/>
<circle cx="188.6" cy="309.6" r="2.7" fill="#e8332b" stroke="#2540f2" stroke-width="1.1"/>
<path d="M139 353.3h4.1v4.1h-4.1ZM136.4 355.4h4.1v4.1h-4.1ZM133.9 357.9h4.1v4.1h-4.1ZM131.4 360.4h4.1v4.1h-4.1ZM128.9 362.9h4.1v4.1h-4.1ZM126.5 365.4h4.1v4.1h-4.1ZM137.9 356.9h4.1v4.1h-4.1ZM134.9 359.4h4.1v4.1h-4.1ZM131.9 361.9h4.1v4.1h-4.1ZM140.6 363.4h4.1v4.1h-4.1ZM133.3 369.6h4.1v4.1h-4.1ZM136.9 376.6h4.1v4.1h-4.1ZM142.6 372.9h4.1v4.1h-4.1ZM142.6 379.6h4.1v4.1h-4.1ZM144.8 381.6h4.1v4.1h-4.1ZM142 385.8h4.1v4.1h-4.1ZM147.5 387.1h4.1v4.1h-4.1ZM151.1 384.6h4.1v4.1h-4.1ZM149.5 391.8h4.1v4.1h-4.1ZM155.2 391.1h4.1v4.1h-4.1ZM159.2 396.4h4.1v4.1h-4.1ZM166.9 396.4h4.1v4.1h-4.1ZM170.8 401.2h4.1v4.1h-4.1ZM181.5 403.9h4.1v4.1h-4.1ZM184.5 407.3h4.1v4.1h-4.1Z" stroke="#74cf63" stroke-width="0.85" fill="none"/>
<text x="44.6" y="246.6" font-size="12.4" fill="#e8332b" textLength="85.4" lengthAdjust="spacingAndGlyphs" stroke="#e8332b" stroke-width="0.1">F150W dropout</text>
<text x="48.1" y="391.8" font-size="12.4" fill="#74cf63" textLength="16.2" lengthAdjust="spacingAndGlyphs" stroke="#74cf63" stroke-width="0.2">BD</text>
<text x="48.0" y="406.5" font-size="12.4" fill="#2540f2" textLength="69.9" lengthAdjust="spacingAndGlyphs" stroke="#2540f2" stroke-width="0.25">Mid-z old glx</text>
<rect x="39.2" y="226.9" width="184.2" height="184.5" fill="none" stroke="#8a8a8a" stroke-width="1.35"/>
<path d="M43.8 411.4v-2.1M43.8 226.9v2.1M39.2 406.8h2.1M223.4 406.8h-2.1M48.4 411.4v-2.1M48.4 226.9v2.1M39.2 402.2h2.1M223.4 402.2h-2.1M53 411.4v-2.1M53 226.9v2.1M39.2 397.6h2.1M223.4 397.6h-2.1M57.6 411.4v-2.1M57.6 226.9v2.1M39.2 392.9h2.1M223.4 392.9h-2.1M62.2 411.4v-2.1M62.2 226.9v2.1M39.2 388.3h2.1M223.4 388.3h-2.1M66.8 411.4v-2.1M66.8 226.9v2.1M39.2 383.7h2.1M223.4 383.7h-2.1M71.4 411.4v-2.1M71.4 226.9v2.1M39.2 379.1h2.1M223.4 379.1h-2.1M76 411.4v-2.1M76 226.9v2.1M39.2 374.5h2.1M223.4 374.5h-2.1M80.6 411.4v-2.1M80.6 226.9v2.1M39.2 369.9h2.1M223.4 369.9h-2.1M85.2 411.4v-3.6M85.2 226.9v3.6M39.2 365.3h3.6M223.4 365.3h-3.6M89.9 411.4v-2.1M89.9 226.9v2.1M39.2 360.7h2.1M223.4 360.7h-2.1M94.5 411.4v-2.1M94.5 226.9v2.1M39.2 356h2.1M223.4 356h-2.1M99.1 411.4v-2.1M99.1 226.9v2.1M39.2 351.4h2.1M223.4 351.4h-2.1M103.7 411.4v-2.1M103.7 226.9v2.1M39.2 346.8h2.1M223.4 346.8h-2.1M108.3 411.4v-2.1M108.3 226.9v2.1M39.2 342.2h2.1M223.4 342.2h-2.1M112.9 411.4v-2.1M112.9 226.9v2.1M39.2 337.6h2.1M223.4 337.6h-2.1M117.5 411.4v-2.1M117.5 226.9v2.1M39.2 333h2.1M223.4 333h-2.1M122.1 411.4v-2.1M122.1 226.9v2.1M39.2 328.4h2.1M223.4 328.4h-2.1M126.7 411.4v-2.1M126.7 226.9v2.1M39.2 323.8h2.1M223.4 323.8h-2.1M131.3 411.4v-3.6M131.3 226.9v3.6M39.2 319.1h3.6M223.4 319.1h-3.6M135.9 411.4v-2.1M135.9 226.9v2.1M39.2 314.5h2.1M223.4 314.5h-2.1M140.5 411.4v-2.1M140.5 226.9v2.1M39.2 309.9h2.1M223.4 309.9h-2.1M145.1 411.4v-2.1M145.1 226.9v2.1M39.2 305.3h2.1M223.4 305.3h-2.1M149.7 411.4v-2.1M149.7 226.9v2.1M39.2 300.7h2.1M223.4 300.7h-2.1M154.3 411.4v-2.1M154.3 226.9v2.1M39.2 296.1h2.1M223.4 296.1h-2.1M158.9 411.4v-2.1M158.9 226.9v2.1M39.2 291.5h2.1M223.4 291.5h-2.1M163.5 411.4v-2.1M163.5 226.9v2.1M39.2 286.9h2.1M223.4 286.9h-2.1M168.1 411.4v-2.1M168.1 226.9v2.1M39.2 282.2h2.1M223.4 282.2h-2.1M172.7 411.4v-2.1M172.7 226.9v2.1M39.2 277.6h2.1M223.4 277.6h-2.1M177.3 411.4v-3.6M177.3 226.9v3.6M39.2 273h3.6M223.4 273h-3.6M182 411.4v-2.1M182 226.9v2.1M39.2 268.4h2.1M223.4 268.4h-2.1M186.6 411.4v-2.1M186.6 226.9v2.1M39.2 263.8h2.1M223.4 263.8h-2.1M191.2 411.4v-2.1M191.2 226.9v2.1M39.2 259.2h2.1M223.4 259.2h-2.1M195.8 411.4v-2.1M195.8 226.9v2.1M39.2 254.6h2.1M223.4 254.6h-2.1M200.4 411.4v-2.1M200.4 226.9v2.1M39.2 250h2.1M223.4 250h-2.1M205 411.4v-2.1M205 226.9v2.1M39.2 245.3h2.1M223.4 245.3h-2.1M209.6 411.4v-2.1M209.6 226.9v2.1M39.2 240.7h2.1M223.4 240.7h-2.1M214.2 411.4v-2.1M214.2 226.9v2.1M39.2 236.1h2.1M223.4 236.1h-2.1M218.8 411.4v-2.1M218.8 226.9v2.1M39.2 231.5h2.1M223.4 231.5h-2.1" stroke="#1a1a1a" stroke-width="1.1" fill="none"/>
<text x="39.2" y="435" font-size="12.2" fill="#111" text-anchor="middle">-2</text>
<text x="85.2" y="435" font-size="12.2" fill="#111" text-anchor="middle">-1</text>
<text x="131.3" y="435" font-size="12.2" fill="#111" text-anchor="middle">0</text>
<text x="177.3" y="435" font-size="12.2" fill="#111" text-anchor="middle">1</text>
<text x="223.4" y="435" font-size="12.2" fill="#111" text-anchor="middle">2</text>
<text x="33.4" y="411.3" font-size="12.2" fill="#111" text-anchor="end">-1</text>
<text x="33.4" y="371.1" font-size="12.2" fill="#111" text-anchor="end">0</text>
<text x="33.4" y="324.9" font-size="12.2" fill="#111" text-anchor="end">1</text>
<text x="33.4" y="278.8" font-size="12.2" fill="#111" text-anchor="end">2</text>
<text x="33.4" y="237.5" font-size="12.2" fill="#111" text-anchor="end">3</text>
<g transform="translate(131.3 455.2)"><text x="-31.7" y="0" font-size="14.6" fill="#111">m</text><text x="-18.9" y="3.9" font-size="9.2" fill="#111" textLength="13.5" lengthAdjust="spacingAndGlyphs">200</text><text x="-2.7" y="0" font-size="14.6" fill="#111">-</text><text x="5.5" y="0" font-size="14.6" fill="#111">m</text><text x="16.9" y="3.9" font-size="9.2" fill="#111" textLength="13.6" lengthAdjust="spacingAndGlyphs">356</text></g>
<g transform="translate(14.8 319.8) rotate(-90)"><text x="-31.7" y="0" font-size="14.6" fill="#111">m</text><text x="-18.9" y="3.9" font-size="9.2" fill="#111" textLength="13.5" lengthAdjust="spacingAndGlyphs">150</text><text x="-2.7" y="0" font-size="14.6" fill="#111">-</text><text x="5.5" y="0" font-size="14.6" fill="#111">m</text><text x="16.9" y="3.9" font-size="9.2" fill="#111" textLength="13.6" lengthAdjust="spacingAndGlyphs">200</text></g>
<defs><radialGradient id="g2"><stop offset="0" stop-color="#000" stop-opacity="0.2"/><stop offset="0.35" stop-color="#000" stop-opacity="0.140"/><stop offset="0.7" stop-color="#000" stop-opacity="0.044"/><stop offset="1" stop-color="#000" stop-opacity="0"/></radialGradient></defs>
<ellipse cx="357" cy="336" rx="24" ry="38" fill="url(#g2)" transform="rotate(0 357 336)"/>
<path d="M366 333.2h0.9m-25.6-20.6h0.9m18.9 41.4h0.9m-13.8-17.5h0.9m-1.1 0h0.9m35.1 11.5h0.9m-31.8-6.6h0.9m-14.8-41.2h0.9m11.1 56.5h0.9m11.2-28.5h0.9m-5.7 26.7h0.9m-1.4-26.6h0.9m-6.9-2.5h0.9m7.4 13.8h0.9m3.9 23.8h0.9m-15.8-12.3h0.9m1.3-9.1h0.9m11.4-3.1h0.9m13.8-6.5h0.9m-9.7 20.4h0.9m3.3-9.8h0.9m-7.7-30.4h0.9m-17.4 8.1h0.9m17.4 20h0.9m-19-22.3h0.9m3.9 17.1h0.9m32.4 7.1h0.9m-38.6-2h0.9m0.2-24.4h0.9m6.6 4.2h0.9m-7 20.4h0.9m-1 21.6h0.9m8.1-30.7h0.9m6.3 13.5h0.9m-3.6-6.2h0.9m-3.8-15.2h0.9m6.8 21.4h0.9m-26.3-33.6h0.9m-12.6 36.4h0.9m31.5-8.1h0.9m-15.7-13.5h0.9m-2.5-6.9h0.9m-1.4 8.3h0.9m2.4-3.8h0.9m18.8 4.2h0.9m-14.6 0h0.9m-9.5-1.7h0.9m-11.3-14.8h0.9m15.4 5.3h0.9m-14.9 33.7h0.9m0.3-23.1h0.9m21.2 1.7h0.9m-11.1-1.5h0.9m6.5 26.1h0.9m-6.9-30.7h0.9m1.3-1.2h0.9m-14.8 20.5h0.9m9.7-5.9h0.9m8.1 4.2h0.9m-11.1 0.2h0.9m-5.2 6.9h0.9m-24.9-29.3h0.9m22 15.2h0.9m-10.4 7.6h0.9m19.2-16.9h0.9m-2-5.3h0.9m-4.1 7.1h0.9m9.6 15.1h0.9m-17.4-5.3h0.9m11.2-9.1h0.9m-9-7.1h0.9m0.7 8.8h0.9m-17.4-7h0.9m26.4 18.6h0.9m-9.6-31.7h0.9m5.4 40h0.9m-16.8-19.5h0.9m10.4 5.8h0.9m-4.7 0.6h0.9m2.7-17h0.9m-0.5 21.9h0.9m11.7-6.5h0.9m-5.6-9.9h0.9m-2.6-1.3h0.9m-10.3 28.8h0.9m6.5 5.2h0.9m-12.2-34.6h0.9m13.6 26.8h0.9m-13.6-29.5h0.9m-2.3 17.9h0.9m8.9 29.4h0.9m4-34.7h0.9m-3-4.1h0.9m-15.8-16.8h0.9m21.1 36h0.9m-25.5-23h0.9m3.5 18.4h0.9m11.2-13.1h0.9m-26.6-1.1h0.9m15.5-12.5h0.9m-4.5-7.5h0.9m17 4.7h0.9m-19.4 52.3h0.9m-2.9-26.8h0.9m22.7-10.6h0.9m-19.6-0.1h0.9m11-8.1h0.9m-18.5-30.9h0.9m2.1 45.2h0.9m17 10.9h0.9m3.5-32.6h0.9m-8 0.6h0.9m-14.4 23.7h0.9m2.4-8.3h0.9m-7.8 9.5h0.9m-0.3-6.3h0.9m-2.8-13.7h0.9m2.7 0.5h0.9m6.3 21.6h0.9m-19.2 23.8h0.9m16.5-23.2h0.9m5.9 4.2h0.9m-7.2-13.2h0.9m2.1-8.5h0.9m-1.1-16h0.9m-9.4 27.1h0.9m1.7-3.2h0.9m31.5 18.1h0.9m-34.7 2.6h0.9m9.2-9.5h0.9m-20.4-19.8h0.9m18.8 10h0.9m-16.8-20.1h0.9m9.1 29.8h0.9m-12.5 13.1h0.9m-0.6 13.2h0.9m5.6-62.6h0.9m0.6 12.5h0.9m-0.6 15h0.9m3.5-11.4h0.9m5.8 6.7h0.9m-19 3.9h0.9m3.8-21.8h0.9m-10.7 7h0.9m-2 25.5h0.9m17.7 10.5h0.9m-13.7-19.2h0.9m9.4 10.3h0.9m-1.3-20.5h0.9m-18.7-12.1h0.9m17.6 5.9h0.9m7 14.9h0.9m-6.5-12.3h0.9m-13.1 12.7h0.9m7.6 6.1h0.9m-1.5-14.2h0.9m-1.9 7.1h0.9m-11.5-2.8h0.9m4.3 6.3h0.9m2.4-15.8h0.9m5.6 24.1h0.9m-9.6-17h0.9m-15.3 18.1h0.9m4 1.7h0.9m7.8-32.2h0.9m24 48h0.9m-14.9-19.2h0.9m-6.5-35.7h0.9m-7.6 19.3h0.9m3.3 9.5h0.9m-12.9 11.4h0.9m7.3-12.1h0.9m8.9-7.9h0.9m-3.2-9.8h0.9m-6.9 13.5h0.9m3.2-4.1h0.9m0.1-4.3h0.9m-5.6 7.4h0.9m11 25.1h0.9m-6.3-27.3h0.9m-7-8.4h0.9m-7 10.6h0.9m6.7 9.2h0.9m-2.6-10.3h0.9m3.3 46.4h0.9m-16.8-69.4h0.9m29.4 36.7h0.9m-3.6-20.1h0.9m-11.8 21.3h0.9m0.9-14.3h0.9m2.8 15.7h0.9m-8.4-21.2h0.9m6.9 36.7h0.9m0-15.8h0.9m-5.6-7.9h0.9m5.4 8.1h0.9m-14.4-7.4h0.9m4.9 1h0.9m22.4-12.3h0.9m-18-15.5h0.9m-7.2 10.2h0.9m-5.5 49h0.9m2.5-46.9h0.9m7-2.6h0.9m-2.5 4.6h0.9m-23.9-8.7h0.9m2.8 15.1h0.9m2.1 24.4h0.9m12.5-37.6h0.9m-17.4 8.2h0.9m7.7 36.2h0.9m2.7-32h0.9m6.5 12h0.9m-10.2-20.7h0.9m9.5 7.3h0.9m8.9-14.4h0.9m-18.2 7.7h0.9m-13-4.4h0.9m2.5 3.7h0.9m-0.3 6.5h0.9m2.5 15.3h0.9m0.2-22.6h0.9m7.3 25.8h0.9m-17.2-13.7h0.9m-1.1-14.7h0.9m18.9 32.4h0.9m-13.9-29.2h0.9m-3.7 0.8h0.9m6.3 17.4h0.9m15.2 21.2h0.9m-7.2-10.3h0.9m-4.1-24.1h0.9m8.3 0.1h0.9m-11.9 11.8h0.9m11.8-5.3h0.9m-2.4-21.9h0.9m-27.8 20.6h0.9m-3.9-7.7h0.9m6.7 19h0.9m17.6-8.8h0.9m-14.6-10.4h0.9m-2.9-8.7h0.9m15.3 53h0.9m-17.5-38.3h0.9m6 2.4h0.9m2.1-5.7h0.9m-14.9-6h0.9m-0.8 18.7h0.9m9.9 3.9h0.9m-3.7-35.8h0.9m4.5 1.4h0.9m11.5 18.9h0.9m-24.7 21.3h0.9m-2.9-43.5h0.9m23.3 8.7h0.9m-7 17.8h0.9m-11.2-2.8h0.9m10.9 2.3h0.9m-19.6 6.9h0.9m7.9 17.5h0.9m-26.6-26.5h0.9m26.8 12.4h0.9m-6.2-7h0.9m-1.6-9.5h0.9m9.6 13.6h0.9m0.8-10h0.9m-13.6 3.5h0.9m-8.1 4.7h0.9m-2.4 0.6h0.9m-7.1-17.1h0.9m32.6 8.4h0.9m-9.4 1.7h0.9m0.7 34.8h0.9m-14.7-42.6h0.9m0.2 10.7h0.9m12.6-9.3h0.9m-21.9 24.6h0.9m6.8-26.9h0.9m15.5 18.3h0.9m-11.9 30.9h0.9m3.7-44.6h0.9m-7.8-3h0.9m-22.5 6.1h0.9m21.6 5.2h0.9m2.5 15.9h0.9m-7.1-35.1h0.9m-10.6-10.7h0.9m11.8 37.1h0.9m-15.8 5.7h0.9m10.6-17.7h0.9m11.1 15.6h0.9m6.3-5.2h0.9m-4.2-13.9h0.9m-23.4-7.1h0.9m-1.9 25.5h0.9m13.1-4.1h0.9m-1.6 7.1h0.9m2.6-14.7h0.9m-12.8-8.9h0.9m6.9 15.3h0.9m-2.8-12.3h0.9m-1 28.3h0.9m-15.3-27.7h0.9m20.8 3.8h0.9m-4.5 12.8h0.9m4.8 1h0.9m1.6 2h0.9m-10.4 7.5h0.9m2.1-41.3h0.9m10.3 28.6h0.9m3.2 6.6h0.9m-17.1-7.6h0.9m-3.3-28h0.9m-0.5 11.7h0.9m2.4 8.2h0.9m2.9-2.6h0.9m-11.4-35.9h0.9m19.9 53.2h0.9m-3.2-6.4h0.9m-16.7-6.2h0.9m-0.4 5h0.9m-7.5-17.8h0.9m7.9-5.6h0.9m-7.1 16.5h0.9m5.9-8.9h0.9m-13.3 20.4h0.9m14.4-30.9h0.9m-4.6-0.8h0.9m13.1 40.7h0.9m-10.3-11.4h0.9m-25.6 24.1h0.9m23.2-41h0.9m2.8 1.4h0.9m-10.3 5.2h0.9m-7.1-2.6h0.9m5.8-4.6h0.9m4.8-3.8h0.9m2.5 19.8h0.9m-28.4-22.2h0.9m41.6 11.3h0.9m-29.6 21h0.9m9.2-13h0.9m2.1-25.6h0.9m-12.1 18.1h0.9m10.4 1.5h0.9m-27.4-8.1h0.9m-2.2 15.4h0.9m26.8-11.8h0.9m-0.9 12.4h0.9m11.3-0.8h0.9m-20.6-14.9h0.9m4.3 1.6h0.9m6.5 4.5h0.9m-4.4-6.3h0.9m-12 17.1h0.9m1.6-1h0.9m-5.3-2.1h0.9m-3.6-14.7h0.9m8-14.8h0.9m-9.6 7.3h0.9m11.3 25.2h0.9m-12.8-32.9h0.9m3.8 31.1h0.9m-7.4 13.2h0.9m8.5-49h0.9m-21.4 23.6h0.9m26.2 2.4h0.9m7.2-16.5h0.9m-20.2 8.1h0.9m-1.9-5.3h0.9m-12.8 16.7h0.9m12.4 40.3h0.9m7-47.7h0.9m4 32.1h0.9m-13.5-41.3h0.9m4.2-10.1h0.9m-15.7 5h0.9m12.6 21.6h0.9m8.3-4.6h0.9m-7.2 14.6h0.9m5.5-28.3h0.9m0.1 5.9h0.9m-7.5 40.7h0.9m-34.3-10.4h0.9m34.4-21.2h0.9m-19.8 17.9h0.9m-14.4-15.8h0.9m5.9 9.3h0.9m27.4 7.1h0.9m-9.2-21.8h0.9m-3 3.8h0.9m1.1-13.3h0.9m-23.4-4.6h0.9m15.7 19.7h0.9m-4.2 5.9h0.9m8.8 21.8h0.9m-3.1-23.1h0.9m3.6 10.4h0.9m-0.3-8h0.9m-26.7-29.3h0.9m15.8 22.9h0.9m2.1 9h0.9m-12.2 1.2h0.9m-2.6-8.2h0.9m-5.1 6.1h0.9m2.7-0.9h0.9m19-12.5h0.9m-22.6 11h0.9m-0.9-12.7h0.9m11.9-15.9h0.9m5.4 31.2h0.9m-4.9 1h0.9m-11.6-11.2h0.9m-3.4-2.1h0.9m11-7h0.9m26.6 7.3h0.9m-31-14.1h0.9m-3.4-0.8h0.9m11.7 13.8h0.9m-10.3-0.4h0.9m-11.6 1.4h0.9m7.8-4h0.9m8.6 9.2h0.9m-8.6-3.5h0.9m3.9-21.6h0.9m2.5 14.2h0.9m-6.2 29h0.9m-2.9-32.9h0.9m-1.5 19.5h0.9m5.5-13.6h0.9m-7.3 15.7h0.9m2.9-30.8h0.9m-1.7 12.6h0.9m-18.1 14.8h0.9m20.3-3.3h0.9m-3.6 8.2h0.9m5.4-37.6h0.9m-19.3 35.7h0.9m10.1-18.1h0.9m-5.1 21.2h0.9m-12.3 3.3h0.9m-6.1-25.9h0.9m31-1.4h0.9m-7.7 42.5h0.9m-9-37.2h0.9m-11.2 16.8h0.9m24.2-17.5h0.9m-21-4.5h0.9m9.8 13.8h0.9m-3.7-8.7h0.9m17.7 15.4h0.9m-19.8-8.3h0.9m-2.9 23.6h0.9m1.9-40.6h0.9m3.7 33.4h0.9m-18.7-14.7h0.9m23-2h0.9m-15.8-15h0.9m-3.7 12.3h0.9m10.2 7.7h0.9m-13.2 4h0.9m6.9-30.2h0.9m14.8 14.4h0.9m4.1 33.2h0.9m-17.8-38.1h0.9m3.5 25.1h0.9m1.9-17.6h0.9m-10.6 6.1h0.9m1.4-22h0.9m-0.6 18h0.9m-2.6 7.2h0.9m4-4.5h0.9m-21 0h0.9m6 10.1h0.9m-5.7-26.2h0.9m9.8 21.6h0.9m-7.1-33.5h0.9m3.5 46.2h0.9m10.3-20.1h0.9m0.4 13.4h0.9m0-50.5h0.9m10.7 46.9h0.9m-40.5-15.7h0.9m13.5 9.6h0.9m12 7.7h0.9m-13.7-9.1h0.9m-0.1 8.5h0.9m9.3-13.2h0.9m1.9 22.3h0.9m-31.6-16.9h0.9m11.4-1h0.9m-0.2 0.1h0.9m-4 1.9h0.9m17.3-19.8h0.9m-11.3 5.6h0.9m10.2 26h0.9m-6.6-1.7h0.9m8.5-2h0.9m-29.9-1.1h0.9m20.2-15.8h0.9m7.1-2.2h0.9m-13.6 9.3h0.9m-1.5 16.9h0.9m7.2-14.3h0.9m-13.9-21.9h0.9m5.7 31.8h0.9m-14.5 10.5h0.9m15.2-46.3h0.9m-5.6 36.6h0.9m6.7-7.4h0.9m-15.6-15.6h0.9m14.9 12.5h0.9m-12.7-17.9h0.9m5.9 12.3h0.9m-9.1 4.2h0.9m1.1 17.6h0.9m-12.6-20.6h0.9m17.2-7.9h0.9m1.4 14.4h0.9m12.7 1.8h0.9m-35.8-14.6h0.9m6.8-5.1h0.9m6.3 0.3h0.9m15.3 29.7h0.9m3.3-11h0.9m-35.7-8.4h0.9m-0.6 19.9h0.9m17.3-27.5h0.9m-6.2 9.8h0.9m-1-15.3h0.9m2.7 30.5h0.9m-14.9-24.4h0.9m13.7-1.3h0.9m-9.8 17.3h0.9m6.1-36.9h0.9m3.5 18.1h0.9m-15.6 3.6h0.9m30.1 9.5h0.9m-19.7 10.4h0.9m-18.2-3.6h0.9m-9.9-20h0.9m39.3 36h0.9m-15.3-17.3h0.9m-7-26.9h0.9m7.3 46.4h0.9m-21.3-31.1h0.9m17.1 25.5h0.9m-13.3-42.9h0.9m6.9 5.9h0.9m-2 21.1h0.9m5.2 7.4h0.9m-4.4 4.4h0.9m0.3 27.9h0.9m-11-54.7h0.9m-6 10.3h0.9m-1.8 7.2h0.9m3.9-2.3h0.9m15.6-9.5h0.9m-11.8 39.1h0.9m-1.4-34.6h0.9m-2-10.1h0.9m3.7 23.5h0.9m9.3 19h0.9m-12.8-44.8h0.9m9.8 1.8h0.9m-21.2-9.6h0.9m18.7 12.7h0.9m8 24.8h0.9m-14.9-8.4h0.9m-10 4.7h0.9m9.2-38.4h0.9m-4.1 12.2h0.9m3.6 15.4h0.9m5.5 10.9h0.9m-13.3-9.2h0.9m-2.4-1h0.9m27.1-7.4h0.9m-19.5 7.4h0.9m2.8-12.9h0.9m-0.9 20.7h0.9m0.6-7.9h0.9m-6 15.5h0.9m2.5-20h0.9m-16.4-9.4h0.9m-8.7 12.8h0.9m7.3 11.6h0.9m3.8-18.9h0.9m-1.3 7.3h0.9m1.5-1.8h0.9m-7.8-4.6h0.9m-10.4 22.6h0.9m11.6-19.5h0.9m-8.7 9.6h0.9m9.7-14.1h0.9m5.4 21.5h0.9m-11.6-30.7h0.9m-4.1 29.6h0.9m8.2-14.6h0.9m22.6-6.9h0.9m-20.8 1.8h0.9m-0.8-5h0.9m-8.3 23.9h0.9m-5-12.6h0.9m14.6-17.1h0.9m-30.7 11.6h0.9m17 30.8h0.9m17.7-30.4h0.9m-16.8 3.2h0.9m-15.6-13.8h0.9m18.5 12.9h0.9m-7.7 7.4h0.9m-13.4-2.7h0.9m17.5 4.3h0.9m0.1 21.3h0.9m-5.9-40.7h0.9m4.4 8.1h0.9m-15.4 6.6h0.9m10.1-24.7h0.9m2 42.3h0.9m6.5-8.8h0.9m-17.9-5.9h0.9m16.9-2.9h0.9m-4.5 5.1h0.9m-10.8-13h0.9m1 4.7h0.9m-19.4 20.2h0.9m17.5-18.1h0.9m3.7-20.3h0.9m-9.1 10h0.9m15.2 34.7h0.9m-8.5-17.2h0.9m12.4-11.9h0.9m-23.8 16.1h0.9m7.4-32h0.9m-16.6 20.7h0.9m10.2 5.6h0.9m5.5 0.8h0.9m-0.9-16.1h0.9m-10.2 2.6h0.9m12.9-2h0.9m1.7 3.3h0.9m-16.6 30.8h0.9m7.8-67.4h0.9m-13.9 37.9h0.9m2.7-3.9h0.9m7.1 25.8h0.9m2-0.5h0.9m-11.1-21.4h0.9m11.1 11h0.9m-9.8 7.1h0.9m5.3-12.3h0.9m-16.9-6.2h0.9m6.3-6.7h0.9m14.7 19h0.9m-20.5-26.4h0.9m13 12.6h0.9m-12-1.2h0.9m5.9-13.2h0.9m-9.1 18.6h0.9m14.7-3.1h0.9m-19.5-8.5h0.9m10.7 30.6h0.9m1.1-8.4h0.9m-8.6-9.2h0.9m13.8 10.7h0.9m-21.4 5.8h0.9m6.8 2.3h0.9m-2.3-29h0.9m7.8 21.5h0.9m0-15.5h0.9m-12.8 6.9h0.9m6.6-12.8h0.9m-15.8 10.5h0.9m8.4 12.1h0.9m-7.9 11.3h0.9m2.6-25.5h0.9m-0.2-11.3h0.9m8.8 37.8h0.9m-22.2-33.9h0.9m9.1-14.2h0.9m3.6 14.9h0.9m-2.2-23h0.9m19.3 44.4h0.9m-26.9-38.5h0.9m9.1 13.6h0.9m12.2-6.6h0.9m-15 19.4h0.9m2.4 21.6h0.9m-9.3-16h0.9m-2.3-24.9h0.9m15.5 48.5h0.9m-18-25.1h0.9m-3.4 9.2h0.9m2.5-35.4h0.9m26.2 46.9h0.9m-27.4-31.2h0.9m4-17.3h0.9m8.1 24.5h0.9m-8.5 11.4h0.9m-5.9-4.5h0.9m0.8-0.4h0.9m6.9-1.9h0.9m2.2-5.9h0.9m-19.9-21.1h0.9m-2.3 18.5h0.9m8.4-2.9h0.9m6.2 23.5h0.9m0.1-4.1h0.9m-4.7-21.7h0.9m10.4 16.6h0.9m-27.4-9.3h0.9m8.4-23.4h0.9m17-10.7h0.9m-18 43.3h0.9m11.2-25.4h0.9m-19 1.9h0.9m9.7 3.8h0.9m10.7 18.3h0.9m-10.8 7.1h0.9m-6.9 0.3h0.9m-5.2-39.7h0.9m1 14.1h0.9m0.4-2.3h0.9m20.8 20h0.9m-31.1-29.9h0.9m18.7 11.1h0.9m-13.2 9.6h0.9m15.4 11.3h0.9m-17.8-8.6h0.9m4.7 3.5h0.9m-4.1-6.9h0.9m7.6 15.6h0.9m8.9 0.5h0.9m-18.1-6.3h0.9m8.6 7.2h0.9m0.1 22h0.9m-4-26.6h0.9m-6.9-10.6h0.9m6.6 4.7h0.9m-1.5 12.2h0.9m-9-22h0.9m15.4-13.9h0.9m-5.8 11.6h0.9m-5.6 12.1h0.9m-11.2-4.5h0.9m20.2-14.3h0.9m-4.6 15.7h0.9m-12.7 19.2h0.9m1.7-13.8h0.9m-5.3-21.9h0.9m-1 24.7h0.9m0.6-13.1h0.9m-12 35.7h0.9m10.7-24.1h0.9m-2.8-15.9h0.9m9.9 17.3h0.9m1.7-7.1h0.9m-1.7 15.4h0.9m-6.5-25h0.9m-11 15.9h0.9m-14.7-27.8h0.9m22.1 20.7h0.9m3.9-18.2h0.9m3.8 18.3h0.9m-22 5.4h0.9m14.6-0.4h0.9m-21.1-12.1h0.9m4 8.7h0.9m5.9 13.6h0.9m-15.2 10.1h0.9m28.2-25.6h0.9m-16.6-12.8h0.9m-4.8 7.3h0.9m-5.3 9.7h0.9m14.6-6.7h0.9m-14.5 0h0.9m16.3 15.7h0.9m-22-27h0.9m15.6-0.5h0.9m3.1 16.9h0.9m-17-6.8h0.9m4.3 17.1h0.9m-10.9-9.3h0.9m20.7-13h0.9m-2.9-1.9h0.9m-15.5-21.2h0.9m22.8 27.9h0.9m-11.9-12.9h0.9m-9.9 32.5h0.9m4.6-20.9h0.9m-7.9-14.9h0.9m12 37.6h0.9m-6.7-19.6h0.9m6 9.7h0.9m4.2-16.6h0.9m-5.7 26.9h0.9m-19.2-28.5h0.9m9.4 6.2h0.9m0.8-20.6h0.9m4.5 42.6h0.9m-16.1-26.1h0.9m6.3 13h0.9m6 1.3h0.9m-15.3 10.7h0.9m4.6-12.9h0.9m9.5-5.6h0.9m5.5 14.4h0.9m-15.1-6.2h0.9m-16.4-7.9h0.9m14.1 20.9h0.9m6.7-12.6h0.9m-17.8-22.9h0.9m14.1 37.8h0.9m-7.8-29.3h0.9m11 22.3h0.9m1.5-36.3h0.9m-13.1 35.6h0.9m6.5-31.3h0.9m-20.6 25.8h0.9m38.7-14.3h0.9m-34.9 7.1h0.9m19.9-16.7h0.9m-1.3 26.3h0.9m-3.2-8.2h0.9m-12.2-14.3h0.9m11.6 14.7h0.9m-18.7 2.4h0.9m-10.6-2.6h0.9m17.8-35.7h0.9m-7.7 28.2h0.9m15.7 15.3h0.9m3.3-4.7h0.9m-15.4 1.1h0.9m-15.3-2.1h0.9m-10.2 11.1h0.9m18.7-23.9h0.9m-5.4-2.4h0.9m16.9 35.2h0.9m-18.7-33.7h0.9m8.6-9.4h0.9m-23 16.9h0.9m20.9 2.6h0.9m-4.1 12.5h0.9m15.4-20.6h0.9m-11.6 6.5h0.9m-2-7.6h0.9m-12.5-11.7h0.9m-1.8 3.6h0.9m2.8 34.4h0.9m17.1-9.5h0.9m-6.6-9.9h0.9m-7.9 8.6h0.9m14.8 1.4h0.9m-27.9-16.7h0.9m15.9-7.2h0.9m-11.3 31.5h0.9m-7-45.5h0.9m8.5 36.9h0.9m-5.5-4.7h0.9m8.1 10.8h0.9m-3.2-5.8h0.9m1.7-1.1h0.9m-3.9-20.2h0.9m8.6 23.2h0.9m-20.2-3.2h0.9m1.9-17.6h0.9m3.4 13.7h0.9m-11.8-17.4h0.9m-20-11.7h0.9m50.3 22.2h0.9m-27.3 30.1h0.9m-7.7-22.5h0.9m-0.7-20.7h0.9m9.7 14.2h0.9m7.4 5.9h0.9m-7.4-7.6h0.9m-14.3-9.3h0.9m16.2-7.6h0.9m-21.5 18.7h0.9m5 3.2h0.9m7.7 23.4h0.9m12.4-15.2h0.9m-12.4-21.9h0.9m1.8 21h0.9m-14.1-1.3h0.9m6.9 1.9h0.9m11.3-4.2h0.9m-5.5 5h0.9m2.1-0.7h0.9m-6 12.6h0.9m5.6-19.5h0.9m-22-7h0.9m10.6 12.7h0.9m2.8-24.4h0.9m-15.8 38.9h0.9m-9.6-4.9h0.9m35.8-24.1h0.9m-16.3 2.7h0.9m-15.3 17h0.9m13.9-11.4h0.9m-9.7 26.3h0.9m-1.6-31.6h0.9m16.3-11.1h0.9m-14.2 16.4h0.9m-1.8-7.6h0.9m-7 1.3h0.9m7.4 2.1h0.9m2.9-7.4h0.9m-5.7 14.6h0.9m22.6-8h0.9m-25.9 34.7h0.9m-5.6-42.4h0.9m8 26.9h0.9m19.1-13.7h0.9m-12.7-2.2h0.9m-11.6 8.6h0.9m-2.4 7.8h0.9m1.8 3.7h0.9m-8.1-24.9h0.9m4.3-6.9h0.9m-1.4-21.2h0.9m11 25.8h0.9m-12.7 14.5h0.9m1.9-12.8h0.9m-3.1 27.7h0.9m-7-30.5h0.9m10.7-12h0.9m10.3 22.6h0.9m10.2 10.6h0.9m-26.1-13h0.9m5.7-18h0.9m0.9 19.8h0.9m-5.5-17.2h0.9m-0.8 18.9h0.9m7.1-13.4h0.9m-17.2 40.4h0.9m-18.5-16.9h0.9m7.9-1.7h0.9m2.3-17.2h0.9m18.6 2.3h0.9m-14-21.8h0.9m18.4 16.9h0.9m-24 15.9h0.9m22-15.3h0.9m-21.1 19h0.9m3.7-14.4h0.9m-14.4-2.4h0.9m26.4-4.9h0.9m-13.7 5.6h0.9m20.5 5h0.9m-11.1-0.7h0.9m-13.8-7.2h0.9m-4.5 9h0.9m13.5-4.6h0.9m-9.7-7.5h0.9m-5.9 21.9h0.9m7.6 4.5h0.9m-21.3-15.6h0.9m19.9-5.2h0.9m4.1 29.4h0.9m-17.6-6.9h0.9m18.7-19.8h0.9m-4.3-10.4h0.9m-4.6 23.3h0.9m-13.6-13.6h0.9m16.6 27.8h0.9m-12.3-19h0.9m3.7-4.8h0.9m4.7 4.5h0.9m-22.2-14.4h0.9m-2.1 12.4h0.9m9.5-6.9h0.9m22.4 9h0.9m-2-34.3h0.9m-15.4 25.7h0.9m3.1-17.1h0.9m-8.1 21.3h0.9m-2.7-27.7h0.9m0.6 39.1h0.9m11.7 3.3h0.9m0.5-25.8h0.9m-13.6 11.1h0.9m-0.6 0.7h0.9m-7.3-37.9h0.9m17.1 16h0.9m-3.3 41.9h0.9m-20.2-23.7h0.9m24.6-8.7h0.9m-39 3.7h0.9m35.9 20.3h0.9m-4.1 9.3h0.9m-10.3-5.5h0.9m-6.1-45.7h0.9m1.7 37.8h0.9m-9.4-10.4h0.9m22.7-14.2h0.9m-12.9 42h0.9m-12-21.3h0.9m24 2.4h0.9m-15.7-29.1h0.9m2.8 28.8h0.9m14.1 14h0.9m-15.8-24.9h0.9m-12 5.7h0.9m11 1.3h0.9m-14.8 0.8h0.9m1.9-9.9h0.9m5.3-6.1h0.9m6.9 17h0.9m-16.6-16.3h0.9m6.4 33.3h0.9m-3.3-21.3h0.9m12.7 14.1h0.9m-11.1 0.8h0.9m13-29.5h0.9m-19.5 26.4h0.9m-0.7 8h0.9m16.9-2.1h0.9m-12.3-31.7h0.9m19.7 21.8h0.9m-13.7-20.1h0.9m-23.5 13.1h0.9m9.9-3.1h0.9m0.5-13.4h0.9m1.5 28.2h0.9m-6.6-20.5h0.9m3.1 7.1h0.9m1.3 15.5h0.9m-12.1-34.3h0.9m16.4 20.3h0.9m6.6 15.2h0.9m-11.6-15.3h0.9m-6.3-21.8h0.9m-4.7 5.7h0.9m8.6 57h0.9m-5.9-54.5h0.9m-12.5 6.2h0.9m21 34.6h0.9m-16.5-23.1h0.9m15.3-11h0.9m-41 13h0.9m31.3 26.4h0.9m4-29.8h0.9m-3.8 2h0.9m-19.8-10.5h0.9m23.8 7.2h0.9m-21.4-10.8h0.9m4.3 25.8h0.9m-2.6-22.9h0.9m-11.1 6h0.9m14.4-8.4h0.9m8.5 9.8h0.9m4.7 22.2h0.9m-17-11.3h0.9m-1.8-21.6h0.9m8.1 16.1h0.9m-9.2 1.4h0.9m11.6 1h0.9m-12.3 2.5h0.9m-10.8-23.1h0.9m9.3 1h0.9m-14 18.4h0.9m12.3-15.9h0.9m0.2-5.7h0.9m-10.3 9.4h0.9m9.6 4h0.9m-7.9-12h0.9m-3.6 18.9h0.9m-10.9-29h0.9m2.9 17.1h0.9m25.6-1.9h0.9m-19.7-12.5h0.9m10.5 48.4h0.9m-9.6-34.4h0.9m16.7 9.4h0.9m-24.1-11.1h0.9m5.4-12.7h0.9m-5.9 0.2h0.9m13.5 5.5h0.9m-6.3 6.2h0.9m-5-15h0.9m-5.2 6.1h0.9m16.3 46.4h0.9m15.7-34.9h0.9m-20.1-9h0.9m-14.4-7.3h0.9m3.8 2.1h0.9m-3.7 20.2h0.9m-1.7 14.7h0.9m10.3-12h0.9m-17.6-23.8h0.9m13.7 20.1h0.9m-6.4 20h0.9m-9.3-23.7h0.9m5.2 8.5h0.9m0-8.6h0.9m-3.9 11.9h0.9m6-19.4h0.9m-13.5-30.5h0.9m17.9 24.5h0.9m-15.4 11.6h0.9m-0.7 5.5h0.9m4.8-5.6h0.9m-5.6 0.2h0.9m-8.3-7.5h0.9m13.7 13.6h0.9m0.9-21.3h0.9m4.3 30.4h0.9m-4.6-6.1h0.9m-6.4 27.2h0.9m-16.7-43.9h0.9m32.6 35.9h0.9m-27.1-35h0.9m17.4 6.5h0.9m-30.7-10.4h0.9m24.5 46.1h0.9m-8-23.5h0.9m-12.5 1.5h0.9m11.5-19.8h0.9m-6.7-19.6h0.9m2 26.6h0.9m-7.4-1.9h0.9m7.3-18.9h0.9m-12.1 22.7h0.9m9.3 4.1h0.9m-18.2-5.6h0.9m9 15.1h0.9m1.9-9h0.9m15.8-8.2h0.9m0.3 12.8h0.9m-7.7-2.1h0.9m-10.4-28.8h0.9m15.1 20.3h0.9m-9.8-3h0.9m8.1 9.3h0.9m-4.4-4.7h0.9m-24.9-19.6h0.9m19.5-10.3h0.9m4.6 41.1h0.9m-15.9-17.4h0.9m17.7 5.8h0.9m-3.9 26h0.9m1.8-19.6h0.9m-17.1-6.5h0.9m-5.9 2.3h0.9m-2.2-0.5h0.9m15.7 15.2h0.9m-19.6 7.7h0.9m0.3 6.6h0.9m2.9-44.2h0.9m10.4 34.1h0.9m-12.3-20.6h0.9m14.5-17.7h0.9m4.3 30.2h0.9m-36.9-1.8h0.9m24.1-25.9h0.9m-8.6 13.2h0.9m11.3-11.7h0.9m-2.5 22.2h0.9m-5.4-14.9h0.9m-4.7-9.6h0.9m-15.4-15.2h0.9m37.4 27h0.9m-35.3-17.2h0.9m28.9 25.3h0.9m-10.4 0.8h0.9m-12.4-6.3h0.9m-1.6 6h0.9m-8.4 9.9h0.9m14 0.7h0.9m-17.5-13.8h0.9m23.2-13.4h0.9m-7.9 11.6h0.9m-4.7-9.1h0.9m-0.5-7h0.9m3.7 24.2h0.9m-8.7-17.2h0.9m2.4 20h0.9m16.7-13.5h0.9m-9.3-8.5h0.9m-4.9-2.5h0.9m-8.5 27.2h0.9m-16.7-25.5h0.9m22.1 6h0.9m-5.4-6h0.9m-4.4-5.3h0.9m1 4.5h0.9m-9.8 10h0.9m1.1-2.4h0.9m16-11.1h0.9m-28.6 16.5h0.9m26.4-6.7h0.9m4-2.5h0.9m-9.8-0.3h0.9m1.5 26.4h0.9m-16.9-32.3h0.9m4.1 35.4h0.9m2.2-3.1h0.9m-10.7-10.7h0.9m2.5-11h0.9m9 10.8h0.9m-5.8 3.8h0.9m3-20.1h0.9m6.9-2.2h0.9m-12 14.1h0.9m2.2 7.8h0.9m-12.8-28.6h0.9m13.3 36.8h0.9m-2.6-38.5h0.9m-10.1 16.8h0.9m14.8-10h0.9m-18.4-9.6h0.9m23.7 26.8h0.9m-21.8 8.3h0.9m-3.9 14.2h0.9m13.5-19.5h0.9m-0.7-16.2h0.9m-0.4 5.2h0.9m-6.1-18.2h0.9m8.5 19.1h0.9m0.5 5.1h0.9m-12.3 9h0.9m7.7 3h0.9m-28.7-1.4h0.9m29.5-23.9h0.9m-5.8-3.3h0.9m-12.2 29h0.9m-3.6-37.9h0.9m2.7 57.2h0.9m-6.5-40h0.9m8.9 27.3h0.9m11-27.3h0.9m-19.8 19.1h0.9m14.8-27.2h0.9m-23 19.9h0.9m0.2-25.5h0.9m-8.3 8.5h0.9m9.3 0.8h0.9m23.2 6.4h0.9m-17.1 4.5h0.9m-0.3 10.9h0.9m3.5-2h0.9m20.7-6.2h0.9m-33.8 14.7h0.9m0.8-7.9h0.9m-5.9 1.7h0.9m12-23.4h0.9m3.7 29.3h0.9m-2.3-1.9h0.9m-9.7-8.7h0.9m13.6 7.5h0.9m-12.3-11.2h0.9m2.4 23h0.9m1.3-21.6h0.9m-12.7-1.2h0.9m6.7 5.9h0.9m8.7 19.7h0.9m-5.1-34h0.9m5.6 12h0.9m-12.1-10.5h0.9m-1.4 6.1h0.9m2.5-11.5h0.9m7.3 17.5h0.9m-16.6-4.3h0.9m-3.1 11.5h0.9m16.2 2.3h0.9m-6.9 3.1h0.9m-5.9-24.1h0.9m-5.5 12.7h0.9m10.7 12.3h0.9m7.3-32.4h0.9m-25.9 16.7h0.9m20.6-15.4h0.9m-1.1 37.5h0.9m0.2-7.2h0.9m-9.9-9.8h0.9m2.6-0.7h0.9m-2.8-17.9h0.9m-5.9 31.7h0.9m2.5-25.4h0.9m-17.4-3h0.9m9.5 24.3h0.9m-4-15.7h0.9m14 16.2h0.9m-21.2-19.2h0.9m14.4-3.2h0.9m-4.1 7.9h0.9m4.9-0.3h0.9m-4.1-3.2h0.9m16.4-15.2h0.9m-20.7 12h0.9m-5.1 12.5h0.9m1.9-8.2h0.9m1.6-13.3h0.9m9.7-11.5h0.9m-7.1 35.2h0.9m-17.5-34h0.9m47.7 38.9h0.9m-28.8 0.3h0.9m-18.6-7.6h0.9m-15.4 22.8h0.9m-7.1-57.1h0.9m23 55.6h0.9m-1.5-22.8h0.9m-13.8-31.2h0.9m-12.6 13.8h0.9m4.7 2.7h0.9m30.2 26.5h0.9m-19.8-47.7h0.9m-7.9 82.5h0.9m15.4-38.2h0.9m3.3 17.1h0.9m-7-39.4h0.9m-2.8 13.5h0.9m19.6-37.7h0.9m-36.1 64.2h0.9m10.9-36.3h0.9m-29.9-20.6h0.9m25.4 11.1h0.9m7-20.5h0.9m14.2 67h0.9m-48.3-30.9h0.9m34 20h0.9m29-9.3h0.9m-84.2-27.9h0.9m55.7-9.1h0.9m-28.1 29.7h0.9m11.5-38.4h0.9m14.2 3.6h0.9m-19.1 22.8h0.9m13.6-9.9h0.9m-0.7 20.9h0.9m-5.4 3.8h0.9m-13.8-30.8h0.9m47.4 13.9h0.9m-44.4-22.4h0.9m3.2 37.4h0.9m0.5 25.4h0.9m16.1-35.1h0.9m12.2 52.6h0.9m-28.4-49.2h0.9m2.7 4.6h0.9m11.1-24h0.9m-16 28.3h0.9m-1.2-38.5h0.9m-12.8-15.5h0.9m15.8 33.7h0.9m7.6 63.2h0.9m-0.3-11.3h0.9m19.1-9.6h0.9m-48.6-45.6h0.9m14.6 35.6h0.9m-5.7-11.4h0.9m29.6-23.1h0.9m-17.5-12.1h0.9m-36.9 44.3h0.9m12.6-36h0.9m6.2 35.9h0.9m-20.3-15.8h0.9m28.5 61.2h0.9m-13.9-46.9h0.9m38.9-32.3h0.9m-30.4-31.3h0.9m-11.5 19h0.9m-9.8 15.5h0.9m-26.7 19h0.9m40.5-11.5h0.9m24.7-28.7h0.9m-29.4 21.6h0.9m1.7-0.1h0.9m45.2 46.9h0.9m-25.2-13.3h0.9m-13.6 26.1h0.9m8-4.4h0.9m-10.5-36.6h0.9m-4.7-51h0.9m-33 9.1h0.9m10.3 44.6h0.9m20-6.4h0.9m-18.2 5.9h0.9m13.9 17.8h0.9m-20.3-10.8h0.9m37-18.3h0.9m-31.3 31.7h0.9m-6.4-39.2h0.9m-8-2.5h0.9m34.3 11.5h0.9m-14.1-16.1h0.9m19.3 13.6h0.9m-29-8.6h0.9m-10.8-5.6h0.9m18.1 34.8h0.9m22.3-13.7h0.9m-48.5 36h0.9m29.8-19.6h0.9m-0.8-28.9h0.9m16.4-34h0.9m-37 60.5h0.9m-16.7-27.8h0.9m20.2 5.9h0.9m18.9-27.5h0.9m-10.7 68.4h0.9m4.6-41.6h0.9m-26.2 8.9h0.9m11.5-17.2h0.9m5.6 23.1h0.9m-26.9 0.5h0.9m25.6 10.4h0.9m-4.7 49.4h0.9m50.3-61h0.9m-50.2-0.6h0.9m24.4-32.2h0.9m-19.8-3.4h0.9m-10.3 18.4h0.9m23.6-26.2h0.9m-42.5 32.3h0.9m13.4 39h0.9m20.5-25.1h0.9m-52.1 6.5h0.9m34.9 3.8h0.9m-2.5-26.6h0.9m2.3-33.6h0.9m-8.7 6.8h0.9m24.4 38.2h0.9m4.1-25.7h0.9m-30.2 47.7h0.9m-21.1-52.4h0.9m13.1 35.2h0.9m1.5 24h0.9m11.4-55.4h0.9m-4.4 5.8h0.9m3.4 43.3h0.9m-0.6-22.6h0.9m-0.5-47.3h0.9m10.4 47.7h0.9m-18.8 12.6h0.9m-1.8 11.2h0.9m-2.4-20.4h0.9m-1.7 5.7h0.9m41.4 28.5h0.9m-10.1-19.7h0.9m-54.6-59.8h0.9m25.6 30.2h0.9m-29.2 4.8h0.9m65.4 31.4h0.9m-18.8 4.4h0.9m-35.1-25.5h0.9m48.8-6.8h0.9m-44.9-8.6h0.9m28.8 36.3h0.9m-28.1-49.4h0.9m5.2 8.7h0.9m-13.3 42.6h0.9m14.4-1.3h0.9m4.6 31.9h0.9m-0.1-63.2h0.9m-41.4-3.9h0.9m25.3 1h0.9m0.2-35.3h0.9m-6.2-12.1h0.9m10 59.6h0.9m-5-16.8h0.9m0.2-9.8h0.9m-15.1 22.8h0.9m19.1 4.3h0.9m35.1-13.4h0.9m-46.6 3.3h0.9m-13.1-6.6h0.9m5.6 28.5h0.9m-0.3-32.7h0.9m-22-9.7h0.9m44.3 11h0.9m11.7 16.5h0.9m-17.6 15.4h0.9m-9.8 30h0.9m-2.1-47.4h0.9m1.5 38.5h0.9m5.8-57.5h0.9m-2.1-4.3h0.9m-11.3 32.6h0.9m-22.7 5.2h0.9m15.9-11.4h0.9m-17.5-18.9h0.9m19.3 48.5h0.9m7.6-55.2h0.9m6.3 37.2h0.9m-9.9-15.9h0.9m2.4 5.3h0.9m12.3 4.3h0.9m-33.8-7.7h0.9m25.4-6.8h0.9m-46.3-40.2h0.9m59 67.1h0.9m-28.2-55.4h0.9m-5.7 22.9h0.9m-17.3 19.3h0.9m13.8-37.7h0.9m-13.5 25.8h0.9m12.5 23.6h0.9m9.2-32.1h0.9m8.9 7h0.9m-39.9-18.7h0.9m24.7 14.8h0.9m-26.8-22.8h0.9m11.8 36.4h0.9m25.9-44.2h0.9m3.4 21.2h0.9m-14.4 18h0.9m-51.2-3.4h0.9m40.6-26.5h0.9m-26.9 40.6h0.9m9.8-11.5h0.9m18.2 6.4h0.9m18.3 12.2h0.9m-4.8-7.2h0.9m31.1-22.9h0.9m-58.9-19.4h0.9m23.9 53.9h0.9m-2.8-10.7h0.9m10.7-67.7h0.9m-3.9 49.2h0.9m-20.4-46.6h0.9m6.7 37.9h0.9m-3.1 23.1h0.9m-10.1-35.4h0.9m9.7 22.3h0.9m-5 30.8h0.9m-5-58.9h0.9m30.9 99.6h0.9m-35.9-143.6h0.9m0.7 101.7h0.9m-4.4-36.1h0.9m-14.3 27.2h0.9m18.5 15.4h0.9m16-56.3h0.9m-30.3-14.2h0.9m46.3 22.7h0.9m-73.9 1.2h0.9m43.5 0.1h0.9m31.9 33.8h0.9m-35.3 18.2h0.9m20-61.1h0.9m-38.8 15.8h0.9m-11-0.7h0.9m16.3-2.3h0.9m-1.8 31.3h0.9m-24.4-50.8h0.9m29.6 36.8h0.9m-11.1-19.4h0.9m31.9 22.8h0.9m-24.6-29.2h0.9m-13 46h0.9m10.1-26h0.9m0.7-33.8h0.9m7.6 34.5h0.9m-11.9-31.1h0.9m37.9 64.7h0.9m-56.1 0.5h0.9m9.6-22.2h0.9m-6.1-4.1h0.9m3.4-52.3h0.9m13.4 62.7h0.9m-2.5-8.2h0.9m4.4-0.3h0.9m-9.5-17.2h0.9m3.1 52.4h0.9m-4.1-44.2h0.9m-10.4-6.2h0.9m-1.5 11.1h0.9m-6.2-8.9h0.9m22.8 5.2h0.9m-45.3-5.8h0.9m36.3 18.8h0.9m7.8-41.8h0.9m3.1-10.7h0.9m-55 38h0.9m31 4.3h0.9m-7.6-18.8h0.9m4 11h0.9m26.3-46.7h0.9m-32.5 43.9h0.9m23.3-24.5h0.9m-12-3.8h0.9m-11 19.2h0.9m-3.2-13.4h0.9m15.2 28.1h0.9m-7.6-20.3h0.9m-25 45h0.9m9.8-23.9h0.9m18.1-28.4h0.9m-25.2 14.6h0.9m38 46.5h0.9m-46.2-82.3h0.9m23 64.5h0.9m15.7 22.7h0.9m-30.5-29.6h0.9m-4.9 5.2h0.9m29.1 19.5h0.9m2.4-55.7h0.9m-13.7 80.6h0.9m-7-43.7h0.9m-19.8-11h0.9m25.2-3.8h0.9m-29.3 48.6h0.9m48.2-57h0.9m-25.6 2.4h0.9m-14.6-14.7h0.9m2.7-26h0.9m13 21h0.9m-10.7 5.8h0.9m6.9 8.3h0.9m-18.2-1h0.9m36.1 13.9h0.9m-29.2 2.7h0.9m-25.7-5.1h0.9m27-2h0.9m-8-20.3h0.9m29.4 11.9h0.9m-31.2 40.9h0.9m4.1-42.3h0.9m11.9 33.9h0.9m4.6-19h0.9m12.1-18.7h0.9m-37.6 17.6h0.9m34.1-8h0.9m-5.9-4.8h0.9m-30.3-3.5h0.9m-0.8 33.5h0.9m20.1 3h0.9m-10.6-43.6h0.9m6.7 8h0.9m-9.5 64h0.9m3.8-35.6h0.9m-4.9-13h0.9m6.3-23.4h0.9m-21.1 16h0.9m18.1 32.9h0.9m18.3-33.5h0.9m-4.5-41.7h0.9m-17.4 25.8h0.9m-19.7 8.7h0.9m49 46.7h0.9m-28.9-38.4h0.9m23.1 5.9h0.9m-27-55.1h0.9m-45.2 38.7h0.9m70.9 5.5h0.9m-19.3-6.7h0.9m-11.7 49h0.9m-31.4-26.4h0.9m42.3-24.3h0.9m-8.9 20.7h0.9m30.1 0.1h0.9m-11.6-14h0.9m1.4 14.5h0.9m-28.5-33.8h0.9m-0.4 21.6h0.9m5.5 41.8h0.9m-18.6 1h0.9m7.7-53.8h0.9m-3.2 20.6h0.9m21.2-25.3h0.9m3.8 15.3h0.9m-13.5 10.5h0.9m-25 15.6h0.9m45.4-7.6h0.9m-18.5-2h0.9m-10.3 12h0.9m2.4-13.4h0.9m-32.2 16.8h0.9m18.1-14.5h0.9m23.3-18h0.9m-47-6.3h0.9m0.9 39.7h0.9m34.5-73h0.9m-5.2 54.7h0.9m-33.2-13.9h0.9m16.8-20.3h0.9m8.8-2.9h0.9m-1.8 21.2h0.9m3.5 15.9h0.9m-12.8 9.6h0.9m8.5-8.7h0.9m2.2-68.3h0.9m1.5 67.1h0.9m-18-36.5h0.9m17.4 4h0.9m-29.7-6.5h0.9m7 50.1h0.9m23-39.5h0.9m-1.3 48.9h0.9m-17.2-1.6h0.9m-9.5-27h0.9m1.7 9.6h0.9m17.3-16.7h0.9m-1.9 42.2h0.9m-18.7 16.9h0.9m17.8-95.7h0.9m-16.1 28.6h0.9m-12.9-25.3h0.9m7.3 6.5h0.9m9.6 28.3h0.9m11.5 41.9h0.9m-6.3-74.3h0.9m-10.3 45.7h0.9m4-3.8h0.9m-8.4-17h0.9m-7 49.2h0.9m6.7-58.1h0.9m-29.1-1h0.9m53.9 17.4h0.9m-21.9 9.1h0.9m0.4-54.6h0.9m-16.3 58.9h0.9m13.3 1.4h0.9m0.1-32.3h0.9m-7.1 59.1h0.9m-3.1-53.7h0.9m-16.1 45.8h0.9m8-7.7h0.9m0.5-8.9h0.9m33.3-23h0.9m-19.8-20.9h0.9m7.2 81.4h0.9m-38.8-77.6h0.9m24.4 13.6h0.9m-23.7 26.8h0.9m5.3-29h0.9m47.4 15.3h0.9m-52.1-16.7h0.9m26.1-6.8h0.9m-25.2 29.9h0.9m0.4-8.5h0.9m58.9 13.8h0.9m-47.6 9.3h0.9m-23.8-30.4h0.9m35.4 34.4h0.9m6.4-31.7h0.9m-7.6 13.1h0.9m-16.7 8.1h0.9m-2.2-32.6h0.9m-4.4 47.1h0.9m-11.2-9.9h0.9m23.3 7.5h0.9m-13-51h0.9m-15.2 56.4h0.9m16.2-53.2h0.9m-6.3 83.9h0.9m12.4-43.5h0.9m-4.1-28.1h0.9m-9.5 4.2h0.9m2.9-31.8h0.9m4.3 66.4h0.9m8.2 4.5h0.9m-23-28.7h0.9m-15.8-10.3h0.9m26.8 4.1h0.9m8.5 51.2h0.9m-38.1-65.2h0.9m38.2 15h0.9m-5.4-0.2h0.9m2.1 0.9h0.9m12-37.6h0.9m-13.9 13.3h0.9m-15.1 22.7h0.9m5.5 0.5h0.9m13.7 17.4h0.9m-11.8 25.4h0.9m-4.5 8.1h0.9m3.9-16.8h0.9m-7.5-42h0.9m-3 27.5h0.9m14.2-3.2h0.9m-66.1-7.7h0.9m46.4 41.7h0.9m-18.6-64.2h0.9m9.4 12.1h0.9m-3.5-10.3h0.9m46.9 30.3h0.9m-15.9 8.4h0.9m-19.9-30.1h0.9m-12.6 21.6h0.9m23.4-23.6h0.9m-11.9 40.2h0.9m-10.5-59.1h0.9m5-6.7h0.9m-4.2 44.4h0.9m10.7-1h0.9m-28.3 1.9h0.9m25.7-14.8h0.9m-9.8 48.3h0.9m17.1-27.8h0.9m2.6-19.7h0.9m5.1 36.1h0.9m14.5-20.3h0.9m-6.4-27.6h0.9m-12.2 36.7h0.9m-10.9-27.8h0.9m-31 47.2h0.9m-21.1-40.3h0.9m21.5-1.6h0.9m62.4-4.7h0.9m-71.9 54.5h0.9m35.3-32.3h0.9m-12.8-22.7h0.9m-25.8 17.5h0.9m22.9-35.5h0.9m-14.2 30.3h0.9m8.3-23.9h0.9m1.8 43.7h0.9m-10.3 19.7h0.9m2.8-37.4h0.9m-7.6 10.6h0.9m-14.3 35.7h0.9m29-7.2h0.9m18.4-31.4h0.9m-35.4 9.9h0.9m42.7-9.2h0.9m1.2-38.9h0.9m-42.3 35.5h0.9m0.8-33.4h0.9m-5.7-27.4h0.9m-9.6 44.6h0.9m15.1 25.4h0.9m-4.8-35.8h0.9m7.4 25.4h0.9m-1.6-27.5h0.9m-21.4 18.1h0.9m27.9-7.9h0.9m-13.3 23.2h0.9m-13.5 3.4h0.9m9-42.9h0.9m9.8 63.2h0.9m19.8-47.4h0.9m10.8-1h0.9m-56.2-2.7h0.9m12.5 8.2h0.9m46.5-19.4h0.9m-35.5 31.3h0.9m-19.7-19.2h0.9m-17.3 39.7h0.9m20.1-57.8h0.9m0.7 65h0.9m4.5-24.7h0.9m-26.9 24.4h0.9m21.7-15.9h0.9m-11.1 5.5h0.9m9.9-24.1h0.9m-22.4-25.5h0.9m23.6 9.6h0.9m-8.9-4.1h0.9m-3.3-29.3h0.9m21.7 74.5h0.9m-10.4-28.4h0.9m21.4-20.6h0.9m-21.4 76.7h0.9m-14.4 14.4h0.9m-7.1-99.8h0.9m51.8 23.9h0.9m-54.7 1.4h0.9m32.1-17.9h0.9m-25.6 50.8h0.9m-16.1-74h0.9m35.2 91.7h0.9m16.6-44.2h0.9m-30.3 51h0.9m-13.1-50.8h0.9m-16.6-6.1h0.9m-6.7-31.1h0.9m5.7 66.8h0.9m14.4 21.7h0.9m5-5.9h0.9m22.1-87.4h0.9m-33.6 79.2h0.9m-3.4-45h0.9m16.5 4.5h0.9m-33.8-4.2h0.9m41.5-8.4h0.9m-17.9 10.7h0.9m-6.7-18.5h0.9m-6.4 61.3h0.9m18.2-19h0.9m-14.8-11.6h0.9m10.5-16.2h0.9m4.5-4.7h0.9m31.8 23.6h0.9m-70.4-0.7h0.9m29.4 21.3h0.9m28.7 20.5h0.9m-17.3-64.7h0.9m-13.2-1.6h0.9m19.7 31.9h0.9m-18.1 6.7h0.9m-6 41.7h0.9m-24.7-105.3h0.9m26.3 78.8h0.9m-10.8-33.7h0.9m-5.9-15.7h0.9m12.1 23.3h0.9m6.5-1.3h0.9m-32.6-20.7h0.9m73.4-33.4h0.9m-25 80.2h0.9m-26.6-54.6h0.9m-23.5-2.4h0.9m44.1 3.3h0.9m-37.7 39.4h0.9m26.5-31.7h0.9m-12.6-6h0.9m5.8 25h0.9m-18.8-2.9h0.9m-10.2-20.4h0.9m14.8-27.3h0.9m-18.8 63h0.9m35-16.2h0.9m-21.9-53.8h0.9m18.2 89.7h0.9m-4.3-91.4h0.9m1.3 29.1h0.9m-13.4 2.2h0.9m0.3 3.9h0.9m-4.8-0.5h0.9m10.3-16.5h0.9m-34.6 37.1h0.9m24.7 19.9h0.9m13.8-22.5h0.9m6.1 3.9h0.9m-4-16h0.9m-9.2 11.3h0.9m11.9 6.6h0.9m-28.9 9.9h0.9m3.7-35.8h0.9m-18-2.1h0.9m-11.4-35.1h0.9m20.3 106h0.9m16.9-3.1h0.9m-36-48.9h0.9m56.7-1.9h0.9m-26.1 41.9h0.9m-25.7-69.1h0.9m37.4 5.5h0.9m-15.6 65.6h0.9m19.2-51.6h0.9m-27.3-16.1h0.9m-14.2 38.4h0.9m0-28.7h0.9m46.6 50.8h0.9m-39.8-31.8h0.9m2.6-18.8h0.9m-2.5 1.4h0.9m-4.7 25.3h0.9m2-15.8h0.9m-5.4-3.1h0.9m-21.9 29.3h0.9m32.6 19.3h0.9m7.7-25.6h0.9m-30.6-32.7h0.9m9.9-9.1h0.9m-4.1 45.3h0.9m-31.2-0.6h0.9m57.5-29.2h0.9m-34.4 7.5h0.9m-38.9-10.5h0.9m67.8-13.2h0.9m-26 12.6h0.9m-23.3-44.3h0.9m42.4 89.3h0.9m-25.7-63.4h0.9m-8.6 33.5h0.9m13.7-52.3h0.9m15.7 66.2h0.9m-36.8 9.9h0.9m19.6-22.4h0.9m-0.1-3.9h0.9m-49.3-12.2h0.9m58.5 44.2h0.9m-2.4-68.9h0.9m-14.5 27.8h0.9m14.9-9.3h0.9m-28.7 0.8h0.9m17.5 49.3h0.9m12-34.1h0.9m-21.3-12.4h0.9m-17.7 26.3h0.9m12.3-2.9h0.9m22.1 15.2h0.9m-38-9.4h0.9m5.6-13.9h0.9m-20.1 2.9h0.9m56.3-42.5h0.9m-24.2 51.1h0.9m-15.2-32.5h0.9m13.3 28.1h0.9m3.8 34.9h0.9m-23.5-37.5h0.9m25-12.4h0.9m-12.2 0.3h0.9m34 16.2h0.9m-7.4-4.3h0.9m-1.2 12.4h0.9m-24.6-30.7h0.9m12.5 9.8h0.9m-6.6 26.3h0.9m-12.4 2.8h0.9m25.8-1.3h0.9m-16.1-4.5h0.9m-18.3 1.9h0.9m18.6-14.5h0.9m-0.2-39.9h0.9m-16.1 3h0.9m-4.1 33.7h0.9m12.6 0.4h0.9m6.3-24h0.9m28.3-0.2h0.9m-58.5 20.4h0.9m37.1-25h0.9m-42.6 17.4h0.9m17 31.9h0.9m21.7-6.5h0.9m23.3-11.3h0.9m-58.3-48.8h0.9m53.4 35.2h0.9m-14.3 54.3h0.9m-38-65.5h0.9m-2.8-0.8h0.9m11.7 59.8h0.9m13.9-42.6h0.9m-15.4-39.7h0.9m-5.9 15.1h0.9m-6 13.6h0.9m14.9 20.2h0.9m1-11.7h0.9m3.4-17.1h0.9m-19.7 18.3h0.9m2.3-15.5h0.9m6.1 69.1h0.9m11.3-79.3h0.9m-10.7 18.1h0.9m15.8-4.5h0.9m1.1 0.3h0.9m-30.2-10.3h0.9m10.5 63.2h0.9m-7 23.1h0.9m32.9-54.5h0.9m-63.5-42.6h0.9m41.7 16.3h0.9m-5.8-20.9h0.9m26.3 54.1h0.9m-28.1 15.1h0.9m2.5 8h0.9m-32.1-45.7h0.9m17.7-3.9h0.9m-35.3 21.4h0.9m35.2-12.3h0.9m27.3 18.4h0.9m-44.4-7h0.9m23.1-53.6h0.9m3.6 24.5h0.9m-38.4 61.2h0.9m45.9-24.7h0.9m-57.6 15.4h0.9m10.2-49.4h0.9m29.8 34.1h0.9m-17.8-83h0.9m11.9 90.5h0.9m-10.6-16.5h0.9m3.2-31.7h0.9m11.5 28.3h0.9m-8.9 17.2h0.9m-8.1 10.8h0.9m9.7-66.8h0.9m1.8 40.8h0.9m19-37.4h0.9m-33.2 53.3h0.9m19.8-44h0.9m18.9-5.5h0.9m-9.4 13.2h0.9m-2.6 11.3h0.9m-28.2-12.8h0.9m12.3 39.4h0.9m-19.9 8.8h0.9m27-28.1h0.9m-13.5-19.9h0.9m-6.4 13h0.9m-17.3 8.9h0.9m14.4-9.9h0.9m23.5 2.7h0.9m-21 30.2h0.9m-22.4-45h0.9m0 71.3h0.9m19.6-49.7h0.9m-24.6-9.7h0.9m6.1-12.8h0.9m30.9 0.2h0.9m-31.2 20h0.9m19.5 1.8h0.9m2.4-11.9h0.9m2.3-24.4h0.9m-19.7 34h0.9m-21.9-16.6h0.9m5.5-25.8h0.9m-0.9 58.8h0.9m-3.2-55.6h0.9m10.4 29.7h0.9m22.8 5.4h0.9m17.6 34.8h0.9m-53.6-71.9h0.9m9.3 60h0.9m10.6 3.6h0.9m14.3 17.8h0.9m-26.3-12h0.9m-0.8-30.2h0.9m27.1-38.3h0.9m-28.3 60.2h0.9m-4.9 14.8h0.9m22.1-83.2h0.9m-20.4 15.7h0.9m11.1 38h0.9m3.4 16.5h0.9m-24.6-6.5h0.9m-13.4-5.9h0.9m2.8 32.8h0.9m-2.3-49.6h0.9m21-11.3h0.9m18.6 4.2h0.9m-27 21.1h0.9m27.1-10.9h0.9m-39.3 29.3h0.9m24-42.8h0.9m-25.2 28.3h0.9m2.4 10.1h0.9m24 13.1h0.9m-22.4-62.3h0.9m11.6 14.5h0.9m-22.5 10.2h0.9m26-32.6h0.9m-5.9 44.1h0.9m-13.2 0.3h0.9m52.5-5.3h0.9m-47.3 28.5h0.9m-47-41.6h0.9m63.2 37.8h0.9m-40.9-39.7h0.9m30-17.7h0.9m4.9 27.4h0.9m4 4.3h0.9m-2.8 7.5h0.9m-39.5-61.9h0.9m40.8 42.6h0.9m-18.6 59.5h0.9m-34.9-63h0.9m25.1 37h0.9m22.9 31h0.9m-14.3-80.9h0.9m-6 47.2h0.9m16.9 0.7h0.9m-15.4-5.5h0.9m-4.5-46h0.9m-29.4 36.9h0.9m29.2-1.9h0.9m-7.1-37.9h0.9m38.9 23.4h0.9m-15.2 14.7h0.9m-50.7-6h0.9m20.8 19.4h0.9m-9-25.8h0.9m35.5 8.6h0.9m9.2 21.8h0.9m-61.2 24.2h0.9m-1.2-76.2h0.9m20.7 46.4h0.9m5.5-29.6h0.9m-21.1 23.9h0.9m21.9-44.1h0.9m2.2 63.9h0.9m-39.8-49.7h0.9m25.6 44h0.9m-20.5-53.7h0.9m11.4-8.3h0.9m-3.3 31.5h0.9m16 10.1h0.9m-22.6 54.3h0.9m27.9-55.4h0.9m-4-30.9h0.9m1.8 46.8h0.9m-38.5 18.2h0.9m57.6-61.4h0.9m-14.1 46.5h0.9m-42 10.7h0.9m48.9-14.3h0.9m23.5-39.2h0.9m-81.3 26.8h0.9m24.3 3.4h0.9m21.7 19.1h0.9m12.7-46.7h0.9m-38.1 42.2h0.9m20.2-29.6h0.9m-15.6-4.7h0.9m-12.7 11.1h0.9m17.8-60.2h0.9m-21.4 7.5h0.9m-11.6 6.3h0.9m26.5 55.7h0.9m-20.5-16.7h0.9m27.2-12h0.9m7.6 15.3h0.9m-17.6 27.4h0.9m-13.7-72.7h0.9m1.4 45.6h0.9m12-25.7h0.9m-5.2 91.1h0.9m-18.4-62.4h0.9m38 30.3h0.9m6.6-11.9h0.9m-30.9-30.4h0.9m18.1 54.6h0.9m-9.7-101.9h0.9m9.1 42.1h0.9m-44.2 28.3h0.9m32-5.5h0.9m5.4 2.1h0.9m-2 29.6h0.9m9.4-39h0.9m-1.6 57.9h0.9m-12.1-52.5h0.9m-7.8 1.7h0.9m-11.1 50.4h0.9m8.2-26.9h0.9m-5.9-68.4h0.9m13.5 23.5h0.9m-27.1 18.2h0.9m36.9 33.8h0.9m-15.1 3.8h0.9m4.6-42.6h0.9m-11.5-13.5h0.9m-27.2 11.9h0.9m16.8 6.9h0.9m12.2-10.4h0.9m-19.2 40.6h0.9m-1.9-41.9h0.9m1.3-13h0.9m20 15.3h0.9m-27.9 15h0.9m34.4 23.4h0.9m0.6-57.3h0.9m-22.5 33.2h0.9m1.4 0.7h0.9m3 4.7h0.9m-39.7-20.8h0.9m28.4 20.9h0.9m13.9 5.6h0.9m6.6-29.7h0.9m-14.6 15.2h0.9m24.3-10.4h0.9m-35.7-13h0.9m16.1-14.6h0.9m-20.2 18.1h0.9m8.2 1.2h0.9m-41-16.8h0.9m3.8 44.2h0.9m61.9 6.8h0.9m-6.8-26.2h0.9m4.3 3.3h0.9m-68.6-7.4h0.9m68.6 5.9h0.9m-37.6 18.1h0.9m23.9-6.8h0.9m26.6-12.4h0.9m-29.1-9.6h0.9m-27.8 34.9h0.9m26.4-32.5h0.9m-11.6 15.4h0.9m1.9-46.5h0.9m-10.3 50.6h0.9m-6.6 2.3h0.9m0.5-24.9h0.9m40.3 0.9h0.9m-52.2 38.8h0.9m9.9 28.7h0.9m18.6-53.4h0.9m-23-50.9h0.9m8.6 35.9h0.9m-4.3 24.8h0.9m17.8-13.9h0.9m-17.7 12h0.9m29.3-5.7h0.9m-40.7 2.9h0.9m-19.5-53.2h0.9m23.7 36.2h0.9m6.7-2.8h0.9m-22.3 0.9h0.9m39.5 28.5h0.9m-22.5-43.6h0.9m-31.2-19.1h0.9m45.2 31.7h0.9m-34.2-3h0.9m14.8 20.3h0.9m30.9-23.2h0.9m-31.9 15.3h0.9m4.5-3.9h0.9m22.2 41.4h0.9m-13.4-51.4h0.9m-1.1 34.2h0.9m-21.5-15.5h0.9m20 25.6h0.9m-12.8 17.1h0.9m-48.4-40.9h0.9m31.8-41.1h0.9m20.4 12.1h0.9m-23.5-4.2h0.9m29.2 20.4h0.9m-13.8-3h0.9m7.9 20.4h0.9m-15.8 17.9h0.9m-8-65.9h0.9m10.3 43h0.9m12.5-19.5h0.9m-34.7 21.5h0.9m46.7-15h0.9m-14.2 30.1h0.9m-32.8-42.7h0.9m14.4 8.5h0.9m-11.5 13.9h0.9m-6.4-4.7h0.9m31.7 3h0.9m-15.9-33.9h0.9m-5.6 75.6h0.9m15.1-50.6h0.9m-17.6-11h0.9m-32.3 0.4h0.9m10.7 22.5h0.9m39.6 1.3h0.9m-15.5 49.5h0.9m3.1-22h0.9m-42.4-34.2h0.9m16.9 51.4h0.9m25.6-7.9h0.9m-8.2-61.1h0.9m24.5 79.6h0.9m-42.9-66.5h0.9m9.2 15.4h0.9m16.1 27.7h0.9m-9.9-74.9h0.9m-5.8 39.7h0.9m19.4 10h0.9m-32.9 20.8h0.9m2.7-27.2h0.9m2.5-42.5h0.9m-22.9 93.2h0.9m24.4-50.2h0.9m-15.8 9h0.9m-10.5-44.1h0.9m9.9 71.2h0.9m48.7-50.5h0.9m-31.1-4.4h0.9m13.2 46.1h0.9m-33.8-60.6h0.9m46.3 39.9h0.9m-43.5-25.3h0.9m19.7 29.6h0.9m-25.3 8.2h0.9m15.3-32.5h0.9m-6 47h0.9m-16.1-32.6h0.9m21.9 47.9h0.9m-4.2-20.3h0.9m-28.3-24.3h0.9m42.4-60.8h0.9m-15.3 58.9h0.9m-21.6-33.4h0.9m47.2 57.5h0.9m-21.4-42.7h0.9m-13.2 21.9h0.9m-4 43.5h0.9m12.3-16.7h0.9m14-33.7h0.9m-25.3 9.4h0.9m23.5 27h0.9m-88.2 0.4h0.9m67.4-23.8h0.9m5.2-12.7h0.9m0.7 7.6h0.9m12.2-14.5h0.9m-15.6 28.1h0.9m9.1-8h0.9m-21.6 15h0.9m3.9-1.1h0.9m16.1 23.1h0.9m16.2-67.2h0.9m-31.7-36.7h0.9m22.2 35.3h0.9m-44.8 27.2h0.9m-0.3-13.5h0.9m5.6-1.4h0.9m8.6-12.2h0.9m-20.7 30.9h0.9m18.2-54.5h0.9m9.5 56.5h0.9m13.3-0.3h0.9m18.6 10.5h0.9m-51.2-80.4h0.9m2 70.3h0.9m-3.9 5.3h0.9m-7.6-36h0.9m23.3 11.5h0.9m-20.5-6.4h0.9m2.2 27.4h0.9m-12.3 14.9h0.9m16.5-59.7h0.9m-18.5 41.1h0.9m47.8 21.8h0.9m-11.2-50.8h0.9m-10.5-45.2h0.9m-0.3 39.7h0.9m-18.8-1.7h0.9m-3.1 4.1h0.9m4.8 68.4h0.9m-5.2 7.6h0.9m-22.8-14.9h0.9m14.9-47.2h0.9m14 46.7h0.9m-31.6-92.8h0.9m38.7 25.8h0.9m-19.1 48.4h0.9m14.3-36.1h0.9m-6.1-14.9h0.9m-11.1 39.7h0.9m5.5 0.3h0.9m-25.1 4h0.9m39.3 0.8h0.9m-8.5-7.2h0.9m3.3-11.5h0.9m-35.1 6.5h0.9m-8.1 20.1h0.9m19.5-15.2h0.9m7.4-19.5h0.9m4.5-7.1h0.9m-18.9 21h0.9m14.9 32.5h0.9m18.6-19.6h0.9m-13.9 20.8h0.9m-37.5-42.3h0.9m42.6 10.8h0.9m-77.5 8.2h0.9m74 9.2h0.9m-1.7-30.5h0.9m-27.9 25.8h0.9m-9.8 17.3h0.9m16-35.6h0.9m5.7-20.4h0.9m18.3 54.5h0.9m-51.7-12.4h0.9m27.6-55.3h0.9m-10.2 34.5h0.9m12.2 49.8h0.9m12-36.3h0.9m25.6-14.2h0.9m-56.6-22.7h0.9m35.9-2.2h0.9m-34 47.4h0.9m29.3-45.2h0.9m1.3 31.8h0.9m-16.7-10.1h0.9m-19.6 10.5h0.9m-11.1-11h0.9m33 14.7h0.9m-1.7 13h0.9m12.4-29.9h0.9m-2.2 26.6h0.9m-25.7 16h0.9m12.8-28.5h0.9m-35.4-38.1h0.9m16.1-4.9h0.9m-21.9 26.4h0.9m22.5 11.3h0.9m36.3 24.8h0.9m-47.8-16.3h0.9m11.3 4.3h0.9m-16.9-22.2h0.9m10.3-6.5h0.9m12.6 32.3h0.9m3.4 26.4h0.9m-19.6-35.5h0.9m-7.5-37.7h0.9m-34.1 10.7h0.9m69.1-12.1h0.9m-32.3 37.7h0.9m-27.6 2.3h0.9m53.7-6.1h0.9m-53.2-7.5h0.9m50.4-10.6h0.9m-45.6 20.1h0.9m5 54.6h0.9m-1.1-68h0.9m7.8-21.2h0.9m31.1 41.8h0.9m-41.4-24.4h0.9m26.1 21h0.9m-5.2-5.9h0.9m-4.4-9h0.9m15.5-2.8h0.9m-12.5 63.5h0.9m-2.9-58.1h0.9m6.8-17.4h0.9m-19.4 29.7h0.9m7.3 11.5h0.9m1.9-48.9h0.9m11.2 30.7h0.9m-18.1 16.5h0.9m-1-34h0.9m8.5 21.3h0.9m-10.7-1.1h0.9m-9.7 18.6h0.9m25.6 37.2h0.9m-16-93.2h0.9m-7.2 49.9h0.9m-15.9-58.2h0.9m-10 53.6h0.9m34.9-54h0.9m-19.9 33.1h0.9m-14.4-6.3h0.9m11.8 24.8h0.9m17.1-27.7h0.9m-18.3 8.3h0.9m14.7-46h0.9m-12.8 54.6h0.9m6.4-29.6h0.9m2.8 39.4h0.9m11.1 29.5h0.9m-3-45.4h0.9m-12.4 4.7h0.9m-15 33.3h0.9m32.6-35h0.9m-26.9 8.9h0.9m-36.1-50.5h0.9m48.4 95.7h0.9m-4.1-69.1h0.9m-13-8.8h0.9m-19.2 1.2h0.9m-5.8-30.1h0.9m14.1 80.7h0.9m31.3-14.5h0.9m-22.9-12.3h0.9m-2.8 3.2h0.9m39.6 25.6h0.9m-68.8 10.2h0.9m32.8-51.1h0.9m-28.9 25.1h0.9m47.3-60.3h0.9m-46.5 33.5h0.9m30.1-16h0.9m-3 7.5h0.9m-34.8-2.1h0.9m39 60.3h0.9m-19.1-44.8h0.9m20.6 45.7h0.9m-21.3-7.1h0.9m14.2-29.5h0.9m-10.2-15.1h0.9m7.4-1.3h0.9m0.9-19.4h0.9m-11.6 43.2h0.9m-3.4 3.7h0.9m12.8-29.9h0.9m-16.8 33.6h0.9m2.8-30.9h0.9m28.1-0.6h0.9m-25.2 24h0.9m9.5-33.1h0.9m-24 9.6h0.9m18.8 35h0.9m-15-84.6h0.9m-0.1 68.5h0.9m-25.7 2.3h0.9m8.8-78.5h0.9m-34.4 83h0.9m19.5-30.5h0.9m65.7 11.9h0.9m-35.8 2.7h0.9m2.8 27.3h0.9m12.9-28.3h0.9m-10.7 18.5h0.9m-12.6-15.3h0.9m0.9 27.5h0.9m-12.5 8.8h0.9m25.1 3.8h0.9m-3.8-62.5h0.9m-8.5 8.8h0.9m-3.5 4.4h0.9m12.3 36.5h0.9m-30.9-52.2h0.9m25.1 34.9h0.9m18.9-25.8h0.9m-36.3 40.8h0.9m3.6-40.2h0.9m24.8 8.7h0.9m-19.7 35.3h0.9m12-8.7h0.9m-8.9-15.7h0.9m1.3 13.9h0.9m-22.6-34.6h0.9m-0.7 12.8h0.9m20.8-32.1h0.9m-32.4 49.2h0.9m17.8-16.4h0.9m-15.5 11.9h0.9m24-41.5h0.9m-13.9-3.9h0.9m2.7 31.2h0.9m29.1 13.4h0.9m-15.8-47.4h0.9m6.5-24.2h0.9m17.4 11.2h0.9m-17.8 44h0.9m-28 40h0.9m-9.8-37.1h0.9m7.8 29.4h0.9m13-42.7h0.9m-15.7-1.2h0.9m-4.7 26.4h0.9m35.1-17.7h0.9m-32.6 9.3h0.9m12.9 0h0.9m-2.6-22.3h0.9m-36.5 35.7h0.9m56.4 36.8h0.9m-48.5-64.9h0.9m-4.5 27h0.9m17 28.6h0.9m-6.6 7h0.9m32-47h0.9m-18.1-4.6h0.9m-12.8 37.6h0.9m-19.7-60.3h0.9m33.1 46.2h0.9m-11.4 13h0.9m-39.8-62.7h0.9m46 38.2h0.9m-21.4-39.7h0.9m28.4 81.1h0.9m-36.5-63.4h0.9m14.9 5.6h0.9m5 66.5h0.9m-3.5-84.3h0.9m-19.4 39h0.9m41.5 1.2h0.9m-35.3-4.9h0.9m-16.5-16.5h0.9m33.1 8.3h0.9m25.5-21.4h0.9m-61.6 47.5h0.9m9-67.4h0.9m35.8 85.1h0.9m-15.7 2.2h0.9m-24.9-46.4h0.9m17.7 13.5h0.9m29-17h0.9m-5.6 3.1h0.9m19.9-39.3h0.9m-32.7 33.5h0.9m-19.4 33.4h0.9m22.2-2.6h0.9m-29.8-38.3h0.9m10.1 19.2h0.9m15 34.2h0.9m-4.7-37.9h0.9m-24.5-50.2h0.9m31.8 59h0.9m4.8-2.6h0.9m-32.9 19.2h0.9m12.8-27h0.9m17.7-9.1h0.9m-22.5-16h0.9m-8.8 48.5h0.9m1.2-33.3h0.9m-6.1 35.5h0.9m24.3-50.5h0.9m-1.1 38.3h0.9m19.4 8.2h0.9m-49.5 12.1h0.9m1-16.9h0.9m-16.8-23.2h0.9m32.5 2.4h0.9m-28.4 7.3h0.9m51.3-40.9h0.9m-47.9 50.8h0.9m50.4 0.7h0.9m-85 8.9h0.9m18 51.9h0.9m7-75h0.9m22.3-15.2h0.9m-9.2-34.2h0.9m-8.9 84.3h0.9m7.3-66.6h0.9m-7.1 27.8h0.9m16.7-23.2h0.9m-25.1 47.9h0.9m17.2-40.7h0.9m-0.2-1h0.9m-1.3 63.4h0.9m2.7-70.1h0.9m-8.5 27.4h0.9m14.3 16.2h0.9m-14.3-10.7h0.9m23.5 51.5h0.9m-20.8-31h0.9m13.2-48.7h0.9m-28.1 31.5h0.9m-8-9.7h0.9m28.9 32.2h0.9m-14.5-22h0.9m-37.5-20.4h0.9m21.5-20.4h0.9m17.4 12.5h0.9m-5.5 44.7h0.9m-11.1 16.2h0.9m9.2-40.9h0.9m3.6 31.8h0.9m-32.1-23.2h0.9m44.1-29.5h0.9m1.6-30.8h0.9m-32.5 68.9h0.9m41.9-37.1h0.9m-31.7 60.2h0.9m-11.7-32.7h0.9m-1.4 0.1h0.9m40.8-8h0.9m-49.3 2.3h0.9m17.1-34.1h0.9m2.1 15.6h0.9m5.3-22.7h0.9m-11 15.1h0.9m28.5 17.2h0.9m3.7 13h0.9m-9.1 10.6h0.9m-20.4-19h0.9m10.7 36.6h0.9m-22.8-16.7h0.9m22.9-19.3h0.9m-27.9 40.7h0.9m-9.3-54h0.9m1 41h0.9m24.1-1.8h0.9m14.3-36.4h0.9m-0.7-23.9h0.9m-61.4 49.9h0.9m52.5 30.1h0.9m-36.7-50.6h0.9m54.7-32.9h0.9m-62.3 20.3h0.9m-5.4 31.3h0.9m41.8-35h0.9m-22.2 38.9h0.9m-2.5-11.5h0.9m-6.4-1.8h0.9m0.9-13.6h0.9m26.9-5.4h0.9m-32.2 40.8h0.9m9.4-51.8h0.9m-10.7 87.9h0.9m14.6-61.3h0.9m-10.1 1.9h0.9m16.4 32h0.9m0.9-8.2h0.9m16.1 0.3h0.9m12.2 10.6h0.9m-51.7 0h0.9m21.9-11h0.9m-27.7 29.5h0.9m1.9-35.6h0.9m6.9-1.7h0.9m-21.2 0.3h0.9m27 6.6h0.9m27.7-18.3h0.9m-29-12.4h0.9m-2.6 12.7h0.9m0 55.3h0.9m25.5-74.2h0.9m-59.3 10.1h0.9m4.5-11.6h0.9m12.5-28.4h0.9m27.8 43.4h0.9m-10 18.8h0.9m2-39.9h0.9m-5.9 59.9h0.9m-30.4-23.6h0.9m51.6 13.5h0.9m-42.2-16.7h0.9m1.3-12.8h0.9m16.9-6.2h0.9m6.1 16.3h0.9m-32.4 4.2h0.9m2.9-23h0.9m39.5 5.9h0.9m-13.9 56.6h0.9m-40.9-45.6h0.9m8.9 2.1h0.9m-12.6 37.4h0.9m9.7-33.1h0.9m24.6-11.7h0.9m-11.7 27.5h0.9m-11.5-6.2h0.9m26.5-15h0.9m-26.7 3.7h0.9m24.4-17.3h0.9m-35.3-19.3h0.9m10.2 43.6h0.9m26.3-55.2h0.9m-26.6 10.7h0.9m-1.9 12.6h0.9m15.9-7.9h0.9m5.1 25.6h0.9m17.5-19.8h0.9m-65.8-30.1h0.9m39.4 93.1h0.9m-3.7-36.6h0.9m-2.8 6.1h0.9m5.6-40.5h0.9m11.9 41.7h0.9m-17.9 29.7h0.9m19.1-79.1h0.9m-24.9 6.8h0.9m-12.8 20.5h0.9m12.1 25.9h0.9m-19.3-5.5h0.9m-1.1-17.9h0.9m10.1-1.3h0.9m-0.3 53.3h0.9m21.3-104.8h0.9m-23 68.4h0.9m-16-22.2h0.9m19.5 60.7h0.9m-1.6-95.8h0.9m0.5 76.7h0.9m-23.4-53.7h0.9m41.6-2.8h0.9m-53.8 25.1h0.9m30.6 10h0.9m-21.8-20.5h0.9m33.8-18h0.9m-9.2 34.7h0.9m-3.5 0h0.9m-11-18h0.9m29 40.9h0.9m-31.9-60.5h0.9m37.5 51.6h0.9m-44.8 27.1h0.9m12.8-14h0.9m11.1-6.7h0.9m-8.4-59.8h0.9m-7.2 59.5h0.9m-29-31h0.9m30.6 22.5h0.9m-12.3-41.2h0.9m-3.2 28.2h0.9m-21.3-2.8h0.9m31 33.2h0.9m-46.5-61.2h0.9m53.4 52.4h0.9m3-21.6h0.9m-11.2 17.6h0.9m-12.9-28.4h0.9m30.8 15.8h0.9m-0.3-13.7h0.9m-18.8 13.4h0.9m23.6 51.6h0.9m-43.4-16.5h0.9m11.9 12.6h0.9m-39.6-60.8h0.9m18.1 13.3h0.9m-2.1 2.2h0.9m30.2 34.5h0.9m-26.9 14h0.9m-15.1-18.2h0.9m16.9-36h0.9m0.1-17.1h0.9m-14.2-11.5h0.9m23.1 11h0.9m4.5 41.6h0.9m-30.9 1.7h0.9m33.8-43.6h0.9m-26.4 21.6h0.9m5.6 15.1h0.9m13.8-45.5h0.9m-16.8 21.4h0.9m-11-14.1h0.9m36 2.1h0.9m-2.3 16.7h0.9m-27.1 8.6h0.9m-9.4-56h0.9m3.5 25.3h0.9m30.7 41.3h0.9m-28.5 33.6h0.9m38.1-18.2h0.9m-22.5-46.5h0.9m-7.8 38.8h0.9m-12.5-35.2h0.9m7.6-58.5h0.9m-17.9 44h0.9m-5.6 29.8h0.9m32.5 8.1h0.9m-12-30.8h0.9m11.7-21.3h0.9m-7.1 36.2h0.9m-15.7 9.1h0.9m23.2-54.1h0.9m-22.9 58.8h0.9m29-9h0.9m-30.7 20.7h0.9m-17.5-67.5h0.9m47.9 27.9h0.9m-36.4-8.9h0.9m0.4 2.9h0.9m-12.7 16.4h0.9m20 27.4h0.9m-16.3 37.2h0.9m41.2-25.5h0.9m-34.1-50.3h0.9m-10.4-12.8h0.9m16.2 23.1h0.9m35.3-43.8h0.9m-36.7 37h0.9m-7-9.2h0.9m3.9 6.7h0.9m13.3 8.1h0.9m-2.2 6.4h0.9m-9.3-5.7h0.9m11.8-6.7h0.9m-19.7 15.7h0.9m-0.8-13.3h0.9m0.3 5.6h0.9m12.1-16.1h0.9m18.4 35.1h0.9m-21.9-36.1h0.9m-0.1-34.1h0.9m-30.9 13.5h0.9m7.9 46.1h0.9m-0.2-28.4h0.9m-6.3 39.1h0.9m7.3-20.9h0.9m21.2 21.5h0.9m-1.5-69.2h0.9m-12.8 32.6h0.9m0.9-8.7h0.9m0.1 91h0.9m-11.4-77.9h0.9m26.1-27.9h0.9m-40.6 48.7h0.9m15.2-35.5h0.9m-17.8 51.7h0.9m17.3 3.7h0.9m-10.3-52.7h0.9m-12.5 70.5h0.9m35.1-66.7h0.9m-29.1 26.3h0.9m30.8 17.7h0.9m-29.4-14.9h0.9m13.1-21.4h0.9m15.5-23.2h0.9m-22.9 79.8h0.9m21.2-36.3h0.9m7.8 41.2h0.9m-38.1-94.1h0.9m-0.6 58.3h0.9m36.9 31.2h0.9m-35.1-65.7h0.9m-1.3 1.7h0.9m19.3 12.5h0.9m-62.3-13.8h0.9m24.9-20.1h0.9m21.1 23.5h0.9m-25.2-9.7h0.9m0.9 3.8h0.9m8.5 9.3h0.9m-5.7 32.7h0.9m5-27.7h0.9m7.5 30h0.9m-17.5 7.2h0.9m7.3-29.1h0.9m5.9-31.1h0.9m-9.8 77.6h0.9m-11.4-47.8h0.9m6-35.2h0.9m7.1 25.9h0.9m-21.6 7h0.9m34.9-12.4h0.9m-16.5-18.2h0.9m-5.7 43.3h0.9m-13.4 1.9h0.9m31.9 12.4h0.9m10.7-22.3h0.9m-31-8.4h0.9m43.3 41.9h0.9m-37.1-51.8h0.9m2.3 45.1h0.9m13-12.5h0.9m-8.7-29.7h0.9m-27.8 16h0.9m7.2-26.1h0.9m29.3 48.3h0.9m-10-4.1h0.9m-4.2-8.6h0.9m2.5-0.4h0.9m-25.1-45.8h0.9m31.8 7.9h0.9m-52.4 72.9h0.9m37.2-4.5h0.9m5.4-14.8h0.9m-5.3 11.4h0.9m-10.4-72.5h0.9m0 48.9h0.9m1.9 3.6h0.9m-20.1-31.6h0.9m21.3 4h0.9m-19.9-39.8h0.9m1.8-1.1h0.9m-5.8 83.6h0.9m66.7-16.8h0.9m-45.8 22.1h0.9m-27.2-14h0.9m19.2-64.5h0.9m20 50.2h0.9m-17.6-24.3h0.9m-5.3 19.3h0.9m-13.5-5.4h0.9m17.4 8.2h0.9m6-19.2h0.9m1.5 38.2h0.9m-13.8-53.3h0.9m-0.7 3.4h0.9m19.1-1h0.9m-0.5 44h0.9m-24.6 8.4h0.9m31-40.3h0.9m-53 9.7h0.9m26.2 29h0.9m1.5 12.9h0.9m18.6-40.9h0.9m-38.9-37.4h0.9m-27.2 18.5h0.9m29.5 44.1h0.9m15.1-0.1h0.9m-15.6-6.9h0.9m6.3-36.1h0.9m-0.8 43.8h0.9m-22.7-41h0.9m11.3 22.9h0.9m4.1-7.4h0.9m7.5-10.2h0.9m28.9 24.3h0.9m-6.9 5.7h0.9m-57.3-37.9h0.9m41.9 18.5h0.9m6.2 18.2h0.9m-5-84.1h0.9m-44.1 77.3h0.9m28.7 8.4h0.9m12.7-9.7h0.9m-42.7 3.7h0.9m-4.2-14.8h0.9m51.3 17.7h0.9m-38.7-47.1h0.9m3.3 9.1h0.9m1.2 33.6h0.9m25 4.8h0.9m-37.2 13.8h0.9m43.3 4.9h0.9m-28.2 5.9h0.9m-18.3-59.1h0.9m15.5-10h0.9m23.9 49.4h0.9m-25.7-33.4h0.9m-10.4 10.5h0.9m17.2 20.9h0.9m-1.8-15.5h0.9m4 12.1h0.9m1.8-38h0.9m-21.8 29.7h0.9m12.3-1.3h0.9m-23.2 23.3h0.9m17.6 5.3h0.9m-13.1-47h0.9m-22.1-11.7h0.9m64.6 40h0.9m-53.9-56.8h0.9m17.9 60.7h0.9m-1.7 2.2h0.9m-5.1-36.7h0.9m-19.1-45.9h0.9m43.6 84.3h0.9m-13 12.6h0.9m-24.5-94.1h0.9m42.6 90.9h0.9m-32.3 2.7h0.9m-1.5-69.5h0.9m28.2 32.8h0.9m-26.8 7h0.9m5.4-4.4h0.9m-19.1 15.5h0.9m32-45.8h0.9m2.8-15.4h0.9m-38.9-4.9h0.9m13.2 74.4h0.9m3-59.9h0.9m-9.8 36.5h0.9m1.2-18.1h0.9m41-1.3h0.9m-48 11.6h0.9m35.1-9.9h0.9m-26.5-27.1h0.9m-29.1 38.1h0.9m27.8-16.8h0.9m-2-1.1h0.9m1.4 67.5h0.9m-22.8-81.7h0.9m9.2 29.8h0.9m11 10.7h0.9m-3.9 41.4h0.9m14.4-76h0.9m-12.9 63.6h0.9m3.5-39.6h0.9m-46.2 3.5h0.9m50.1 17.3h0.9m-27 24.3h0.9m13.8-32.5h0.9m-3.3-3.5h0.9m0.6-1.3h0.9m17.3 17.3h0.9m-26.7-37.6h0.9m-7.1 9.1h0.9m7.3-31.6h0.9m-0.8 54.6h0.9m8.1-13.2h0.9m-13 37.7h0.9m0.8-67.5h0.9m-14.5 80.5h0.9m36.6-34.3h0.9m-18.1-77.7h0.9m-7.9 77.8h0.9m-8.3-32.1h0.9m4.5 8h0.9m-1.9-4.2h0.9m-13.1 44.5h0.9m35.8-78.7h0.9m-25.7 42h0.9m9.4 1.5h0.9m3.5-11h0.9m-15.2-10.6h0.9m22.2-34h0.9m-6.4 53.5h0.9m-2 17.1h0.9m-4.3-12.5h0.9m-28.8-23.2h0.9m8.7 21.8h0.9m19.3 38.7h0.9m-15.1-55.1h0.9m3.8 21.9h0.9m1.7 3.5h0.9m-41-41.1h0.9m46.5 23.9h0.9m10.6-0.4h0.9m1.6 8.1h0.9m-4.3 31.4h0.9m-21.9-60.2h0.9m7 62.8h0.9m-30-15.8h0.9m11.2 34.9h0.9m0.8-102.1h0.9m-14-11h0.9m18.4 129.3h0.9m0.1-103.9h0.9m14.1 12.9h0.9m-10.9 0.8h0.9m38.1-8.9h0.9m-44.9 45.5h0.9m-9-20.3h0.9m-5.6-11.9h0.9m6.7 63.1h0.9m-16.9-98.3h0.9m19.1 78.5h0.9m21.6-28.9h0.9m-10.9-16.2h0.9m-1.7 2.9h0.9m-14.4 8h0.9m17.7 30.5h0.9m-23-24.4h0.9m19.6 44.8h0.9m-24.8-50.5h0.9m14.2 36h0.9m-2.7-30.9h0.9m-3.1 13.2h0.9m22.7 21.3h0.9m0.1-17.6h0.9m-13.3-12.9h0.9m6.1 25.5h0.9m-7.6-1.9h0.9m-19.1 28.2h0.9m1.4-55.2h0.9m-31.2-3.8h0.9m18 44.3h0.9m-9.4-30.9h0.9m10.5 11.1h0.9m13.1-46.6h0.9m-13.3 12h0.9m23.7 21.4h0.9m-32.7-24h0.9m26.3 20.4h0.9m-26.1 38.9h0.9m34.5-48.4h0.9m-34.2 61.6h0.9m18.4-71.8h0.9m-20 5.3h0.9m39.4 19.2h0.9m-4.1-40.4h0.9m-19.3 20.2h0.9m2 56.3h0.9m2.9-49.4h0.9m-4 3.4h0.9m4.8-1.1h0.9m-34.4-29.1h0.9m15.3-1.4h0.9m-11.9-2.5h0.9m36.5 8.9h0.9m-47.6 5.7h0.9m51.3 29.3h0.9m-30.6-7.8h0.9m16.7 35.7h0.9m-26.9-21.1h0.9m-14.1 1.6h0.9m44.8-30.8h0.9m-14.9 51h0.9m-33.5-82.4h0.9m18.5 31.5h0.9m-3-14.8h0.9m14.5 77.8h0.9m-27.2-38.8h0.9m-7.2-48.1h0.9m21.1-2.3h0.9m-15.5 54.6h0.9m40-8.5h0.9m-10.1 47.7h0.9m-4.6-55.4h0.9m-45.1 42.4h0.9m24.1 1.9h0.9m-0.7-52.6h0.9m-12.4 23h0.9m25.9-17.3h0.9m-2.6 13.2h0.9m3.6-14.4h0.9m6.2 35.6h0.9m-2.8-16.3h0.9m29.2 9.9h0.9m-47.2 11.6h0.9m-7-55.1h0.9m13.1 14.3h0.9m10.1-10.2h0.9m-49.8-15.2h0.9m14.3 31.8h0.9m1-29.4h0.9m10.7 12.3h0.9m-9.9 4.2h0.9m26.3 14.5h0.9m-13.4 39.2h0.9m-8.4-32.1h0.9m9.2 6.1h0.9m-38.2 24.2h0.9m34.5-42.7h0.9m-22.2 6.6h0.9m26.7-34.7h0.9m-43.4 16.5h0.9m38.9 39.8h0.9m-25.6-23.9h0.9m35.2-2h0.9m-50.2-36.3h0.9m26.6 24.1h0.9m10.7 2.8h0.9m-4.8 41.5h0.9m-1.8-13.7h0.9m-28.2-12.8h0.9m-3.4-26.9h0.9m27.2 21.3h0.9m-5.5-33.6h0.9m-19.4 16h0.9m-1.4 6.5h0.9m17.1 31.1h0.9m-5.3 5.7h0.9m36.5-33.9h0.9m-12.6-31.1h0.9m-4.9 85.6h0.9m7.4-52.2h0.9m-37 2.3h0.9m1.3-1.8h0.9m26.7-16.2h0.9m-19.9 5.6h0.9m-0.9-17.4h0.9m-21 8.6h0.9m38.5 25h0.9m-9.3 14.9h0.9m-16.1-14.1h0.9m-3.4 24.2h0.9m29.7-0.6h0.9m-36.1-41.7h0.9m-13.6 8.4h0.9m46.1-0.7h0.9m-1.3-14.9h0.9m13.4 15.1h0.9m-39.5-4.3h0.9m-10.5-5.4h0.9m22.1 57.3h0.9m-31.7-6.3h0.9m4.4-10h0.9m16.7-53h0.9m-1.8 40.9h0.9m13.8 11.9h0.9m-34.8 21.5h0.9m51.2-2.1h0.9m-63.8-45.1h0.9m18-27.6h0.9m12.3 87.8h0.9m-16.7-67.7h0.9m24.5-19.8h0.9m21.6 30.8h0.9m-21.3 19.9h0.9m-34.7-20.7h0.9m-6.6-16.2h0.9m18.4 45.4h0.9m8 0.6h0.9m-24.8-31.1h0.9m16 14.5h0.9m-8.4 16.1h0.9m38.6-9.7h0.9m-15.9-8.1h0.9m18.4 6.7h0.9m-21.5-4h0.9m-26.5-9.2h0.9m32-32.4h0.9m-9.5 5.7h0.9m4.2 36.8h0.9m-31.3-22.5h0.9m8.9 22.7h0.9m34.5-44h0.9m-49.9 14.3h0.9m38 12.1h0.9m-5.2-49.9h0.9m-14.4 33.5h0.9m28.7 4.4h0.9m-45.4 23.4h0.9m12-11.8h0.9m5.7 12.1h0.9m-31.9-2.9h0.9m32.2-10.7h0.9m-0.3-8.7h0.9m-14.9 19.1h0.9m-25 31.7h0.9m46.7-51.4h0.9m20.6 64h0.9m-34.5-44.4h0.9m14.1 19.1h0.9m-7.6-12.8h0.9m-7.5 4.2h0.9m-17.3-34.9h0.9m-14.9 11.1h0.9m10.4-30.1h0.9m10.1 35.5h0.9m1.7 21.3h0.9m-20.8-20.1h0.9m14.6 28.7h0.9m-4.3-34h0.9m-7.2-7.4h0.9m3.5 4.2h0.9m12.7 30.9h0.9m14 22.4h0.9m-11.3 11.3h0.9m-20.8-35.7h0.9m-3.3 7.5h0.9m32.7-61.8h0.9m-19 6.8h0.9m11.3 8.9h0.9m-7.9 56.3h0.9m-9.7 0.1h0.9m13 24.9h0.9m-17-80.8h0.9m-5.2 19.8h0.9m7.7-39.7h0.9m-49.8 9.8h0.9m30.6 25.4h0.9m-41.4-11.2h0.9m48.7-2.5h0.9m8.9 5h0.9m4.3 52.6h0.9m8.6-10.1h0.9m-15.3-52.5h0.9m-12.7 53.2h0.9m12.8-47.4h0.9m-29.3-16.3h0.9m26.3 19.6h0.9m10.3 22.5h0.9m-36.6-27.7h0.9m4.2 37.4h0.9m-20.4-28.3h0.9m57.9 20h0.9m-11.6-33.8h0.9m-46.7 27.9h0.9m11.6-22.5h0.9m23.2 13.7h0.9m-29 58h0.9m4.7-61.1h0.9m14.7-21.3h0.9m-31.3 34.8h0.9m9.4-0.2h0.9m41-2.5h0.9m-18.7 12.8h0.9m-4.2-25.7h0.9m7.4 28h0.9m-6.1-17h0.9m-18.8-30.7h0.9m28.8 51.1h0.9m9-16.6h0.9m-29.3 12.4h0.9m24.9-46.5h0.9m8.1 51.4h0.9m-51.1 39.2h0.9m-32.7-88.1h0.9m62 53.8h0.9m-34-19.5h0.9m22.7-6.2h0.9m1.9 22.6h0.9m-7.8-2.7h0.9m12.6 12.7h0.9m8.5-62.3h0.9m-13 63.6h0.9m17.9-25.7h0.9m-10.8-49.3h0.9m-1.7 30.2h0.9m-39.6 17.7h0.9m36.6-18.2h0.9m-28.3 9h0.9m19.8-12h0.9m-44.5 64.4h0.9m26.3-32h0.9m8.9-15.8h0.9m-19.4-26.2h0.9m-10.2 58.8h0.9m18-20.5h0.9m36.7-38.7h0.9m-53.5 3.2h0.9m6.4 19.6h0.9m15 4.1h0.9m-5.3 6.2h0.9m10.8-25.1h0.9m-19.4 16.5h0.9m7.8 41h0.9m21.4-11.4h0.9m-9.7 5.6h0.9m-15.6-32.8h0.9m-36.9-4.3h0.9m41.4 22.7h0.9m-6.9 3.2h0.9m-22.4-3h0.9m-22.3-46.6h0.9m29.5 25.3h0.9m16.7-21.1h0.9m-30.1 14.1h0.9m27.1 75.9h0.9m-16.9-93.7h0.9m8.8 23.2h0.9m2.9 38.2h0.9m-6.1 14.7h0.9m21.6-38.5h0.9m5.2 19.7h0.9m-25.4-36.9h0.9m-7.4-57.1h0.9m22.9 91.7h0.9m10.9-31.4h0.9m-42.2-5.4h0.9m-7.9-1.8h0.9m24.6 27h0.9m-12.8 0.3h0.9m-31.8-15.6h0.9m38.3 9.1h0.9m-6.5-38.2h0.9m32 20.1h0.9m-26.4-19.5h0.9m-16 0.1h0.9m7 35.2h0.9m7.9-7.9h0.9m7.7-13.2h0.9m-17.2 5.9h0.9m5.6 17h0.9m1 7.2h0.9m-12-3.9h0.9m-21.9-38.9h0.9m52.3-18.7h0.9m-11.4-13.5h0.9m1.1 36.1h0.9m-27-34.5h0.9m20.5 94.1h0.9m-48.5-44h0.9m54.1-28.8h0.9m-24.2 26.7h0.9m-20.8 17.6h0.9m14.2 2.4h0.9m-3.8-2.8h0.9m-1.1-48.7h0.9m16.3 56.8h0.9m6.8-16.4h0.9m-15.5-5.2h0.9m13.9-8.1h0.9m-25.4 21.5h0.9m24.6-47.9h0.9m-17.3 20.4h0.9m16.1 79.8h0.9m-24.7-18h0.9m7.8-14.6h0.9m31.9-20.2h0.9m-35.8-14.9h0.9m12.9-17h0.9m1.9 8.7h0.9m-10.5-27.8h0.9m3.6 26h0.9m-21.4 17.6h0.9m-6.8-9.4h0.9m-2.4 32h0.9m21.1-30.1h0.9m-4.2 49.2h0.9m1.2-48.5h0.9m-28.6-46.1h0.9m9.9 43.6h0.9m23.9-33.3h0.9m-10.3 49h0.9m-3.4-24.7h0.9m-4.9 31.7h0.9m-10-1.3h0.9m31.4-10.9h0.9m3.9 29.3h0.9m-24.2-23.3h0.9m-33.2-17.3h0.9m25.6-24.9h0.9m27.7 30.6h0.9m-34.4 39h0.9m1.9-13.1h0.9m20.7-4.7h0.9m-22.1 15.7h0.9m-24.6-4.5h0.9m30.8 5.5h0.9m-36.9-31.8h0.9m56-13.3h0.9m-11.8-0.4h0.9m5.6 11.7h0.9m-34.4 6h0.9m41.8-6h0.9m-29.3 13.1h0.9m23.3 44.5h0.9m-17.3-36.6h0.9m6.5-2.7h0.9m-11.4-75.3h0.9m-13.1 53.4h0.9m-18.8 0.1h0.9m44.1-44.5h0.9m-59.5 62.4h0.9m53.4-30.1h0.9m5.7 7.3h0.9m-43 37.1h0.9m12.7-31.9h0.9m-19.8-31.4h0.9m13.8 14.4h0.9m29.2 26.7h0.9m-5.5 6.2h0.9m-4.6-20.1h0.9m-18.4 4.1h0.9m-29.9 54.9h0.9m39.5-100.5h0.9m-29.3 43.5h0.9m6.6-21h0.9m38.2 48.5h0.9m-47.3 22.1h0.9m-2.7-78.2h0.9m34.4 67.2h0.9m-5.9-31.2h0.9m-24-2.3h0.9m15.8 13.9h0.9m9.5-45.2h0.9m-5.7 20.4h0.9m10.8 7.2h0.9m-30.4 10.7h0.9m20.2 1.4h0.9m10.9 4.3h0.9m-8.8-28.9h0.9m-15.9-28.1h0.9m27.8 36.2h0.9m-14.9 3.9h0.9m-19.6-40.8h0.9m48.4 21h0.9m-41.3 7h0.9m-27.9 22.2h0.9m31.9-18.9h0.9m-45.8 18.5h0.9m54.3-20.1h0.9m4.2 29.8h0.9m-2.2-40.9h0.9m5.8 24.1h0.9m-62.5 4.8h0.9m27.5 20.4h0.9m-19.8-30.9h0.9m17.9 51.1h0.9m0.5-1.4h0.9m25.1-66.7h0.9m-23.1 23.6h0.9m-9.3-31.1h0.9m-12.7 45.3h0.9m12.6-26h0.9m32.2 13.9h0.9m-38.2-7.4h0.9m7.9 78.9h0.9m-3.9-76.4h0.9m6.3-2.7h0.9m6.4 30.8h0.9m10.2 3.5h0.9m-13.5-21.9h0.9m-24.8 24.8h0.9m11.3 35.5h0.9m-16.9-73.4h0.9m34.8-23.7h0.9m-21.8 91.2h0.9m9.5-50.7h0.9m34 15h0.9m-41.8 15.9h0.9m12.3-26.6h0.9m-30.9-12.6h0.9m36-22.4h0.9m-20.9 54.6h0.9m21.5-27.1h0.9m-31.7-49.5h0.9m17.3 96h0.9m-8.7-81.6h0.9m-42.8 58.5h0.9m34.7-24.1h0.9m4.1-47.6h0.9m-0.5 39.2h0.9m-18.1-4.6h0.9m3.1-29h0.9m18.1 59.2h0.9m-23.8-22.9h0.9m28.7-9.6h0.9m-20.1 24h0.9m-8.9-80.8h0.9m-1.7 55.5h0.9m28.4 0.2h0.9m2.6 9.6h0.9m-25-37h0.9m-3.6-11.1h0.9m29.4 21.6h0.9m-3.3 38.1h0.9m-36.6-19.9h0.9m19.9-17.4h0.9m5.9 74.2h0.9m-14.4-56.2h0.9m37.2 6.8h0.9m-29 34.6h0.9m-1.9-29.2h0.9m-12.4 10.6h0.9m21.6-36.1h0.9m-1 22.6h0.9m-5.7 42.6h0.9m42.5-36.1h0.9m-73.8 0.2h0.9m43.2-15.2h0.9m-41.5-24.1h0.9m10.8 61.9h0.9m20.1-32.9h0.9m-44.8-13.3h0.9m32.8-19.4h0.9m-20 44h0.9m4.1-37.2h0.9m-7.1 59.6h0.9m-9.5-45.9h0.9m25.4 6.2h0.9m0.7 64.6h0.9m6.8-56.9h0.9m-24.2 20.8h0.9m10.9 41.2h0.9m5.8-54.2h0.9m15.7 1.9h0.9m-14.8-23.6h0.9m3.6 19.4h0.9m-24.1-8.5h0.9m12.5 23.9h0.9m13.6-41.3h0.9m-22.7 41.7h0.9m4.8-31.6h0.9m-32.4 31.2h0.9m36.7-9.6h0.9m-12.7-70.4h0.9m10.2 78.8h0.9m-16.2 3.7h0.9m-62.7-69h0.9m84.2 93.9h0.9m-49.5 3.3h0.9m-27.3-16h0.9m54.5-73.7h0.9m51.9 67.5h0.9m-87.4-39.8h0.9m5.1-29.8h0.9m14.4 89.4h0.9m31-49.1h0.9m-34.6-22.2h0.9m-6.2-7.4h0.9m-13.6 31.9h0.9m36.7 10.4h0.9m-38.7-20.5h0.9m10 12.5h0.9m53.6-2.5h0.9m35.7-57.2h0.9m-60.8 51.9h0.9m23.9-29.9h0.9m-53.1 27.6h0.9m3.4-19.8h0.9m14.1 43.7h0.9m-31-20.2h0.9m7.6-32h0.9m37.3 54.1h0.9m-23.4 14.8h0.9m-6.6-18.2h0.9m-2.5-93.6h0.9m-28.9 60.2h0.9m39-8.5h0.9m-29.7-24.9h0.9m-31.2 118h0.9m13.9-76.2h0.9m32.1-25h0.9m25.3-10.4h0.9m8.2 103h0.9m-76.4-14.4h0.9m61.9-55.8h0.9m42.8 49h0.9m-30 8.7h0.9m-25.4-59.7h0.9m-4.6-27.6h0.9m-21.2-35.7h0.9m49.4 70.9h0.9m-66 54h0.9m-23.1-38.3h0.9m89.8-37.9h0.9m-32.9 34.8h0.9m-53.7 2.5h0.9m96.1-14.3h0.9m-53.1 52.1h0.9m-39.4 21h0.9m105.3-111.6h0.9m-74.1 68.2h0.9m-18.5-27.8h0.9m33.2 14.6h0.9m-47-11.3h0.9m20.5 10.7h0.9m60.2-55h0.9m-53 72h0.9m21.9-31.7h0.9m30.1-15.4h0.9m-55.8-71.1h0.9m-19.5 124.8h0.9m48-45.8h0.9m-65.1 77.4h0.9m10.9-127h0.9m-18.6-7.5h0.9m90.9 24.9h0.9m-41.7 29.1h0.9m19.5-28.3h0.9m-8.8 42.7h0.9m48.6 16.5h0.9m-45.6 5.7h0.9m9.2-41.4h0.9m-25.7-23.6h0.9m4.6 52.4h0.9m-17.1-20.3h0.9m-2.5 14h0.9m-8.9 5.8h0.9m-7 15.3h0.9m46.7 16h0.9m-60.7-22.7h0.9m91.3-51.5h0.9m-36.4-0.5h0.9m11.6-8h0.9m-67.9 11.4h0.9m13-1.1h0.9m20.3 49.1h0.9m-4.3-66h0.9m22-2.1h0.9m-23.6 86.7h0.9m59.5-24.4h0.9m-92.6-18.9h0.9m-7.3 32.4h0.9m17.2-34.8h0.9m11-21.6h0.9m45.2 70.5h0.9m-27.1 1.2h0.9m-17.8-125.4h0.9m-10.7 96.2h0.9m30.1 56h0.9m30.5-78.6h0.9m-30.6 79.9h0.9m-37-103h0.9m16.4-29.6h0.9m-10.7 17.5h0.9m-57.1 57.7h0.9m49.3-67.1h0.9m-0.5 53.3h0.9m-8.1-9.6h0.9m4.9-51.9h0.9m6.7 54.4h0.9m23.9 14.3h0.9m-36.6 25.1h0.9m63.8-99.3h0.9m-76.6 86.3h0.9m67.9-4.8h0.9m-78.3 34.4h0.9m28.8-48.2h0.9m65.3 16.7h0.9m-87.6-4.1h0.9m87-66.6h0.9m-41.7 78.2h0.9m-7-37.7h0.9m3.2-28.3h0.9m-26.3-8.3h0.9m-19.3 36.4h0.9m29.8 6h0.9m15.9 24h0.9m-2.4 23.7h0.9m7.9-26h0.9m45.9-119.2h0.9m-64.5 176.7h0.9m32.9-132.1h0.9m-23.9 31.7h0.9m56.6-25.9h0.9m-74.3-7.1h0.9m-4.6-29.9h0.9m39.2 74.7h0.9m-0.9 0h0.9m-49.2-26.4h0.9m25.6 33.6h0.9m6.8 27.7h0.9m-3-4.5h0.9m-10.2-51.2h0.9m-71.2 110.3h0.9m79.2-49.3h0.9m0.8 42.8h0.9m-11-59.9h0.9m-28.7-36.7h0.9m62.9-26.5h0.9m-82.6 78.6h0.9m69.6-7.9h0.9m-71.8 31.8h0.9m51.8-82.7h0.9m15.8 80.8h0.9m-40.2 22.7h0.9m84.9-121.2h0.9m-43.5 59.5h0.9m-9.9-27h0.9m-47.7-83.4h0.9m28.8 103.3h0.9m-53.8 51.5h0.9m78-18.2h0.9m-85.8-49.2h0.9m-12.8 19.2h0.9m75.7-40h0.9m-88.6 56.6h0.9m12 12.2h0.9m59.5 31.8h0.9m25.7-80h0.9m10.4 36h0.9m-41.2-12.1h0.9m3.3-16.1h0.9m-39.7 41.1h0.9m36.1-119.4h0.9m-11.7 107.2h0.9m13.1-82.1h0.9m-41.4 77.5h0.9m20.7-71.3h0.9m21.9 88.3h0.9m-10.4-67.5h0.9m-45.5 77.8h0.9m84.5-36.2h0.9m-7.1-58.9h0.9m-47.8 127.3h0.9m41.8-86.3h0.9m-20 10.8h0.9m-46.8 36.9h0.9m62.2-44.5h0.9m-86.1 9.3h0.9m43.8 57.1h0.9m-41-6.5h0.9m63.8-53.3h0.9m-58.4 1.5h0.9m91.1-101.2h0.9m-13 115.9h0.9m-20.3 30h0.9m-4.5-55h0.9m-14.8 77.1h0.9m29.9-133.7h0.9m35 34.7h0.9m-16.4 94.8h0.9m-86.2-19.9h0.9m81.2-111.9h0.9m2.2 7h0.9m-57.4 95.5h0.9m17.5-10h0.9m31.8-28.4h0.9m-44.1 70.1h0.9m38.2-87.6h0.9m-30.2-62.6h0.9m-44.2 121.5h0.9m26.4 10.3h0.9m32.7-66.8h0.9m-4-23.8h0.9m-20.8-39.4h0.9m-28.9 89.1h0.9m14.7 15.2h0.9m20.8 29.3h0.9m-10-26.5h0.9m-21.1-40.7h0.9m3.5 31.7h0.9m8.2 38h0.9m-51.8-32.4h0.9m27 25h0.9m74.9-87.4h0.9m-23.7 76.6h0.9m-37.3-10.7h0.9m28.8-32.3h0.9m-29.7 62.1h0.9m-57.1-111.1h0.9m43.5-13h0.9m36.4 64.1h0.9m4.6 8.9h0.9m-29.1 3.3h0.9m47-27.4h0.9m-39.1-42h0.9m15.5 59.4h0.9m-27.2 7.1h0.9m46.2-10.8h0.9m18.7 11.8h0.9m-67.2 11.9h0.9m17.6-18.4h0.9m-15.1-19.5h0.9m5.2 26.3h0.9m1.7 15h0.9m38.7-11.2h0.9m34.4 14.4h0.9m-56.9-16.4h0.9m14.1-34.1h0.9m-33 0.9h0.9m-1 19.4h0.9m-43.1 1.3h0.9m78.3-1.7h0.9m-97.1 32.6h0.9m12.6 27.6h0.9m48.2-15.5h0.9m43.3-5.6h0.9m-43.1-63.6h0.9m-43.6 91.9h0.9m11.2-88.2h0.9m-39.1 47.1h0.9m-0.8 10h0.9m64.5 32.6h0.9m-45.6-70.3h0.9m25.3 23.9h0.9m-31.5 41.7h0.9m91.8-61.2h0.9m-55-25.5h0.9m54.9-21.7h0.9m-112.7-16.3h0.9m93.1 44.6h0.9m-41.8 69.9h0.9m-8.9 2.8h0.9m59.2-26.2h0.9m-83.2-29.5h0.9m50.4 31.6h0.9m8-15.8h0.9m-30.7-13.8h0.9m4.6 25.4h0.9m1.9 54.5h0.9m4.5-84.4h0.9m7.4 57.8h0.9m-78.1-12.8h0.9m49.3-12.3h0.9m65.3 11.2h0.9m-33.7 31.7h0.9m-59.3-101.2h0.9m46.3-66h0.9m18.1 153.8h0.9m-46.6-19.1h0.9m-23.8-54.5h0.9m-6 17.6h0.9m-33.5-1.5h0.9m64.8 21.7h0.9m-32.5-28.7h0.9m12.3 15.8h0.9m84.2-6.1h0.9m-49.4 13.6h0.9m-45.7-28h0.9m110.9 19.4h0.9m-73.7-11.6h0.9m67.7-22.2h0.9m-26 61h0.9m-43.2-75h0.9m-14.8 59.3h0.9m31.5-33.8h0.9m-22.4 1.2h0.9m-23.9 30.7h0.9m-2.9-47.4h0.9m-13.1 83.7h0.9m63.1-108.2h0.9m-33.5 103.1h0.9m-55.4-56.1h0.9m89.2 54.5h0.9m-67.1-68.1h0.9m3.2 84.5h0.9m22.4-71.6h0.9m35.9 0h0.9m-2.2 56h0.9m-53.4-30.9h0.9m0.1-8.5h0.9m47.7 64.9h0.9m-66.5-68.5h0.9m35.2 71.8h0.9m47.2-73.5h0.9m-64.4-16.7h0.9m-34.9 12.2h0.9m18 24.1h0.9m1-39h0.9m-5.4-0.7h0.9m22.3 36.7h0.9m84.4-8.8h0.9m-60.3-8.9h0.9m-23.6 38.4h0.9m1.9-19.6h0.9m-21.5-3.1h0.9m19.6-30.6h0.9m49.4-65.1h0.9m-15 116.1h0.9m-6.1-87.6h0.9m45.4 39.5h0.9m-47.9 10.5h0.9m42.9 0.4h0.9m-36-14.6h0.9m-26.8 50.1h0.9m-37.3-17.5h0.9m61.6-31.6h0.9m0.1 37h0.9m-53.4 11.6h0.9m30.9 24.2h0.9m-30.3-24.8h0.9m-6.3-66.7h0.9m-6.3-39h0.9m-29.7 14.8h0.9m66.2 69.5h0.9m-36.1-6.5h0.9m5.3-40.3h0.9m7.8 5.5h0.9m25-30.7h0.9m-11.9 42h0.9m-2.6 63.9h0.9m-82.3-3.8h0.9m106.9-56.9h0.9m24.4 44.1h0.9m-96.3-33.5h0.9m17.8-9.8h0.9m-18.2-5.2h0.9m88 43.8h0.9m-69.6 23.4h0.9m21.9 3.5h0.9m-16.2-46.4h0.9m24.7-7h0.9m-47.8 14.9h0.9m34.3-40.3h0.9m-21.9 53.1h0.9m52.2-68.7h0.9m-111 95.5h0.9m59.6 13.2h0.9m44.9-50.5h0.9m-5.5 64.3h0.9m-81.8-62.1h0.9m75.8-99.8h0.9m-58.5 148.2h0.9m7.9-70.9h0.9m54.5-13.8h0.9m-45.2 35.3h0.9m-28.8 14.5h0.9m39.9-31h0.9m-14.9 44.1h0.9m-1.5-53.3h0.9m30.1-31.4h0.9m-7.6 59.9h0.9m-22.3-15.5h0.9m40.4 54.8h0.9m-22.9 10.6h0.9m-27.7-2.8h0.9m53.8-68.3h0.9m-51.4 45.9h0.9m2.1-83.1h0.9m64.6 15.9h0.9m-85.5 63.5h0.9m-1.4-79.4h0.9m19.9 21.4h0.9m-28.1 73.6h0.9m89.4-111h0.9m-64.5 120.1h0.9m19.1-41.3h0.9m-58.8-10.8h0.9m10.6-17.5h0.9m46.6 23.7h0.9m-40.2-20.9h0.9m40.3 52.1h0.9m-2.1-39.3h0.9m-2.8-9.1h0.9m-2.9 37h0.9m34.8-19.2h0.9m-75.4-83.1h0.9m1.4 71.5h0.9m67.7-18.6h0.9m-106.9 10.8h0.9m63.3-12h0.9m16 20.3h0.9m-24.5 19.2h0.9m-11.2-73.4h0.9m4.4 25.1h0.9m22.5 57.8h0.9m-27.7 5.9h0.9m35.1 30.1h0.9m-3.3-61.5h0.9m-93.1-34.6h0.9m96.2 3h0.9m-31 30.2h0.9m-62.7-40.8h0.9m58.5 100h0.9m-16.6-81.6h0.9m51.9 74.1h0.9m8.7-97.8h0.9m-61.3 36.2h0.9m-6.7-6.5h0.9m52.1-45.2h0.9m-6.3 48.4h0.9m-3.2 22.3h0.9m-49.1-102.6h0.9m-14.7 115.1h0.9m-4.9-8.7h0.9m101.1-15.7h0.9m-118.5 33.4h0.9m124 3.2h0.9m-48.1-97.3h0.9m-22.1 130.2h0.9m-23-24.3h0.9m27.4-87.7h0.9m-44.9 25.8h0.9m54.5-6h0.9m-10 18.2h0.9m-14.7 36h0.9m-22.8 27.6h0.9m22.9-75.5h0.9m29.3 24.8h0.9m-66.9 39.1h0.9m-27.3-29h0.9m120.5-27h0.9m-104.7-54.6h0.9m100.7 72.1h0.9m-112.9 4.6h0.9m67.2-88.4h0.9m0.4 22.2h0.9m-22.2 60.5h0.9m47.1 44.7h0.9m-38.8-59.9h0.9m28.9-6.5h0.9m34.6-15.5h0.9m-52.3-4.2h0.9m-23.5 22.7h0.9m-8.2-3.3h0.9m18.3 15.2h0.9m-11.9-51h0.9m48.4 76h0.9m-33.8-25.7h0.9m-20-17h0.9m-36.7-24.6h0.9m82.7 9.6h0.9m-43.4 12.2h0.9m53.2 2.6h0.9m-33.8-24.7h0.9m-8 37.8h0.9m-1.3 13.8h0.9m-3.8 24.1h0.9m21.8-109.9h0.9m-21.5 92.3h0.9m-73.9-28.7h0.9m127-74.3h0.9m-24.1 59.9h0.9m-69.3-44.7h0.9m31.2 100.4h0.9m2.1-6.2h0.9m-23.5-32.8h0.9m69.9-43.4h0.9m-83.9 121.5h0.9m22.6-117.6h0.9m4.7 63.6h0.9m3.6 7h0.9m82.8-27h0.9m-27.1-18.1h0.9m-39.6 86.8h0.9m-16.9-148.4h0.9m-1.3 62.1h0.9m24.1-24.2h0.9m13.2 90.1h0.9m-76.7-60.1h0.9m94.8 32.3h0.9m-45.2-12.4h0.9m-33.4-13.4h0.9m12.6 39.3h0.9m20-11.2h0.9m0.8-2.5h0.9m-51-52.8h0.9m29.6 35.6h0.9m7.9-21.1h0.9m31.3 63h0.9m-86 22.1h0.9m34-113.3h0.9m0.8 54.7h0.9m-3.2-27.8h0.9m-35.7 45.6h0.9m24.6 24.9h0.9m22.2-20.9h0.9m-11.1 12.4h0.9m-44.8 30.6h0.9m53.8-26.5h0.9m61.5-86.6h0.9m-43.3 52.6h0.9m26.6 11.6h0.9m-43.4 38.1h0.9m-28.7-73h0.9m-9.1 70.2h0.9m18-72.7h0.9m0.6 33.6h0.9m45.2-73.5h0.9m28.3 40.1h0.9m-26.5 31.2h0.9m0.7 14.4h0.9m-37.6-2.7h0.9m75.6 23h0.9m-58.4-60h0.9m-10.7 11.7h0.9m-91.5 2.1h0.9m106.5-10.7h0.9m-3.6-24.9h0.9m-38.7 41.8h0.9m28.8 31.8h0.9m10.4-21.4h0.9m-91.3-9.6h0.9m-6.3-25.5h0.9m90.9 45.5h0.9m-14.8 12.5h0.9m-71.1 1.2h0.9m4.6-47.3h0.9m102.2-11.1h0.9m-33.4 63.9h0.9m-57.2-56.1h0.9m70.7 16.2h0.9m-92.6 9.8h0.9m-12.1-13.4h0.9m40.6 30.8h0.9m50.5-89.2h0.9m-20.8 78.4h0.9m8.9-53h0.9m24.5 15.8h0.9m-31.1 25h0.9m-11.7-75.9h0.9m-37.8 61h0.9m48.7-7.2h0.9m-63.7 9.5h0.9m31.2-11.8h0.9m17.9 20.5h0.9m-19.1-26.6h0.9m47.1 21.1h0.9m14.8 9.3h0.9m1.6 37.6h0.9m1.3 10.3h0.9m-32-110.9h0.9m24.7 104.3h0.9m-26.1-87.5h0.9m39.5 37.2h0.9m-89.9-64.3h0.9m30.2-18.7h0.9m12.9 84.1h0.9m-7.2-9.5h0.9m-42 22.4h0.9m53-21.4h0.9m18 45h0.9m-32.9-26.1h0.9m-33.2 18.2h0.9m15.1-61h0.9m17.1-28.1h0.9m-38.8 102.3h0.9m1.8-27.1h0.9m90.4-63.8h0.9m-114.3 0.6h0.9m51.7 53.5h0.9m58 20h0.9m-88.6-63.6h0.9m50.7 105h0.9m-52.9-35.6h0.9m46.5 14.3h0.9m-48.1-41.2h0.9m75-3.6h0.9m-84.1-52.8h0.9m12.3 20.5h0.9m45.7 26.9h0.9m-31.4 21h0.9m18.2-8.1h0.9m14.3-86.2h0.9m-52.4 37.6h0.9m11.6 51.4h0.9m6.5 6.4h0.9m46.3-34.1h0.9m-42.6 43.9h0.9m-35.2-0.7h0.9m13.4-25.5h0.9m-6.6-19.3h0.9m54.9-19.7h0.9m-7.9-19h0.9m-47.3 81.5h0.9m6.7-5.1h0.9m-32.6-71.8h0.9m56.7 77.2h0.9m-34.7-18.2h0.9m1.3-19h0.9m12.3-68.5h0.9m-0.7 99.9h0.9m1.3-52.1h0.9m-70 39.8h0.9m72.1 15.8h0.9m-13.3-119.8h0.9m-12.3 57.7h0.9m28.7-23.3h0.9m-5.4-36.1h0.9m-48 86.4h0.9m66.4 24.2h0.9m-86.7-45h0.9m32.4-59.1h0.9m4.2 81.7h0.9m35.9-23.3h0.9m-13.4 50.5h0.9m-30 15.5h0.9m3.6-84.1h0.9m-52.8 22.2h0.9m106.4 2h0.9m-20.6 59.2h0.9m30.5-29.4h0.9m-83-52.4h0.9m32.8 96.1h0.9m17-79h0.9m-48.2 10.2h0.9m38.5-18.8h0.9m39.8 47.2h0.9m-62.9-21.9h0.9m43 76.1h0.9m-87.5-56.9h0.9m16.4-42.1h0.9m17.6 37.3h0.9m-37 68.9h0.9m60.8-121.6h0.9m-18.2-25.3h0.9m72.3 136.1h0.9m-70.9-77.9h0.9m26.4-18.6h0.9m20.3 104.1h0.9m-72.1-68.6h0.9m74.5 1.7h0.9m-109.5-18h0.9m51.3 1.8h0.9m16.5-64.3h0.9m54.4 102.4h0.9m-39.3-80.9h0.9m-8 101.1h0.9m-54.8-86.8h0.9m38.4 48.6h0.9m39.9-28.9h0.9m-109.2 7h0.9m79.8 7.7h0.9m-5.8 24.9h0.9m-50.2 50.7h0.9m89.5-84.3h0.9m-55.2-68h0.9m42.2 140.7h0.9m-18.9-25.1h0.9m22.5-74.8h0.9m-86.4-7h0.9m21.1 69.9h0.9m30.5-8h0.9m7.5-36.3h0.9m7.1-9.4h0.9m-18.3 39.4h0.9m44.9-68.9h0.9m-35.4 15.6h0.9m-34 22.3h0.9m63.2 26.2h0.9m-43.7 27.7h0.9m-35.5 31.4h0.9m51.2-10.1h0.9m-36.8-7.8h0.9m-25.2-58.4h0.9m-2.5-16.3h0.9m22.5 51.6h0.9m23.5 2.9h0.9m-54.6-65.6h0.9m9.8 36.5h0.9m83.2-28.6h0.9m10.2-28.8h0.9m-36.2 80.2h0.9m-13.4 25.5h0.9m-58.7 34.9h0.9m6.9-80h0.9m5.6-67.7h0.9m31.6 84.6h0.9m-5.8-10h0.9m-21.8 33.1h0.9m27.3-93.7h0.9m-33.3 30.1h0.9m6.4 24.2h0.9m6.1 55.1h0.9m11.8 2.3h0.9m-2.5-55h0.9m5.2-52.9h0.9m21.3 94.2h0.9m-86.2-96.9h0.9m97.8 35.9h0.9m-74.3 33.3h0.9m2.1-73.6h0.9m54.2 30.8h0.9m-68.4 77.7h0.9m56.9-11.5h0.9m-25.8-85h0.9m7.5 66.9h0.9m-2-90.3h0.9m48.3 103.3h0.9m-73.1-57.4h0.9m27.5 20.2h0.9m9.7 13.5h0.9m-7.9-53.8h0.9m-19.3 16.8h0.9m-39.3 20.4h0.9m78 19h0.9m-40.5 0.8h0.9m14.3 50.9h0.9m12.2-22.3h0.9m-53.4-83.5h0.9m14.6 112.3h0.9m37.7-112.6h0.9m-16.4 32.7h0.9m-16.1 10.1h0.9m10-8.5h0.9m47.9 41.6h0.9m-69.2-37.1h0.9m62.5-14.1h0.9m-115.5 53.4h0.9m35.5-115.9h0.9m26.2 95.6h0.9m-5.8 12.6h0.9m31.4 38.8h0.9m11.7-58.1h0.9m-42.7-76h0.9m22.5 78.7h0.9m-30.3-81.6h0.9m24.2 93.1h0.9m8.8 34.6h0.9m-3.9-54.9h0.9m-18.8-6.2h0.9m-7.4 43.9h0.9m33.3-19.1h0.9m8.3 15.4h0.9m-25.4-51.6h0.9m2.6 40.9h0.9m-79.1 45.2h0.9m119.3 0.8h0.9m-43.7-41.6h0.9m-20.8-35.6h0.9m20.4 41.3h0.9m-1.1 1h0.9m4.5 7.8h0.9m0.7-84.6h0.9m-60.4 111.1h0.9m8.5-67.3h0.9m76.7 62h0.9m-16.9-65.1h0.9m-41.8 77h0.9m25.1-66.9h0.9m-22.1-42.8h0.9m13.2 74.7h0.9m-11.2-44.8h0.9m46 38.4h0.9m-90.9-43.9h0.9m8.8 52h0.9m-12.3-22.2h0.9m14.4-14.3h0.9m10.8-41.4h0.9m-30-62.3h0.9m50.3 135.3h0.9m5.9-81.7h0.9m5 8.7h0.9m-36.5 33.5h0.9m97.2 1.1h0.9m-80.2-29.4h0.9m-41.3 67.8h0.9m11.4-104.5h0.9m7.9 103.5h0.9m41.7-43.6h0.9m-34.9-25.3h0.9m13-31.1h0.9m15.2 76.7h0.9m-34.4-60.5h0.9m-2.8-5.9h0.9m-3.4 121.5h0.9m-13.1-125.3h0.9m-21.9-10.8h0.9m-6 100.4h0.9m49.2-15.8h0.9m5.9-37.1h0.9m20-17.9h0.9m-42.6 10.6h0.9m35.6 8.5h0.9m-83.6 33.4h0.9m54.7-26.2h0.9m19.8-0.5h0.9m-44.2 47.2h0.9m24.2-67.3h0.9m-15.9-32.3h0.9m-35.9 127.2h0.9m30.2-74.3h0.9m-15.8-6.1h0.9m43.3 21.5h0.9m23.5-39.4h0.9m-5.5 50.9h0.9m-21.6-26.3h0.9m40.4 5h0.9m-50.2 14.5h0.9m-18.7-25.3h0.9m44.5 30.7h0.9m-24.5-40.6h0.9m7 38.2h0.9m-44.5-83.2h0.9m31.6 15h0.9m-18.9 20.5h0.9m2.3-12.9h0.9m38.6 3h0.9m-21.6 70.6h0.9m-75.3-34.4h0.9m42.5-6.9h0.9m46.1 31.1h0.9m20.9 3.4h0.9m-64.5-39.3h0.9m25.5 70.7h0.9m56.2-56.6h0.9m-70.2 36.3h0.9m50.7-55.6h0.9m-45.2 39.3h0.9m28.2 20.7h0.9m-0.7-5.6h0.9m-12.1-4.3h0.9m41.8-52.1h0.9m-52-22.1h0.9m-14.7-4.5h0.9m7 33.7h0.9m-38 40.1h0.9m79-16.3h0.9m-77.3-56.4h0.9m30.7 95.6h0.9m31.3-31.2h0.9m-53.4-41.6h0.9m5 6.6h0.9m-46.9 87.2h0.9m10.5-111.4h0.9m24.6 114.2h0.9m-34.9-76.1h0.9m83.5 2.9h0.9m-34.1 22.6h0.9m-8.4-80h0.9m-23.4 75.4h0.9m62.9 22.3h0.9m-6.3-52.1h0.9m13.4 18.5h0.9m4.5 38.7h0.9m-64.9-76.6h0.9m14.2 16.9h0.9m-3.1 10.1h0.9m-58.7 52.6h0.9m86.4-79.8h0.9m-59.7 67.2h0.9m80.2 0.3h0.9m-80.3-26.8h0.9m92 40.7h0.9m-58.2-77.5h0.9m1.7 87h0.9m10.3-124.9h0.9m-59.2 33.8h0.9m82.8-32.9h0.9m-30.1 39.3h0.9m-6.7 62.2h0.9m6.6-12.5h0.9m-39.7-6.9h0.9m21.3-43.5h0.9m17.3 31.8h0.9m-3.8 54.1h0.9m-86.8-84.2h0.9m27.6 1.9h0.9m53 1.7h0.9m54.1 35.8h0.9m0.8 17.6h0.9m-28.9 10.2h0.9m-74.3-47.3h0.9m35.2-4h0.9m-34.5-7.8h0.9m-1.1 45.9h0.9m-4.9-85.8h0.9m3.6 57.2h0.9m53.2 0.3h0.9m-43.8 35.3h0.9m2-82.7h0.9m48.9 86.2h0.9m9.7-13.3h0.9m-50.6 49.9h0.9m32.1-20.5h0.9m-57.9-131.9h0.9m-28.6 33.3h0.9m130 92.4h0.9m-42.2-50h0.9m-22.8 76.6h0.9m-16.4-66.4h0.9m37.2 24.8h0.9m-16.1-3.4h0.9m-69.6-22.6h0.9m9.6 41.8h0.9m68.5-12.2h0.9m-47.3-77.5h0.9m47-3.5h0.9m-93.4 19.7h0.9m33.2 56.9h0.9m2.7-8.8h0.9m32.9 17h0.9m41.1-43.8h0.9m-23.4 30.1h0.9m-53.5-48.7h0.9m13.7 30.2h0.9m6.2 60h0.9m-23.8-112.8h0.9m21.5 96.4h0.9m40.8-52.2h0.9m-112.9-30.5h0.9m83.3 2.7h0.9m-62.2 26.5h0.9m57.8 55.7h0.9m7.8-27.6h0.9m-4.9-74.2h0.9m27.6 97h0.9m-22.3-8.2h0.9m-18.8-108.1h0.9m43.2 34.3h0.9m-76.8 91.8h0.9m39.8-51.7h0.9m-66.3 41.6h0.9m57.4-136.8h0.9m39.8 123.3h0.9m-37.4-53.5h0.9m-46.4 56.1h0.9m48.4 11.6h0.9m-5.4-66.9h0.9m20.8 20.5h0.9m-19.7-9.8h0.9m-40.5-11.4h0.9m0.5 34.8h0.9m49.7 27.7h0.9m-13.7-68.9h0.9m-62.7-0.2h0.9m51.9 7.6h0.9m5.9 49.2h0.9m-39.4 17h0.9m88.4-56.5h0.9m-72.2-68.4h0.9m7.9 37.9h0.9m26.2 28h0.9m-65.8 30.3h0.9m43.5-37.1h0.9m81.8 58.4h0.9m-118-1.6h0.9m39.7-35h0.9m8.9-18.8h0.9m1.9-77h0.9m-23.4 78.9h0.9m-40.1 85.5h0.9m69-52.5h0.9m-82.8-4.5h0.9m46.8 51.9h0.9m-4.3-82.6h0.9m-30.8 6.4h0.9m19.3 24.1h0.9m37 22.2h0.9m-25.7 42h0.9m-43.7-106.8h0.9m106.7 4.8h0.9m-104.4 90.2h0.9m40.5-92.9h0.9m0.3-13.9h0.9m-44.3 78.4h0.9m85.5-18.4h0.9m-43.2 4.7h0.9m29.9-47h0.9m-20.8-22.4h0.9m29.1 52.9h0.9m-56.1-26.7h0.9m30.9-29h0.9m-45.1 36h0.9m46.7-15.1h0.9m-53.7-14.8h0.9m28 87.9h0.9m-7.5 2.6h0.9m16.6-42h0.9" stroke="#2a2a2a" stroke-width="0.9" stroke-opacity="0.2" fill="none"/>
<path d="M378.2 372.8h0.9m-45.6 26.6h0.9m0.3-15h0.9m-4.7-21.5h0.9m22.3-16.1h0.9m65.9-23.8h0.9m-63.3-23h0.9m94.6 85.9h0.9m-113.4-39.8h0.9m58-38.8h0.9m-28.3 63.8h0.9m38-133.3h0.9m22.1 138.5h0.9m-69.6-0.4h0.9m-4-106.3h0.9m80.8-34.8h0.9m-2.6 123.4h0.9m10.7-93.8h0.9m-154.1 145.3h0.9m-28.7-180.1h0.9m78.1 40.2h0.9m53-34.2h0.9m-121.2 135.1h0.9m53.9-37.2h0.9m36.9 49.2h0.9m-68.1 20.9h0.9m93.6-64.4h0.9m-92.3-69h0.9m110.5-25.4h0.9m-90.6 141.2h0.9m44.7-113.4h0.9m-10.9 118.4h0.9m-46-2.8h0.9m25.1-45.7h0.9m73.2-4.4h0.9m-55.1 63.3h0.9m-90.7-35.5h0.9m118.9-13.3h0.9m-97.6-45.2h0.9m54.5 8.8h0.9m-4.1-17.3h0.9m2.3 101.7h0.9m-83.8-56.2h0.9m43 25.9h0.9m-41.3-135.6h0.9m65.5 148.8h0.9m36.7-79.4h0.9m5.1 58.3h0.9m-108.3-127.2h0.9m9 155.8h0.9m97.9-42.7h0.9m-24.6-36.9h0.9m54.1-28.1h0.9m-115.3 1.4h0.9m-16.4-1.4h0.9m43.2-31.5h0.9m49.2 60.7h0.9m-28.5-1.8h0.9m-71.4-7.6h0.9m-5.9 53.1h0.9m109.6-51.7h0.9m-70.3-60.4h0.9m67 139.3h0.9m-69.2-77.9h0.9m2.8 42h0.9m-20.1 50.1h0.9m140.1-29.6h0.9m-177.2-41.8h0.9m19.4 1.2h0.9m128.3 55.5h0.9m-128.1-4.7h0.9m25-117.7h0.9m-4.1 81.7h0.9m78.2 43.7h0.9m-53-11.4h0.9m77.4-123.8h0.9m-17.9 56.7h0.9m-40.3 15.1h0.9m-52.3-47.5h0.9m98.1 76.9h0.9m12.5-37.1h0.9m-6.3-32.6h0.9m-143.9 7.2h0.9m116.9 94.8h0.9m0.2 1.8h0.9m42.6-9.8h0.9m-124.7 18.5h0.9m94.4 7h0.9m-18.6-84h0.9m33.6-72.2h0.9m-34.7 128.4h0.9m28.1-30.4h0.9m-90.7-46.2h0.9m-37.7 108.6h0.9m36.6-116.2h0.9m81.4 103.8h0.9m-125.4-57.5h0.9m91.3-101.4h0.9m62.8 150.3h0.9m-17.7-17.9h0.9m-41.7-21.8h0.9m21.2-5.1h0.9m-124.1-72.3h0.9m68.8-0.8h0.9m5.1-33.8h0.9m44.8 22.8h0.9m-92 33.3h0.9m-33 37.3h0.9m106.9-74.8h0.9m-38.3 77.9h0.9m62.8-53.7h0.9m-66.7-1.8h0.9m65.6 126.7h0.9m-62.6 8.1h0.9m49.2-33h0.9m-12.2-138.2h0.9m-83.7 123.1h0.9m7-100.4h0.9m106.5 71.3h0.9m-122.6 59.2h0.9m84.1-93.7h0.9m-101.6 100.1h0.9m110.3-40.2h0.9m-97.8-74.4h0.9m66.6-37.6h0.9m-6.3 131.5h0.9m-66.6-65.2h0.9m51.5-70.3h0.9m69.8 5.5h0.9m-37.1 157.7h0.9m56-132.2h0.9m-38.9 132.1h0.9m-26.6-52.1h0.9m-15.5-69.5h0.9m67.3 15.2h0.9m-75.7 71.8h0.9m-23.5-62.3h0.9m77.7-65.9h0.9m18.4 28.3h0.9m-84.9 115.1h0.9m-63.2-29.9h0.9m84.9-35.7h0.9m23.3-46.6h0.9m-67.8 41.8h0.9m67.3 57.4h0.9m-40.4-129.1h0.9m-42.8 166.6h0.9m58.9-24.6h0.9m-44.7-98.9h0.9m71.6 100.9h0.9m-143.7-34.5h0.9m147.6-2.8h0.9m-94.1-96.1h0.9m118 139.8h0.9m-37.4-83.1h0.9m-95.3 64.4h0.9m133.5-91.9h0.9m-88.2 1.5h0.9m3.4 119.9h0.9m69.5-85.5h0.9m0.7-79.7h0.9m-41.2 141.6h0.9m50.4-111h0.9m-119.3 118.9h0.9m-18.5 6.9h0.9m-37.9-154h0.9m56.9 93h0.9m45.8 72.8h0.9m-55.1-9.2h0.9m49.1-74h0.9m-97.7 28.3h0.9m54.8-13.9h0.9m70.9-73.2h0.9m-118.2 82.1h0.9m110.3-58.4h0.9m8 0.9h0.9m-36.4 14.9h0.9m56.9 78.9h0.9m11.6-112h0.9m-168.5 2.3h0.9m116.5-44.5h0.9m-81.4 27h0.9m30.3 150.3h0.9m38.2-99.4h0.9m15.4-43.6h0.9m22.4 140.6h0.9m-25.5-171.3h0.9m12.2 83.5h0.9m-33.3 58.4h0.9m-88.8-5.8h0.9m-18.3-106.5h0.9m91.7 94.7h0.9m33-15.6h0.9m-111.5 9.6h0.9m57.5-74.6h0.9m-32.4 99.4h0.9m55.7-45.9h0.9m-33.1 30.2h0.9m-35.3 39.2h0.9m-36.8-15.4h0.9m56.9-13.3h0.9m34.5-89.9h0.9m74.4-43h0.9m-128.8 95h0.9m51-98.6h0.9m9 124h0.9m14.2 4.2h0.9m-59.3-31.8h0.9m-42.7-72h0.9m148.9 129.1h0.9m4.8-51h0.9m-94.7-14.8h0.9m25.1 9.6h0.9m-101.4-88.5h0.9m2.4 120h0.9m4.5-124h0.9m119.7 94.5h0.9m-94.1-74.7h0.9m-8.7 7h0.9m-33 4.7h0.9m1.8-40h0.9m68.8 160.2h0.9m23.9-16h0.9m5.9-141.1h0.9m-23 4.7h0.9m-0.6 132.5h0.9m52.6-141.7h0.9m-85.3 84.4h0.9m-10.4-66h0.9m111.5 88.4h0.9m-31 74.2h0.9m-39.6-150.8h0.9m-37.6 143.2h0.9m-26.2-16.7h0.9m-19 22h0.9m147.6-40.1h0.9m-48.1 16.6h0.9m-100.6-47.9h0.9m19.6 49.8h0.9m21.1-137.9h0.9m-3.9 115h0.9m51.1-20.7h0.9m-28-103.8h0.9m87 42.3h0.9m-30.5-13.8h0.9m33.9 34.5h0.9m-9.6-37.7h0.9m9.8 14h0.9m9.8 3.8h0.9m-122.7 55.5h0.9m-19.5-84.9h0.9m-9 19.4h0.9m83.4 13.9h0.9m8.8 24.1h0.9m-109-75h0.9m132.7 175.4h0.9m-7.8-127.6h0.9m-29.1-2.4h0.9m-36 48.9h0.9m-52.3 54.6h0.9m63.2-72.5h0.9m-64-38h0.9m80.3 57.9h0.9m-54.6-15.2h0.9m-12.3-10.9h0.9m34.4 102.4h0.9m24.5 2.2h0.9m-39.7-79.2h0.9m107.7-90.2h0.9m-175.4 91.1h0.9m164.3 70.3h0.9m-167.1-4.9h0.9m38.5-129.6h0.9m141.1-4.6h0.9m-49.7-6.9h0.9m-16.2 121.8h0.9m14-60.2h0.9m-58.8-27.7h0.9m67.6-2.4h0.9m-115.6-9h0.9" stroke="#555" stroke-width="0.6" stroke-opacity="0.35" fill="none"/>
<path d="M352 226.7 350 318 348.4 351.4" stroke="#f5a033" stroke-width="1.0" fill="none" stroke-linejoin="round" stroke-linecap="round"/>
<circle cx="351.8" cy="236.4" r="1.5" fill="#f5a033"/><circle cx="351.7" cy="242" r="1.5" fill="#f5a033"/><circle cx="351.5" cy="247.6" r="1.5" fill="#f5a033"/><circle cx="351.4" cy="253" r="1.5" fill="#f5a033"/><circle cx="351.3" cy="258" r="1.5" fill="#f5a033"/><circle cx="351.2" cy="262.6" r="1.5" fill="#f5a033"/><circle cx="351.1" cy="267" r="1.5" fill="#f5a033"/><circle cx="351" cy="271.6" r="1.5" fill="#f5a033"/><circle cx="350.9" cy="276" r="1.5" fill="#f5a033"/><circle cx="350.8" cy="280.4" r="1.5" fill="#f5a033"/><circle cx="350.7" cy="284.4" r="1.5" fill="#f5a033"/><circle cx="350.6" cy="288.4" r="1.5" fill="#f5a033"/><circle cx="350.6" cy="292.4" r="1.5" fill="#f5a033"/><circle cx="350.5" cy="296" r="1.5" fill="#f5a033"/><circle cx="350.4" cy="300" r="1.5" fill="#f5a033"/><circle cx="350.3" cy="304" r="1.5" fill="#f5a033"/><circle cx="350.2" cy="308" r="1.5" fill="#f5a033"/><circle cx="350.1" cy="312" r="1.5" fill="#f5a033"/><circle cx="350" cy="316" r="1.5" fill="#f5a033"/><circle cx="349.9" cy="319.5" r="1.5" fill="#f5a033"/><circle cx="349.8" cy="322.5" r="1.5" fill="#f5a033"/><circle cx="349.6" cy="325.5" r="1.5" fill="#f5a033"/><circle cx="349.5" cy="328.5" r="1.5" fill="#f5a033"/><circle cx="349.4" cy="331.5" r="1.5" fill="#f5a033"/><circle cx="349.2" cy="334.5" r="1.5" fill="#f5a033"/><circle cx="349.1" cy="337.5" r="1.5" fill="#f5a033"/><circle cx="348.9" cy="340.5" r="1.5" fill="#f5a033"/><circle cx="348.8" cy="343.5" r="1.5" fill="#f5a033"/><circle cx="348.6" cy="346.5" r="1.5" fill="#f5a033"/><circle cx="348.5" cy="349.5" r="1.5" fill="#f5a033"/>
<path d="M348.6 351 350.6 355.5" stroke="#4ae8f4" stroke-width="3.2" fill="none" stroke-linejoin="round" stroke-linecap="round"/>
<path d="M403 226.7 407 232 411 238.4" stroke="#f5a033" stroke-width="1.2" fill="none" stroke-linejoin="round" stroke-linecap="round"/>
<path d="M411 238.4 415 243 418 246 422 246.6" stroke="#4ae8f4" stroke-width="1.8" fill="none" stroke-linejoin="round" stroke-linecap="round"/>
<path d="M429 237.6L417.5 237.6" stroke="#222" stroke-width="1.2"/><path d="M412 237.6L417.5 234.8L417.5 240.4Z" fill="#222"/>
<text x="431.8" y="239.2" font-size="10.2" fill="#c4703a" textLength="19.3" lengthAdjust="spacingAndGlyphs" font-weight="bold">z=11</text>
<path d="M326.6 353.4L338.4 351.6" stroke="#222" stroke-width="1.2"/><path d="M343.8 350.8L338.8 354.4L337.9 348.9Z" fill="#222"/>
<text x="303.3" y="358.5" font-size="10.2" fill="#c4703a" textLength="18.8" lengthAdjust="spacingAndGlyphs" font-weight="bold">z=11</text>
<path d="M345.8 358.4H360M352.9 350.4V366.1M326.2 384.7H344.4M335.3 378.7V391.8M369 269V280M387 269V274M365.7 298.7V310.9M365.6 300V312" stroke="#f0a0a0" stroke-width="0.9" fill="none"/>
<path d="M375 226.7 375.6 240 375.4 260 375.8 270 375.4 275 373 277 371 278" stroke="#2540f2" stroke-width="1.2" fill="none" stroke-linejoin="round" stroke-linecap="round"/>
<circle cx="369" cy="275" r="1.3" fill="#2540f2"/>
<circle cx="375.6" cy="277" r="3.4" fill="#e8332b" stroke="#2540f2" stroke-width="1.1"/>
<circle cx="389.6" cy="262" r="2.7" fill="#e8332b" stroke="#2540f2" stroke-width="1.1"/>
<circle cx="387" cy="267" r="2.1" fill="#e8332b" stroke="#2540f2" stroke-width="1.1"/>
<circle cx="371.6" cy="294" r="1.7" fill="#e8332b"/>
<circle cx="365.7" cy="304.8" r="1.2" fill="#e8332b"/><circle cx="365.6" cy="305" r="1.2" fill="#e8332b"/>
<path d="M420.6 244.5h4.1v4.1h-4.1ZM431.9 245.9h4.1v4.1h-4.1ZM414.9 261.6h4.1v4.1h-4.1ZM424.3 264.6h4.1v4.1h-4.1ZM409.6 275.6h4.1v4.1h-4.1ZM417.3 278.9h4.1v4.1h-4.1ZM403.9 286.9h4.1v4.1h-4.1ZM410.3 290.3h4.1v4.1h-4.1ZM417.6 295.3h4.1v4.1h-4.1ZM397.3 296.3h4.1v4.1h-4.1ZM402.6 298.9h4.1v4.1h-4.1ZM408.3 301.6h4.1v4.1h-4.1ZM396.9 303.6h4.1v4.1h-4.1ZM392.3 303.6h4.1v4.1h-4.1ZM388.6 303.6h4.1v4.1h-4.1ZM383.9 303.9h4.1v4.1h-4.1ZM380.9 305.9h4.1v4.1h-4.1ZM378.3 308.3h4.1v4.1h-4.1ZM370.3 305.6h4.1v4.1h-4.1ZM368.3 308.9h4.1v4.1h-4.1ZM367.6 312.9h4.1v4.1h-4.1ZM335.3 306.4h4.1v4.1h-4.1ZM342.8 305.9h4.1v4.1h-4.1ZM332.2 308.9h4.1v4.1h-4.1ZM337.6 310.8h4.1v4.1h-4.1ZM344.4 310.3h4.1v4.1h-4.1ZM331.8 312.6h4.1v4.1h-4.1ZM336.6 315.1h4.1v4.1h-4.1ZM340.9 314.2h4.1v4.1h-4.1ZM346.6 313.8h4.1v4.1h-4.1ZM332.2 315.9h4.1v4.1h-4.1ZM333.6 318.9h4.1v4.1h-4.1ZM333.9 321.6h4.1v4.1h-4.1ZM335.3 324.2h4.1v4.1h-4.1ZM356.2 306.8h4.1v4.1h-4.1ZM356.2 311.2h4.1v4.1h-4.1ZM356.6 315.1h4.1v4.1h-4.1ZM370.1 305.6h4.1v4.1h-4.1ZM368.3 309.4h4.1v4.1h-4.1ZM367.9 313.3h4.1v4.1h-4.1ZM377.9 308.6h4.1v4.1h-4.1Z" stroke="#74cf63" stroke-width="0.85" fill="none"/>
<text x="277.8" y="246.6" font-size="12.4" fill="#e8332b" textLength="85.4" lengthAdjust="spacingAndGlyphs" stroke="#e8332b" stroke-width="0.1">F150W dropout</text>
<text x="280.5" y="391.8" font-size="12.4" fill="#74cf63" textLength="16.2" lengthAdjust="spacingAndGlyphs" stroke="#74cf63" stroke-width="0.2">BD</text>
<text x="280.5" y="406.5" font-size="12.4" fill="#2540f2" textLength="69.9" lengthAdjust="spacingAndGlyphs" stroke="#2540f2" stroke-width="0.25">Mid-z old glx</text>
<rect x="272.0" y="226.9" width="184.2" height="184.5" fill="none" stroke="#8a8a8a" stroke-width="1.35"/>
<path d="M276.6 411.4v-2.1M276.6 226.9v2.1M272 406.8h2.1M456.2 406.8h-2.1M281.2 411.4v-2.1M281.2 226.9v2.1M272 402.2h2.1M456.2 402.2h-2.1M285.8 411.4v-2.1M285.8 226.9v2.1M272 397.6h2.1M456.2 397.6h-2.1M290.4 411.4v-2.1M290.4 226.9v2.1M272 392.9h2.1M456.2 392.9h-2.1M295 411.4v-2.1M295 226.9v2.1M272 388.3h2.1M456.2 388.3h-2.1M299.6 411.4v-2.1M299.6 226.9v2.1M272 383.7h2.1M456.2 383.7h-2.1M304.2 411.4v-2.1M304.2 226.9v2.1M272 379.1h2.1M456.2 379.1h-2.1M308.8 411.4v-2.1M308.8 226.9v2.1M272 374.5h2.1M456.2 374.5h-2.1M313.4 411.4v-2.1M313.4 226.9v2.1M272 369.9h2.1M456.2 369.9h-2.1M318.1 411.4v-3.6M318.1 226.9v3.6M272 365.3h3.6M456.2 365.3h-3.6M322.7 411.4v-2.1M322.7 226.9v2.1M272 360.7h2.1M456.2 360.7h-2.1M327.3 411.4v-2.1M327.3 226.9v2.1M272 356h2.1M456.2 356h-2.1M331.9 411.4v-2.1M331.9 226.9v2.1M272 351.4h2.1M456.2 351.4h-2.1M336.5 411.4v-2.1M336.5 226.9v2.1M272 346.8h2.1M456.2 346.8h-2.1M341.1 411.4v-2.1M341.1 226.9v2.1M272 342.2h2.1M456.2 342.2h-2.1M345.7 411.4v-2.1M345.7 226.9v2.1M272 337.6h2.1M456.2 337.6h-2.1M350.3 411.4v-2.1M350.3 226.9v2.1M272 333h2.1M456.2 333h-2.1M354.9 411.4v-2.1M354.9 226.9v2.1M272 328.4h2.1M456.2 328.4h-2.1M359.5 411.4v-2.1M359.5 226.9v2.1M272 323.8h2.1M456.2 323.8h-2.1M364.1 411.4v-3.6M364.1 226.9v3.6M272 319.1h3.6M456.2 319.1h-3.6M368.7 411.4v-2.1M368.7 226.9v2.1M272 314.5h2.1M456.2 314.5h-2.1M373.3 411.4v-2.1M373.3 226.9v2.1M272 309.9h2.1M456.2 309.9h-2.1M377.9 411.4v-2.1M377.9 226.9v2.1M272 305.3h2.1M456.2 305.3h-2.1M382.5 411.4v-2.1M382.5 226.9v2.1M272 300.7h2.1M456.2 300.7h-2.1M387.1 411.4v-2.1M387.1 226.9v2.1M272 296.1h2.1M456.2 296.1h-2.1M391.7 411.4v-2.1M391.7 226.9v2.1M272 291.5h2.1M456.2 291.5h-2.1M396.3 411.4v-2.1M396.3 226.9v2.1M272 286.9h2.1M456.2 286.9h-2.1M400.9 411.4v-2.1M400.9 226.9v2.1M272 282.2h2.1M456.2 282.2h-2.1M405.5 411.4v-2.1M405.5 226.9v2.1M272 277.6h2.1M456.2 277.6h-2.1M410.1 411.4v-3.6M410.1 226.9v3.6M272 273h3.6M456.2 273h-3.6M414.8 411.4v-2.1M414.8 226.9v2.1M272 268.4h2.1M456.2 268.4h-2.1M419.4 411.4v-2.1M419.4 226.9v2.1M272 263.8h2.1M456.2 263.8h-2.1M424 411.4v-2.1M424 226.9v2.1M272 259.2h2.1M456.2 259.2h-2.1M428.6 411.4v-2.1M428.6 226.9v2.1M272 254.6h2.1M456.2 254.6h-2.1M433.2 411.4v-2.1M433.2 226.9v2.1M272 250h2.1M456.2 250h-2.1M437.8 411.4v-2.1M437.8 226.9v2.1M272 245.3h2.1M456.2 245.3h-2.1M442.4 411.4v-2.1M442.4 226.9v2.1M272 240.7h2.1M456.2 240.7h-2.1M447 411.4v-2.1M447 226.9v2.1M272 236.1h2.1M456.2 236.1h-2.1M451.6 411.4v-2.1M451.6 226.9v2.1M272 231.5h2.1M456.2 231.5h-2.1" stroke="#1a1a1a" stroke-width="1.1" fill="none"/>
<text x="272" y="435" font-size="12.2" fill="#111" text-anchor="middle">-2</text>
<text x="318.1" y="435" font-size="12.2" fill="#111" text-anchor="middle">-1</text>
<text x="364.1" y="435" font-size="12.2" fill="#111" text-anchor="middle">0</text>
<text x="410.1" y="435" font-size="12.2" fill="#111" text-anchor="middle">1</text>
<text x="456.2" y="435" font-size="12.2" fill="#111" text-anchor="middle">2</text>
<text x="266.2" y="411.3" font-size="12.2" fill="#111" text-anchor="end">-2</text>
<text x="266.2" y="371.1" font-size="12.2" fill="#111" text-anchor="end">-1</text>
<text x="266.2" y="324.9" font-size="12.2" fill="#111" text-anchor="end">0</text>
<text x="266.2" y="278.8" font-size="12.2" fill="#111" text-anchor="end">1</text>
<text x="266.2" y="237.5" font-size="12.2" fill="#111" text-anchor="end">2</text>
<g transform="translate(364.1 455.2)"><text x="-31.7" y="0" font-size="14.6" fill="#111">m</text><text x="-18.9" y="3.9" font-size="9.2" fill="#111" textLength="13.5" lengthAdjust="spacingAndGlyphs">356</text><text x="-2.7" y="0" font-size="14.6" fill="#111">-</text><text x="5.5" y="0" font-size="14.6" fill="#111">m</text><text x="16.9" y="3.9" font-size="9.2" fill="#111" textLength="13.6" lengthAdjust="spacingAndGlyphs">444</text></g>
<g transform="translate(242.4 319.8) rotate(-90)"><text x="-31.7" y="0" font-size="14.6" fill="#111">m</text><text x="-18.9" y="3.9" font-size="9.2" fill="#111" textLength="13.5" lengthAdjust="spacingAndGlyphs">200</text><text x="-2.7" y="0" font-size="14.6" fill="#111">-</text><text x="5.5" y="0" font-size="14.6" fill="#111">m</text><text x="16.9" y="3.9" font-size="9.2" fill="#111" textLength="13.6" lengthAdjust="spacingAndGlyphs">356</text></g>
<path d="M536.6 328.3H721.1" stroke="#c2c2c2" stroke-width="1"/>
<defs><radialGradient id="g3"><stop offset="0" stop-color="#000" stop-opacity="0.22"/><stop offset="0.35" stop-color="#000" stop-opacity="0.154"/><stop offset="0.7" stop-color="#000" stop-opacity="0.048"/><stop offset="1" stop-color="#000" stop-opacity="0"/></radialGradient></defs>
<ellipse cx="620" cy="388" rx="22" ry="30" fill="url(#g3)" transform="rotate(0 620 388)"/>
<path d="M627.1 387.6h0.9m5.8 17.1h0.9m-28.7-11.3h0.9m4.1 7.4h0.9m9.2-11.2h0.9m0.5-18h0.9m20.8 23.1h0.9m-27 5.5h0.9m7.7-9.1h0.9m7.9 13.2h0.9m-27.4-47h0.9m3 32.4h0.9m-5.5-43.7h0.9m8.2 43.7h0.9m2.1-12.6h0.9m-2.7 16.7h0.9m5.7 11.5h0.9m-15.7-25h0.9m20.1 4.5h0.9m-6.7-6.5h0.9m13.2 8.9h0.9m-24 7.5h0.9m12.7 1.9h0.9m-20.1-10.6h0.9m11.7 9.3h0.9m-3.3-24.7h0.9m-14.7 13h0.9m24.3-0.7h0.9m-0.8 19.1h0.9m-5.8-10.7h0.9m-16.2 0.5h0.9m1.5-12.7h0.9m18.4 25h0.9m-14.8-28h0.9m-1.4 8.3h0.9m12.6-3.8h0.9m-10.3 7.9h0.9m-11.4 4.7h0.9m17.2-4.5h0.9m-17.6 19.5h0.9m3.8-37.4h0.9m7 30.9h0.9m-16.9-2.6h0.9m-10.7-13.7h0.9m0.2 5.1h0.9m34.7 12.1h0.9m-30.2-9.7h0.9m29.2-2.1h0.9m-6.7 2.1h0.9m-20.8-8.4h0.9m-9.4 6.5h0.9m13.9 9h0.9m10.9-31.5h0.9m-9.6 6.6h0.9m-0.2 19.1h0.9m-5.3-14.3h0.9m7.2-3.4h0.9m-5.2 19.3h0.9m15.6-16.7h0.9m-34.4-3.3h0.9m12.8 12.6h0.9m9.4 12.7h0.9m-4.3-12.5h0.9m14 3.1h0.9m-25.8 1.3h0.9m-18 2.2h0.9m31.2-8.2h0.9m-6.6 8.7h0.9m6.3-0.6h0.9m-5.1 10.2h0.9m-28.6-16.7h0.9m26.5 11.3h0.9m-13.1-8.1h0.9m4.5 9.1h0.9m-1.2-12.2h0.9m-9.5 7.3h0.9m3.1 0.8h0.9m10.7-17.3h0.9m-1.5-3.6h0.9m-21 16.7h0.9m18.8 12.2h0.9m3.3-12.6h0.9m-5.8 14.4h0.9m-1.1-10.8h0.9m-20-8.6h0.9m26.2 2.3h0.9m-21.6 8h0.9m6.8 5h0.9m4.4-39.9h0.9m8.1 12.5h0.9m-14.4 27.9h0.9m21-12.1h0.9m-19 9.7h0.9m-12.1-3.3h0.9m0.3-27.8h0.9m8 19.5h0.9m-0.9-17.9h0.9m-0.2 7.1h0.9m-6.2 22.5h0.9m12.3-25.4h0.9m-9.4 23.9h0.9m-0.4 7.2h0.9m-14.5-23.3h0.9m15.7 3.5h0.9m-4.5 18.9h0.9m-3.4-1.7h0.9m-14.4-22.2h0.9m0 3.2h0.9m26.1 0.5h0.9m-19.6-11.6h0.9m17.2 28.9h0.9m-19.5-12.9h0.9m-5.5-0.6h0.9m7.8-0.9h0.9m7.9 20.1h0.9m-15-33.3h0.9m6.6 31.9h0.9m-8-35h0.9m-10.4 4.9h0.9m13.2 14.4h0.9m-8.3-4h0.9m9.3-2.4h0.9m7.9 19.7h0.9m-5.7-31.5h0.9m-11.7 22.6h0.9m9-5.3h0.9m-2-1.4h0.9m10.6-13.1h0.9m-15.5-10.6h0.9m4.3 27.2h0.9m1.6-13.5h0.9m-20.4 10.5h0.9m8.6-13.6h0.9m12.8-8.4h0.9m4.6 31.4h0.9m-18.7 11.2h0.9m-26.4-27.4h0.9m39-1h0.9m-19.1-2.2h0.9m4.8 2.4h0.9m-14.1 24.8h0.9m20.5-35.8h0.9m-12.1 27.3h0.9m1.1 2.1h0.9m-21.9-0.5h0.9m24.9-14.9h0.9m4 1.6h0.9m-17.8 18.6h0.9m-2-4.7h0.9m12.1-11.6h0.9m-1.6-10.8h0.9m-12.2 5.9h0.9m-0.7 14.8h0.9m12.4-21.7h0.9m-20.8 15.5h0.9m9.7 7.4h0.9m-23.8-23.8h0.9m18.1 25h0.9m8-27.8h0.9m-9.3 26.5h0.9m24.3-2.8h0.9m-7.7 6.4h0.9m-17.3-9.9h0.9m6.2-5.7h0.9m-14-12.6h0.9m7.6-3.4h0.9m-5.7 19.2h0.9m-2.8 9.4h0.9m12.1-20.7h0.9m-11.5 21.6h0.9m-2.2-8.3h0.9m6.4-6.5h0.9m2.1 8.8h0.9m-13.7-1.4h0.9m13.6-1h0.9m-11.4 5.5h0.9m-5.7 3.5h0.9m5.5-17.5h0.9m-2.7-9.9h0.9m-11.4 19.9h0.9m-1.4-7.4h0.9m17.5 3.3h0.9m6.6 4.6h0.9m-2.3-26.3h0.9m-7.4 35.4h0.9m-30.3-11.8h0.9m28.7-18.7h0.9m5.8 28.8h0.9m7.1-16.9h0.9m-19.2 16.2h0.9m-6-29.4h0.9m1 8.4h0.9m5.1 18.1h0.9m-1.7-9.8h0.9m-19.3-25.1h0.9m8.8 21.9h0.9m19.2-1.4h0.9m-24.6 5.8h0.9m24.3-12.9h0.9m-6 29.3h0.9m-9.6-36.5h0.9m0.5 23.6h0.9m-6.2-10.8h0.9m-7.9 0.4h0.9m20.9 20.9h0.9m-8.9-18.9h0.9m17.9 5.1h0.9m-13.1 8h0.9m-13.7-8.1h0.9m11.3 14.4h0.9m-7.1-26h0.9m-19.9 23.5h0.9m17.2-24.5h0.9m-21.6-8.8h0.9m22.2 16.4h0.9m10.3 8h0.9m-19-2.6h0.9m-3.8-16.5h0.9m13.1 22.3h0.9m-3.6-4.9h0.9m-3 12.7h0.9m-7.8 2.2h0.9m-1.6-17.5h0.9m-3.8 11.1h0.9m-10.6-12h0.9m28.2 6.4h0.9m-4.1 4.4h0.9m-2-0.7h0.9m-1.5-2.7h0.9m-11.2-13.8h0.9m-0.6 8.8h0.9m-12.1-18.1h0.9m21.5 18.2h0.9m15-5.3h0.9m-23.1-7.7h0.9m8.9 25.4h0.9m-2.1-7.6h0.9m3.1-8h0.9m-20.5 18.3h0.9m-8.9-10.4h0.9m17 11.7h0.9m-4.2-1.6h0.9m16.9-42.2h0.9m-28.9 29h0.9m27.7 7.7h0.9m-22.3-13h0.9m-8.9 6.8h0.9m22.7-15.3h0.9m-22.8 10.5h0.9m15.2-6.7h0.9m-11.1-16.9h0.9m13.5 28.8h0.9m-12.1 10.8h0.9m15.1-7.3h0.9m-15.8-24.3h0.9m-1.9 20.1h0.9m-0.4-4.4h0.9m7.4 2.3h0.9m-11.9 3.8h0.9m-6.1-15.2h0.9m-0.8 13.4h0.9m10.5 6.5h0.9m-9.9 4h0.9m10.7-26.2h0.9m-10.7 13.4h0.9m7.8 5.6h0.9m1.6-24.4h0.9m3.5 9.6h0.9m-14.9-8.9h0.9m-18.7 17h0.9m1.2 10h0.9m23.8-15.8h0.9m-19 0.1h0.9m7.5 14.9h0.9m10.1-16.6h0.9m-17.7-6.5h0.9m-3.6 25.3h0.9m17.6-3h0.9m-14.8-10.2h0.9m9.8-0.5h0.9m-19.6-8.4h0.9m8.1 28.8h0.9m1.5-14.3h0.9m12.4-8.5h0.9m-16.4 3.5h0.9m-2.6-2h0.9m-1.6-4.8h0.9m14.3 26.1h0.9m-2.5-24.3h0.9m0.1-15.4h0.9m12.4 33.1h0.9m-17.3-0.8h0.9m-9.6 4.9h0.9m0.7-20.9h0.9m-4.4 22.2h0.9m4.1-29.4h0.9m-5.8 21.4h0.9m17.1-3.6h0.9m-8.7 7.8h0.9m8.7-17.4h0.9m-7.7 2.4h0.9m-22.1-8.9h0.9m17.6 5.5h0.9m13.8 6.7h0.9m-23.2 3.6h0.9m9.2-20.9h0.9m-22.2 17.3h0.9m3.6-0.4h0.9m7-6.8h0.9m-6.2-5h0.9m-2.6 2.3h0.9m0.7-3.5h0.9m8.7-0.2h0.9m6.6 12.1h0.9m-4.4 3.7h0.9m-6.9 1.2h0.9m-11.3-4.4h0.9m9.5 8.9h0.9m8.6 5.9h0.9m-2.1-25.2h0.9m1.3-24h0.9m-11.1 16.6h0.9m8.1 20.1h0.9m-31.1-4.2h0.9m16-2.8h0.9m-2-20.9h0.9m6.4 10.7h0.9m12.2 8h0.9m-14.3 2.1h0.9m-18.9 3.5h0.9m20-3.3h0.9m-8.5 11.1h0.9m3.3-25.9h0.9m4.5 22.1h0.9m-24.4-4.6h0.9m15.4 7.2h0.9m1.1 10.1h0.9m-0.3-17.7h0.9m-11.3-5h0.9m-2.4 6.4h0.9m24-5.8h0.9m-12.7 17.6h0.9m-9.9 7.7h0.9m24.8 1.2h0.9m-13-43.9h0.9m-15.8 20.4h0.9m-3.2 10.3h0.9m-0.4-0.3h0.9m18.5-7.2h0.9m-15.4 4.9h0.9m-9.8 3.4h0.9m5-17.9h0.9m9.6 18.2h0.9m-5.2-2.4h0.9m9.8-18h0.9m-10.1 2.7h0.9m1.5 6.7h0.9m2.4-6.6h0.9m2.5 23.8h0.9m-15.8-12.5h0.9m7.3 7.5h0.9m-4.1-11h0.9m0.3-5.7h0.9m20.5 6.6h0.9m-18.3 12.1h0.9m9.7-7.8h0.9m-21.7-15.5h0.9m3.7-12.2h0.9m-9.1 35.1h0.9m2.7 6.5h0.9m3-22.4h0.9m-5.7 24.5h0.9m10.9-17.9h0.9m-1.9 3.6h0.9m-10.7 4h0.9m4.9 10.4h0.9m8-25.2h0.9m-10.6-3.1h0.9m18.2-4.3h0.9m-20.5 18.5h0.9m-1.6-10.5h0.9m-14.7 6h0.9m12.7 1.5h0.9m-1.2 0.6h0.9m6.2-9.4h0.9m5.4 9.9h0.9m-15 1.9h0.9m-16.3 4h0.9m16.3-24h0.9m1.8 17.6h0.9m-9.7-0.7h0.9m3.7-21.2h0.9m-15 4.8h0.9m16.7 8.1h0.9m4.7 21.3h0.9m13.2-15.4h0.9m-29.9-15.9h0.9m12.6 9.9h0.9m-3.3-7.5h0.9m2.6 18.5h0.9m5.9 1.5h0.9m-11.4-8.6h0.9m-15.4-6h0.9m14.9 14.3h0.9m-19 9.5h0.9m12.6-5.7h0.9m-5.6-17.5h0.9m11 18.1h0.9m-19.7-11.2h0.9m13.9-13.9h0.9m-9-1.2h0.9m-5.1 25.4h0.9m11.4-26.2h0.9m4.3 10.7h0.9m20.9 1.6h0.9m-29.9-2.7h0.9m5-4.9h0.9m-15.8 18.8h0.9m18.1-12.4h0.9m-22.3 22.7h0.9m24.1-25.2h0.9m-14.6 6h0.9m-11.9 16.4h0.9m4.1-24.9h0.9m15.1 23.6h0.9m-12-4.1h0.9m-0.2 4.9h0.9m7.3-8.1h0.9m-7.1 14.7h0.9m6.8-26.5h0.9m-13.6 23.4h0.9m9.7-32.1h0.9m-27.5-2.1h0.9m16.7 13.8h0.9m-1.7-10.7h0.9m-4.4 16.8h0.9m-7.7 11.7h0.9m10.7-33.7h0.9m-12.6 21.6h0.9m10-12.3h0.9m-13.6 4.8h0.9m-7.7-9.1h0.9m24.5 17.9h0.9m-13.9 3.6h0.9m14.1 2.5h0.9m-10.5-10.6h0.9m0.9-8.3h0.9m11.9 25.6h0.9m-9.9-21.4h0.9m-0.9-10.4h0.9m-0.7 3.3h0.9m-13.8 3.1h0.9m4.7 1.4h0.9m2.8 11.5h0.9m14.6-3.6h0.9m-13.8-15.9h0.9m-8.8 14.3h0.9m-7.1 15h0.9m7.1-43.4h0.9m-10.4 28.8h0.9m24.9-23.5h0.9m-13.4 28.7h0.9m1-20.9h0.9m7.9 18.5h0.9m-9.8-23.6h0.9m6.4 30.9h0.9m-7.4-16h0.9m-8.7-3.2h0.9m-5.5-2.5h0.9m3 9.1h0.9m-9-4.9h0.9m-2.8 13.6h0.9m18.1 9.4h0.9m-9.8-20.6h0.9m-20.4 19.4h0.9m20.6-24.3h0.9m23.5 4.4h0.9m-14.6-0.3h0.9m0.6 26.1h0.9m-23-26.7h0.9m27.6 12.6h0.9m-4.9-1.8h0.9m-14.5-17.9h0.9m1.3 29.9h0.9m1 1.3h0.9m-5.7-13.5h0.9m3.7-2.9h0.9m-10.2-20.1h0.9m0.2 4.4h0.9m12.4 3.1h0.9m-1.3 22.4h0.9m-11.2-26.4h0.9m-1.5-0.8h0.9m13.1 22.1h0.9m1.1-2.5h0.9m-14.4-0.4h0.9m10.3 5.7h0.9m-8.3-15.9h0.9m-21.4 6.2h0.9m6.8 7.7h0.9m-3.2-0.9h0.9m6.7-14.1h0.9m2 23h0.9m2.5-28.4h0.9m4.5 9.6h0.9m-7.6-8.7h0.9m-14.9 17.1h0.9m15.6-15.5h0.9m1.5 6h0.9m-16.3 11.8h0.9m0.9 6.9h0.9m8.5-23.3h0.9m-7.1 29.5h0.9m6.5-18.6h0.9m9.1 4.6h0.9m-4.5-12.4h0.9m9.3 19.5h0.9m-16.8-7.5h0.9m-17-9.2h0.9m13.2 0h0.9m3.7 1.3h0.9m-10.4-14.9h0.9m8.3 23.9h0.9m-21.7-8.6h0.9m-5.4 10.8h0.9m19-12.9h0.9m18-4.6h0.9m-6.4 28.7h0.9m1.4-34h0.9m-22.9 22.6h0.9m14.6-9.8h0.9m-9.4-6.3h0.9m-9.9 12.7h0.9m-1.4-7.1h0.9m2.4 13.4h0.9m-6.3-6.2h0.9m-1.9-17.3h0.9m12.7 8.1h0.9m-16.7 10.6h0.9m7-7.8h0.9m4.7 7.7h0.9m-6.3-6.7h0.9m6-5h0.9m-8.3 3h0.9m-3.4-18.7h0.9m21.6 6.7h0.9m-10-3.9h0.9m-11.4 6.9h0.9m0.3 4.1h0.9m-7.5 4.5h0.9m18.9-7.6h0.9m-7.5 9.3h0.9m2-27.4h0.9m3.7 18.2h0.9m-14 12.5h0.9m19.5-25.9h0.9m-7.5 31.5h0.9m-4.5 13h0.9m-8-4.5h0.9m-3.5-7.1h0.9m3.1-15.8h0.9m-0.4-9.5h0.9m-19.4 14.8h0.9m13.3-4.1h0.9m7.2 14.6h0.9m2.3 6.8h0.9m-9.9-23h0.9m4.3 1.6h0.9m-9.9 6.5h0.9m8.6-2.2h0.9m-4.2-11.9h0.9m4.9-7.9h0.9m7.8 24.3h0.9m-8.5-18.9h0.9m-8.3 26.4h0.9m-11.5-14.3h0.9m0.1-12h0.9m19.9-2.4h0.9m-14.1-0.8h0.9m4.8 22.8h0.9m4.3-0.8h0.9m-10.2-9.3h0.9m10.1 0h0.9m-10.8-19.6h0.9m17.4 34.9h0.9m-6.5-3.2h0.9m1.6 10.9h0.9m-26.6-5.2h0.9m11.2-12.9h0.9m-4-0.6h0.9m-3.9 20.9h0.9m7-10.7h0.9m-16.5-17.7h0.9m11.2-12.4h0.9m-9.2 21.5h0.9m6.6-23.5h0.9m-7.6 22h0.9m1.7-10.1h0.9m1.1 17.2h0.9m-1.8-20.2h0.9m4.4 26.5h0.9m-6-11.1h0.9m-8.1-10.5h0.9m16.1-12.3h0.9m-6.4 26.9h0.9m1.1-2.4h0.9m-8.8-11.3h0.9m24.5-1h0.9m-18.5 21.2h0.9m9.2 2.6h0.9m-19.2-30.6h0.9m9.1 15h0.9m-7.5-1.4h0.9m8.7-4.5h0.9m-15.8-9.6h0.9m-7-3.9h0.9m15.4 23.8h0.9m4.7-8.7h0.9m-8 21.6h0.9m-6.5-12.6h0.9m-6.6 5.6h0.9m21.9 10.5h0.9m-23.8-32.8h0.9m6.3 18.6h0.9m-0.9 1.5h0.9m4.3 11.1h0.9m11.6-37.2h0.9m-11 31.6h0.9m-15.6-3.1h0.9m4.4-30.8h0.9m9.2 37.2h0.9m7.9 2.6h0.9m-5.5-19.9h0.9m-9 19.8h0.9m-2.4-21.1h0.9m-4-26.3h0.9m4.1 37.5h0.9m-3.3-4.2h0.9m9.4-30.4h0.9m-17.7 22.7h0.9m16.6 18.2h0.9m-4.9-12.6h0.9m-11.2-15.7h0.9m-1.3 30h0.9m1.2-28.4h0.9m6.3 12.3h0.9m-31.9-13h0.9m16.5 25.3h0.9m-13.6-16.7h0.9m24.6 15.8h0.9m-2.7-8.4h0.9m-16.9-26.4h0.9m4.3 18.8h0.9m8.2 0.7h0.9m-13.5 17.8h0.9m16.3-15.3h0.9m-10.6-9.6h0.9m3.6 16.2h0.9m0.3 2.4h0.9m-14-9.9h0.9m11.4 4.8h0.9m0.8-15.5h0.9m-7.3 28.8h0.9m-5.8-23.6h0.9m21.6-15.4h0.9m-23.6 18.8h0.9m1.9-8.8h0.9m15.9 2.5h0.9m-28.1-2.2h0.9m15.3 19.3h0.9m3.4-10.2h0.9m-5.5 5.2h0.9m-18.2-16h0.9m5.6 7.5h0.9m-5.3 12.6h0.9m12-10.9h0.9m4.9 4h0.9m-10.8-1.8h0.9m5.3 18.2h0.9m-0.6 2.1h0.9m-2.2-17.4h0.9m-2.8 3.4h0.9m15.9-4.5h0.9m-3.2 12h0.9m-25.2-25.2h0.9m19.3 15.8h0.9m-15.3-6.7h0.9m15.1 20.8h0.9m-11.5-2.4h0.9m8.2-20.8h0.9m-14.1 5.4h0.9m-1.3-7.9h0.9m-6.1 22.7h0.9m5.6-4.1h0.9m2.4-10.8h0.9m-2.2 0.1h0.9m-3.8-2.3h0.9m7.8 20.2h0.9m-9.6-16.3h0.9m-1.4-3.3h0.9m0.4 14.1h0.9m0.3-37h0.9m-2.7 24.3h0.9m-17.4 17.4h0.9m33.7 2.3h0.9m-18.5-24h0.9m10 12h0.9m-22.1-10.4h0.9m16.5 6.8h0.9m4.9 4.7h0.9m-15.8-30.6h0.9m4 19.1h0.9m-12.8 17h0.9m4.6-26.9h0.9m15.4 15.7h0.9m-7.8 19.2h0.9m6.3-10.9h0.9m-7.9-2.4h0.9m-11.9-9.7h0.9m10-10.8h0.9m-5.5 14h0.9m2.5 8.2h0.9m-4.7-18.7h0.9m-4.1 21.8h0.9m6.4-8.7h0.9m-4.9-11.2h0.9m1-10.3h0.9m8 1.1h0.9m-12.8 17.5h0.9m-2.5 15.6h0.9m-11.6-21.5h0.9m35.6 19.1h0.9m-30.4-31.6h0.9m5.2 20.3h0.9m2.4-1.8h0.9m-7.4 6.5h0.9m-2.7-2.4h0.9m-7.6-6.3h0.9m9.4-1.6h0.9m6.3 15.3h0.9m-2.3-9.8h0.9m-22.7-23.9h0.9m22.7 18.2h0.9m-10.8 2.7h0.9m3.9-0.9h0.9m10.3 10.6h0.9m-10.3-14.7h0.9m4.9 9.2h0.9m-2.2 17h0.9m-11.8-4.1h0.9m-13-20.1h0.9m25.1 5.4h0.9m-10.3-31.6h0.9m8.5 37.1h0.9m-2.5-21.8h0.9m-0.1 14.6h0.9m-3-1.3h0.9m-3.6 15.6h0.9m10.2-11.9h0.9m-22.5-1.5h0.9m23.1 5.9h0.9m-6 8.3h0.9m-19.9-41.3h0.9m8.5 20h0.9m5.8-3.4h0.9m0.7 20.5h0.9m-5.5-20h0.9m-12.9-1.2h0.9m0.8 11.2h0.9m3.5 13.3h0.9m-6.1-14.7h0.9m3.5 14.6h0.9m14.5-1.3h0.9m-13.1-17.4h0.9m3.6-1h0.9m-8.9 4.7h0.9m-10.6 4.6h0.9m18.5-4.8h0.9m2.1 2.2h0.9m-14.3-4.1h0.9m-1.9-8.9h0.9m-5.1 7.2h0.9m-1.4-12.3h0.9m7.4 27.5h0.9m-8-19.9h0.9m9 18.1h0.9m-5.5-14.9h0.9m-9.4 27.1h0.9m5.6-21h0.9m15.5 5.8h0.9m-18.3 0.3h0.9m10.2-14h0.9m-2.3 17.2h0.9m-2.9-6.9h0.9m5.2 0.7h0.9m-6.2 5.3h0.9m-3.3-8h0.9m-8.5-7.6h0.9m2.4 15.6h0.9m5.5 2.3h0.9m5.1-1h0.9m-10.6 1.9h0.9m8.9-6.9h0.9m3.7-24.8h0.9m-6 29.7h0.9m-9.3-12.4h0.9m-5.9 16.6h0.9m0.1-25h0.9m-1.6 21.2h0.9m4-11.6h0.9m-22.9-6h0.9m22.8-4.1h0.9m4.1 17.7h0.9m-10.5 3.1h0.9m5-18.8h0.9m5 6.8h0.9m3.6 6.5h0.9m-4.5-9.8h0.9m-16.5 14.4h0.9m18 1.7h0.9m-8.4-15.7h0.9m-1.1 9.5h0.9m1.3 6.1h0.9m-0.1-11.8h0.9m-10.6 17h0.9m-13.7-11.5h0.9m26.5 2.6h0.9m-12.1-8.5h0.9m-5.4 1.2h0.9m-3.5 6h0.9m-2.9-5.4h0.9m10.8 8.2h0.9m-4.7-11.9h0.9m9.2 0.9h0.9m-5.8-1.9h0.9m0.1-3.4h0.9m5 20.4h0.9m-7 6.3h0.9m10.3-4.7h0.9m-25.1-24.9h0.9m12.9-6.9h0.9m-25.8 4h0.9m0.3 4.9h0.9m7.5 15.3h0.9m4.4-24.9h0.9m-13.6 23h0.9m13.4-11.3h0.9m-2.4 4.6h0.9m23.9 14.7h0.9m-34.3-12.7h0.9m12.5-1.3h0.9m3.2 1.6h0.9m6.3-6.8h0.9m-7.5 0.9h0.9m5.3 13.1h0.9m-22.6-25.5h0.9m-12.4 29.4h0.9m25.3-27h0.9m-9.2 18.4h0.9m-16.8-7.8h0.9m17.1 15.5h0.9m-2.6-26.9h0.9m1.3 25.4h0.9m0.3-5.9h0.9m-2.4-9.8h0.9m10.5 15.7h0.9m-15.8 3.2h0.9m8.8-3.5h0.9m-11.7-14.7h0.9m18 13.9h0.9m-3.5-30.1h0.9m-7.6 37.6h0.9m-2.1-17h0.9m-6.6-4h0.9m-16.3-7.6h0.9m17.4 17.5h0.9m-5.3-11.9h0.9m1.9 10.8h0.9m3.3-11.1h0.9m0.2 11.4h0.9m-4.8 6.9h0.9m11.9-12.8h0.9m-31.9-4.3h0.9m13 16h0.9m9.1-21.6h0.9m-17.9 14.2h0.9m-6.3 1.6h0.9m10.8 2.5h0.9m5.7 5.6h0.9m-3.5 6.9h0.9m-0.9-36.2h0.9m-16.3 19.2h0.9m7-11.2h0.9m17 29h0.9m-6.8-22.3h0.9m-13.3-18.7h0.9m10.3 28h0.9m-4.5-10.9h0.9m1.1 10.4h0.9m3 5.8h0.9m10.7-6.2h0.9m-0.1 3.7h0.9m-33.1-13h0.9m12.1 4.4h0.9m-5.6 20.3h0.9m9.5-20.5h0.9m-5.6 2.9h0.9m10.6 1.3h0.9m-7.8 15.5h0.9m7.7-30.2h0.9m0.8-3.5h0.9m1.2 29.3h0.9m-33.8-2.5h0.9m16.9-24.1h0.9m-5.6 5.2h0.9m2.9 15.1h0.9m4.8-23.3h0.9m-7.5 22.3h0.9m2.5 1.8h0.9m0.9 7.3h0.9m-18.7 2.9h0.9m10.3-12.4h0.9m10.2-18h0.9m-25.2 25.4h0.9m21.5-5.8h0.9m-16.3-15.1h0.9m1.8-11.1h0.9m11.8 15.2h0.9m-16.3 8.1h0.9m6.1-1.6h0.9m-14.9-12h0.9m20.1 15.6h0.9m-11.4 0.9h0.9m-7.3-3.7h0.9m9.1-15.8h0.9m-13 17.3h0.9m7.6-17.6h0.9m-0.8 24.7h0.9m6.7-11.3h0.9m-1.4-4.7h0.9m-11.2-11.7h0.9m23.6 30h0.9m-5.7-6.5h0.9m-24.2-28.8h0.9m31.7 13.2h0.9m-15.6 2.4h0.9m-2.9 8.8h0.9m-15.4-2.5h0.9m15.6-35.5h0.9m-24.4 29.4h0.9m21.2 8.2h0.9m10.8 5.9h0.9m-35.7-32.5h0.9m27.2 10.1h0.9m-15.3-36.3h0.9m16.9 62.5h0.9m1.4-5h0.9m1.4-73.2h0.9m0.4 64.9h0.9m-52.8-27.1h0.9m37 14.8h0.9m9.9 21.9h0.9m-35.8-8.4h0.9m28.2 7.6h0.9m5.4-53.9h0.9m-8.3-13.5h0.9m-2.6 39.3h0.9m-10.5 25h0.9m-1.8-1.1h0.9m35.7 2.2h0.9m-90.2-35.3h0.9m43.8 15.5h0.9m-7.8 1.4h0.9m-5.8 26.9h0.9m30.4-11.8h0.9m-3.6-2.6h0.9m-6.6 13.9h0.9m3.6-27.8h0.9m7.3 19.3h0.9m-22.3-46.9h0.9m12.1 12.5h0.9m-10.8 38.7h0.9m10.2-31.7h0.9m13.4 11.3h0.9m6.1 7.1h0.9m-37.5 3.4h0.9m-6.2-18.8h0.9m18.9 12.3h0.9m-18-28.2h0.9m19.5 32.5h0.9m-7.7-4.4h0.9m-21.5-23.7h0.9m23.9 22.6h0.9m-21.9 8.1h0.9m35.7-13.2h0.9m-26.1 18.7h0.9m-12.6-32.1h0.9m16.8 20.2h0.9m1.9 11.6h0.9m-16.9-18.3h0.9m-20.6-17.7h0.9m41.9 16h0.9m7.2-5.5h0.9m-5.7 12.5h0.9m-31.7-13.1h0.9m20.1 16h0.9m-4.4-5.4h0.9m-26.7 18.6h0.9m11.7-20.8h0.9m13.6-4h0.9m-39.3 2.7h0.9m14.5 4.3h0.9m30.2 12.6h0.9m-31-53.7h0.9m-6.2 53.9h0.9m38.9 5.5h0.9m-31.6-17.2h0.9m20.3-47.3h0.9m-27.2 47.1h0.9m16.4 20.2h0.9m5.2-8.1h0.9m9.9-9.1h0.9m-23.7 22.6h0.9m-36-38.9h0.9m22.5 10.1h0.9m12.6 15h0.9m16.1-15.2h0.9m-14.5 14.4h0.9m-6.5-16.7h0.9m10.5 24.4h0.9m6.5-41h0.9m8.1 49.4h0.9m-51.5-26.3h0.9m36.9 1.2h0.9m-39.1 4.1h0.9m38.7-10.5h0.9m-9.9-14.8h0.9m17 29.1h0.9m-15.7-3.9h0.9m5.1 9.3h0.9m-2.2-4.7h0.9m-45.8-9.8h0.9m24.1 1.4h0.9m-23.6-13.4h0.9m45.4 25.1h0.9m-3.9-16.8h0.9m6.2-3.4h0.9m-41.4 31.9h0.9m52.9-55.2h0.9m-48.8 53.4h0.9m17.7-54.5h0.9m-8.4 9.7h0.9m4.8 22.6h0.9m31.9 21.9h0.9m-51.1-29.4h0.9m44.7 14.2h0.9m-14.9-15.5h0.9m-14.8-7.9h0.9m-1.7-6.8h0.9m10.5 21.1h0.9m-17.3-38.3h0.9m9.9 47.6h0.9m18.6-11.4h0.9m-25.6 8.4h0.9m-28.7-16.8h0.9m32.8 20.3h0.9m-8.1-28.6h0.9m-8.4 20h0.9m14.2-15.1h0.9m-15.6 13.3h0.9m5.2-14h0.9m7.8 37h0.9m-1.4-24.5h0.9m5.2 9.9h0.9m-8.9-8.1h0.9m-29.1-4.4h0.9m30.9 14.7h0.9m8.8-14.2h0.9m-46.3-5.1h0.9m2.8 0.2h0.9m13.6 20.6h0.9m27.6 11.1h0.9m-32.7-37.5h0.9m30.3 28h0.9m-16.8-52.4h0.9m-14.5-2.7h0.9m61.9 63.9h0.9m-71.1-21.8h0.9m19.5-7.7h0.9m-17-1.8h0.9m20.6 3.2h0.9m-20.7 7.2h0.9m5.6-11.1h0.9m-6.2-6.5h0.9m9.8 33.7h0.9m14.5-52h0.9m-35.1 48.9h0.9m7-17.2h0.9m7.8 21.2h0.9m0.6-16h0.9m21.7-31.7h0.9m-31 47.9h0.9m25.5-12.3h0.9m8.1-3.7h0.9m-42.5-9.7h0.9m31.6-37.4h0.9m-3.4 39.5h0.9m-29.2 32.8h0.9m40.2-46.1h0.9m-37.5 21.5h0.9m5.5-21.2h0.9m28.9 23.2h0.9m-30.7 22.1h0.9m1.1-4.3h0.9m40.1-13.1h0.9m-30.3 13.1h0.9m-8.8-35.8h0.9m9.8-5.9h0.9m-14.3 40.7h0.9m9.6-16h0.9m-15.6-14.2h0.9m-5.1-10h0.9m-17.9 22.1h0.9m43 10.4h0.9m-61.1-6.9h0.9m19.4-7h0.9m43.6-11.6h0.9m-40.4-34.9h0.9m7.1 68.2h0.9m39.5-37.6h0.9m-16.1 25.8h0.9m-13 3.5h0.9m28.3 13.7h0.9m-37.3-59h0.9m-4.1 34.9h0.9m11.9 20.5h0.9m-19.8-36.1h0.9m-7.5-2.1h0.9m1.6 30.7h0.9m-10.2 9.9h0.9m12-42.1h0.9m0.4 25.2h0.9m25.8-21.6h0.9m-25.5 8.5h0.9m-28.1 29.7h0.9m26.5-5.9h0.9m38.8-34.2h0.9m-16.5 5.3h0.9m-8.5 17.8h0.9m-12.8-10.1h0.9m-13.2-4.2h0.9m31.2-4.7h0.9m-4.4 37.6h0.9m-3-58.9h0.9m-24.7 50.8h0.9m25.7 5.5h0.9m-21.2-29.1h0.9m-0.9 3.3h0.9m30.5 30.9h0.9m-25.9-57.8h0.9m-11 33.8h0.9m35.4 4.7h0.9m-1.8 9.7h0.9m-24.8-31.9h0.9m2.3-1.3h0.9m12.6 21.9h0.9m-39.9-21.6h0.9m47 24.8h0.9m-50-7h0.9m5.2 3.6h0.9m28.2-5.9h0.9m-21.7 12.1h0.9m-0.9-11.8h0.9m-10.6-9h0.9m11.4 15.8h0.9m-12.4-13.6h0.9m18.6-14.3h0.9m37.6 12.2h0.9m-57.3 23.3h0.9m19.7-46.8h0.9m16.1 22.5h0.9m-52.3 18.9h0.9m17.4-29.1h0.9m-4.1 31.2h0.9m-5.9-5.7h0.9m25.9-5.5h0.9m15.4-18.8h0.9m-11.2 14.3h0.9m-12.5-8.1h0.9m2.4-4.2h0.9m-10.8 34.7h0.9m10-29.6h0.9m-31.2-3h0.9m23.8 22.7h0.9m8.1-11h0.9m-10.2 17.5h0.9m-11.9-36.7h0.9m14.7 34.7h0.9m-17.7-22.5h0.9m10.2 23.7h0.9m16.9 1.2h0.9m-1.8-22.4h0.9m-10.9 10.4h0.9m-25-47h0.9m11.9 25.8h0.9m8.6 20.9h0.9m-13.9 4.8h0.9m39.5 4.9h0.9m-42.2-18.4h0.9m10.4-8h0.9m-29.5 6h0.9m41.1-23.5h0.9m13.4 56.6h0.9m-44-18.4h0.9m-10.1-13.2h0.9m24.8-25.4h0.9m30 40.9h0.9m-54.7-8.3h0.9m16.1-2.4h0.9m8.3-8.6h0.9m-5.6-14.8h0.9m23.1 37.2h0.9m-7.5-6.6h0.9m-23.8-13.9h0.9m22-1.2h0.9m-23 6.1h0.9m5.4-1.7h0.9m14.4 27.1h0.9m-0.2-22.7h0.9m-4 7.2h0.9m10.5-29.9h0.9m-69.9 32.5h0.9m32-15.9h0.9m-3.8 17.9h0.9m2.5-21.8h0.9m0.3 5.9h0.9m13.7 22.9h0.9m3.6-10.1h0.9m-27.7-7.9h0.9m-22.7-5.8h0.9m45.1-20.4h0.9m-15.6 25.2h0.9m1.1-50.8h0.9m-9.6 30.7h0.9m-2 40.9h0.9m15-39.1h0.9m-6.9 38.7h0.9m-23.3-47.2h0.9m28.5-6.8h0.9m-27.4 16.6h0.9m37.2 25.3h0.9m1.2 14h0.9m-14.1-40.4h0.9m-10.2 30.7h0.9m-13.9-5.9h0.9m23.4-18.9h0.9m-3.1 27.4h0.9m-26.5-13.2h0.9m7.9-16.9h0.9m29.5 27.1h0.9m3.2 3h0.9m-36.6-10.8h0.9m3-2.9h0.9m6.2 14.3h0.9m14.4-17.4h0.9m2.2-13.8h0.9m-12.5-11.8h0.9m9.8 25.6h0.9m-40.8-23.5h0.9m21.2 42.9h0.9m-6.8-17.3h0.9m16.3 19.7h0.9m-25.5-12h0.9m2.4 5.2h0.9m-9-23.7h0.9m38.6 7h0.9m-24.1 10.2h0.9m7.6-3.3h0.9m0.1-1h0.9m-4.1-23h0.9m5.2-15.7h0.9m9.9 12.8h0.9m4.5-28.8h0.9m-45.1 21h0.9m31.7 38h0.9m2.3-12.6h0.9m-22.4-8.9h0.9m-2.1 10.5h0.9m4.2-34.9h0.9m20 36.5h0.9m-30.4-22h0.9m18.6 50.8h0.9m0.4-13.9h0.9m20.7-3.9h0.9m-46.6-3.6h0.9m7.2 10.8h0.9m12.6-17h0.9m-16.3-13.7h0.9m1 27.3h0.9m-6.9 11h0.9m41.3-45.3h0.9m-32.6-8.5h0.9m0.3 32h0.9m-7.9-43.9h0.9m12.3 48.4h0.9m14.7 7h0.9m-20.9-0.1h0.9m-6.3-12.6h0.9m2.9 10.8h0.9m-13.9 4.9h0.9m38.9-13.6h0.9m3.1-8.2h0.9m-30.4 10.8h0.9m-5-0.6h0.9m14-45.7h0.9m-13 54.4h0.9m2.6 12.7h0.9m-26.9-16.5h0.9m28.3-19.4h0.9m10.9 29.3h0.9m-44-48.7h0.9m14.8 44.3h0.9m-14.3 7.8h0.9m22.6-23.1h0.9m-15.7 13.5h0.9m13.6-53h0.9m17.1 51.1h0.9m-6.3-18.2h0.9m9.4 16.9h0.9m-50.4-7h0.9m28-2.8h0.9m-25.6 14.6h0.9m35.7-20.9h0.9m-19.2 6.1h0.9m22.8 26.1h0.9m-20.4-29.1h0.9m2.8 3.7h0.9m-11.6-10.8h0.9m1.2 4.8h0.9m-31.3 3.7h0.9m27.1 6.1h0.9m-1.8-41.4h0.9m27.7 28.8h0.9m-10.8-2.5h0.9m16.9 8.8h0.9m-21.9 7.8h0.9m2.8-13.8h0.9m-40.2 11.3h0.9m8.8-7.5h0.9m4.2 9.4h0.9m15.1 6.3h0.9m-12.7-35.4h0.9m28.7 36.8h0.9m-39.4-28.7h0.9m6.6 20.3h0.9m38.4-0.9h0.9m-11.2 1.7h0.9m-34.5-1.7h0.9m-3.7-14.8h0.9m38 15.5h0.9m-25.4 1h0.9m7.9-20.9h0.9m-25.5-7.2h0.9m16.8 43.6h0.9m-1.4-25.3h0.9m6.3 21h0.9m-17.5-29.6h0.9m16.1 10.1h0.9m-7.3 3.9h0.9m0.6 1.6h0.9m15.7-18.9h0.9m-15.9 7.6h0.9m-9.3-32.6h0.9m-11.2 21.3h0.9m32.6 46.1h0.9m-18.1-3.6h0.9m4.7-20.4h0.9m-4.6-3.4h0.9m4.5 1.4h0.9m-10.6 26h0.9m1.1-15.6h0.9m25.2-47.6h0.9m-25.7 18.8h0.9m-23.7-0.2h0.9m12.5 16.7h0.9m6.1-21h0.9m1.1-6.8h0.9m-39.7 32.1h0.9m45.2-12.5h0.9m-1.3-11.4h0.9m-22.4 33.5h0.9m27.6-11.9h0.9m-18.9-16.7h0.9m-7.5 43.4h0.9m-5.7-14.1h0.9m22.2-15.2h0.9m-20.7-45.6h0.9m16.5 58.3h0.9m-23.8-18.1h0.9m13.7 23h0.9m10.1-2.7h0.9m8.2-21.8h0.9m0.7-3.3h0.9m0.5 40.4h0.9m20-33.6h0.9m-36.9 10.2h0.9m-23-1.6h0.9m37.3 16.4h0.9m-31-4h0.9m-34.2-16.9h0.9m54.8-0.3h0.9m-23.2-0.5h0.9m27.6-3.9h0.9m9.8 4.2h0.9m-27.9-8.5h0.9m28.8 0.3h0.9m1.2 12.7h0.9m-11.6-11.7h0.9m-10.9 12.3h0.9m-11.2-27.4h0.9m-2 3.3h0.9m-7.4-8.9h0.9m14.3 53.9h0.9m-44.2-45.3h0.9m57.7 31.2h0.9m4.5-31.3h0.9m-63.5 25.9h0.9m39.5-36.5h0.9m13.6 34.4h0.9m-25.1-25.9h0.9m-2.8 25.6h0.9m-5.1-7.8h0.9m10.7 10.7h0.9m13.6 0.4h0.9m-51.6-26.2h0.9m17.1 45.3h0.9m1.8-29.8h0.9m-14.9-4.1h0.9m32.7-1.7h0.9m-2.1 12.1h0.9m4.5-10.9h0.9m-48.8 4.1h0.9m46.4 13.1h0.9m4.3-18.9h0.9m-9.8-5.4h0.9m-12.1 14.2h0.9m-9.3-8.3h0.9m-22.7 17.1h0.9m23.3-13.5h0.9m38.5 11.5h0.9m-62.6 1.7h0.9m31.9-23.4h0.9m22.7 19.1h0.9m-10.3 19.2h0.9m-0.4-24.9h0.9m-4.3-14.1h0.9m-38.1 16.4h0.9m45.9 14.2h0.9m-0.1-21.2h0.9m-47.1-22.2h0.9m15 30.5h0.9m6.2-11.7h0.9m-8.5 3.6h0.9m-4.3 17.4h0.9m-1.3-8.1h0.9m19.5-25.1h0.9m-20.4 34.3h0.9m25-15.4h0.9m-27.3-39.8h0.9m-7.5 64.3h0.9m22.6-8.7h0.9m-9.1-38.9h0.9m5.9 17.1h0.9m1.3 27h0.9m-3.8-12.4h0.9m-8.3-25.7h0.9m16.7 6.4h0.9m-3.7 31.5h0.9m-19.7-24.3h0.9m-21.4-20.4h0.9m5.3 46.4h0.9m16.5-37.4h0.9m16 12.5h0.9m-26.8 12.3h0.9m25.1 16.9h0.9m-13-49.2h0.9m-15.3 16h0.9m13.1 9.2h0.9m-11.3 24h0.9m18-31.4h0.9m2.6-21.1h0.9m-20.7-0.1h0.9m-13.8 1.3h0.9m37.9 57.7h0.9m-40.7 0.5h0.9m23.3-48.7h0.9m-15.7 38.6h0.9m-8.6-26.6h0.9m19.6 11h0.9m-15.3 24h0.9m-6 1.8h0.9m42.8-30.8h0.9m-18.5 18.5h0.9m-22.6-34.9h0.9m15.7 39.4h0.9m7.8-25.5h0.9m-14.7 12.7h0.9m13.8-36.7h0.9m-22.2 41.1h0.9m14 14.3h0.9m7.5-20.1h0.9m-9.5 9.3h0.9m24.4-20.4h0.9m-21.6-9.6h0.9m-4.3 14h0.9m-10.6 28.7h0.9m7.1-14.1h0.9m12.5-27.4h0.9m-25.3 30.7h0.9m-6.4 8.8h0.9m3.3-24.3h0.9m-0.2 16.4h0.9m16.2-1.4h0.9m16.6-25.5h0.9m-53.1-3.1h0.9m-9.6 34.6h0.9m13.8-49.5h0.9m19.9-6.3h0.9m1.6 6.3h0.9m-14.5 22.8h0.9m18.1 15.5h0.9m-19.7 15.1h0.9m-3.2-24.6h0.9m-2.8 4.2h0.9m3.7-12.8h0.9m7.2 14.4h0.9m-2.2 4.7h0.9m1.7-23.2h0.9m4.5-7.6h0.9m-5.5 13.7h0.9m22.3 8.6h0.9m-24.9 5.6h0.9m8.6-23.6h0.9m-37 12.2h0.9m26.5-0.9h0.9m-7-12.6h0.9m1.5 15.6h0.9m3.2 13.4h0.9m-24-46.7h0.9m33.9 22.3h0.9m-31.9-15.4h0.9m23.1 30.6h0.9m-23.5 7.9h0.9m19.4-45h0.9m-15.4 10.9h0.9m5.1 32h0.9m-28.6-1.9h0.9m19.8-20.4h0.9m10.7-2.2h0.9m-28.7 22.7h0.9m27.1 10h0.9m9.8-10.4h0.9m5.2-24.3h0.9m4.3 12.8h0.9m-3.5-15.7h0.9m16.7-1.8h0.9m-24.7 1.1h0.9m-5.2 12.9h0.9m-29 9.3h0.9m51.1-62.9h0.9m-82.1 67.9h0.9m57.2-0.3h0.9m-25-19.4h0.9m30.8 11.9h0.9m3.4 2.1h0.9m-25.8 24h0.9m-6-56.6h0.9m7.6 43.5h0.9m12.1 1.2h0.9m-19.2-0.6h0.9m39-3.8h0.9m-32.5-39.6h0.9m14.1 51.3h0.9m-12.3-51.4h0.9m-10.9 26.4h0.9m20.8-3.1h0.9m-28.7 7h0.9m0.4-7.2h0.9m-4.1-13h0.9m15.2 23.8h0.9m-1.4 23h0.9m-24-33.4h0.9m14.8 14.8h0.9m4.4-8.4h0.9m0.4 12.6h0.9m-19.3-12.9h0.9m24.5-11.7h0.9m-35.4 7.2h0.9m8.5 32.5h0.9m19.8-25.6h0.9m-48.2 3.6h0.9m60.3 2.7h0.9m-55 13.2h0.9m41.8-43.2h0.9m-9.2 33.1h0.9m17.1-23.2h0.9m-46 15.2h0.9m29.9 24.1h0.9m4.5-3h0.9m-0.6-23.2h0.9m-0.2-6.8h0.9m-19.8-54.1h0.9m3.4 59.6h0.9m14.2-17.7h0.9m-11.4 8.8h0.9m4.8 9.4h0.9m-4.9 18.9h0.9m-8-27.8h0.9m10.8 3.6h0.9m-21.8 10.2h0.9m-13.2-5.9h0.9m23.5-1.4h0.9m0.7-18.1h0.9m-5.4 26.9h0.9m-3.6-7.9h0.9m-34.5 13.8h0.9m59 4.8h0.9m-31.4-36.9h0.9m10.4 30.7h0.9m-5.8 0.8h0.9m-12.2 8.7h0.9m25.4-0.7h0.9m-38.5-60.6h0.9m24 50.1h0.9m16.7-20.1h0.9m-26-5.5h0.9m14.9 3.6h0.9m-19-21h0.9m2.1-0.3h0.9m20.4 49.7h0.9m-6.9-30.1h0.9m13.3 10.2h0.9m-69.7 7.3h0.9m41 17.9h0.9m9.5-25.6h0.9m-7.2-23.8h0.9m7.4 40.7h0.9m6.9-24.7h0.9m-27.3-6h0.9m15.3 16.7h0.9m13.6-5.3h0.9m-18 14.7h0.9m9.4-1.7h0.9m-41.3 3.2h0.9m31.4 15.1h0.9m-10.1-7.8h0.9m-35.4-49.9h0.9m45.2 14.5h0.9m-21.7-0.4h0.9m18.5 13.2h0.9m-14.5 27.7h0.9m1.1-42.7h0.9m24 4.7h0.9m-18.8 4.9h0.9m20.9 31.9h0.9m-16.6-15h0.9m6.9-26.6h0.9m-12.8 35.1h0.9m-6.7-13.3h0.9m8.9-20.5h0.9m-28.6 17.4h0.9m-2.1-15.7h0.9m28.3 8.1h0.9m6.6-4.6h0.9m-19.9 14.2h0.9m26.1 0.5h0.9m0.6-29.5h0.9m-23.1 51.2h0.9m-5.3 5.1h0.9m-6.1-18.4h0.9m-2.2 14.5h0.9m19.2-23.3h0.9m-22.7 25.1h0.9m-4-5.9h0.9m-2.6-61.2h0.9m16.4 61.5h0.9m-2.4-28.8h0.9m9.1 10.9h0.9m-15.5-33.2h0.9m-17.7 38.2h0.9m12.2-33h0.9m7.7 28.6h0.9m-11.6-11h0.9m13.6 2.1h0.9m-5.5 21.9h0.9m19.5-3.9h0.9m-7.1-26.5h0.9m-14.8-9.3h0.9m-0.3 21.4h0.9m3.9-16.2h0.9m8 24h0.9m6.2-10.9h0.9m-24.7-0.6h0.9m1.9-12.2h0.9m9.1 20.2h0.9m-23-11.6h0.9m34.2 20.1h0.9m6.5 2.8h0.9m-22.1 0.4h0.9m14.7 1.2h0.9m-20.1 4.3h0.9m-35.1-17.9h0.9m18.9-30.2h0.9m-0.4 1.5h0.9m-0.6 46h0.9m-9.8-12.5h0.9m24.5 2.2h0.9m-24.1-34.2h0.9m19.4 1.4h0.9m-7.1 30.8h0.9m4.5-6.6h0.9m-13 11h0.9m4.2-21.1h0.9m33.6 6.3h0.9m-29.4-1.6h0.9m18.3 16.3h0.9m-4.2-26.7h0.9m18.8 12.2h0.9m-59.2 16.1h0.9m38.8-15.4h0.9m-22.6 7.8h0.9m-4.2 13.8h0.9m-12.2-18.7h0.9m22.4 6h0.9m-28.7-1.4h0.9m25.4-23.2h0.9m-41.7 8.3h0.9m20.4 22.8h0.9m10.2 4.1h0.9m1.5-18.8h0.9m-16.6-17.4h0.9m-4.3 18.9h0.9m14.3 19.2h0.9m-9-45h0.9m3.8 32.4h0.9m15.9 4.8h0.9m-19.6-41.4h0.9m16.5 27.4h0.9m-19.7-12.4h0.9m-2.6-6.4h0.9m5 13.8h0.9m18.5-14.9h0.9m-36.4 38.3h0.9m-3.6-9.2h0.9m52.1 23h0.9m-42.8-25.7h0.9m4.3-13.4h0.9m29.2 9.1h0.9m-5.3 22.8h0.9m-36.1-13.4h0.9m16.6-21.4h0.9m2.2-9.4h0.9m6.7 41.7h0.9m-39.8-2.8h0.9m37.3-17.4h0.9m-30 13.4h0.9m21.2-32.7h0.9m-20 35.7h0.9m-7.6-1.9h0.9m9.5 3.9h0.9m10.8-12.5h0.9m6.3 22.2h0.9m-2.3-37.1h0.9m-18.9 13.1h0.9m22.1-13.9h0.9m-12.1-4.7h0.9m33.3-7.1h0.9m-38.9 41.5h0.9m43.1-47.9h0.9m-37.4 2.2h0.9m5.7 35.2h0.9m-11-7.1h0.9m8.4 4h0.9m-9.9-2.1h0.9m29.7-30.7h0.9m-26.1 41.5h0.9m-22.3-22.5h0.9m15.3 29.8h0.9m-20.3-3.3h0.9m26.7-17.3h0.9m-28 19.8h0.9m0.1-30.6h0.9m23.1 33.6h0.9m-4.8-10.3h0.9m4-31.8h0.9m-7.8 17.6h0.9m44.8 19.6h0.9m-43.3-7.6h0.9m-12-21.5h0.9m16.3-30.4h0.9m2.4 16.2h0.9m-10.9 26.7h0.9m19-1.8h0.9m-21 28.3h0.9m10.3-45.6h0.9m-40.4 2h0.9m45.9 26.9h0.9m-15.5-17.8h0.9m4.1-0.6h0.9m-13.7 33h0.9m-23.9-42.7h0.9m7.9 40.4h0.9m28.5-14.3h0.9m-17.6-17h0.9m-8.3 32.4h0.9m4.7-40.8h0.9m32.5 43.2h0.9m-40.4-25.6h0.9m-13.9 25.8h0.9m23.4-19.4h0.9m23.9 19.8h0.9m-24.6-45.1h0.9m-7.5 8.5h0.9m0.6 24.9h0.9m18.9-10.7h0.9m-33.9 1.4h0.9m18.1-1.4h0.9m10.4 3.8h0.9m13.5 10h0.9m0.1-13.9h0.9m-28.2 19.6h0.9m-3.7-57.3h0.9m3.7 36.6h0.9m-8.1 18.8h0.9m10.9-39.3h0.9m-38.9 6.1h0.9m36.9 26.6h0.9m-0.3-18.3h0.9m-26.7-5.5h0.9m37 1.3h0.9m-42.5-15.3h0.9m15.3 37.1h0.9m21.2-4.2h0.9m-26.7 1.8h0.9m22.5 15.2h0.9m-15.4-25.2h0.9m-4.9 7.7h0.9m12.2-43.5h0.9m-45 53h0.9m63.3-9.6h0.9m-33.1-31.7h0.9m28.4 17.3h0.9m-38.7 30.9h0.9m48.1-20.8h0.9m-39.5-17h0.9m-8.2 24.7h0.9m-3.2-40h0.9m-1.3 43.2h0.9m20-9.3h0.9m-21.6-30h0.9m22.1 30.8h0.9m-11.3-17.8h0.9m8.7 4.5h0.9m-16.9 18.4h0.9m-1.6-0.8h0.9m13.2-1.7h0.9m-19.9-10.9h0.9m0.5-19h0.9m21.3 33.9h0.9m-18-6.3h0.9m-12.3-15.6h0.9m-7-0.8h0.9m52.5 35.6h0.9m-31.8-66.8h0.9m2 46.4h0.9m10.4-19.3h0.9m1.2 21h0.9m-41.5-20.6h0.9m8 24h0.9m-18.2 14.6h0.9m20.2-34h0.9m13.3 1.6h0.9m6.5 14.7h0.9m-13.1 8.7h0.9m-2.4-22.4h0.9m7-1.2h0.9m-20.4-11.7h0.9m3.1-25.6h0.9m9.1 67.3h0.9m3.7-24.9h0.9m-6.6-18.6h0.9m7.2 39.2h0.9m14.4 0.5h0.9m-32.9-3.8h0.9m39.2-24.9h0.9m-27.4 16.3h0.9m-7.5-24.2h0.9m3.8 32.9h0.9m-8-25.5h0.9m17.5 34.5h0.9m-5.8-13.4h0.9m-6.8-35.8h0.9m-5.1 47.9h0.9m11.7-3h0.9m-9-2.4h0.9m-24.9 3.4h0.9m32.1-21h0.9m5.7 4.9h0.9m-27.9-7.1h0.9m0.7-31.4h0.9m19.6 43.6h0.9m2-40.7h0.9m-20.7 10.8h0.9m8.5 7.7h0.9m4.4 13.5h0.9m-5.6-13.7h0.9m-30.6 34.8h0.9m19.1-13.6h0.9m1-22.7h0.9m-9 17.4h0.9m6.4 1h0.9m6.4 10.2h0.9m10.5-7.9h0.9m-16.2 5.1h0.9m2.3-56.1h0.9m-8.2 25.5h0.9m24.1 24.9h0.9m-20.1-33.9h0.9m-22.2 34.8h0.9m27.2-8h0.9m-28.5-23.1h0.9m12.6 11.1h0.9m-0.2 28.2h0.9m38.8-17.1h0.9m-48.9-17h0.9m28.3 31.9h0.9m11.6-6.7h0.9m-61.2 3.4h0.9m21-6.7h0.9m26.5-38h0.9m-22.8 55.3h0.9m24.5-23.7h0.9m-19.5-38.3h0.9m-3.6 64.9h0.9m1.3-9.6h0.9m-18.1-28.7h0.9m4.6 31.1h0.9m7-47.9h0.9m-20 23.1h0.9m31.4 9.4h0.9m-30.1 1.5h0.9m33.4 6.7h0.9m-6.6-30.9h0.9m-30.4 29.3h0.9m47.9-3.8h0.9m-24.1-3.6h0.9m-38.9-33.4h0.9m32.3 36.8h0.9m-1.2-42.1h0.9m-5 62.2h0.9m9.7-22.7h0.9m-35.8 11.2h0.9m16.8-30h0.9m28.8-1.7h0.9m-39 35h0.9m33.1-21h0.9m-6.2-8.7h0.9m7 16.8h0.9m17.4-16.5h0.9m-20.7 17.9h0.9m-12.3-11.7h0.9m-21.9 21h0.9m7.7-32.5h0.9m-22.8 45.6h0.9m46.2-35.3h0.9m-3.4-18.1h0.9m-35.2 5.3h0.9m45.3 16.5h0.9m-59.1-5.1h0.9m40-19.8h0.9m3.2 0.6h0.9m-17.6 31.6h0.9m-12.7 5.9h0.9m-7.4-2.8h0.9m2.2 6.1h0.9m7.8-21.3h0.9m-2.6-6h0.9m2.3-14.7h0.9m-8.3 51.5h0.9m14.8-24.8h0.9m1.2-11.2h0.9m3.9 27.9h0.9m6.3-16.8h0.9m-23.9-0.2h0.9m-11.9-29.5h0.9m37.2 40.7h0.9m5.6-22.7h0.9m-30.3 17.1h0.9m30.3-21.3h0.9m-51.7 19.4h0.9m48.7 15.5h0.9m-12.5-2.8h0.9m-5.7-11.4h0.9m-13.1-0.8h0.9m-6.6 3.8h0.9m14.1 6.7h0.9m1.9 6.4h0.9m-5.8-21.2h0.9m-5.9 23.9h0.9m-23.5-18.1h0.9m1.1 20.1h0.9m33.6-52.8h0.9m-2.1 51.8h0.9m5.7-23.7h0.9m-14.1-0.4h0.9m-30.4-20.3h0.9m31.7 48.2h0.9m18.1-29.4h0.9m-35.4-24.6h0.9m3.5 12.7h0.9m-21.6-0.3h0.9m18.3-29.7h0.9m-8.7-0.1h0.9m-1.7 63.3h0.9m6.2-38.2h0.9m3.6 5h0.9m-5.9-3.9h0.9m1.9 14.3h0.9m-9.1 18.7h0.9m4.2-6.4h0.9m13.4-5.4h0.9m-18.6-9.6h0.9m-2.6 0.4h0.9m2.6 13.7h0.9m8.2-16.5h0.9m-6.8 34.4h0.9m27.1-45.4h0.9m-20.2 37.2h0.9m-22.9-13.5h0.9m32.9-12.5h0.9m-20.8 26.7h0.9m6.2 5.8h0.9m-9.1-19.2h0.9m-9.7-0.5h0.9m13-29.8h0.9m-12.7 18.7h0.9m9.3 8.5h0.9m26-0.4h0.9m6.2 13.2h0.9m-24-21.2h0.9m-22.1 3.1h0.9m-6.8-38.5h0.9m-4.3 5h0.9m16.9 22.7h0.9m15.3-26.7h0.9m-21.6 5.6h0.9m17.2 31.1h0.9m6.1 13.7h0.9m-28.5-12.6h0.9m24.3 14.1h0.9m-11.3 9.6h0.9m-7.7-11.9h0.9m32.3 0.8h0.9m-40.2-10.3h0.9m10.7-5.2h0.9m-12.4-34.5h0.9m-1.5 63.5h0.9m39.7-18.3h0.9m-69.8 9.3h0.9m27.5-39.4h0.9m5.8 12.2h0.9m17 9.2h0.9m-24.3-14.8h0.9m10.3 26.7h0.9m-44.7 2.4h0.9m34.9-4.5h0.9m14.4 15.1h0.9m-8.6-12.5h0.9m28.3-1.9h0.9m-55.5-14.2h0.9m13.1 11.8h0.9m-9.9-51h0.9m13.8 58h0.9m-1.4-23.6h0.9m11.5 17.9h0.9m0.2-16.3h0.9m-23.7-7.4h0.9m-12 10.1h0.9m20.9-5.5h0.9m-0.5 32.3h0.9m-22.3-19.8h0.9m-6.4-8h0.9m39.2 27.3h0.9m-8.2-15.8h0.9m-4.5 19.7h0.9m-12.3-24.8h0.9m-14.4 22.2h0.9m30.1-28.1h0.9m-19.7 35.1h0.9m-24.3-61.8h0.9m56.9 42.5h0.9m-32.7-30.2h0.9m35.8 16.9h0.9m-15.3 27.6h0.9m-7.7-45.4h0.9m-14.2 6.7h0.9m7.1 44.9h0.9m18.4-2.6h0.9m-61.5-54.9h0.9m58.3 56.3h0.9m-15.5-17.8h0.9m8 12.7h0.9m-1.9-25.2h0.9m-12.3 0.1h0.9m-17.4 13h0.9m46.5-24.2h0.9m-30.8-0.4h0.9m-4.9 31.4h0.9m5.4 1.4h0.9m-0.5-32.6h0.9m18.8 5.1h0.9m-37.8 23.9h0.9m-4.6-1.5h0.9m10-2.8h0.9m-12.7-21.8h0.9m3.6 7.9h0.9m0.2 19h0.9m5.8-33.7h0.9m-5 22.7h0.9m-2.1-17.9h0.9m-3.6 9.1h0.9m45.6 11.6h0.9m-3.4 22.5h0.9m-8.8-39.4h0.9m-10.3 17.7h0.9m-21.6 6.7h0.9m12.8 4.3h0.9m-15.3-51.3h0.9m10.5 54.8h0.9m-18.1-7h0.9m9.2-5.4h0.9m-11.1-8.8h0.9m17.5 22h0.9m24.9-16.5h0.9m-13.9 6h0.9m-26-2h0.9m6-28.7h0.9m-3.4-33.7h0.9m-3.1 63.1h0.9m-18.1-7h0.9m26-21h0.9m-13.2 23.9h0.9m3.6-12.5h0.9m13.6 7.8h0.9m-8 1.9h0.9m2.4 2.3h0.9m-29.5-10h0.9m43.6 24.5h0.9m-25.7-39.9h0.9m11.5 12.4h0.9m39.2 11.1h0.9m-30.3-8.9h0.9m-23.2 9.1h0.9m15.5-2h0.9m-23.1-16.7h0.9m-24.7 14.7h0.9m45.6 19.9h0.9m-4.2-31.3h0.9m-18.7-18.4h0.9m2.9 30.4h0.9m-3.2 4.6h0.9m-2.3-9.8h0.9m11.1 12.2h0.9m11-12.3h0.9m-24.5 19.8h0.9m9.2-24.4h0.9m-2.2 29h0.9m-11.7-18.6h0.9m9.3 25.7h0.9m-23.3-40.3h0.9m37.5 20.7h0.9m-33.9 8.6h0.9m37.9-36.4h0.9m-39.5 3h0.9m7.1 29.1h0.9m-20.3 6h0.9m31.7-19.5h0.9m-19.1 20.5h0.9m8.4-36.8h0.9m15.5-7.6h0.9m-29.6 33.6h0.9m-2.1-25.5h0.9m16-12.2h0.9m-1 16h0.9m10.7 27.3h0.9m1.1-6.2h0.9m-27.6 3.8h0.9m25.9-30h0.9m-7.3 34.2h0.9m11.7-26.4h0.9m-38.8 11.1h0.9m36.2-10.7h0.9m-38.8-7.9h0.9m-5.5 8.4h0.9m16.1-21.4h0.9m26.2 48.3h0.9m-51-50.9h0.9m67.8 31.3h0.9m-37.4 24.5h0.9m-44.5-40.6h0.9m33.6 23.6h0.9m-5.9-6.1h0.9m-11.3-9.2h0.9m14.9 8.6h0.9m-12 21.7h0.9m3.9 5.3h0.9m32.3-27h0.9m-17.1-15.6h0.9m-3.7 41.9h0.9m25.9-26.1h0.9m-31.3 4.9h0.9m-2.3-6.7h0.9m-5.3 27.9h0.9m5.9-65.5h0.9m4.7 21.2h0.9m4.3 22.3h0.9m-26.2-17.7h0.9m-14.8 14.1h0.9m-0.4 30.6h0.9m31.6-3.2h0.9m-4.6-27.1h0.9m-11.8 11.9h0.9m17.1-2h0.9m-9.4-25.5h0.9m-40.2-32h0.9m29.1 64.7h0.9m2.2-30.2h0.9m-14.9 10.9h0.9m-18.8-24.6h0.9m28.2 47.6h0.9m-0.6 4.8h0.9m2.8-13.3h0.9m2-6.8h0.9m-22.9-8.4h0.9m46.3 21.4h0.9m-37.9-28.4h0.9m8.1 11h0.9m-25.1-15.2h0.9m-31.5 24.9h0.9m39.9-6.9h0.9m32.4 15.6h0.9m-22.5 8.1h0.9m-12.5-45.5h0.9m-11.4 31h0.9m-2.7 4.6h0.9m-5.5-29.7h0.9m30.5 38.3h0.9m1.8-9.7h0.9m-7.5-1.6h0.9m1.8-14.4h0.9m8.5 12h0.9m-14.1-45h0.9m24.3 26.8h0.9m-13.7 3h0.9m-36.2-39.5h0.9m29.6 25.5h0.9m-9.4-0.4h0.9m-9.7-7.6h0.9m31.4 19h0.9m-6.9 19.1h0.9m1.1-10.5h0.9m-27.2-15.6h0.9m8.7 26.2h0.9m0.2-9h0.9m24.8 24.5h0.9m-53.1-35h0.9m12.6-3h0.9m30.9 29.7h0.9m-31-36.6h0.9m12.3-10.7h0.9m12.3 29.1h0.9m-2.8 11.6h0.9m-24.4-40.9h0.9m5.2 52.1h0.9m15.7-56h0.9m5.1 21.7h0.9m-21.1 13.6h0.9m6.5 3.2h0.9m-16.8-11.1h0.9m-4.8 1.6h0.9m34.4 29.1h0.9m-20.9-15h0.9m10.1-4.6h0.9m-35.1 1.1h0.9m44.3-44.6h0.9m-23.3-15.2h0.9m3.1 50.3h0.9m0.4-19.2h0.9m40 24.8h0.9m-23.5 0.4h0.9m-9.2-33.7h0.9m-9.6 37.3h0.9m22-0.9h0.9m-40.5 3h0.9m22.9-20.6h0.9m-36.2 25.7h0.9m6.4 0.7h0.9m3.3-2h0.9m1.9-15.4h0.9m56.7 27.4h0.9m-25.3-23.5h0.9m-6.3-15.3h0.9m-21.3-0.4h0.9m12.9 27.2h0.9m-29.1-35.7h0.9m10.6 38.7h0.9m0-42.5h0.9m5.5 26.5h0.9m4.9 13.1h0.9m-17.3-25.9h0.9m0.2 35.7h0.9m-18.6-26.3h0.9m29.1 5h0.9m-27-38.8h0.9m29.6 9h0.9m-15.6-9.1h0.9m8.3 54.8h0.9m-0.5-24.5h0.9m-5.4 31.6h0.9m12.9-70.5h0.9m-14.7 57h0.9m-9.6-49.5h0.9m-13.4 24.5h0.9m11.3 14.5h0.9m18.8-8.8h0.9m-19.2 17h0.9m-1.9-18.5h0.9m16.3 6.4h0.9m11.5-17.9h0.9m-64.5 40.1h0.9m58.2-15.9h0.9m-23.4 8.4h0.9m7.6-10.2h0.9m-24.6 19.6h0.9m45-33.1h0.9m-1.5 13.5h0.9m-31.7-23.2h0.9m27.4 46h0.9m-33.1-10.1h0.9m4.1-63.7h0.9m12.5 27.4h0.9m-24.2-13.3h0.9m20.8 43.5h0.9m22.3-8.8h0.9m-30 1h0.9m-11.7 2.6h0.9m29.3-13.2h0.9m-28.8 23.3h0.9m-6.7-28.3h0.9m27.1 13.6h0.9m-2.4-14.6h0.9m-11 23.2h0.9m11.8 16.4h0.9m-36.1-48.2h0.9m24.2 22.6h0.9m-12-5.5h0.9m21.9-8h0.9m-31-38.5h0.9m9.5 81.8h0.9m38.8-5.2h0.9m-19.1-19.3h0.9m-5.4-2.3h0.9m-13.5 27.2h0.9m23.9-37.5h0.9m-8.8 5.2h0.9m10.1 10.3h0.9m-45.5-19.5h0.9m-2.1 36.1h0.9m40.2-19.3h0.9m-22.7-38.2h0.9m-2 63.4h0.9m-8.7-44.4h0.9m4.5 1.3h0.9m-9.1 12.6h0.9m33.8 12.6h0.9m-4.9-2.6h0.9m-29.1 1.5h0.9m8.2-38h0.9m1.9 8.9h0.9m-6.8-10.1h0.9m7-1.1h0.9m-17.1 26.4h0.9m4.6 31.6h0.9m-0.8-21.5h0.9m19.5 6.5h0.9m-24.2 9.1h0.9m1.5-33.6h0.9m-14.1 39h0.9m16.5-4.8h0.9m14.9-29.5h0.9m17.3-9.4h0.9m-33.7 16.2h0.9m2.6-5.9h0.9m7.9 31.4h0.9m2.9-9h0.9m-52.2 0.4h0.9m35.8-6.7h0.9m-21.9-3.7h0.9m-3-41.8h0.9m-2.7 58.6h0.9m25.5-38.4h0.9m-16.5-1.7h0.9m14.3 22h0.9m-5.2-23.4h0.9m-20.7 32.3h0.9m7.6-4.7h0.9m21.8-3.9h0.9m1.6-6.6h0.9m0.8 20.3h0.9m1.5-8.4h0.9m-45 3.6h0.9m20-26.8h0.9m9.5 14h0.9m24-17.5h0.9m-31.6 17.7h0.9m-17.8-10.5h0.9m16.5 9.9h0.9m25-1.5h0.9m-28.6 1.7h0.9m-0.5 19.8h0.9m-19-4.2h0.9m17.9-39.9h0.9m-13.7 23.1h0.9m16 6h0.9m-14.1-16.4h0.9m-7.1 20.1h0.9m22.2-19.4h0.9m-15.8 13.6h0.9m-11.1-17.7h0.9m48.8 11.8h0.9m-52.9 19.5h0.9m8.5 2.1h0.9m0.4-15.2h0.9m-1.8 6.9h0.9m15.5 7.5h0.9m6.8 10.2h0.9m30.3-44h0.9m-53.6 31.1h0.9m17.2-9h0.9m-2.3 8.3h0.9m5.7 7.3h0.9m15.4-39.8h0.9m-31.8 21.5h0.9m-5.6-7.2h0.9m23-41.5h0.9m-19.5 66.7h0.9m5-23.6h0.9m-11.9-31.6h0.9m4 38.1h0.9m2.2-30.9h0.9m3.1 50.9h0.9m32.9-30.3h0.9m-32.7-11.8h0.9m21 22.7h0.9m-23 5h0.9m-27.1 4.9h0.9m9-29.9h0.9m10.6 37.5h0.9m15-26h0.9m-46.6-33.4h0.9m37.9-14.3h0.9m-0.2 50.6h0.9m0-0.4h0.9m-10.7 0.6h0.9m-1.3 8.2h0.9m-3.8-6.7h0.9m-10.1 3.3h0.9m28.6-15h0.9m14.4 8.4h0.9m-43.1 16.5h0.9m5.5-0.1h0.9m-1.4-49.7h0.9m2.9 55.4h0.9m2.6-3.8h0.9m-8.8-44.7h0.9m-10.4 4.4h0.9m36.5 36.1h0.9m-28.5-50.6h0.9m3.4 21.2h0.9m-9.8 32.9h0.9m21-1h0.9m-41.8-13.1h0.9m10.8 14.3h0.9m43.3 4.9h0.9m-33.9-20.4h0.9m-15.6-18.6h0.9m12.6-1.4h0.9m4.3 15h0.9m-10.5-10.7h0.9m4.6-1.8h0.9m-2.8-14.2h0.9m2.1 28.3h0.9m4.1-29.5h0.9m-5.3 29h0.9m-27.1-30.8h0.9m43.5 27.3h0.9m-18.9 21h0.9m-23.3-28.7h0.9m30.1 22.6h0.9m15-2.9h0.9m-26.9-16.5h0.9m-2.3-21.2h0.9m23.4 51.4h0.9m-19.3-30.7h0.9m-33.7 34.1h0.9m35.1-7.2h0.9m-28-38.2h0.9m13.2 39.5h0.9m9.8 9.8h0.9m-10.5-21.5h0.9m15 3.6h0.9m-19.9 6.8h0.9m17.6 13.2h0.9m-11.5-17.1h0.9m-31.3 5.2h0.9m53.8-10.4h0.9m-25.7 1.8h0.9m4.1-17.7h0.9m12.8 7.2h0.9m-30.1-11.4h0.9m35.9 2.2h0.9m-38 12h0.9m-10.2-39.3h0.9m26.8 52.8h0.9m-20.9-23.1h0.9m36.7 34.7h0.9m-42.3-27h0.9m-4.3-15h0.9m-14.8 20.2h0.9m18.3-29.2h0.9m26.3 2.5h0.9m-6.3 25.9h0.9m-12.5 10.8h0.9m10.5 10h0.9m-37.3-24.4h0.9m7.4 17h0.9m20.2-4.8h0.9m-1.4-36.8h0.9m1.1 32.6h0.9m-14.5 0.3h0.9m-0.6 9.4h0.9m17.6-36.9h0.9m1.8 42.3h0.9m-43.5-20.4h0.9m64.9 10.9h0.9m-30.6-6.6h0.9m-1.9 5h0.9m-11.8-27.5h0.9m23.9 27.3h0.9m-1.1 7.4h0.9m-17-24.7h0.9m37-0.9h0.9m-33.6-1.2h0.9m-8.3-19.7h0.9m10 24.6h0.9m12.7 19.7h0.9m-39.6-31.3h0.9m17.1 24.7h0.9m-12 0.1h0.9m-11.1-17h0.9m36.7 4.6h0.9m-19.2 0h0.9m-6.1 20.6h0.9m7.9-6.7h0.9m-15.1-30.7h0.9m29.6 28.6h0.9m13.8 18.2h0.9m-42.3-13h0.9m2.9-12h0.9m6.3-7.9h0.9m-24 19.8h0.9m-10.2 14.7h0.9m44-31.7h0.9m-23.2 19.5h0.9m7-55.8h0.9m-20.9 6.5h0.9m9.6 49.8h0.9m-12.1 0.1h0.9m-8.8 6.6h0.9m21.6-58h0.9m16.7 62.3h0.9m-0.7-1.5h0.9m-5.4-41.5h0.9m-22.6 21.3h0.9m9.6 0.8h0.9m-12.5-14.6h0.9m16.4 21h0.9m13.6 14.1h0.9m-28.9-21.8h0.9m-26.3-47.4h0.9m39.3 10.2h0.9m-7.4 18.2h0.9m-3.7 29.2h0.9m4-5.4h0.9m11.4-17.3h0.9m-49.2-11.4h0.9m45.8 17.1h0.9m-11.7-8.1h0.9m11.8-14.7h0.9m-14 40.7h0.9m-24.2-8.1h0.9m16.4-33.6h0.9m13.5 38.1h0.9m0.4-18.7h0.9m-14.8 15.5h0.9m4.3-9.7h0.9m-9.1 20.8h0.9m9.3-37.3h0.9m24.3 43h0.9m3.6-78.5h0.9m-19.9 62.3h0.9m-23.1-43.5h0.9m-11 55h0.9m16.1-79.9h0.9m22 57.9h0.9m-25.4-0.1h0.9m18.5 16.3h0.9m-4.9-29.3h0.9m-15.3 5.2h0.9m14.5 23.8h0.9m-32.2-4.6h0.9m9.2-47.1h0.9m14.6 58.6h0.9m-9.6-14.6h0.9m-16.4 2.8h0.9m29.2 7.2h0.9m-9.5-23.2h0.9m-7.6-28.1h0.9m19.3 31.6h0.9m-7.3-0.8h0.9m-51.4 0.5h0.9m38.9-0.1h0.9m-0.7 7.9h0.9m-9.9-13h0.9m-28.6-10.6h0.9m20.9 19.5h0.9m-21.5 26.9h0.9m66-22.6h0.9m-35.6-6.9h0.9m8.3 12h0.9m-26.5-15.3h0.9m-13.2 23.5h0.9m23.5 1.6h0.9m-4.5-17.2h0.9m1.2-7h0.9m43.1-0.3h0.9m-24-22.6h0.9m9.9 38.8h0.9m-25.2 3.5h0.9m3.5 7.8h0.9m17.6-7.2h0.9m-31.6-11.3h0.9m11.6-16.6h0.9m-14-3.8h0.9m12.6-3.1h0.9m-29.1 7.1h0.9m9.8-8.6h0.9m13.4 12.1h0.9m1.6 6.5h0.9m6.1 12.3h0.9m-35-46.8h0.9m25 49.7h0.9m-28 11.4h0.9m16.2-32.2h0.9m5.6 12.9h0.9m-2.7 6.6h0.9m29.5 16.3h0.9m-31.8-49.8h0.9m11.3 39.4h0.9m-8.4-24.8h0.9m-7.5-24.2h0.9m7.7 1.8h0.9m-5.7 7.7h0.9m0.4 30.2h0.9m-7.2-19.5h0.9m-0.9 38.3h0.9m-5.2-24.2h0.9m11.1 20.1h0.9m-5.4-37.3h0.9m22.1 9h0.9m-44.7 8h0.9m50.5 6.9h0.9m-31.2-13.5h0.9m6.1 4.7h0.9m-22.1-5h0.9m-1.8 27.4h0.9m-4.3-36.7h0.9m21.4 27.9h0.9m-14.5 6.9h0.9m0.5-45.2h0.9m11.5 21.5h0.9m0.5-31.8h0.9m-17.3 18.1h0.9m16.8 24.1h0.9m-15.2-22.8h0.9m41.2 39.3h0.9m-2.4-3.2h0.9m-59.3-31.8h0.9m38.2 9.9h0.9m-31.8-35.2h0.9m21.4 19.9h0.9m-16.9 23.5h0.9m-6.8-0.5h0.9m-4-12.5h0.9m7 5.1h0.9m13 16.5h0.9m25.9-21.8h0.9m-33.7 15.9h0.9m-15.7-19.1h0.9m23.8 8.7h0.9m-31-36.4h0.9m6 29h0.9m20.5 9.8h0.9m4.6-3.9h0.9m-11.2-8.9h0.9m3.5-9.2h0.9m-22.4 24.7h0.9m17.1-6.5h0.9m5.6 8.6h0.9m4.3-21.6h0.9m-22.2 28.2h0.9m-2.9-35h0.9m12.1-8.1h0.9m23.4 53.9h0.9m-15.3-46.7h0.9m-49.2 29.1h0.9m29.3-11.5h0.9m6.2 18.3h0.9m-11.8-41.5h0.9m25.8 47.3h0.9m-37.3-25.4h0.9m41.2-18.6h0.9m-49.1 31.9h0.9m-0.4 14.3h0.9m25.6-37.4h0.9m-1.1 7.3h0.9m23.9 27.3h0.9m-29.1-22.1h0.9m12-13.4h0.9m-38.8 42.6h0.9m8-30.9h0.9m-0.3 11.5h0.9m33.9-34.2h0.9m-17.6 25.9h0.9m16.6 11.1h0.9m-24.2-15.9h0.9m22.6-1.6h0.9m-22.1 8.8h0.9m33.7 6.6h0.9m-34.8-3.7h0.9m-2.5 23.6h0.9m-25.5-35.4h0.9m32.4 30h0.9m11.8-59.6h0.9m-20.6 32.7h0.9m8.1-25.6h0.9m-5.7 43h0.9m39.8-23.1h0.9m-55.5-11.7h0.9m-2 40.5h0.9m29.8-40.7h0.9m-8 36.4h0.9m-20.4-7.2h0.9m8.1-10h0.9m9.2 22.3h0.9m1.5-37.7h0.9m-20-14.1h0.9m-8.4 12h0.9m21.5 4.8h0.9m-5.9 7.8h0.9m-5.5 0.5h0.9m13.2 19.8h0.9m-6.2-10.3h0.9m-7.5 7.8h0.9m10.6-21.4h0.9m-44.1 22.8h0.9m22.4-25.7h0.9m27 10.7h0.9m-17.9 12.2h0.9m5.7-10.9h0.9m-14.7 8.3h0.9m13.5-3.9h0.9m-5.9 9.6h0.9m38.9-25.7h0.9m-31.8 22.7h0.9m-11.6-17.3h0.9m-33 17.4h0.9m16.1-20.5h0.9m-6 3h0.9m39.5 9.9h0.9m-41.7 5.5h0.9m9.7-25.5h0.9m9.2-9h0.9m-9.8 32.3h0.9m7.6-15.7h0.9m-16.8 0.8h0.9m11.2-21.3h0.9m14.4 55.3h0.9m-30.1-1.9h0.9m42.5-6.9h0.9m-1.1-4.4h0.9m-31.5-20.5h0.9m1.2-6.8h0.9m1.2 24.8h0.9m-10.5-14.8h0.9m5.9 16.7h0.9m-31.3-28.9h0.9m8.3 10.9h0.9m13.9-6.4h0.9m-3.5 14.8h0.9m9.7 27.7h0.9m7.5-40.2h0.9m-22.7 6.3h0.9m15.4 2.9h0.9m-31.1-42.1h0.9m9 54.1h0.9m10.6 5.5h0.9m-12.3-35.8h0.9m-13.8 44.4h0.9m48.6-0.3h0.9m-42.8-25.3h0.9m15.3 17.2h0.9m33.3-46.8h0.9m-53.5 18.1h0.9m23.7 22.5h0.9m4.2-14.3h0.9m-1.5 12.1h0.9m-1.8 1.6h0.9m8.4-15.4h0.9m-1.2 1.2h0.9m-5.8-6.9h0.9m-6.1 24.7h0.9m2.7 7.7h0.9m-16.9-33.9h0.9m18.1 26.3h0.9m-22.6-3.7h0.9m45.1 15h0.9m-5-22.5h0.9m7.2 17h0.9m-34.7-5.3h0.9m-9.3 8.6h0.9m26.3-11.7h0.9m-21.7 10.6h0.9m10.4-14.1h0.9m0 11h0.9m-26.7-5.8h0.9m17.7-22.9h0.9m5.7 31h0.9m-17.3-30.3h0.9m-21.5-8.7h0.9m45.1 22.4h0.9m7.9-0.4h0.9m-31.2-2.9h0.9m-8.5-16.8h0.9m-20.3-2.4h0.9m25-2h0.9m-9.3 10h0.9m-15.4 25.5h0.9m36.5-10.3h0.9m-4.5 18.3h0.9m-20.9-19h0.9m35.2-3.9h0.9m-28.2 10h0.9m2.2 5.8h0.9m-6.3-6.6h0.9m17.6-15.2h0.9m-12-31.4h0.9m-36 34.2h0.9m27.9-13.1h0.9m13.4 21.5h0.9m-35.8 18h0.9m34.4-12.2h0.9m-4.8-3h0.9m-28.7-43h0.9m15.4 57.6h0.9m11.9-16.9h0.9m1-15.6h0.9m-10.2 8.2h0.9m-13.6-49.1h0.9m22.9 80.4h0.9m-11.8-7h0.9m8.9-33.6h0.9m-1.5 33.5h0.9m-8.9-27.2h0.9m-17.4-21.3h0.9m-1.4 17h0.9m38.5-33.8h0.9m-41.4 29.7h0.9m23.6-24.7h0.9m-16.7 40.5h0.9m13.6-5.7h0.9m-42.2-0.1h0.9m7.8-17.9h0.9m38.2 29.5h0.9m-24.8 9.5h0.9m2-5.3h0.9m-9-20h0.9m38.9 22.1h0.9m-39.1-17.1h0.9m12.4-25h0.9m20.6 55.3h0.9m-3-23.8h0.9m-30.5-22.7h0.9m18.2 21h0.9m7.5 1.7h0.9m18.6-6.8h0.9m-36.7 6.2h0.9m18 7.4h0.9m-9.5 15.7h0.9m-40.3-20.6h0.9m37.6 18.5h0.9m-27.3-10.9h0.9m-8.8-31.6h0.9m34.4 35.2h0.9m-6.9-23.6h0.9m-3.9 24.2h0.9m9.6-29.9h0.9m-3.7 38.3h0.9m-61.7-60.2h0.9m71.4 32.8h0.9m-56.3-19h0.9m24.6 15.6h0.9m65.1-13.7h0.9m-76.9-1.3h0.9m29.1 12.8h0.9m-1 6.6h0.9m-8.6-18.3h0.9m-57.3 17.3h0.9m46.6 14.6h0.9m-17.6-43.1h0.9m4.9 11.3h0.9m22.5-83.7h0.9m-23.4 132.5h0.9m58.9-1h0.9m-49.5-82.8h0.9m-19.5 45.3h0.9m14.4 9.9h0.9m43.6-67.7h0.9m-51 49.2h0.9m13.6 20h0.9m-15.6-47.7h0.9m-24.2 14.7h0.9m72.1 31.2h0.9m-115.5 14.2h0.9m54.7 3.7h0.9m8.4-5.1h0.9m1.6-49.3h0.9m11.2 15.1h0.9m-46.7-16h0.9m70.6 58.3h0.9m-57.2-5.5h0.9m-1.9-47.5h0.9m-5.5 58.7h0.9m45.9-0.3h0.9m-68.3-12.3h0.9m49.8 2.5h0.9m39-35.4h0.9m-61.4 8h0.9m-20.1-15.5h0.9m11.7-8.6h0.9m-10 51.9h0.9m41.4-89.3h0.9m-11.1 44.1h0.9m-30.3 26.7h0.9m21.8-33.2h0.9m11.4-18.5h0.9m1.5 36.9h0.9m14.1-36.4h0.9m-7.8 34.6h0.9m-72.2 4.1h0.9m47.3 38.1h0.9m-9.7-82.3h0.9m15.8 45.2h0.9m42.5 8.5h0.9m-49.6-47.3h0.9m44.2 14.8h0.9m-52.1 11.4h0.9m18.7 37.6h0.9m-7.4-19.2h0.9m3.6 34.1h0.9m-16-90.5h0.9m49.3 60.3h0.9m-26.9-20.5h0.9m18-34.8h0.9m-44.5 55.7h0.9m4.6-39.9h0.9m-56.5 70.6h0.9m37.7-15.6h0.9m39.5-30.7h0.9m55.1-34.4h0.9m-111.5 10.5h0.9m75.1 59.5h0.9m-76.5-34.2h0.9m0.4-21.5h0.9m29.9 44.3h0.9m13 4.2h0.9m-25.7 14.4h0.9m17.2-56.3h0.9m2.2 24.6h0.9m11.6-23.6h0.9m-35.6-16.8h0.9m-34.6-14.7h0.9m70.2 61.3h0.9m-50.8 26.9h0.9m50.9-61.4h0.9m-29.4 44.3h0.9m3.4-21.4h0.9m12.4-23.3h0.9m14.7 32.9h0.9m-67.2-31.7h0.9m37.4 61.4h0.9m38.9-2.6h0.9m-41.6-51.5h0.9m-6-17.6h0.9m6.5 16.2h0.9m-3.2 15.8h0.9m-19 16.5h0.9m11.4-9h0.9m63-25h0.9m-132.1 8.1h0.9m49.4 49.6h0.9m19.4-11.9h0.9m8.8-44.1h0.9m-70.8 9.8h0.9m152.6-7.9h0.9m-85-43.9h0.9m50.2 56.9h0.9m-56.5-31.3h0.9m-9.8 64.7h0.9m4.1-52.3h0.9m-10.2 16.5h0.9m22 44.6h0.9m-3.2-13.6h0.9m14.7-30.2h0.9m-99.2-36.4h0.9m32 55.8h0.9m15.5-54.9h0.9m5.4 68.9h0.9m-8.2-35.2h0.9m44.8-5.3h0.9m-33.6 8.6h0.9m30.5 7h0.9m-5.4-30.3h0.9m-19.7 33.4h0.9m-49.7 15.9h0.9m51.6-40.4h0.9m7.7 3.1h0.9m-3.2 22.3h0.9m-23.6-39.2h0.9m9.7-58.2h0.9m2.3 74.2h0.9m-55.5 45.5h0.9m68-55.3h0.9m10.2-91.1h0.9m-1.1 141.4h0.9m-18.4 5.6h0.9m-14.1-34.4h0.9m-6.6-7.3h0.9m-27-48.6h0.9m-33.7 59.3h0.9m60.1-66.4h0.9m-0.2 67.7h0.9m58.8-81.1h0.9m-76.8 34h0.9m66.9 6.3h0.9m-57.6 60.6h0.9m19.9-34.8h0.9m5.6-25.3h0.9m3.5 25.1h0.9m-36.5 37.3h0.9m10.2-91.4h0.9m9.5 21.7h0.9m-22.2 43h0.9m55.9-37.4h0.9m36.4 30.3h0.9m-64.9 17.6h0.9m-1.3 0.1h0.9m15.6-65h0.9m-27.2 81.5h0.9m-19.4 14.7h0.9m40.6-75.5h0.9m-10-22.2h0.9m-27.1 97.8h0.9m65.1-70.8h0.9m-18.6 14h0.9m-24.7-30.4h0.9m13.7 68.5h0.9m-72.5 4.7h0.9m24.3-68.3h0.9m71.3 64.3h0.9m-24.4-3.7h0.9m-36.5 16.6h0.9m1-24.9h0.9m-8.3-10.2h0.9m-3 3.2h0.9m39.7-36.6h0.9m31.6 59.5h0.9m-74.3-5.3h0.9m13.9-35.9h0.9m-10.2 42.5h0.9m-16.7-72.8h0.9m46.4 53.5h0.9m-16.1-54.1h0.9m-23.9 61.5h0.9m-10-29.1h0.9m58.8 26.2h0.9m-107.2-11.8h0.9m88.4 10.6h0.9m-15.4-43.1h0.9m0-19.1h0.9m-47.4 80.7h0.9m1.3-17.6h0.9m-1.7-27.8h0.9m82.2 37h0.9m-58.5-41.8h0.9m63 0.7h0.9m-9.6-41.6h0.9m-44.3 55.1h0.9m9.1 1.3h0.9m25.3-14h0.9m-46.2 50.3h0.9m59.3-22.1h0.9m-20.1-26.2h0.9m-36.7 40.8h0.9m13.2-3.3h0.9m-28.2-54.9h0.9m9.6 4.1h0.9m-0.7-14h0.9m31.6 60h0.9m-64.3-31.8h0.9m56.9 21.4h0.9m-47.4 10.5h0.9m6.2-1.5h0.9m-16.6 4.3h0.9m30.2-14h0.9m-7-40h0.9m51.3 23.5h0.9m-59.2-29.6h0.9m57.7 55.7h0.9m10.3 18.8h0.9m-59.2-13.3h0.9m-38.1 18.4h0.9m74-92.4h0.9m-1.3 69.2h0.9m9.4-38.3h0.9m-43 54.8h0.9m11.2-16.6h0.9m-24.3-38.3h0.9m-2.2 42.7h0.9m22.1-64.8h0.9m23.9 83h0.9m-8.9-10.9h0.9m10-95.5h0.9m-74.2 44.1h0.9m114.8-7.5h0.9m-113.7 55.6h0.9m32.4-40.5h0.9m8 44.1h0.9m0.3-52.9h0.9m22.5 11.4h0.9m-58.7 24h0.9m35.7 22.8h0.9m10.2-41.9h0.9m14.2 39.7h0.9m-46.2 3h0.9m11.9-86.5h0.9m-5.3 73.2h0.9m19.2-120.7h0.9m-0.7 75.6h0.9m-21.8 48.6h0.9m1.4 3.1h0.9m-33.2-37.5h0.9m40.9 48.5h0.9m2.5-26.9h0.9m-38.3 11.7h0.9m-8.7-57.7h0.9m51 18.7h0.9m-32.1 27h0.9m41-61.1h0.9m-34.9 76.8h0.9m-16.2-97.7h0.9m13.9 94.9h0.9m21.9-8.7h0.9m-2-1.3h0.9m-60.8-36h0.9m60 47.6h0.9m-18.5 1.5h0.9m1.7-30.4h0.9m6.4 25.4h0.9m-53.2 0.2h0.9m68.7-2.9h0.9m-1.2-9.8h0.9m-97.6-16.5h0.9m65.7 37.9h0.9m-15-39.9h0.9m-13.9 31.9h0.9m63.2-1.1h0.9m-30.7-7.7h0.9m-24-20.2h0.9m4.2 45.8h0.9m-21.9-18.2h0.9m72.4-40.4h0.9m-93.6 4.7h0.9m76.7-14.9h0.9m-52.7 64.8h0.9m45-50.1h0.9m5.5 42.7h0.9m-45-44.1h0.9m7.2 53.9h0.9m11.1-18.6h0.9m-1.4-11.1h0.9m-43.2-5.4h0.9m31.7 13.5h0.9m-2.5-24.2h0.9m8.2-6.6h0.9m13.6-0.3h0.9m-8.4 20.9h0.9m-12.4 6.2h0.9m8-50.7h0.9m-28-17h0.9m58.7 81.1h0.9m-22.3-48.7h0.9m-22.1-6.2h0.9m33 67.9h0.9m-44.7-9.3h0.9m43.2-0.3h0.9m12-54.6h0.9m-17.5 66.9h0.9m23.5-2.7h0.9m-40.7-31h0.9m24.2-94.6h0.9m-5.8 61.3h0.9m-13-27.4h0.9m-73.2 33.5h0.9m50.6 40.8h0.9m17.5 14.8h0.9m-21.7-20.9h0.9m11.8 16.4h0.9m-19.9-45.6h0.9m49.6 47.6h0.9m22.5-4.7h0.9m-51.7 13h0.9m-0.3-50.6h0.9m-13.7 41.3h0.9m-39.5-51.2h0.9m-9.8 33.4h0.9m83.4 23.3h0.9m20.8-27.2h0.9m-70.7-6.9h0.9m5.8 24.3h0.9m23.5-0.5h0.9m14.3-28h0.9m-35.3 0.1h0.9m-10.3-27h0.9m-6.7 51h0.9m31.5-95.5h0.9m-8.6 59.7h0.9m-38.9 31.8h0.9m20.8 13.6h0.9m31.7-97.3h0.9m7.5 90.4h0.9m-89.3-50.4h0.9m93.5 14.7h0.9m-26.9-6.6h0.9m-8 44.4h0.9m2.3-66.6h0.9m42.6 30.8h0.9m-57.9-45h0.9m-41.9 57.7h0.9m15.9-40.7h0.9m6-1h0.9m53.8 72.5h0.9m-62.4-68.2h0.9m5.4 67.5h0.9m73.1-2.4h0.9m-66-77.6h0.9m-6.3 45.3h0.9m0.2-14.8h0.9m20.1 21.4h0.9m-7 34.8h0.9m-9.9-77.5h0.9m36.4 59.8h0.9m15.4 10.5h0.9m-51.4-55.2h0.9m34.4 46.5h0.9m-50.2-66.5h0.9m33.2 11.7h0.9m-11.2 23.1h0.9m-56 2.1h0.9m-5.3 43.1h0.9m13.4-58.1h0.9m47.7-5.5h0.9m-63.4 11.6h0.9m57.4-1.7h0.9m-71 49.4h0.9m35.8-7.8h0.9m32.4-63.6h0.9m-6.3 66.4h0.9m-0.9-62h0.9m21.6 13.3h0.9m15.7 25.4h0.9m20.3-36.1h0.9m-123-0.2h0.9m31.1 41.2h0.9m17.2-16.7h0.9m1.6 19.4h0.9m-3.9 10.6h0.9m63.1 11h0.9m21.5-25.7h0.9m-125.1-5h0.9m33-23.2h0.9m-51.9-8.9h0.9m139.3 67.7h0.9m-58.4-61.4h0.9m13.2 13.6h0.9m-31.6-28.6h0.9m43-15.6h0.9m-38.1 11.9h0.9m0.4 67.7h0.9m14.6-28.3h0.9m-18.8 14.9h0.9m-16.2 1.2h0.9m-3.2-1.1h0.9m51.8-76h0.9m-32.9 47.9h0.9m-28.8-7h0.9m52.8-10h0.9m-85.4 18.1h0.9m31.7 47.9h0.9m21.6-68.8h0.9m-50.4 28.2h0.9m58.5-37.7h0.9m4.6 26.1h0.9m16.3 28.9h0.9m-27-35.3h0.9m-28.3 53h0.9m-35.4-53h0.9m48.7 3.5h0.9m-1 56.4h0.9m-45.5-51.3h0.9m58.6-22.3h0.9m-24.2 75.4h0.9m2.7-45.8h0.9m39.4-50.6h0.9m-3.7 32.4h0.9m-4.5-26.1h0.9m-55.5 73h0.9m1-0.2h0.9m75-5.5h0.9m-92-60.3h0.9m42.4 85.8h0.9m21.6-32.6h0.9m-80.1 5.8h0.9m66.4-55.9h0.9m20.8 63.7h0.9m-39.5 18h0.9m20.7-95.4h0.9m23.2 2.9h0.9m-19.5 32.7h0.9m-36.9 2.8h0.9m37.7-5.2h0.9m0.8 6.4h0.9m-32.9 1h0.9m11.4 22.7h0.9m16.7-34.6h0.9m-6 23.5h0.9m0.5 9.2h0.9m-45-14.2h0.9m8.6 30.2h0.9m-3.8-64.9h0.9m52.1 13.5h0.9m-37.2 63.8h0.9m-1.7-17.4h0.9m18.5 20.6h0.9m-23.6-5.8h0.9m26.5-47.9h0.9m-50.4-12.2h0.9m103.6 60.9h0.9m-88.3-37.9h0.9m-21.9-13.1h0.9m13.4 13.1h0.9m10.2-33.1h0.9m-22.9 61.2h0.9m72.8-22h0.9m15.9-45.3h0.9m-56.3 26.8h0.9m-29.5 41.2h0.9m2.9-45.1h0.9m-15.9 39.9h0.9m33.3-53.3h0.9m-9.8 29.9h0.9m4.8-41.5h0.9m-59.6 24.3h0.9m69.5-8.3h0.9m-80.9 22.6h0.9m94.3-17.7h0.9m51.4 10.5h0.9m-117 36.4h0.9m70.4-18.9h0.9m-7.5 1.8h0.9m-72.2-55.3h0.9m36 31.3h0.9m28.5 38.5h0.9m-44-23.3h0.9m87.9-4.8h0.9m-34-9.4h0.9m-69.2 55.2h0.9m58.6-9.3h0.9m-37.3-18.4h0.9m-24.4-4.7h0.9m25.5-4.9h0.9m-47.3-20.8h0.9m66.3 17.3h0.9m-4.8-85.5h0.9m-46.2 92.2h0.9m70.4-11.1h0.9m-32-19.6h0.9m-29.7 47.6h0.9m101-21.6h0.9m2.4-4.9h0.9m-77.7-21.4h0.9m20.6 64.1h0.9m-49.9-27.8h0.9m11.6 14.8h0.9m59.4-33h0.9m6.3 3.6h0.9m-60.6 22.9h0.9m72-74.6h0.9m-141.4 65.2h0.9m101.6-33.3h0.9m-53.6-58.3h0.9m49.3 81h0.9m59.7 27.4h0.9m-73.8-16.4h0.9m46.8-44.7h0.9m-55 18.8h0.9m-6.8 34.3h0.9m4.1-24.2h0.9m-23 9.3h0.9m99.5-22.8h0.9m-51.2 33.7h0.9m34.1 20.5h0.9m-107-34h0.9m83.6 25.3h0.9m0.2 2.1h0.9m-22.2-9.6h0.9m-40.2 10.1h0.9m-3.1-26.4h0.9m-2.9 17h0.9m26.6 6.1h0.9m-6.7-8.3h0.9m-17-27.8h0.9m4.3-39.7h0.9m6.1 24.6h0.9m-69.7 9.8h0.9m29.7 32h0.9m48.5 23.5h0.9m1.3-30.7h0.9m-0.9 6.7h0.9m-52.6-72.5h0.9m6 29.9h0.9m26.5 6.3h0.9m7.5 39.4h0.9m23.3-35.2h0.9m17.9 45.5h0.9m-62.7 11.3h0.9m33.4-1.8h0.9m-20.7-33.2h0.9m-31.5-0.2h0.9m4.2-72.5h0.9m56 84.4h0.9m-44.5 21.5h0.9m2.2-53.2h0.9m-62.8-10.6h0.9m110.8-20.5h0.9m-89.5 53.5h0.9m63.3-3.7h0.9m1.5 35.7h0.9m66.9-44.5h0.9m-115.6-58.1h0.9m41.6 79.9h0.9m-34.4-13.7h0.9m69.1-30.2h0.9m-20 67.3h0.9m-79.9-23.5h0.9m-5.3-4.1h0.9m68.4 5.7h0.9m-50.7 18.2h0.9m45-55.7h0.9m-12.2-0.8h0.9m-33.2 49.5h0.9m42.4-56.2h0.9m51.2 65.9h0.9m-108.4-5.6h0.9m4.8-96.2h0.9m58.9 54.5h0.9m-31.5-68h0.9m30.6 112.6h0.9m-65.5-57.4h0.9m43 18.8h0.9m23.2-32.2h0.9m-23.7 47.6h0.9m14.6-18.2h0.9m0 41.9h0.9m28.1-12.4h0.9m-68.1-41.2h0.9m35.8-1.8h0.9m-46.4 18.2h0.9m-22.4-2h0.9m46.3 26.9h0.9m-17.5-43.9h0.9m-2 53.2h0.9m13.8-8.8h0.9m50.6-53.6h0.9m-42.2 59.4h0.9m-68.9-1.4h0.9m7.6-37.8h0.9m58.4 22.3h0.9m26.4 0.6h0.9m-64.2-59h0.9m33.1 68.8h0.9m29-62.3h0.9m-34.1-6.9h0.9m-14.7 66.6h0.9m37.3-2.4h0.9m-51.5-12.6h0.9m7.8 9h0.9m44.4-18.3h0.9m26.8 8h0.9m-92.6-16.6h0.9m53.3-24.7h0.9m25 7h0.9m-17.6-13.9h0.9m-20.5 31.6h0.9m31.1 10h0.9m-100.6-50.8h0.9m19 89.9h0.9m48.8-26.6h0.9m-8.1-21.5h0.9m4.3-29.4h0.9m24.6 2.3h0.9m-12.1-0.7h0.9m-41.2 49.4h0.9m-56.4 8.1h0.9m33.7 15.5h0.9m33.6-33.6h0.9m45.9-43.2h0.9m-23.5 77.3h0.9m-69.8-58.2h0.9m35.2 62.4h0.9m-28.4-36.5h0.9m47.9 27.2h0.9m-58.2-26.6h0.9m20.6 7.6h0.9m52.2-0.7h0.9m-30.5 12h0.9m-51.4-12.8h0.9m84.9-33.1h0.9m-0.3 14.4h0.9m-9.3 47.9h0.9m-43-17.7h0.9m33.6-17.4h0.9m18.4-71.1h0.9m-43.5 58.5h0.9m0.6 15.2h0.9m5.3-44.5h0.9m-71.2 68.7h0.9m93.2-68.2h0.9m-20 72.4h0.9m12.4-50.2h0.9m-28.2-18.7h0.9m-1.7-3.7h0.9m28.5 9.9h0.9m-43.4 52.7h0.9m-2.3-16.9h0.9m39.4 28h0.9m-35.3-133.2h0.9m27.3 37.5h0.9m-38.6 87.9h0.9m-4.7-27.8h0.9m28 27.7h0.9m-3-60.8h0.9m46.2 15.6h0.9m-51.6 58.6h0.9m35.4-29.3h0.9m-9-9.1h0.9m-39.4 15.1h0.9m5.5-0.4h0.9m23.9-37h0.9m-28.7-8.3h0.9m-33.8 25.1h0.9m35.5 35.4h0.9m-22.5-38.3h0.9m29.4 16h0.9m-0.2 25.3h0.9m-37.3-62.2h0.9m0.8 54.8h0.9m60.4 2.1h0.9m-57.4 11.7h0.9m37.2 0.1h0.9m-16.3-55.1h0.9m-17.3 38.9h0.9m66.9-6.1h0.9m-64.4-2.5h0.9m-32.9-26.8h0.9m70.1 27.4h0.9m-50.8-11.6h0.9m70.1 5h0.9m-44.7 29.9h0.9m-7.9-49.6h0.9m-22.2 42.3h0.9m31.5 5.6h0.9m-22.5-17.2h0.9m-46-41.8h0.9m73.7 52.6h0.9m-36-107.2h0.9m-11.5 73.8h0.9m2.4-51.8h0.9m32 62.8h0.9m63.5 30.9h0.9m-72.5-8h0.9m-23.7-99.5h0.9m32.9 104h0.9m-29.6-69.8h0.9m-17.3-4.1h0.9" stroke="#2a2a2a" stroke-width="0.9" stroke-opacity="0.22" fill="none"/>
<path d="M577.6 391.1h0.9m-16.3 13.5h0.9m37.4 1.1h0.9m-29.8-32h0.9m-2.4-92.9h0.9m84.8-44.6h0.9m52.8 69.4h0.9m-170.5-23.4h0.9m125.6 65.3h0.9m-9.4-51.9h0.9m-14.4 94.9h0.9m18.6-94.3h0.9m-34.4 0.7h0.9m75.5 69.5h0.9m-141.2-30.8h0.9m56.6-61.1h0.9m31.9 76.9h0.9m45.7-20.8h0.9m-77.7-83.7h0.9m88.4 66.3h0.9m-59.4 82.4h0.9m6.9-129h0.9m20.8 37h0.9m-16.3-25.3h0.9m-39.4 47.6h0.9m44.7 80h0.9m-135.4-121.5h0.9m162.8 95.5h0.9m-20.9 1h0.9m-34.7-105.7h0.9m-104.8 93.7h0.9m40.4 39.3h0.9m-8.4-6.2h0.9m-0.3-63.6h0.9m74.9-82.8h0.9m36.3-5.9h0.9m-36.4 26.9h0.9m-54.4 61h0.9m105.1-39.2h0.9m-20.4 57.1h0.9m-33.2 16.2h0.9m-53.5-110.9h0.9m51.4 132.3h0.9m-51.2-154.1h0.9m-47.1 37.2h0.9m83.7 100.4h0.9m13.6-115.2h0.9m-64.6 6.7h0.9m105 137.9h0.9m-14.6-11.6h0.9m-50.4-18.2h0.9m-96.3-116.6h0.9m-8.8 14.9h0.9m112.8-3.7h0.9m30.8-8.4h0.9m-58.1 142.6h0.9m-87.9-146.8h0.9m21.2 106h0.9m11.3-127h0.9m75.1 89.9h0.9m-26.8-86.3h0.9m-70.9-1.6h0.9m72 30.7h0.9m66.2 126.9h0.9m-79.5-52.3h0.9m-53.7 2.3h0.9m77.3-64.6h0.9m63.2 77.8h0.9m-149.3-7.7h0.9m6.4-40.1h0.9m74 40.3h0.9m-42.3 33.7h0.9m100.5 17h0.9m-34.2 6.6h0.9m-104.2-92.8h0.9m131.2-83.1h0.9m-42.6 35.8h0.9m-28-5.9h0.9m-44.2 18.9h0.9m70.9 11h0.9m44.5 56.2h0.9m-157.9-26.1h0.9m60.6 22.7h0.9m101.4 58.8h0.9m-101.8-168.4h0.9m-64.3-6.4h0.9m11.1 118.9h0.9m106.7-21.8h0.9m0.8-11.6h0.9m-107.7 67.6h0.9m18.1-126.7h0.9m62 75.7h0.9m21.5 65.4h0.9m-97.6-88.7h0.9m53.8 24.4h0.9m18.4-93h0.9m-94.4 50.9h0.9m30.8-56.1h0.9m126 96.9h0.9m-8 3.3h0.9m-102.6 65.7h0.9m98.6-57h0.9m-43.9-116h0.9m62.8 151.6h0.9m-3.7-91.9h0.9m-64.6 70.2h0.9m-28.1-82.2h0.9m-60.3 90.5h0.9m69.9 30.6h0.9m-25-154.8h0.9m44.2 84.8h0.9m-102.4-0.7h0.9m135.2-46.3h0.9m23.2 10.1h0.9m-139.2 61h0.9m76.4-70h0.9m30-47.8h0.9m-46.1 134.8h0.9m68.6-26.3h0.9m-78.2-68.4h0.9m-44.9 129.8h0.9m35.8-11.5h0.9m2 12h0.9m-43.6-82.5h0.9m96.4-50.6h0.9m-31.8-11.2h0.9m-46 141.4h0.9m8.5-10.5h0.9m-10.1-27.4h0.9m13-42h0.9m13.8-23h0.9m-36.9 58.2h0.9m88-126.7h0.9m19.2 94h0.9m-74.9 28.2h0.9m33.5 13.7h0.9m39.1-55.3h0.9m-135.7 53.7h0.9m-1.3-118.5h0.9m-22.2 25.1h0.9m66.5-16.2h0.9m-21.2 35.6h0.9m41 0.8h0.9m-20.9 5.4h0.9m-48.5 16.8h0.9m35.8-5.4h0.9m-67 9.9h0.9m91.9 47.8h0.9m-49.5-111.4h0.9m-29.9 38.1h0.9m-9.4-64h0.9m117.5 5.2h0.9m-86.2 105.5h0.9m74.2 49.2h0.9m27.7-104.1h0.9m-58.5 17.5h0.9m-67.8-35h0.9m87-12.2h0.9m-100 135.2h0.9m135.1-56.9h0.9m-11 24.2h0.9m-66.5 32.3h0.9m-25.2-53.5h0.9m79.5-74.5h0.9m-26.9 97.3h0.9m-77.9 6.3h0.9m111.2-61h0.9m-78.5 37.1h0.9m101.2-24.2h0.9m-12.6-27.6h0.9m-102 61.9h0.9m-4.6-77.5h0.9m25.1 14.6h0.9m73.3 14.2h0.9m-123.9 38.2h0.9m33 43.3h0.9m61.7-43.3h0.9m-115.1 20.3h0.9m3.2-79.1h0.9m128 53.8h0.9m-44.7-88.2h0.9m5.6 65.5h0.9m-57.3 41.4h0.9m50.8-93.1h0.9m1.5 131.8h0.9m-24.9-88.5h0.9m99.6 46.4h0.9m-167.9-36.7h0.9m65.8 47.8h0.9m79.9-27h0.9m-119.8-84.2h0.9m132.1 146.4h0.9m-93.8-48.3h0.9m-50-34.3h0.9m-12.5 37.3h0.9m41.8-75.9h0.9m107.2 92.7h0.9m2.7-65.3h0.9m-69.5 71.9h0.9m-82.1-96.9h0.9m60.8 94.2h0.9m-8 21.3h0.9m-34.9 13.5h0.9m-29.2-37.3h0.9m54.8-13.2h0.9m-2.6-33.6h0.9m59.7-75.6h0.9m-57.5 82.9h0.9m-70.4 0.6h0.9m0.4-91h0.9m120.9 114.2h0.9m-5.8-98.8h0.9m-92.2 81.7h0.9m127.9-22.6h0.9m-38.1 73.4h0.9m-93.7-117.3h0.9m23.5-11.2h0.9m124.3 69.4h0.9m-104.2-16.6h0.9m-32.1-54.6h0.9m51.6 82.6h0.9m-59.1 53.3h0.9m106.1-30.2h0.9m-0.4-96.9h0.9m0.3 5.3h0.9m-34.4 58.3h0.9m13.1 21.8h0.9m-68.9 55.1h0.9m100.8-159.6h0.9m-135 80.6h0.9m19.2 80.5h0.9m133.9-160h0.9m-6.8 157.3h0.9m-83.6-93.2h0.9m-2.4 46.6h0.9m-70.7-53.3h0.9m98.2 75.9h0.9m-115.6 12.3h0.9m50.8-135.4h0.9m18.1 106h0.9" stroke="#555" stroke-width="0.6" stroke-opacity="0.35" fill="none"/>
<path d="M617.4 226.7 616.7 300 615.4 360" stroke="#f5a033" stroke-width="1.0" fill="none" stroke-linejoin="round" stroke-linecap="round"/>
<circle cx="617" cy="259.7" r="1.45" fill="#f5a033"/><circle cx="616.8" cy="273" r="1.45" fill="#f5a033"/><circle cx="616.7" cy="282.7" r="1.45" fill="#f5a033"/><circle cx="616.6" cy="291.5" r="1.45" fill="#f5a033"/><circle cx="616.5" cy="299.6" r="1.45" fill="#f5a033"/><circle cx="616.4" cy="306.4" r="1.45" fill="#f5a033"/><circle cx="616.3" cy="312.6" r="1.45" fill="#f5a033"/><circle cx="616.2" cy="318" r="1.45" fill="#f5a033"/><circle cx="616.2" cy="322.7" r="1.45" fill="#f5a033"/><circle cx="616.1" cy="327.8" r="1.45" fill="#f5a033"/><circle cx="616.1" cy="332.2" r="1.45" fill="#f5a033"/><circle cx="616" cy="336.3" r="1.45" fill="#f5a033"/><circle cx="616" cy="340.1" r="1.45" fill="#f5a033"/><circle cx="615.9" cy="343.4" r="1.45" fill="#f5a033"/><circle cx="615.9" cy="346.6" r="1.45" fill="#f5a033"/><circle cx="615.9" cy="349.6" r="1.45" fill="#f5a033"/><circle cx="615.8" cy="352.6" r="1.45" fill="#f5a033"/><circle cx="615.8" cy="355.7" r="1.45" fill="#f5a033"/><circle cx="615.7" cy="358.6" r="1.45" fill="#f5a033"/>
<path d="M634.6 226.7 639.9 264.2" stroke="#f5a033" stroke-width="0.9" fill="none" stroke-linejoin="round" stroke-linecap="round"/>
<circle cx="635.3" cy="232" r="0.8" fill="#f5a033"/><circle cx="636" cy="236.5" r="0.8" fill="#f5a033"/><circle cx="636.6" cy="241" r="0.8" fill="#f5a033"/><circle cx="637.3" cy="245.5" r="0.8" fill="#f5a033"/><circle cx="637.9" cy="250" r="0.8" fill="#f5a033"/><circle cx="638.5" cy="254.5" r="0.8" fill="#f5a033"/><circle cx="639.2" cy="259" r="0.8" fill="#f5a033"/><circle cx="639.8" cy="263.5" r="0.8" fill="#f5a033"/>
<path d="M615.2 362 614.3 398.7" stroke="#4ae8f4" stroke-width="2.3" fill="none" stroke-linejoin="round" stroke-linecap="round"/>
<circle cx="614.2" cy="398.5" r="2.0" fill="#4ae8f4"/>
<path d="M641 266 648 300 650.8 320 651.8 327.6 676.5 327.6" stroke="#4ae8f4" stroke-width="1.5" fill="none" stroke-linejoin="round" stroke-linecap="round"/>
<path d="M671 226.7 673 240 676 257 689 258.5 702 261" stroke="#4ae8f4" stroke-width="1.5" fill="none" stroke-linejoin="round" stroke-linecap="round"/>
<path d="M641.8 226.7 641.3 237.7 641.5 244 643 242 641 250 643 248 640.5 262 639.5 275 639.3 287 640.2 292 640.2 310 639.3 318 637.2 320.5 634.5 323.5" stroke="#2540f2" stroke-width="1.2" fill="none" stroke-linejoin="round" stroke-linecap="round"/>
<path d="M641.8 227.2 646.7 227.2 652.6 232 658.5 239" stroke="#2540f2" stroke-width="1.2" fill="none" stroke-linejoin="round" stroke-linecap="round"/>
<path d="M656.5 264.2L646 264.2" stroke="#222" stroke-width="1.2"/><path d="M640.5 264.2L646 261.4L646 267Z" fill="#222"/>
<text x="660" y="268.2" font-size="10.2" fill="#c4703a" textLength="19.8" lengthAdjust="spacingAndGlyphs" font-weight="bold">z=15</text>
<path d="M628.7 373.7L620.6 364.4" stroke="#222" stroke-width="1.2"/><path d="M617 360.2L622.7 362.5L618.5 366.2Z" fill="#222"/>
<text x="629.1" y="382.6" font-size="10.2" fill="#c4703a" textLength="19.2" lengthAdjust="spacingAndGlyphs" font-weight="bold">z=15</text>
<path d="M662.4 233.8V290.6M632.6 284.3V320.8M627.4 320.8H637.2M619.8 301.7H625.8" stroke="#f0a0a0" stroke-width="0.9" fill="none"/>
<path d="M647.9 255.3V296.4M645.5 296.8H651.3" stroke="#f5b5b5" stroke-width="2.2" fill="none"/>
<path d="M622.5 301.7V283" stroke="#e8332b" stroke-width="0.9" fill="none"/>
<path d="M622.5 279.5L621 283.5H624Z" fill="#e8332b"/>
<circle cx="622.5" cy="301.7" r="1.1" fill="#e8332b"/>
<circle cx="662.4" cy="243.2" r="3.4" fill="#e8332b"/>
<circle cx="662.4" cy="274.5" r="1.2" fill="#e8332b"/>
<circle cx="647.3" cy="271.4" r="2.8" fill="#e8332b"/>
<circle cx="632.6" cy="293.6" r="3.0" fill="#e8332b"/>
<circle cx="632.6" cy="297.4" r="1.5" fill="#e8332b"/>
<path d="M685.4 290.6h4.1v4.1h-4.1ZM696.6 291.9h4.1v4.1h-4.1ZM679.6 307.6h4.1v4.1h-4.1ZM689 310.6h4.1v4.1h-4.1ZM674.5 321.6h4.1v4.1h-4.1ZM682 325.1h4.1v4.1h-4.1ZM668.9 333.1h4.1v4.1h-4.1ZM675.1 336.6h4.1v4.1h-4.1ZM682.2 341.2h4.1v4.1h-4.1ZM662 342.2h4.1v4.1h-4.1ZM667 344.8h4.1v4.1h-4.1ZM673.1 347.6h4.1v4.1h-4.1ZM661.4 349.9h4.1v4.1h-4.1ZM657.2 349.9h4.1v4.1h-4.1ZM653.2 349.9h4.1v4.1h-4.1ZM648.2 350.3h4.1v4.1h-4.1ZM599.7 352.9h4.1v4.1h-4.1ZM596.7 355.1h4.1v4.1h-4.1ZM607.1 352.1h4.1v4.1h-4.1ZM602.2 356.8h4.1v4.1h-4.1ZM609.7 356.4h4.1v4.1h-4.1ZM596.7 358.6h4.1v4.1h-4.1ZM605.4 360.3h4.1v4.1h-4.1ZM601.5 361.2h4.1v4.1h-4.1ZM612.2 360.8h4.1v4.1h-4.1ZM597.6 362.1h4.1v4.1h-4.1ZM598 365.1h4.1v4.1h-4.1ZM598.9 368.1h4.1v4.1h-4.1ZM599.7 370.8h4.1v4.1h-4.1ZM620.6 353.8h4.1v4.1h-4.1ZM620.6 357.2h4.1v4.1h-4.1ZM621.5 360.8h4.1v4.1h-4.1ZM635 351.6h4.1v4.1h-4.1ZM633.2 355.9h4.1v4.1h-4.1ZM632.8 359.1h4.1v4.1h-4.1ZM643.7 354.2h4.1v4.1h-4.1ZM645.8 351.6h4.1v4.1h-4.1Z" stroke="#74cf63" stroke-width="0.85" fill="none"/>
<text x="542.2" y="246.6" font-size="12.4" fill="#e8332b" textLength="85.8" lengthAdjust="spacingAndGlyphs" stroke="#e8332b" stroke-width="0.1">F200W dropout</text>
<text x="545.0" y="391.8" font-size="12.4" fill="#74cf63" textLength="16.2" lengthAdjust="spacingAndGlyphs" stroke="#74cf63" stroke-width="0.2">BD</text>
<text x="545.0" y="406.5" font-size="12.4" fill="#2540f2" textLength="69.9" lengthAdjust="spacingAndGlyphs" stroke="#2540f2" stroke-width="0.25">Mid-z old glx</text>
<rect x="536.6" y="226.9" width="184.5" height="184.5" fill="none" stroke="#8a8a8a" stroke-width="1.35"/>
<path d="M541.2 411.4v-2.1M541.2 226.9v2.1M536.6 406.8h2.1M721.1 406.8h-2.1M545.8 411.4v-2.1M545.8 226.9v2.1M536.6 402.2h2.1M721.1 402.2h-2.1M550.4 411.4v-2.1M550.4 226.9v2.1M536.6 397.6h2.1M721.1 397.6h-2.1M555.1 411.4v-2.1M555.1 226.9v2.1M536.6 392.9h2.1M721.1 392.9h-2.1M559.7 411.4v-2.1M559.7 226.9v2.1M536.6 388.3h2.1M721.1 388.3h-2.1M564.3 411.4v-2.1M564.3 226.9v2.1M536.6 383.7h2.1M721.1 383.7h-2.1M568.9 411.4v-2.1M568.9 226.9v2.1M536.6 379.1h2.1M721.1 379.1h-2.1M573.5 411.4v-2.1M573.5 226.9v2.1M536.6 374.5h2.1M721.1 374.5h-2.1M578.1 411.4v-2.1M578.1 226.9v2.1M536.6 369.9h2.1M721.1 369.9h-2.1M582.7 411.4v-3.6M582.7 226.9v3.6M536.6 365.3h3.6M721.1 365.3h-3.6M587.3 411.4v-2.1M587.3 226.9v2.1M536.6 360.7h2.1M721.1 360.7h-2.1M592 411.4v-2.1M592 226.9v2.1M536.6 356h2.1M721.1 356h-2.1M596.6 411.4v-2.1M596.6 226.9v2.1M536.6 351.4h2.1M721.1 351.4h-2.1M601.2 411.4v-2.1M601.2 226.9v2.1M536.6 346.8h2.1M721.1 346.8h-2.1M605.8 411.4v-2.1M605.8 226.9v2.1M536.6 342.2h2.1M721.1 342.2h-2.1M610.4 411.4v-2.1M610.4 226.9v2.1M536.6 337.6h2.1M721.1 337.6h-2.1M615 411.4v-2.1M615 226.9v2.1M536.6 333h2.1M721.1 333h-2.1M619.6 411.4v-2.1M619.6 226.9v2.1M536.6 328.4h2.1M721.1 328.4h-2.1M624.2 411.4v-2.1M624.2 226.9v2.1M536.6 323.8h2.1M721.1 323.8h-2.1M628.9 411.4v-3.6M628.9 226.9v3.6M536.6 319.1h3.6M721.1 319.1h-3.6M633.5 411.4v-2.1M633.5 226.9v2.1M536.6 314.5h2.1M721.1 314.5h-2.1M638.1 411.4v-2.1M638.1 226.9v2.1M536.6 309.9h2.1M721.1 309.9h-2.1M642.7 411.4v-2.1M642.7 226.9v2.1M536.6 305.3h2.1M721.1 305.3h-2.1M647.3 411.4v-2.1M647.3 226.9v2.1M536.6 300.7h2.1M721.1 300.7h-2.1M651.9 411.4v-2.1M651.9 226.9v2.1M536.6 296.1h2.1M721.1 296.1h-2.1M656.5 411.4v-2.1M656.5 226.9v2.1M536.6 291.5h2.1M721.1 291.5h-2.1M661.1 411.4v-2.1M661.1 226.9v2.1M536.6 286.9h2.1M721.1 286.9h-2.1M665.8 411.4v-2.1M665.8 226.9v2.1M536.6 282.2h2.1M721.1 282.2h-2.1M670.4 411.4v-2.1M670.4 226.9v2.1M536.6 277.6h2.1M721.1 277.6h-2.1M675 411.4v-3.6M675 226.9v3.6M536.6 273h3.6M721.1 273h-3.6M679.6 411.4v-2.1M679.6 226.9v2.1M536.6 268.4h2.1M721.1 268.4h-2.1M684.2 411.4v-2.1M684.2 226.9v2.1M536.6 263.8h2.1M721.1 263.8h-2.1M688.8 411.4v-2.1M688.8 226.9v2.1M536.6 259.2h2.1M721.1 259.2h-2.1M693.4 411.4v-2.1M693.4 226.9v2.1M536.6 254.6h2.1M721.1 254.6h-2.1M698 411.4v-2.1M698 226.9v2.1M536.6 250h2.1M721.1 250h-2.1M702.7 411.4v-2.1M702.7 226.9v2.1M536.6 245.3h2.1M721.1 245.3h-2.1M707.3 411.4v-2.1M707.3 226.9v2.1M536.6 240.7h2.1M721.1 240.7h-2.1M711.9 411.4v-2.1M711.9 226.9v2.1M536.6 236.1h2.1M721.1 236.1h-2.1M716.5 411.4v-2.1M716.5 226.9v2.1M536.6 231.5h2.1M721.1 231.5h-2.1" stroke="#1a1a1a" stroke-width="1.1" fill="none"/>
<text x="536.6" y="435" font-size="12.2" fill="#111" text-anchor="middle">-2</text>
<text x="582.7" y="435" font-size="12.2" fill="#111" text-anchor="middle">-1</text>
<text x="628.9" y="435" font-size="12.2" fill="#111" text-anchor="middle">0</text>
<text x="675" y="435" font-size="12.2" fill="#111" text-anchor="middle">1</text>
<text x="721.1" y="435" font-size="12.2" fill="#111" text-anchor="middle">2</text>
<text x="530.8" y="411.3" font-size="12.2" fill="#111" text-anchor="end">-1</text>
<text x="530.8" y="371.1" font-size="12.2" fill="#111" text-anchor="end">0</text>
<text x="530.8" y="324.9" font-size="12.2" fill="#111" text-anchor="end">1</text>
<text x="530.8" y="278.8" font-size="12.2" fill="#111" text-anchor="end">2</text>
<text x="530.8" y="237.5" font-size="12.2" fill="#111" text-anchor="end">3</text>
<g transform="translate(628.9 455.2)"><text x="-31.7" y="0" font-size="14.6" fill="#111">m</text><text x="-18.9" y="3.9" font-size="9.2" fill="#111" textLength="13.5" lengthAdjust="spacingAndGlyphs">356</text><text x="-2.7" y="0" font-size="14.6" fill="#111">-</text><text x="5.5" y="0" font-size="14.6" fill="#111">m</text><text x="16.9" y="3.9" font-size="9.2" fill="#111" textLength="13.6" lengthAdjust="spacingAndGlyphs">444</text></g>
<g transform="translate(504.7 319.8) rotate(-90)"><text x="-31.7" y="0" font-size="14.6" fill="#111">m</text><text x="-18.9" y="3.9" font-size="9.2" fill="#111" textLength="13.5" lengthAdjust="spacingAndGlyphs">200</text><text x="-2.7" y="0" font-size="14.6" fill="#111">-</text><text x="5.5" y="0" font-size="14.6" fill="#111">m</text><text x="16.9" y="3.9" font-size="9.2" fill="#111" textLength="13.6" lengthAdjust="spacingAndGlyphs">356</text></g>
</svg></body></html>
